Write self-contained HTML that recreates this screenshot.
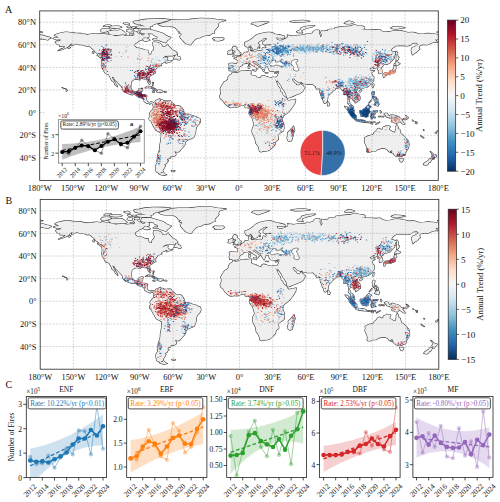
<!DOCTYPE html>
<html><head><meta charset="utf-8"><style>html,body{margin:0;padding:0;background:#fff;width:500px;height:502px;overflow:hidden}svg{display:block}</style></head>
<body><svg width="500" height="502" viewBox="0 0 500 502"><rect width="500" height="502" fill="#fff"/><clipPath id="clip1"><rect x="39.70" y="10.90" width="398.60" height="169.50"/></clipPath><g clip-path="url(#clip1)"><g transform="translate(39.700 10.900) scale(1.10722 1.13000)"><path d="M12.0 24.4L14.0 23.8L17.0 23.5L15.5 22.5L13.2 21.7L14.0 21.1L17.0 20.0L21.0 19.2L23.5 18.7L28.0 19.2L32.0 19.7L37.0 19.9L39.0 20.3L43.0 21.0L45.0 20.7L48.0 20.3L51.0 20.0L53.0 20.2L55.0 20.6L55.5 19.9L58.0 20.2L62.0 20.8L65.0 21.2L68.0 22.2L72.0 21.7L75.0 21.4L78.0 22.2L82.0 21.8L84.0 22.0L85.0 21.5L85.7 20.5L84.5 19.5L85.5 18.0L87.5 18.5L89.0 20.0L91.5 20.5L92.0 21.5L94.0 21.5L95.0 20.2L98.0 20.5L98.5 21.5L98.7 23.0L96.5 23.8L94.0 23.5L93.0 24.7L92.0 25.8L89.5 26.5L89.0 27.2L86.0 29.0L85.5 30.5L85.8 31.2L87.5 32.8L90.0 33.0L92.0 33.5L95.0 34.7L97.7 34.9L97.8 37.1L99.3 38.6L100.7 38.5L101.2 36.0L103.0 34.5L103.3 32.5L102.3 30.5L102.2 29.2L102.5 27.5L106.0 27.7L109.0 28.9L110.5 30.5L110.2 31.2L112.5 31.7L114.0 31.2L115.0 30.2L115.5 29.6L116.5 31.2L118.0 32.5L119.5 34.3L122.5 35.7L124.3 37.7L123.0 38.5L120.0 39.8L116.0 39.8L113.5 40.0L112.0 40.8L109.5 43.0L110.5 42.2L113.5 40.9L115.7 41.2L115.0 42.0L115.2 43.0L116.5 44.2L119.0 44.3L120.0 43.8L118.5 44.9L116.0 45.5L114.2 46.3L113.8 45.5L115.5 44.7L113.2 44.9L112.5 45.5L111.0 46.0L109.5 46.8L109.3 48.0L110.0 48.2L108.5 48.7L106.5 49.1L106.0 49.4L105.8 50.5L105.0 51.2L104.5 52.0L103.8 52.5L104.0 53.5L104.5 54.8L102.5 55.7L101.0 56.8L99.0 58.0L98.6 59.5L99.4 61.5L99.9 63.5L99.5 64.8L98.8 64.7L98.2 63.7L97.3 62.4L97.2 61.0L96.0 60.0L94.5 60.3L92.5 59.7L91.0 59.7L90.7 61.0L89.5 60.8L88.0 60.4L86.5 60.3L85.0 60.7L82.8 62.5L82.5 64.5L82.2 67.5L82.8 69.5L84.0 71.0L85.5 71.8L87.5 71.4L89.0 71.0L89.5 69.0L92.0 68.5L93.0 68.6L92.5 70.5L91.7 72.5L91.5 74.0L94.0 74.1L96.7 75.0L96.5 76.5L96.3 78.5L97.0 80.0L98.5 81.1L99.8 80.8L100.5 80.4L102.0 80.8L102.7 81.4L102.2 82.5L101.5 81.8L100.3 81.5L99.6 82.6L98.5 82.0L96.5 81.6L94.3 80.1L94.3 78.8L92.5 77.0L90.5 76.5L88.5 76.0L87.0 74.5L85.2 73.8L83.5 74.3L81.5 73.7L79.0 72.7L76.5 71.7L74.5 69.5L74.8 68.5L74.0 67.0L71.5 64.5L70.0 62.7L68.0 61.2L67.0 59.0L65.2 58.3L65.8 60.0L67.5 62.5L68.8 64.5L69.7 65.8L70.1 67.1L69.0 65.8L67.8 65.2L67.5 63.5L66.0 62.3L65.0 61.7L64.2 59.6L62.9 57.5L62.5 56.5L61.5 56.0L59.4 55.4L58.1 53.4L57.5 52.2L56.2 50.2L55.7 48.5L55.9 46.5L56.1 43.8L55.3 41.6L57.0 41.8L57.5 42.6L57.3 41.1L56.8 40.5L55.0 39.7L52.5 38.7L52.0 37.5L50.5 36.5L49.7 35.4L48.5 34.2L47.0 33.0L45.5 31.7L44.0 30.9L42.2 31.3L40.2 30.3L38.0 29.9L35.5 29.8L33.5 29.0L31.5 29.5L29.5 30.5L28.2 30.8L29.2 29.2L29.5 28.7L28.0 29.3L26.5 30.7L25.7 31.7L24.0 32.5L21.5 33.7L19.0 34.5L16.5 35.2L18.0 34.3L20.5 33.4L22.3 32.4L23.0 31.2L21.2 31.5L19.5 31.2L18.0 31.4L18.0 30.1L15.5 29.5L14.7 28.5L14.0 27.7L15.2 26.8L17.0 26.9L19.0 26.0L19.0 25.4L17.0 25.4L15.0 25.5L13.5 24.9L12.0 24.4ZM107.0 11.8L114.0 10.0L118.0 8.2L125.0 7.7L135.0 7.5L145.0 6.5L155.0 6.8L160.0 7.7L168.0 8.4L162.0 10.0L161.0 12.0L161.5 13.2L160.0 15.0L158.5 16.5L157.5 18.0L158.0 19.5L156.0 19.7L153.5 21.4L150.0 21.8L147.0 22.4L145.0 23.7L142.0 24.2L140.0 25.5L139.0 26.8L137.5 28.5L136.5 30.0L135.0 29.8L133.0 29.2L131.0 28.2L129.5 26.5L128.5 25.5L127.0 23.8L126.5 22.5L128.5 20.5L125.5 19.6L127.5 18.7L125.0 18.0L124.0 16.5L122.5 15.0L120.0 13.9L116.0 13.7L112.0 13.8L108.5 12.8L107.0 11.8ZM118.5 23.5L117.0 25.0L115.0 26.5L114.5 27.5L113.5 28.2L111.5 27.5L108.5 26.5L106.5 25.5L103.5 25.7L102.0 25.2L103.0 24.5L106.0 24.5L106.5 23.2L105.0 22.5L103.0 21.5L102.0 20.2L99.5 20.0L96.0 20.2L93.0 19.8L90.5 19.0L91.5 17.5L92.0 16.5L95.0 16.4L99.5 16.3L103.0 17.4L107.0 18.4L110.0 19.4L111.5 20.0L113.0 20.8L114.0 21.8L117.0 23.0L118.5 23.5ZM102.0 13.6L99.5 13.7L96.0 13.6L92.0 12.8L90.8 11.7L87.5 9.5L90.0 8.4L95.0 7.5L102.0 7.0L112.0 7.1L118.0 7.7L116.0 8.5L112.0 9.4L109.0 10.4L105.0 11.4L102.0 12.5L102.0 13.6ZM91.2 12.0L88.5 11.8L85.5 11.0L84.2 9.7L87.0 8.7L89.5 9.0L90.5 10.5L91.2 12.0ZM100.0 15.5L96.0 15.6L91.0 15.5L87.7 15.0L87.2 13.8L90.5 13.4L94.0 13.5L98.0 13.6L100.0 14.2L100.0 15.5ZM78.5 20.3L77.0 21.1L74.5 20.8L71.0 21.3L66.5 21.4L64.0 20.7L62.5 20.0L62.5 19.0L61.5 18.4L63.0 17.7L65.5 17.4L68.0 17.1L70.0 17.4L72.0 16.9L73.8 17.0L75.2 17.8L77.0 19.2L78.5 20.3ZM64.2 16.7L62.5 15.8L59.5 15.6L56.2 15.9L54.8 17.5L55.8 18.4L57.8 18.8L60.5 18.3L62.5 17.5L64.2 16.7ZM74.2 14.4L71.5 13.4L68.5 13.4L65.5 13.6L63.0 13.8L62.7 14.5L65.5 15.2L69.0 15.4L71.5 15.1L74.2 14.4ZM83.0 18.4L80.5 18.6L78.5 17.7L78.8 16.7L81.0 16.2L83.0 16.4L83.5 17.4L83.0 18.4ZM89.5 17.5L86.5 18.0L85.0 17.2L85.0 16.1L88.0 15.9L89.5 16.4L89.5 17.5ZM82.5 14.7L79.8 14.8L78.8 13.9L81.5 13.4L82.5 14.7ZM99.5 26.0L97.0 26.7L94.5 26.6L93.0 25.5L93.7 24.2L96.0 23.9L98.0 24.7L99.5 26.0ZM84.0 21.4L81.5 21.2L81.2 20.4L83.5 20.3L84.0 21.4ZM64.5 13.2L61.0 13.8L57.5 13.7L60.0 12.5L63.5 12.5L64.5 13.2ZM81.0 12.2L77.0 11.8L75.5 11.0L79.0 10.5L81.0 11.4L81.0 12.2ZM86.5 15.0L83.5 15.1L83.5 14.1L86.0 14.0L86.5 15.0ZM120.7 42.4L122.0 42.3L124.0 42.4L124.8 43.1L126.4 43.4L127.3 42.5L126.8 41.5L126.5 40.6L124.5 40.2L124.2 38.7L123.4 38.5L122.6 39.4L121.6 41.0L120.7 42.4ZM95.1 68.1L96.5 67.1L98.0 66.8L100.0 67.0L102.0 67.7L104.0 68.9L105.8 69.8L104.5 70.1L102.3 70.1L102.7 69.4L101.5 68.4L99.5 68.0L98.0 67.7L97.0 68.0L95.1 68.1ZM105.6 71.6L107.0 70.1L108.5 70.1L110.0 70.3L111.6 71.4L110.5 71.7L108.7 72.3L107.5 71.8L105.6 71.6ZM101.7 71.6L103.1 71.6L103.8 72.0L102.8 72.2L101.7 71.8L101.7 71.6ZM112.8 71.5L114.4 71.6L114.3 72.0L112.8 72.0L112.8 71.5ZM101.8 63.3L102.8 63.4L102.8 64.1L102.0 63.5L101.8 63.3ZM102.0 64.8L102.4 65.8L102.2 66.2L101.8 65.4L102.0 64.8ZM51.7 39.2L53.0 39.9L54.5 41.1L56.6 41.6L56.0 41.0L54.7 40.0L52.5 39.1L51.7 39.2ZM47.8 36.0L48.8 36.0L48.7 37.6L47.5 37.0L47.8 36.0ZM25.3 32.7L26.8 32.0L27.8 32.4L26.2 33.2L25.3 32.7ZM24.0 69.8L25.0 70.3L24.3 71.1L24.0 70.5L24.0 69.8ZM21.7 68.4L22.4 68.7L21.8 68.7L21.7 68.4ZM20.2 67.8L20.7 67.8L20.5 68.1L20.2 67.8ZM23.3 69.0L24.0 69.2L23.6 69.4L23.3 69.0ZM102.7 81.4L104.0 80.5L104.5 79.5L106.0 78.8L107.5 78.2L108.5 77.6L108.9 78.8L108.4 79.4L108.2 80.8L109.0 80.2L109.5 78.5L110.5 78.5L112.0 79.5L114.0 79.4L116.0 79.3L118.0 79.3L119.0 81.0L120.5 82.0L121.5 83.0L122.5 84.0L125.0 84.1L127.0 84.5L128.5 85.8L130.0 88.2L130.0 90.0L131.5 91.2L135.0 91.5L138.0 92.8L141.0 93.5L142.5 94.6L144.7 95.2L145.2 97.5L144.5 99.5L143.0 101.0L141.5 103.0L141.0 105.0L140.8 107.5L140.0 110.0L139.0 112.0L137.0 113.0L135.0 113.6L133.0 114.6L131.5 116.0L131.3 118.2L130.0 120.0L128.5 121.5L127.0 123.3L125.5 124.7L124.0 124.9L122.5 124.5L121.6 124.2L122.7 126.0L123.2 126.9L122.5 128.0L121.0 128.7L118.0 128.9L117.7 130.5L115.5 130.9L115.0 132.0L116.0 132.5L116.4 132.8L115.5 133.0L114.5 135.0L112.5 136.0L113.5 137.2L112.2 139.5L111.0 141.0L111.6 142.3L110.0 142.7L108.5 143.8L107.2 143.2L105.5 142.5L104.7 140.0L104.5 137.0L105.5 135.5L106.5 134.0L106.2 132.0L106.5 129.0L106.8 127.0L107.5 125.0L108.4 122.5L108.6 118.5L109.5 114.0L109.8 110.5L109.7 108.3L108.5 107.3L107.0 106.5L105.0 105.5L103.7 103.5L102.5 101.5L101.5 99.5L100.5 97.5L98.8 96.0L98.8 94.5L99.7 93.5L100.0 92.5L99.2 91.5L99.7 90.0L100.5 89.0L101.2 88.2L102.2 87.0L102.7 86.0L102.6 84.0L102.2 82.7L102.7 81.4ZM111.4 142.6L113.5 144.6L114.8 145.0L113.0 145.3L111.5 145.5L109.5 145.0L107.5 144.0L109.5 143.7L110.5 143.4L111.4 142.6ZM118.8 141.4L120.5 141.3L122.2 141.6L121.5 142.2L119.5 142.1L118.8 141.4ZM106.0 131.8L106.5 131.8L106.6 133.3L105.8 133.2L106.0 131.8ZM174.2 54.2L176.0 54.8L178.0 54.9L180.0 54.2L181.0 53.5L183.0 53.2L186.0 53.0L188.0 53.1L189.8 52.7L191.0 53.0L190.5 54.0L191.0 54.8L190.2 55.7L191.2 56.8L192.5 57.2L195.2 57.7L195.8 58.8L197.5 59.0L199.0 59.7L200.0 59.0L200.1 57.9L201.5 57.2L203.0 57.4L205.0 58.2L207.0 58.7L209.0 59.1L211.0 58.5L212.3 58.8L212.5 60.0L212.8 61.0L213.5 62.5L214.2 64.0L215.0 66.0L215.6 67.0L216.8 68.5L217.2 70.5L217.4 71.5L218.6 72.0L219.7 74.5L221.5 76.1L223.3 77.5L223.2 78.5L224.5 79.6L226.0 79.3L227.0 78.9L229.0 78.7L231.2 78.2L231.0 79.5L230.8 81.0L229.5 83.2L228.0 85.5L226.0 88.0L223.5 90.5L221.5 91.8L220.2 92.8L219.2 94.7L219.0 96.5L219.5 98.0L220.5 100.5L220.6 104.0L220.2 106.0L217.0 108.0L215.0 110.0L215.5 112.5L215.4 114.0L213.0 115.5L212.8 116.5L212.5 118.5L211.0 120.0L209.5 121.5L208.0 122.8L206.0 123.8L204.0 124.1L202.0 124.0L200.0 124.8L198.5 124.2L198.2 122.5L197.5 120.0L196.5 118.6L195.2 117.0L194.5 113.0L193.5 111.0L192.0 108.0L191.7 106.0L192.3 103.5L193.7 101.0L193.2 99.0L192.3 96.0L192.0 95.0L191.8 94.5L190.0 92.8L189.0 90.8L189.4 89.0L189.8 87.0L189.2 86.0L188.5 85.4L187.0 85.6L185.8 85.7L184.5 83.7L182.0 83.7L180.0 84.4L178.0 85.2L176.0 84.8L172.5 85.6L171.0 85.0L168.5 83.1L166.8 81.5L165.5 79.5L164.5 78.5L163.3 77.7L162.5 75.3L163.5 73.8L163.8 70.5L163.0 69.0L164.5 66.0L165.2 65.0L166.5 63.0L168.5 62.0L170.0 60.5L170.2 58.5L171.5 56.7L173.2 56.0L174.2 54.2ZM229.3 102.0L230.3 105.5L229.5 107.0L228.8 110.5L227.5 114.8L225.2 115.5L224.0 114.5L223.3 112.0L224.3 110.0L224.0 107.5L226.0 105.8L228.0 103.5L229.3 102.0ZM212.5 60.0L212.3 58.8L214.2 58.7L215.0 57.0L215.9 55.0L216.0 53.2L214.5 53.2L212.5 53.9L210.5 53.5L208.0 53.3L207.2 52.2L206.5 50.5L206.2 49.7L206.5 49.2L204.0 49.3L203.5 50.2L202.8 52.0L202.5 53.5L201.6 53.0L201.2 51.5L200.0 50.5L199.4 49.0L199.3 48.0L197.0 46.7L195.0 45.0L193.7 44.3L192.3 44.7L192.5 46.0L193.7 46.5L196.0 48.1L198.5 49.8L197.0 50.5L196.6 51.5L195.6 52.0L196.0 50.7L195.8 50.0L194.2 49.2L192.5 48.3L191.0 47.4L190.3 46.3L188.8 45.6L187.5 46.2L185.0 46.6L183.2 47.0L183.2 48.0L180.8 49.2L179.7 50.5L180.2 51.2L179.2 52.4L177.8 53.3L175.5 53.4L174.4 54.0L173.6 53.2L172.6 52.8L171.1 53.0L171.2 51.5L170.6 51.0L171.2 49.0L171.1 47.5L170.7 47.0L172.0 46.3L175.0 46.5L178.0 46.7L178.5 46.0L178.8 44.0L177.8 42.8L175.5 42.0L177.0 41.2L178.4 41.4L178.1 40.3L180.0 40.6L181.5 39.9L182.5 38.9L183.6 38.5L184.5 37.5L185.0 36.7L187.0 36.5L188.5 36.1L188.7 34.5L188.2 33.2L190.5 32.3L190.3 33.5L190.0 35.0L191.0 36.0L193.0 35.7L194.5 36.1L196.5 35.5L198.5 35.2L199.8 35.6L201.2 34.7L201.0 33.3L201.7 32.4L203.3 33.0L204.2 32.8L204.5 31.7L203.5 30.7L206.0 30.4L208.0 30.5L210.2 30.1L208.0 29.5L205.0 29.8L202.8 30.0L201.4 29.2L201.5 27.5L204.5 25.3L205.5 24.9L204.5 24.2L202.0 24.4L201.2 25.5L199.0 26.6L197.5 27.7L197.2 29.0L198.8 30.0L198.5 30.7L196.5 32.5L196.3 33.4L194.5 34.0L192.8 34.5L192.5 33.5L191.3 31.7L190.5 30.8L190.6 30.1L188.5 31.7L187.0 32.0L185.6 31.1L185.0 29.5L185.0 28.0L187.0 27.3L188.5 26.5L190.5 25.5L192.5 24.0L194.0 22.5L195.5 21.5L198.0 20.5L200.0 20.0L203.0 19.3L205.8 18.9L208.0 19.0L211.0 19.7L213.0 20.7L216.0 21.0L221.0 22.3L221.2 23.7L218.5 23.9L215.0 23.7L213.5 23.5L214.5 25.5L217.0 26.2L219.5 25.5L220.5 25.2L223.5 23.8L224.2 21.7L223.5 21.4L226.3 21.9L229.0 22.2L233.5 21.5L234.5 21.8L238.0 21.2L239.5 21.5L240.5 20.2L243.5 20.5L246.8 19.5L246.8 18.5L248.5 17.2L249.8 16.9L252.5 17.2L252.5 19.0L252.3 20.2L253.5 22.0L253.0 23.3L254.5 22.5L255.0 21.0L253.8 19.5L254.5 17.5L256.0 18.0L258.0 17.7L260.0 17.8L260.5 16.5L266.5 16.0L266.8 14.9L270.0 14.4L275.0 13.9L280.0 13.5L284.3 12.3L286.0 12.7L288.0 13.2L292.0 13.5L293.5 14.5L293.0 16.0L290.0 16.3L293.5 16.5L298.0 16.5L303.0 16.8L307.0 16.5L309.0 18.0L312.0 18.7L316.0 18.4L319.5 17.6L322.0 17.3L327.0 17.7L330.0 18.4L332.5 19.2L337.0 19.0L340.0 19.5L342.0 20.4L347.0 20.2L350.0 19.9L355.0 20.2L358.0 20.7L360.0 21.1L360.0 25.0L358.5 25.5L357.0 25.3L358.5 27.0L359.3 27.7L357.0 27.5L353.5 28.3L350.5 30.0L346.0 29.8L343.5 30.4L342.5 32.2L343.3 33.8L341.8 35.0L340.0 36.7L338.4 37.4L336.7 39.0L336.2 37.5L335.6 35.0L335.9 33.0L337.0 32.2L338.3 31.9L340.5 30.5L341.8 29.5L340.0 28.2L337.0 28.5L334.5 30.5L332.0 31.0L329.0 30.7L325.0 30.7L322.0 30.8L320.5 31.5L318.0 33.5L317.0 35.5L318.5 35.8L321.0 36.5L321.3 37.5L320.5 39.5L320.2 41.7L318.5 43.5L316.0 46.3L313.0 47.3L311.8 47.0L310.5 47.7L309.7 49.0L308.0 50.3L307.5 50.6L309.0 52.0L309.4 54.0L309.2 54.8L306.5 55.6L306.3 54.5L306.5 53.0L306.0 52.2L305.0 52.0L305.2 50.5L304.3 50.1L302.0 51.0L301.3 51.0L301.2 51.2L302.5 49.5L301.0 49.2L299.0 50.7L297.8 51.2L298.5 52.5L299.2 52.9L302.5 52.8L300.5 54.0L299.3 55.0L300.8 57.5L301.8 58.5L301.9 59.2L301.5 60.5L301.6 61.8L300.5 63.0L299.7 64.5L298.5 65.5L296.5 67.0L294.2 67.8L292.0 68.2L290.5 68.7L290.3 69.7L289.7 68.5L288.0 68.4L286.7 69.5L285.8 71.0L286.6 72.5L288.2 73.9L289.3 76.5L289.2 78.4L287.5 79.5L286.6 80.5L285.0 81.4L284.8 79.8L283.5 79.4L282.5 78.0L281.0 77.3L280.0 76.6L280.5 76.5L279.9 77.5L279.2 79.5L279.8 80.8L280.4 82.7L281.5 83.2L282.5 84.0L283.4 85.2L283.4 87.0L284.2 88.6L283.3 88.6L281.3 87.2L280.4 85.5L280.3 84.0L279.7 83.2L278.3 82.0L278.6 80.0L278.5 77.5L277.7 74.5L277.5 73.5L275.5 74.2L274.3 74.0L274.6 72.0L274.0 70.5L272.4 69.3L272.0 68.5L271.5 67.5L270.5 68.0L269.0 68.3L267.0 68.5L266.8 69.5L265.0 70.6L264.0 71.8L262.3 73.5L261.0 74.5L260.2 76.5L259.8 79.5L259.0 80.7L257.5 81.9L256.5 81.1L255.8 78.5L254.8 77.0L254.0 74.5L253.0 72.0L252.8 69.5L252.6 68.5L252.3 68.5L250.5 69.2L249.0 67.7L250.0 67.2L248.5 66.5L247.3 65.5L246.5 64.6L244.5 64.8L241.6 64.8L238.5 64.4L237.3 64.1L236.4 62.9L234.7 63.5L232.0 62.2L230.8 61.2L230.1 60.0L228.8 59.9L227.9 60.5L228.6 62.0L229.6 63.0L230.2 64.0L231.2 64.0L231.6 65.5L234.0 65.9L235.5 64.7L236.3 63.7L236.3 65.2L237.8 66.2L238.8 67.3L239.8 67.7L238.5 69.5L237.8 71.0L236.5 72.0L235.0 73.0L232.2 74.0L229.0 75.4L226.0 76.6L223.5 77.3L222.8 75.2L222.5 73.5L221.0 71.0L219.0 68.3L218.0 66.0L216.5 64.0L215.0 62.0L215.0 60.5L214.5 62.0L214.2 62.2L213.3 61.7L212.5 60.0ZM0.0 21.1L3.0 21.7L6.0 22.6L8.5 23.1L10.3 23.9L8.5 24.5L7.5 25.7L5.0 25.2L1.5 24.5L0.0 25.0ZM174.3 40.0L177.0 39.4L179.5 39.2L181.3 38.9L180.8 38.4L181.7 37.3L180.3 36.6L179.7 35.5L178.4 34.4L177.5 33.7L178.2 32.5L176.7 31.4L175.0 31.4L174.3 32.5L173.8 33.4L174.5 34.5L175.2 35.2L176.7 35.1L176.5 36.1L177.0 36.7L175.4 36.8L175.9 37.7L174.8 38.2L176.8 38.6L175.5 38.9L174.3 40.0ZM174.0 37.8L173.8 36.1L174.4 35.5L172.7 34.7L171.5 35.4L170.0 35.8L170.5 37.0L169.6 38.0L170.5 38.5L172.0 38.2L174.0 37.8ZM156.0 24.5L158.0 23.6L162.0 23.8L165.0 23.5L166.5 24.7L165.5 25.6L161.5 26.6L157.5 26.2L158.3 25.4L156.0 24.5ZM191.0 11.5L193.0 10.3L196.0 10.0L199.0 9.8L202.0 9.6L207.0 9.9L202.0 11.7L200.0 12.4L197.0 13.5L195.0 12.8L193.5 12.0L191.0 11.5ZM232.0 18.5L235.5 16.7L236.0 15.0L240.0 13.8L244.0 13.2L248.5 13.0L246.0 14.2L241.0 15.4L238.0 16.5L236.0 17.5L237.5 19.4L233.0 19.2L232.0 18.5ZM275.0 11.0L277.0 9.5L280.0 9.0L284.0 10.2L281.0 11.4L278.0 11.5L275.0 11.0ZM317.0 15.0L320.0 13.8L325.0 14.0L330.0 14.8L326.0 15.4L322.0 16.2L319.0 15.8L317.0 15.0ZM226.0 9.4L232.0 8.5L238.0 8.3L244.0 9.2L238.0 10.0L230.0 10.1L226.0 9.4ZM358.8 18.8L360.0 18.5L360.0 19.1L358.8 18.8ZM0.0 18.5L2.5 18.8L0.0 19.1ZM322.0 35.7L323.3 37.2L323.2 39.0L323.5 40.7L324.5 41.1L323.5 43.4L322.0 44.0L322.0 42.0L322.2 39.0L321.7 37.0L322.0 35.7ZM320.0 48.5L321.5 47.5L323.3 48.0L325.5 46.7L324.0 46.0L321.8 44.5L321.5 46.5L320.3 46.7L320.0 48.5ZM321.4 48.6L322.0 50.5L321.0 52.0L320.9 53.1L320.8 54.3L319.8 55.1L318.8 55.4L317.0 55.4L316.8 56.5L315.2 56.2L315.3 55.4L313.0 55.7L311.0 56.0L311.0 55.3L312.6 54.5L315.5 54.4L316.8 52.7L317.5 53.1L319.0 52.0L320.0 50.2L320.0 49.3L321.4 48.6ZM310.0 56.2L311.9 56.1L311.5 58.5L310.6 59.0L310.2 57.5L310.0 56.2ZM312.5 56.8L314.7 56.2L314.0 55.7L312.5 56.1L312.5 56.8ZM301.5 64.7L302.0 65.3L300.8 68.0L300.2 67.0L301.0 65.0L301.5 64.7ZM288.6 70.8L290.3 69.9L291.0 70.4L289.5 71.8L288.6 71.5L288.6 70.8ZM300.5 71.5L302.3 71.6L302.2 73.2L301.5 74.5L302.0 76.0L304.0 76.5L303.9 77.2L302.5 76.5L300.6 76.1L300.5 74.5L300.0 73.7L300.5 71.5ZM302.0 83.0L303.5 81.3L305.5 80.2L306.5 82.5L305.5 84.2L304.0 83.7L302.0 83.0ZM304.3 77.5L305.6 78.5L305.0 80.0L304.0 79.0L304.3 77.5ZM302.0 78.2L303.3 79.0L303.2 80.8L302.5 79.5L302.0 78.2ZM297.2 81.6L299.5 79.5L299.7 78.7L299.0 79.3L297.2 81.6ZM300.3 76.6L301.5 76.8L301.0 77.7L300.3 76.6ZM289.0 88.5L289.6 88.0L291.0 88.4L293.0 86.8L294.5 85.4L296.0 84.0L297.0 83.0L297.7 84.0L299.2 84.7L298.0 85.7L297.6 86.8L298.0 89.0L299.0 89.2L297.5 90.0L296.5 91.5L296.3 93.5L294.6 94.1L293.0 93.2L291.8 93.5L290.2 92.9L290.0 91.5L289.0 90.0L289.0 88.5ZM275.3 84.4L277.5 84.8L280.3 87.5L281.5 88.3L283.7 90.0L284.5 91.5L286.0 93.0L285.8 95.8L284.5 95.9L282.3 94.0L280.8 92.0L279.2 89.8L278.5 88.0L277.0 86.5L275.3 84.4ZM285.2 96.8L286.0 95.9L288.0 96.2L290.5 96.5L292.7 96.9L294.5 97.7L294.4 98.6L291.0 98.2L288.0 97.8L286.5 97.4L285.2 96.8ZM294.6 98.1L295.7 98.4L295.2 98.8L294.6 98.1ZM296.0 98.4L296.7 98.3L296.5 98.9L296.0 98.4ZM296.8 98.5L299.0 98.2L299.0 98.8L297.0 99.0L296.8 98.5ZM299.8 98.5L302.9 98.1L302.8 98.7L300.0 98.8L299.8 98.5ZM299.0 99.5L300.8 99.6L300.5 100.2L299.0 99.7L299.0 99.5ZM303.5 100.3L305.2 99.0L307.3 98.4L306.5 98.9L304.5 100.0L303.5 100.3ZM299.5 95.5L300.4 95.5L300.3 93.0L301.0 92.6L302.0 94.8L303.2 94.5L302.0 93.0L301.3 91.9L303.2 91.0L302.5 90.7L300.6 91.3L300.1 89.5L301.0 89.5L303.0 89.1L304.5 89.6L305.2 88.4L304.5 88.7L301.0 88.7L300.5 89.1L299.8 90.0L299.3 91.5L298.8 93.0L299.5 95.5ZM307.5 88.2L308.2 89.0L308.5 89.5L308.0 90.5L307.6 89.5L307.5 88.2ZM308.0 93.2L310.8 93.4L310.5 93.8L308.2 93.6L308.0 93.2ZM306.0 93.2L307.2 93.3L306.8 93.8L306.0 93.6L306.0 93.2ZM311.0 91.3L312.5 90.4L314.0 90.9L315.5 93.3L318.0 91.7L321.0 92.6L324.5 93.8L326.0 95.5L327.8 96.3L327.0 96.8L328.0 98.1L330.0 100.2L328.0 100.1L326.2 98.5L324.0 97.8L323.3 99.0L322.5 99.3L321.0 99.1L319.0 98.1L318.0 98.3L317.6 97.5L318.5 96.9L317.5 95.2L315.5 94.5L313.5 94.0L312.2 92.8L313.5 92.4L312.0 92.2L311.0 91.3ZM328.3 95.6L330.0 95.5L331.5 94.8L332.2 94.2L332.0 95.5L330.5 96.2L328.5 96.0L328.3 95.6ZM330.5 92.6L332.0 93.4L333.0 94.6L332.6 94.8L331.5 93.6L330.5 92.6ZM336.5 96.6L337.5 97.3L337.0 97.4L336.5 96.6ZM339.0 98.0L340.8 98.5L340.5 98.8L339.0 98.3L339.0 98.0ZM340.0 99.3L340.8 99.5L340.5 99.9L339.7 99.7L340.0 99.3ZM346.5 105.0L347.2 105.5L346.8 105.8L346.5 105.0ZM344.0 110.2L347.0 112.3L346.5 112.4L344.2 110.8L344.0 110.2ZM357.2 107.4L358.5 107.6L358.2 108.2L357.3 108.0L357.2 107.4ZM358.8 106.3L360.0 106.1L359.9 106.7L358.8 106.7L358.8 106.3ZM293.5 112.0L294.2 111.8L296.7 110.6L299.0 110.0L301.0 109.5L302.2 107.5L303.5 106.5L305.0 104.6L306.5 103.9L308.0 104.9L309.6 105.0L310.1 103.0L311.5 102.3L312.6 102.2L312.7 101.5L316.0 102.0L316.7 102.3L316.0 103.5L315.5 105.0L317.5 106.2L319.3 107.4L320.8 107.5L321.5 105.0L321.6 102.6L322.5 100.7L323.5 102.5L323.8 104.5L325.3 105.0L325.4 106.5L326.3 109.0L328.8 110.5L330.6 112.5L333.0 115.0L333.6 118.5L333.0 121.0L332.0 122.8L330.8 124.5L330.0 127.5L328.0 127.8L326.3 129.0L324.5 128.2L323.5 128.8L321.5 128.4L319.7 127.2L319.5 125.8L318.0 125.6L318.5 124.5L318.0 123.3L317.6 125.0L316.8 125.3L317.5 124.0L317.9 122.9L315.9 124.8L315.2 124.5L314.1 122.8L311.5 121.5L309.0 121.6L306.0 122.3L304.0 123.3L303.5 124.0L300.0 124.0L298.0 125.0L296.0 124.8L295.2 124.2L295.5 123.5L295.7 122.0L295.0 119.5L294.0 117.5L293.3 116.0L293.8 114.0L293.5 112.0ZM324.6 130.7L328.3 130.9L328.2 132.2L327.0 133.6L325.8 133.4L325.0 132.0L324.6 130.7ZM352.7 124.4L354.5 125.8L355.9 127.3L358.5 127.7L357.9 129.2L356.9 129.5L356.0 131.3L354.8 131.3L355.2 130.2L353.8 129.2L354.6 128.0L354.2 126.4L352.7 124.4ZM352.6 130.5L354.3 131.5L353.2 133.0L352.8 133.8L351.3 134.3L350.6 135.9L349.0 136.6L346.5 136.0L347.0 135.0L348.5 134.0L350.8 132.7L351.8 131.3L352.6 130.5ZM259.9 80.2L261.0 81.2L261.9 82.8L261.3 83.9L260.1 84.0L259.8 82.0L259.9 80.2ZM212.3 54.9L214.6 54.3L213.9 55.1L212.5 55.3L212.3 54.9ZM203.5 54.7L206.3 54.7L206.0 55.0L203.6 54.8L203.5 54.7ZM192.4 51.9L195.6 51.7L195.1 53.3L192.5 52.4L192.4 51.9ZM188.2 49.1L189.8 48.9L189.6 50.8L188.5 51.0L188.2 49.1ZM188.6 47.4L189.5 47.1L189.4 48.6L188.7 48.2L188.6 47.4ZM191.0 34.0L192.6 33.9L192.3 34.8L191.1 34.7L191.0 34.0ZM198.1 32.8L198.9 32.1L198.5 33.0L198.1 32.8Z" fill="#efefef" stroke="#383838" stroke-width="1.15" vector-effect="non-scaling-stroke" stroke-linejoin="round"/><path d="M12.0 24.4L14.0 23.8L17.0 23.5L15.5 22.5L13.2 21.7L14.0 21.1L17.0 20.0L21.0 19.2L23.5 18.7L28.0 19.2L32.0 19.7L37.0 19.9L39.0 20.3L43.0 21.0L45.0 20.7L48.0 20.3L51.0 20.0L53.0 20.2L55.0 20.6L55.5 19.9L58.0 20.2L62.0 20.8L65.0 21.2L68.0 22.2L72.0 21.7L75.0 21.4L78.0 22.2L82.0 21.8L84.0 22.0L85.0 21.5L85.7 20.5L84.5 19.5L85.5 18.0L87.5 18.5L89.0 20.0L91.5 20.5L92.0 21.5L94.0 21.5L95.0 20.2L98.0 20.5L98.5 21.5L98.7 23.0L96.5 23.8L94.0 23.5L93.0 24.7L92.0 25.8L89.5 26.5L89.0 27.2L86.0 29.0L85.5 30.5L85.8 31.2L87.5 32.8L90.0 33.0L92.0 33.5L95.0 34.7L97.7 34.9L97.8 37.1L99.3 38.6L100.7 38.5L101.2 36.0L103.0 34.5L103.3 32.5L102.3 30.5L102.2 29.2L102.5 27.5L106.0 27.7L109.0 28.9L110.5 30.5L110.2 31.2L112.5 31.7L114.0 31.2L115.0 30.2L115.5 29.6L116.5 31.2L118.0 32.5L119.5 34.3L122.5 35.7L124.3 37.7L123.0 38.5L120.0 39.8L116.0 39.8L113.5 40.0L112.0 40.8L109.5 43.0L110.5 42.2L113.5 40.9L115.7 41.2L115.0 42.0L115.2 43.0L116.5 44.2L119.0 44.3L120.0 43.8L118.5 44.9L116.0 45.5L114.2 46.3L113.8 45.5L115.5 44.7L113.2 44.9L112.5 45.5L111.0 46.0L109.5 46.8L109.3 48.0L110.0 48.2L108.5 48.7L106.5 49.1L106.0 49.4L105.8 50.5L105.0 51.2L104.5 52.0L103.8 52.5L104.0 53.5L104.5 54.8L102.5 55.7L101.0 56.8L99.0 58.0L98.6 59.5L99.4 61.5L99.9 63.5L99.5 64.8L98.8 64.7L98.2 63.7L97.3 62.4L97.2 61.0L96.0 60.0L94.5 60.3L92.5 59.7L91.0 59.7L90.7 61.0L89.5 60.8L88.0 60.4L86.5 60.3L85.0 60.7L82.8 62.5L82.5 64.5L82.2 67.5L82.8 69.5L84.0 71.0L85.5 71.8L87.5 71.4L89.0 71.0L89.5 69.0L92.0 68.5L93.0 68.6L92.5 70.5L91.7 72.5L91.5 74.0L94.0 74.1L96.7 75.0L96.5 76.5L96.3 78.5L97.0 80.0L98.5 81.1L99.8 80.8L100.5 80.4L102.0 80.8L102.7 81.4L102.2 82.5L101.5 81.8L100.3 81.5L99.6 82.6L98.5 82.0L96.5 81.6L94.3 80.1L94.3 78.8L92.5 77.0L90.5 76.5L88.5 76.0L87.0 74.5L85.2 73.8L83.5 74.3L81.5 73.7L79.0 72.7L76.5 71.7L74.5 69.5L74.8 68.5L74.0 67.0L71.5 64.5L70.0 62.7L68.0 61.2L67.0 59.0L65.2 58.3L65.8 60.0L67.5 62.5L68.8 64.5L69.7 65.8L70.1 67.1L69.0 65.8L67.8 65.2L67.5 63.5L66.0 62.3L65.0 61.7L64.2 59.6L62.9 57.5L62.5 56.5L61.5 56.0L59.4 55.4L58.1 53.4L57.5 52.2L56.2 50.2L55.7 48.5L55.9 46.5L56.1 43.8L55.3 41.6L57.0 41.8L57.5 42.6L57.3 41.1L56.8 40.5L55.0 39.7L52.5 38.7L52.0 37.5L50.5 36.5L49.7 35.4L48.5 34.2L47.0 33.0L45.5 31.7L44.0 30.9L42.2 31.3L40.2 30.3L38.0 29.9L35.5 29.8L33.5 29.0L31.5 29.5L29.5 30.5L28.2 30.8L29.2 29.2L29.5 28.7L28.0 29.3L26.5 30.7L25.7 31.7L24.0 32.5L21.5 33.7L19.0 34.5L16.5 35.2L18.0 34.3L20.5 33.4L22.3 32.4L23.0 31.2L21.2 31.5L19.5 31.2L18.0 31.4L18.0 30.1L15.5 29.5L14.7 28.5L14.0 27.7L15.2 26.8L17.0 26.9L19.0 26.0L19.0 25.4L17.0 25.4L15.0 25.5L13.5 24.9L12.0 24.4ZM107.0 11.8L114.0 10.0L118.0 8.2L125.0 7.7L135.0 7.5L145.0 6.5L155.0 6.8L160.0 7.7L168.0 8.4L162.0 10.0L161.0 12.0L161.5 13.2L160.0 15.0L158.5 16.5L157.5 18.0L158.0 19.5L156.0 19.7L153.5 21.4L150.0 21.8L147.0 22.4L145.0 23.7L142.0 24.2L140.0 25.5L139.0 26.8L137.5 28.5L136.5 30.0L135.0 29.8L133.0 29.2L131.0 28.2L129.5 26.5L128.5 25.5L127.0 23.8L126.5 22.5L128.5 20.5L125.5 19.6L127.5 18.7L125.0 18.0L124.0 16.5L122.5 15.0L120.0 13.9L116.0 13.7L112.0 13.8L108.5 12.8L107.0 11.8ZM118.5 23.5L117.0 25.0L115.0 26.5L114.5 27.5L113.5 28.2L111.5 27.5L108.5 26.5L106.5 25.5L103.5 25.7L102.0 25.2L103.0 24.5L106.0 24.5L106.5 23.2L105.0 22.5L103.0 21.5L102.0 20.2L99.5 20.0L96.0 20.2L93.0 19.8L90.5 19.0L91.5 17.5L92.0 16.5L95.0 16.4L99.5 16.3L103.0 17.4L107.0 18.4L110.0 19.4L111.5 20.0L113.0 20.8L114.0 21.8L117.0 23.0L118.5 23.5ZM102.0 13.6L99.5 13.7L96.0 13.6L92.0 12.8L90.8 11.7L87.5 9.5L90.0 8.4L95.0 7.5L102.0 7.0L112.0 7.1L118.0 7.7L116.0 8.5L112.0 9.4L109.0 10.4L105.0 11.4L102.0 12.5L102.0 13.6ZM91.2 12.0L88.5 11.8L85.5 11.0L84.2 9.7L87.0 8.7L89.5 9.0L90.5 10.5L91.2 12.0ZM100.0 15.5L96.0 15.6L91.0 15.5L87.7 15.0L87.2 13.8L90.5 13.4L94.0 13.5L98.0 13.6L100.0 14.2L100.0 15.5ZM78.5 20.3L77.0 21.1L74.5 20.8L71.0 21.3L66.5 21.4L64.0 20.7L62.5 20.0L62.5 19.0L61.5 18.4L63.0 17.7L65.5 17.4L68.0 17.1L70.0 17.4L72.0 16.9L73.8 17.0L75.2 17.8L77.0 19.2L78.5 20.3ZM64.2 16.7L62.5 15.8L59.5 15.6L56.2 15.9L54.8 17.5L55.8 18.4L57.8 18.8L60.5 18.3L62.5 17.5L64.2 16.7ZM74.2 14.4L71.5 13.4L68.5 13.4L65.5 13.6L63.0 13.8L62.7 14.5L65.5 15.2L69.0 15.4L71.5 15.1L74.2 14.4ZM83.0 18.4L80.5 18.6L78.5 17.7L78.8 16.7L81.0 16.2L83.0 16.4L83.5 17.4L83.0 18.4ZM89.5 17.5L86.5 18.0L85.0 17.2L85.0 16.1L88.0 15.9L89.5 16.4L89.5 17.5ZM82.5 14.7L79.8 14.8L78.8 13.9L81.5 13.4L82.5 14.7ZM99.5 26.0L97.0 26.7L94.5 26.6L93.0 25.5L93.7 24.2L96.0 23.9L98.0 24.7L99.5 26.0ZM84.0 21.4L81.5 21.2L81.2 20.4L83.5 20.3L84.0 21.4ZM64.5 13.2L61.0 13.8L57.5 13.7L60.0 12.5L63.5 12.5L64.5 13.2ZM81.0 12.2L77.0 11.8L75.5 11.0L79.0 10.5L81.0 11.4L81.0 12.2ZM86.5 15.0L83.5 15.1L83.5 14.1L86.0 14.0L86.5 15.0ZM120.7 42.4L122.0 42.3L124.0 42.4L124.8 43.1L126.4 43.4L127.3 42.5L126.8 41.5L126.5 40.6L124.5 40.2L124.2 38.7L123.4 38.5L122.6 39.4L121.6 41.0L120.7 42.4ZM95.1 68.1L96.5 67.1L98.0 66.8L100.0 67.0L102.0 67.7L104.0 68.9L105.8 69.8L104.5 70.1L102.3 70.1L102.7 69.4L101.5 68.4L99.5 68.0L98.0 67.7L97.0 68.0L95.1 68.1ZM105.6 71.6L107.0 70.1L108.5 70.1L110.0 70.3L111.6 71.4L110.5 71.7L108.7 72.3L107.5 71.8L105.6 71.6ZM101.7 71.6L103.1 71.6L103.8 72.0L102.8 72.2L101.7 71.8L101.7 71.6ZM112.8 71.5L114.4 71.6L114.3 72.0L112.8 72.0L112.8 71.5ZM101.8 63.3L102.8 63.4L102.8 64.1L102.0 63.5L101.8 63.3ZM102.0 64.8L102.4 65.8L102.2 66.2L101.8 65.4L102.0 64.8ZM51.7 39.2L53.0 39.9L54.5 41.1L56.6 41.6L56.0 41.0L54.7 40.0L52.5 39.1L51.7 39.2ZM47.8 36.0L48.8 36.0L48.7 37.6L47.5 37.0L47.8 36.0ZM25.3 32.7L26.8 32.0L27.8 32.4L26.2 33.2L25.3 32.7ZM24.0 69.8L25.0 70.3L24.3 71.1L24.0 70.5L24.0 69.8ZM21.7 68.4L22.4 68.7L21.8 68.7L21.7 68.4ZM20.2 67.8L20.7 67.8L20.5 68.1L20.2 67.8ZM23.3 69.0L24.0 69.2L23.6 69.4L23.3 69.0ZM102.7 81.4L104.0 80.5L104.5 79.5L106.0 78.8L107.5 78.2L108.5 77.6L108.9 78.8L108.4 79.4L108.2 80.8L109.0 80.2L109.5 78.5L110.5 78.5L112.0 79.5L114.0 79.4L116.0 79.3L118.0 79.3L119.0 81.0L120.5 82.0L121.5 83.0L122.5 84.0L125.0 84.1L127.0 84.5L128.5 85.8L130.0 88.2L130.0 90.0L131.5 91.2L135.0 91.5L138.0 92.8L141.0 93.5L142.5 94.6L144.7 95.2L145.2 97.5L144.5 99.5L143.0 101.0L141.5 103.0L141.0 105.0L140.8 107.5L140.0 110.0L139.0 112.0L137.0 113.0L135.0 113.6L133.0 114.6L131.5 116.0L131.3 118.2L130.0 120.0L128.5 121.5L127.0 123.3L125.5 124.7L124.0 124.9L122.5 124.5L121.6 124.2L122.7 126.0L123.2 126.9L122.5 128.0L121.0 128.7L118.0 128.9L117.7 130.5L115.5 130.9L115.0 132.0L116.0 132.5L116.4 132.8L115.5 133.0L114.5 135.0L112.5 136.0L113.5 137.2L112.2 139.5L111.0 141.0L111.6 142.3L110.0 142.7L108.5 143.8L107.2 143.2L105.5 142.5L104.7 140.0L104.5 137.0L105.5 135.5L106.5 134.0L106.2 132.0L106.5 129.0L106.8 127.0L107.5 125.0L108.4 122.5L108.6 118.5L109.5 114.0L109.8 110.5L109.7 108.3L108.5 107.3L107.0 106.5L105.0 105.5L103.7 103.5L102.5 101.5L101.5 99.5L100.5 97.5L98.8 96.0L98.8 94.5L99.7 93.5L100.0 92.5L99.2 91.5L99.7 90.0L100.5 89.0L101.2 88.2L102.2 87.0L102.7 86.0L102.6 84.0L102.2 82.7L102.7 81.4ZM111.4 142.6L113.5 144.6L114.8 145.0L113.0 145.3L111.5 145.5L109.5 145.0L107.5 144.0L109.5 143.7L110.5 143.4L111.4 142.6ZM118.8 141.4L120.5 141.3L122.2 141.6L121.5 142.2L119.5 142.1L118.8 141.4ZM106.0 131.8L106.5 131.8L106.6 133.3L105.8 133.2L106.0 131.8ZM174.2 54.2L176.0 54.8L178.0 54.9L180.0 54.2L181.0 53.5L183.0 53.2L186.0 53.0L188.0 53.1L189.8 52.7L191.0 53.0L190.5 54.0L191.0 54.8L190.2 55.7L191.2 56.8L192.5 57.2L195.2 57.7L195.8 58.8L197.5 59.0L199.0 59.7L200.0 59.0L200.1 57.9L201.5 57.2L203.0 57.4L205.0 58.2L207.0 58.7L209.0 59.1L211.0 58.5L212.3 58.8L212.5 60.0L212.8 61.0L213.5 62.5L214.2 64.0L215.0 66.0L215.6 67.0L216.8 68.5L217.2 70.5L217.4 71.5L218.6 72.0L219.7 74.5L221.5 76.1L223.3 77.5L223.2 78.5L224.5 79.6L226.0 79.3L227.0 78.9L229.0 78.7L231.2 78.2L231.0 79.5L230.8 81.0L229.5 83.2L228.0 85.5L226.0 88.0L223.5 90.5L221.5 91.8L220.2 92.8L219.2 94.7L219.0 96.5L219.5 98.0L220.5 100.5L220.6 104.0L220.2 106.0L217.0 108.0L215.0 110.0L215.5 112.5L215.4 114.0L213.0 115.5L212.8 116.5L212.5 118.5L211.0 120.0L209.5 121.5L208.0 122.8L206.0 123.8L204.0 124.1L202.0 124.0L200.0 124.8L198.5 124.2L198.2 122.5L197.5 120.0L196.5 118.6L195.2 117.0L194.5 113.0L193.5 111.0L192.0 108.0L191.7 106.0L192.3 103.5L193.7 101.0L193.2 99.0L192.3 96.0L192.0 95.0L191.8 94.5L190.0 92.8L189.0 90.8L189.4 89.0L189.8 87.0L189.2 86.0L188.5 85.4L187.0 85.6L185.8 85.7L184.5 83.7L182.0 83.7L180.0 84.4L178.0 85.2L176.0 84.8L172.5 85.6L171.0 85.0L168.5 83.1L166.8 81.5L165.5 79.5L164.5 78.5L163.3 77.7L162.5 75.3L163.5 73.8L163.8 70.5L163.0 69.0L164.5 66.0L165.2 65.0L166.5 63.0L168.5 62.0L170.0 60.5L170.2 58.5L171.5 56.7L173.2 56.0L174.2 54.2ZM229.3 102.0L230.3 105.5L229.5 107.0L228.8 110.5L227.5 114.8L225.2 115.5L224.0 114.5L223.3 112.0L224.3 110.0L224.0 107.5L226.0 105.8L228.0 103.5L229.3 102.0ZM212.5 60.0L212.3 58.8L214.2 58.7L215.0 57.0L215.9 55.0L216.0 53.2L214.5 53.2L212.5 53.9L210.5 53.5L208.0 53.3L207.2 52.2L206.5 50.5L206.2 49.7L206.5 49.2L204.0 49.3L203.5 50.2L202.8 52.0L202.5 53.5L201.6 53.0L201.2 51.5L200.0 50.5L199.4 49.0L199.3 48.0L197.0 46.7L195.0 45.0L193.7 44.3L192.3 44.7L192.5 46.0L193.7 46.5L196.0 48.1L198.5 49.8L197.0 50.5L196.6 51.5L195.6 52.0L196.0 50.7L195.8 50.0L194.2 49.2L192.5 48.3L191.0 47.4L190.3 46.3L188.8 45.6L187.5 46.2L185.0 46.6L183.2 47.0L183.2 48.0L180.8 49.2L179.7 50.5L180.2 51.2L179.2 52.4L177.8 53.3L175.5 53.4L174.4 54.0L173.6 53.2L172.6 52.8L171.1 53.0L171.2 51.5L170.6 51.0L171.2 49.0L171.1 47.5L170.7 47.0L172.0 46.3L175.0 46.5L178.0 46.7L178.5 46.0L178.8 44.0L177.8 42.8L175.5 42.0L177.0 41.2L178.4 41.4L178.1 40.3L180.0 40.6L181.5 39.9L182.5 38.9L183.6 38.5L184.5 37.5L185.0 36.7L187.0 36.5L188.5 36.1L188.7 34.5L188.2 33.2L190.5 32.3L190.3 33.5L190.0 35.0L191.0 36.0L193.0 35.7L194.5 36.1L196.5 35.5L198.5 35.2L199.8 35.6L201.2 34.7L201.0 33.3L201.7 32.4L203.3 33.0L204.2 32.8L204.5 31.7L203.5 30.7L206.0 30.4L208.0 30.5L210.2 30.1L208.0 29.5L205.0 29.8L202.8 30.0L201.4 29.2L201.5 27.5L204.5 25.3L205.5 24.9L204.5 24.2L202.0 24.4L201.2 25.5L199.0 26.6L197.5 27.7L197.2 29.0L198.8 30.0L198.5 30.7L196.5 32.5L196.3 33.4L194.5 34.0L192.8 34.5L192.5 33.5L191.3 31.7L190.5 30.8L190.6 30.1L188.5 31.7L187.0 32.0L185.6 31.1L185.0 29.5L185.0 28.0L187.0 27.3L188.5 26.5L190.5 25.5L192.5 24.0L194.0 22.5L195.5 21.5L198.0 20.5L200.0 20.0L203.0 19.3L205.8 18.9L208.0 19.0L211.0 19.7L213.0 20.7L216.0 21.0L221.0 22.3L221.2 23.7L218.5 23.9L215.0 23.7L213.5 23.5L214.5 25.5L217.0 26.2L219.5 25.5L220.5 25.2L223.5 23.8L224.2 21.7L223.5 21.4L226.3 21.9L229.0 22.2L233.5 21.5L234.5 21.8L238.0 21.2L239.5 21.5L240.5 20.2L243.5 20.5L246.8 19.5L246.8 18.5L248.5 17.2L249.8 16.9L252.5 17.2L252.5 19.0L252.3 20.2L253.5 22.0L253.0 23.3L254.5 22.5L255.0 21.0L253.8 19.5L254.5 17.5L256.0 18.0L258.0 17.7L260.0 17.8L260.5 16.5L266.5 16.0L266.8 14.9L270.0 14.4L275.0 13.9L280.0 13.5L284.3 12.3L286.0 12.7L288.0 13.2L292.0 13.5L293.5 14.5L293.0 16.0L290.0 16.3L293.5 16.5L298.0 16.5L303.0 16.8L307.0 16.5L309.0 18.0L312.0 18.7L316.0 18.4L319.5 17.6L322.0 17.3L327.0 17.7L330.0 18.4L332.5 19.2L337.0 19.0L340.0 19.5L342.0 20.4L347.0 20.2L350.0 19.9L355.0 20.2L358.0 20.7L360.0 21.1L360.0 25.0L358.5 25.5L357.0 25.3L358.5 27.0L359.3 27.7L357.0 27.5L353.5 28.3L350.5 30.0L346.0 29.8L343.5 30.4L342.5 32.2L343.3 33.8L341.8 35.0L340.0 36.7L338.4 37.4L336.7 39.0L336.2 37.5L335.6 35.0L335.9 33.0L337.0 32.2L338.3 31.9L340.5 30.5L341.8 29.5L340.0 28.2L337.0 28.5L334.5 30.5L332.0 31.0L329.0 30.7L325.0 30.7L322.0 30.8L320.5 31.5L318.0 33.5L317.0 35.5L318.5 35.8L321.0 36.5L321.3 37.5L320.5 39.5L320.2 41.7L318.5 43.5L316.0 46.3L313.0 47.3L311.8 47.0L310.5 47.7L309.7 49.0L308.0 50.3L307.5 50.6L309.0 52.0L309.4 54.0L309.2 54.8L306.5 55.6L306.3 54.5L306.5 53.0L306.0 52.2L305.0 52.0L305.2 50.5L304.3 50.1L302.0 51.0L301.3 51.0L301.2 51.2L302.5 49.5L301.0 49.2L299.0 50.7L297.8 51.2L298.5 52.5L299.2 52.9L302.5 52.8L300.5 54.0L299.3 55.0L300.8 57.5L301.8 58.5L301.9 59.2L301.5 60.5L301.6 61.8L300.5 63.0L299.7 64.5L298.5 65.5L296.5 67.0L294.2 67.8L292.0 68.2L290.5 68.7L290.3 69.7L289.7 68.5L288.0 68.4L286.7 69.5L285.8 71.0L286.6 72.5L288.2 73.9L289.3 76.5L289.2 78.4L287.5 79.5L286.6 80.5L285.0 81.4L284.8 79.8L283.5 79.4L282.5 78.0L281.0 77.3L280.0 76.6L280.5 76.5L279.9 77.5L279.2 79.5L279.8 80.8L280.4 82.7L281.5 83.2L282.5 84.0L283.4 85.2L283.4 87.0L284.2 88.6L283.3 88.6L281.3 87.2L280.4 85.5L280.3 84.0L279.7 83.2L278.3 82.0L278.6 80.0L278.5 77.5L277.7 74.5L277.5 73.5L275.5 74.2L274.3 74.0L274.6 72.0L274.0 70.5L272.4 69.3L272.0 68.5L271.5 67.5L270.5 68.0L269.0 68.3L267.0 68.5L266.8 69.5L265.0 70.6L264.0 71.8L262.3 73.5L261.0 74.5L260.2 76.5L259.8 79.5L259.0 80.7L257.5 81.9L256.5 81.1L255.8 78.5L254.8 77.0L254.0 74.5L253.0 72.0L252.8 69.5L252.6 68.5L252.3 68.5L250.5 69.2L249.0 67.7L250.0 67.2L248.5 66.5L247.3 65.5L246.5 64.6L244.5 64.8L241.6 64.8L238.5 64.4L237.3 64.1L236.4 62.9L234.7 63.5L232.0 62.2L230.8 61.2L230.1 60.0L228.8 59.9L227.9 60.5L228.6 62.0L229.6 63.0L230.2 64.0L231.2 64.0L231.6 65.5L234.0 65.9L235.5 64.7L236.3 63.7L236.3 65.2L237.8 66.2L238.8 67.3L239.8 67.7L238.5 69.5L237.8 71.0L236.5 72.0L235.0 73.0L232.2 74.0L229.0 75.4L226.0 76.6L223.5 77.3L222.8 75.2L222.5 73.5L221.0 71.0L219.0 68.3L218.0 66.0L216.5 64.0L215.0 62.0L215.0 60.5L214.5 62.0L214.2 62.2L213.3 61.7L212.5 60.0ZM0.0 21.1L3.0 21.7L6.0 22.6L8.5 23.1L10.3 23.9L8.5 24.5L7.5 25.7L5.0 25.2L1.5 24.5L0.0 25.0ZM174.3 40.0L177.0 39.4L179.5 39.2L181.3 38.9L180.8 38.4L181.7 37.3L180.3 36.6L179.7 35.5L178.4 34.4L177.5 33.7L178.2 32.5L176.7 31.4L175.0 31.4L174.3 32.5L173.8 33.4L174.5 34.5L175.2 35.2L176.7 35.1L176.5 36.1L177.0 36.7L175.4 36.8L175.9 37.7L174.8 38.2L176.8 38.6L175.5 38.9L174.3 40.0ZM174.0 37.8L173.8 36.1L174.4 35.5L172.7 34.7L171.5 35.4L170.0 35.8L170.5 37.0L169.6 38.0L170.5 38.5L172.0 38.2L174.0 37.8ZM156.0 24.5L158.0 23.6L162.0 23.8L165.0 23.5L166.5 24.7L165.5 25.6L161.5 26.6L157.5 26.2L158.3 25.4L156.0 24.5ZM191.0 11.5L193.0 10.3L196.0 10.0L199.0 9.8L202.0 9.6L207.0 9.9L202.0 11.7L200.0 12.4L197.0 13.5L195.0 12.8L193.5 12.0L191.0 11.5ZM232.0 18.5L235.5 16.7L236.0 15.0L240.0 13.8L244.0 13.2L248.5 13.0L246.0 14.2L241.0 15.4L238.0 16.5L236.0 17.5L237.5 19.4L233.0 19.2L232.0 18.5ZM275.0 11.0L277.0 9.5L280.0 9.0L284.0 10.2L281.0 11.4L278.0 11.5L275.0 11.0ZM317.0 15.0L320.0 13.8L325.0 14.0L330.0 14.8L326.0 15.4L322.0 16.2L319.0 15.8L317.0 15.0ZM226.0 9.4L232.0 8.5L238.0 8.3L244.0 9.2L238.0 10.0L230.0 10.1L226.0 9.4ZM358.8 18.8L360.0 18.5L360.0 19.1L358.8 18.8ZM0.0 18.5L2.5 18.8L0.0 19.1ZM322.0 35.7L323.3 37.2L323.2 39.0L323.5 40.7L324.5 41.1L323.5 43.4L322.0 44.0L322.0 42.0L322.2 39.0L321.7 37.0L322.0 35.7ZM320.0 48.5L321.5 47.5L323.3 48.0L325.5 46.7L324.0 46.0L321.8 44.5L321.5 46.5L320.3 46.7L320.0 48.5ZM321.4 48.6L322.0 50.5L321.0 52.0L320.9 53.1L320.8 54.3L319.8 55.1L318.8 55.4L317.0 55.4L316.8 56.5L315.2 56.2L315.3 55.4L313.0 55.7L311.0 56.0L311.0 55.3L312.6 54.5L315.5 54.4L316.8 52.7L317.5 53.1L319.0 52.0L320.0 50.2L320.0 49.3L321.4 48.6ZM310.0 56.2L311.9 56.1L311.5 58.5L310.6 59.0L310.2 57.5L310.0 56.2ZM312.5 56.8L314.7 56.2L314.0 55.7L312.5 56.1L312.5 56.8ZM301.5 64.7L302.0 65.3L300.8 68.0L300.2 67.0L301.0 65.0L301.5 64.7ZM288.6 70.8L290.3 69.9L291.0 70.4L289.5 71.8L288.6 71.5L288.6 70.8ZM300.5 71.5L302.3 71.6L302.2 73.2L301.5 74.5L302.0 76.0L304.0 76.5L303.9 77.2L302.5 76.5L300.6 76.1L300.5 74.5L300.0 73.7L300.5 71.5ZM302.0 83.0L303.5 81.3L305.5 80.2L306.5 82.5L305.5 84.2L304.0 83.7L302.0 83.0ZM304.3 77.5L305.6 78.5L305.0 80.0L304.0 79.0L304.3 77.5ZM302.0 78.2L303.3 79.0L303.2 80.8L302.5 79.5L302.0 78.2ZM297.2 81.6L299.5 79.5L299.7 78.7L299.0 79.3L297.2 81.6ZM300.3 76.6L301.5 76.8L301.0 77.7L300.3 76.6ZM289.0 88.5L289.6 88.0L291.0 88.4L293.0 86.8L294.5 85.4L296.0 84.0L297.0 83.0L297.7 84.0L299.2 84.7L298.0 85.7L297.6 86.8L298.0 89.0L299.0 89.2L297.5 90.0L296.5 91.5L296.3 93.5L294.6 94.1L293.0 93.2L291.8 93.5L290.2 92.9L290.0 91.5L289.0 90.0L289.0 88.5ZM275.3 84.4L277.5 84.8L280.3 87.5L281.5 88.3L283.7 90.0L284.5 91.5L286.0 93.0L285.8 95.8L284.5 95.9L282.3 94.0L280.8 92.0L279.2 89.8L278.5 88.0L277.0 86.5L275.3 84.4ZM285.2 96.8L286.0 95.9L288.0 96.2L290.5 96.5L292.7 96.9L294.5 97.7L294.4 98.6L291.0 98.2L288.0 97.8L286.5 97.4L285.2 96.8ZM294.6 98.1L295.7 98.4L295.2 98.8L294.6 98.1ZM296.0 98.4L296.7 98.3L296.5 98.9L296.0 98.4ZM296.8 98.5L299.0 98.2L299.0 98.8L297.0 99.0L296.8 98.5ZM299.8 98.5L302.9 98.1L302.8 98.7L300.0 98.8L299.8 98.5ZM299.0 99.5L300.8 99.6L300.5 100.2L299.0 99.7L299.0 99.5ZM303.5 100.3L305.2 99.0L307.3 98.4L306.5 98.9L304.5 100.0L303.5 100.3ZM299.5 95.5L300.4 95.5L300.3 93.0L301.0 92.6L302.0 94.8L303.2 94.5L302.0 93.0L301.3 91.9L303.2 91.0L302.5 90.7L300.6 91.3L300.1 89.5L301.0 89.5L303.0 89.1L304.5 89.6L305.2 88.4L304.5 88.7L301.0 88.7L300.5 89.1L299.8 90.0L299.3 91.5L298.8 93.0L299.5 95.5ZM307.5 88.2L308.2 89.0L308.5 89.5L308.0 90.5L307.6 89.5L307.5 88.2ZM308.0 93.2L310.8 93.4L310.5 93.8L308.2 93.6L308.0 93.2ZM306.0 93.2L307.2 93.3L306.8 93.8L306.0 93.6L306.0 93.2ZM311.0 91.3L312.5 90.4L314.0 90.9L315.5 93.3L318.0 91.7L321.0 92.6L324.5 93.8L326.0 95.5L327.8 96.3L327.0 96.8L328.0 98.1L330.0 100.2L328.0 100.1L326.2 98.5L324.0 97.8L323.3 99.0L322.5 99.3L321.0 99.1L319.0 98.1L318.0 98.3L317.6 97.5L318.5 96.9L317.5 95.2L315.5 94.5L313.5 94.0L312.2 92.8L313.5 92.4L312.0 92.2L311.0 91.3ZM328.3 95.6L330.0 95.5L331.5 94.8L332.2 94.2L332.0 95.5L330.5 96.2L328.5 96.0L328.3 95.6ZM330.5 92.6L332.0 93.4L333.0 94.6L332.6 94.8L331.5 93.6L330.5 92.6ZM336.5 96.6L337.5 97.3L337.0 97.4L336.5 96.6ZM339.0 98.0L340.8 98.5L340.5 98.8L339.0 98.3L339.0 98.0ZM340.0 99.3L340.8 99.5L340.5 99.9L339.7 99.7L340.0 99.3ZM346.5 105.0L347.2 105.5L346.8 105.8L346.5 105.0ZM344.0 110.2L347.0 112.3L346.5 112.4L344.2 110.8L344.0 110.2ZM357.2 107.4L358.5 107.6L358.2 108.2L357.3 108.0L357.2 107.4ZM358.8 106.3L360.0 106.1L359.9 106.7L358.8 106.7L358.8 106.3ZM293.5 112.0L294.2 111.8L296.7 110.6L299.0 110.0L301.0 109.5L302.2 107.5L303.5 106.5L305.0 104.6L306.5 103.9L308.0 104.9L309.6 105.0L310.1 103.0L311.5 102.3L312.6 102.2L312.7 101.5L316.0 102.0L316.7 102.3L316.0 103.5L315.5 105.0L317.5 106.2L319.3 107.4L320.8 107.5L321.5 105.0L321.6 102.6L322.5 100.7L323.5 102.5L323.8 104.5L325.3 105.0L325.4 106.5L326.3 109.0L328.8 110.5L330.6 112.5L333.0 115.0L333.6 118.5L333.0 121.0L332.0 122.8L330.8 124.5L330.0 127.5L328.0 127.8L326.3 129.0L324.5 128.2L323.5 128.8L321.5 128.4L319.7 127.2L319.5 125.8L318.0 125.6L318.5 124.5L318.0 123.3L317.6 125.0L316.8 125.3L317.5 124.0L317.9 122.9L315.9 124.8L315.2 124.5L314.1 122.8L311.5 121.5L309.0 121.6L306.0 122.3L304.0 123.3L303.5 124.0L300.0 124.0L298.0 125.0L296.0 124.8L295.2 124.2L295.5 123.5L295.7 122.0L295.0 119.5L294.0 117.5L293.3 116.0L293.8 114.0L293.5 112.0ZM324.6 130.7L328.3 130.9L328.2 132.2L327.0 133.6L325.8 133.4L325.0 132.0L324.6 130.7ZM352.7 124.4L354.5 125.8L355.9 127.3L358.5 127.7L357.9 129.2L356.9 129.5L356.0 131.3L354.8 131.3L355.2 130.2L353.8 129.2L354.6 128.0L354.2 126.4L352.7 124.4ZM352.6 130.5L354.3 131.5L353.2 133.0L352.8 133.8L351.3 134.3L350.6 135.9L349.0 136.6L346.5 136.0L347.0 135.0L348.5 134.0L350.8 132.7L351.8 131.3L352.6 130.5ZM259.9 80.2L261.0 81.2L261.9 82.8L261.3 83.9L260.1 84.0L259.8 82.0L259.9 80.2ZM212.3 54.9L214.6 54.3L213.9 55.1L212.5 55.3L212.3 54.9ZM203.5 54.7L206.3 54.7L206.0 55.0L203.6 54.8L203.5 54.7ZM192.4 51.9L195.6 51.7L195.1 53.3L192.5 52.4L192.4 51.9ZM188.2 49.1L189.8 48.9L189.6 50.8L188.5 51.0L188.2 49.1ZM188.6 47.4L189.5 47.1L189.4 48.6L188.7 48.2L188.6 47.4ZM191.0 34.0L192.6 33.9L192.3 34.8L191.1 34.7L191.0 34.0ZM198.1 32.8L198.9 32.1L198.5 33.0L198.1 32.8Z" fill="#efefef" stroke="none"/><path d="M207.5 47.5L208.0 46.5L208.6 45.7L209.7 44.8L210.7 43.5L211.7 43.4L213.5 44.0L212.5 44.7L213.5 45.5L215.0 45.2L216.5 44.7L218.0 42.9L219.2 42.8L218.0 44.0L217.5 45.3L219.0 46.0L221.6 48.0L220.0 49.0L217.0 48.9L215.0 48.0L213.0 48.1L211.0 48.8L209.0 48.8L208.0 48.3L207.5 47.5ZM227.0 46.5L227.5 44.5L229.2 43.5L231.0 43.0L233.0 43.2L233.1 44.5L231.3 45.6L232.5 48.0L233.0 49.5L234.0 51.0L233.9 52.7L232.0 53.4L230.5 52.9L229.1 52.2L229.5 49.8L228.5 48.4L227.5 47.2L227.0 46.5Z" fill="#ffffff" stroke="#383838" stroke-width="0.6" vector-effect="non-scaling-stroke"/></g><path d="M72.92 10.90V180.40M106.13 10.90V180.40M139.35 10.90V180.40M172.57 10.90V180.40M205.78 10.90V180.40M239.00 10.90V180.40M272.22 10.90V180.40M305.43 10.90V180.40M338.65 10.90V180.40M371.87 10.90V180.40M405.08 10.90V180.40M438.30 10.90V180.40M39.70 157.80H438.30M39.70 135.20H438.30M39.70 112.60H438.30M39.70 90.00H438.30M39.70 67.40H438.30M39.70 44.80H438.30M39.70 22.20H438.30" stroke="#b0b0b0" stroke-width="0.55" stroke-dasharray="1.9 1.3" fill="none"/><path d="M288.5 43.5h0m-12 1h0m29 .5h0m-8 .5h0m18 0h0m13 0h0m-7.5 .5h0m6.5 0h0m9 0h0m-43.5 .5h0m31.5 0h0m2 0h0m-32 .5h0m2.5 0h0m2 0h0m6 0h0m19 0h0m11 0h0m-39 .5h0m8.5 0h0m17 0h0m12.5 0h0m-33.5 .5h0m12.5 0h0m4.5 0h0m-34 .5h0m12 0h0m14 0h0m14 0h0m3.5 0h0m7.5 0h0m-21 .5h0m1.5 0h0m2 0h0m15.5 0h0m4 0h0m-35.5 .5h0m18.5 0h0m6.5 0h0m1.5 0h0m-9 .5h0m9.5 0h0m-43.5 .5h0m31 0h0m.5 0h0m-18.5 .5h0m11 0h0m3 0h0m1 .5h0m21.5 0h0m-15 .5h0m8 0h0m-26 1h0m7.5 1.5h0m78.5 19.5h0m-31 3h0m10 0h0m-9 1h0m14.5 0h0m-21.5 .5h0m1.5 0h0m-2.5 .5h0m5.5 0h0m6.5 .5h0m5.5 0h0m-14 .5h0m5.5 0h0m5 0h0m-5.5 .5h0m12 0h0m-42.5 .5h0m28 0h0m6.5 .5h0m7 0h0m-3 .5h0m.5 0h0m-10 .5h0m4.5 0h0m1.5 0h0m-5 .5h0m10 0h0m-21 .5h0m4.5 0h0m17 0h0m-46 .5h0m30.5 0h0m11 0h0m1 0h0m-5 1h0m3 0h0m-10.5 .5h0m13 .5h0m-16 .5h0m11.5 .5h0m-208 16h0m10.5 1h0m5.5 .5h0m-11.5 1.5h0m10 .5h0m-7.5 .5h0m-2.5 1.5h0m6.5 0h0m10 0h0m-1 3h0m81 0h0m5.5 .5h0m-90.5 1h0m99.5 0h0m-115.5 1h0m20 0h0m-17 1h0m-1.5 .5h0m108 .5h0m-1 .5h0m146.5 0h0m-152 .5h0m-99 1h0m1.5 .5h0m106.5 0h0m132 0h0m1 0h0m3 0h0m-233.5 1h0m-6.5 .5h0m116 2h0m-7.5 2.5h0m117.5 2.5h0m-121.5 2.5h0" stroke="#dae9f2" stroke-width="1.20" stroke-linecap="square" stroke-opacity="0.9"/><path d="M317 47h0m9 1h0m-32 .5h0m-3 .5h0m29.5 0h0m-195.5 1h0m128.5 7h0m0 3h0m-15.5 1.5h0m1.5 .5h0m4 0h0m-3 1h0m13.5 2h0m-24 2h0m5 1h0m159 2h0m.5 .5h0m-3.5 1h0m0 .5h0m1 0h0m-5.5 .5h0m4 0h0m.5 .5h0m.5 0h0m.5 0h0m-4 .5h0m1.5 .5h0m1 0h0m-6 1h0m-56.5 9.5h0m10.5 1.5h0m-16.5 3.5h0m6 7h0m-98 6h0m-2 1.5h0m7 0h0m5.5 0h0m-10.5 .5h0m-71 .5h0m103 0h0m-100.5 1.5h0m99 .5h0m1 1h0m1 0h0m3.5 0h0m1 0h0m-8 .5h0m-3 .5h0m3 0h0m10.5 0h0m-108.5 .5h0m96.5 .5h0m.5 0h0m2 0h0m.5 0h0m3.5 0h0m2 0h0m6 0h0m-116 .5h0m106 0h0m5 0h0m2 0h0m-3 .5h0m1.5 0h0m1.5 0h0m-9.5 .5h0m.5 0h0m5.5 0h0m2 0h0m2.5 0h0m-105 .5h0m101 0h0m5 0h0m5.5 0h0m-14 .5h0m2 0h0m-104 .5h0m99 0h0m12.5 0h0m-114.5 .5h0m107 0h0m3 0h0m4.5 0h0m-117 .5h0m3 0h0m2.5 0h0m98 0h0m1.5 0h0m5 0h0m-102 .5h0m97.5 0h0m2 0h0m.5 0h0m7 0h0m-113.5 .5h0m5 0h0m103.5 0h0m1 0h0m-107.5 .5h0m99 0h0m1 0h0m.5 0h0m3.5 0h0m3 0h0m9 0h0m-118 .5h0m99.5 0h0m4.5 0h0m1 0h0m-106.5 .5h0m100.5 0h0m1 0h0m1 0h0m1.5 0h0m2.5 0h0m3.5 0h0m1 0h0m122.5 0h0m-230 .5h0m107.5 0h0m129 0h0m.5 0h0m-242.5 .5h0m3.5 0h0m1.5 0h0m111.5 0h0m.5 0h0m125 0h0m-239.5 .5h0m103.5 0h0m1.5 0h0m6.5 0h0m3 0h0m2.5 0h0m-112 .5h0m5 0h0m96 0h0m-112 .5h0m10.5 0h0m232 0h0m-242.5 .5h0m13 0h0m1 0h0m-5 .5h0m7 0h0m98 0h0m-111 .5h0m2.5 0h0m106 0h0m4 0h0m-111 .5h0m100.5 0h0m7.5 0h0m134 0h0m-239.5 .5h0m.5 0h0m244 0h0m-243.5 .5h0m2.5 0h0m3 0h0m232.5 0h0m-131.5 .5h0m-103.5 2h0m-5.5 1h0m100 .5h0m14.5 .5h0m126.5 1.5h0m-133.5 1.5h0" stroke="#fce2d2" stroke-width="1.20" stroke-linecap="square" stroke-opacity="0.9"/><path d="M327.5 43.5h0m-16 .5h0m18.5 0h0m-23 1h0m-16.5 .5h0m15 0h0m6 0h0m-20 .5h0m37 0h0m3.5 0h0m-42 .5h0m5 0h0m12 0h0m15 0h0m3.5 0h0m1.5 0h0m-42 .5h0m9.5 0h0m7 0h0m4 0h0m15 0h0m3.5 0h0m.5 0h0m25 0h0m-49 .5h0m8 0h0m1.5 0h0m3.5 0h0m7 0h0m6 0h0m10 0h0m-41 .5h0m2.5 0h0m4 0h0m.5 0h0m2.5 0h0m2 0h0m1 0h0m4 0h0m1.5 0h0m1 0h0m5 0h0m1 0h0m4 0h0m-33 .5h0m15.5 0h0m3 0h0m18 0h0m1.5 0h0m-51 .5h0m21 0h0m3.5 0h0m.5 0h0m4 0h0m.5 0h0m6 0h0m2.5 0h0m7.5 0h0m6 0h0m17.5 0h0m-64 .5h0m.5 0h0m12 0h0m10 0h0m4 0h0m1 0h0m1 0h0m1.5 0h0m3 0h0m4.5 0h0m9.5 0h0m4.5 0h0m6 0h0m-51.5 .5h0m17 0h0m2.5 0h0m1.5 0h0m1 0h0m7 0h0m4 0h0m-37 .5h0m8.5 0h0m2 0h0m10 0h0m16 0h0m1.5 0h0m6 0h0m-49 .5h0m7 0h0m10 0h0m8 0h0m26 0h0m-37 .5h0m1.5 0h0m1 0h0m19 0h0m.5 0h0m18.5 0h0m11.5 0h0m-42 .5h0m3.5 0h0m4 0h0m-9.5 .5h0m30 0h0m-22.5 .5h0m15.5 0h0m-37 .5h0m-29.5 .5h0m-94.5 2h0m-8.5 1h0m1 1h0m93 0h0m-127.5 1h0m18.5 .5h0m13 0h0m6.5 1h0m83 0h0m-86 3.5h0m-3 .5h0m3.5 1h0m-4 .5h0m2 0h0m1 .5h0m140.5 5h0m92 .5h0m-1 1.5h0m-30.5 2.5h0m-67 .5h0m66.5 1h0m-6.5 .5h0m6 0h0m3 0h0m.5 0h0m-36 .5h0m33 0h0m-2 .5h0m5 0h0m-3.5 .5h0m2.5 0h0m2 0h0m-77 .5h0m75.5 0h0m2.5 0h0m2.5 0h0m-13 .5h0m4.5 0h0m2 0h0m12 0h0m-20 .5h0m8.5 0h0m3.5 0h0m.5 0h0m-4.5 .5h0m2 0h0m10 0h0m-14 .5h0m.5 0h0m3.5 0h0m5.5 0h0m5 0h0m-20.5 .5h0m8 0h0m2 0h0m-8 .5h0m1.5 0h0m3 0h0m2 0h0m2.5 0h0m3.5 0h0m3 0h0m-15 .5h0m7.5 0h0m-10 .5h0m6.5 0h0m4.5 0h0m.5 0h0m.5 .5h0m1 0h0m1 0h0m1.5 0h0m4.5 0h0m3 0h0m-29.5 .5h0m5.5 0h0m7 0h0m3.5 0h0m.5 0h0m5.5 0h0m2.5 0h0m1 0h0m-16.5 .5h0m6.5 0h0m1.5 0h0m.5 0h0m3 0h0m3 0h0m-12 .5h0m1.5 0h0m6.5 .5h0m-7 .5h0m1.5 0h0m-6.5 .5h0m5 0h0m6 0h0m-1.5 .5h0m-34.5 1.5h0m6 1h0m17 2h0m-24.5 1.5h0m0 2.5h0m-169 6.5h0m1 .5h0m105 .5h0m-97.5 .5h0m5.5 0h0m-15.5 .5h0m2 0h0m13.5 0h0m-6.5 .5h0m-6.5 1h0m5 0h0m-5 .5h0m17.5 1h0m-4 .5h0m1.5 2h0m88 .5h0m-3.5 .5h0m7.5 0h0m-93.5 .5h0m91 0h0m-100.5 .5h0m7 .5h0m-2 1h0m3.5 1.5h0m97.5 .5h0m-114.5 1h0m239.5 0h0m2 0h0m-128.5 .5h0m131.5 0h0m-1.5 .5h0m-124 1h0m130 1h0m-137.5 3h0m1.5 1h0m-109 .5h0m108.5 0h0m4.5 0h0m9.5 1h0m109 .5h0m-127.5 .5h0m.5 .5h0m13.5 1h0m-19.5 .5h0m2.5 0h0m.5 0h0m127 1h0m-122.5 1h0m-6.5 2h0m14 1.5h0" stroke="#c2ddec" stroke-width="1.20" stroke-linecap="square" stroke-opacity="0.9"/><path d="M299 47h0m11 .5h0m29.5 1h0m-47 .5h0m19 0h0m9.5 0h0m-71.5 .5h0m40 .5h0m20 .5h0m-15 1.5h0m-9 .5h0m53.5 0h0m-33 .5h0m-60.5 1h0m-107 2h0m115 .5h0m1 .5h0m13.5 0h0m-18 .5h0m-9 1h0m17.5 .5h0m-12 .5h0m10 1.5h0m-18.5 .5h0m-6 2h0m35 1.5h0m-4 2.5h0m-29 1h0m160.5 1h0m-13.5 .5h0m1 .5h0m-2 .5h0m11 0h0m.5 0h0m1.5 0h0m-3 .5h0m.5 0h0m1 0h0m1.5 0h0m-2 .5h0m-4.5 .5h0m2 0h0m-.5 .5h0m5 0h0m.5 0h0m-9 1h0m-.5 .5h0m-53 10.5h0m4 0h0m.5 1h0m-5 3h0m-3.5 1.5h0m-3 3h0m-82.5 8.5h0m-12.5 1h0m2.5 0h0m3.5 0h0m-8 .5h0m6.5 0h0m2 0h0m3 0h0m-8.5 1h0m3 0h0m7 0h0m16.5 0h0m-10 .5h0m-11 .5h0m1 0h0m.5 0h0m28.5 .5h0m-29.5 .5h0m-81.5 .5h0m1 0h0m105 0h0m8 .5h0m-112.5 .5h0m105 0h0m3.5 0h0m1 0h0m-9.5 .5h0m4 0h0m12.5 0h0m-9.5 .5h0m-9 .5h0m9 0h0m8 0h0m-117.5 .5h0m98 0h0m5 0h0m-101 .5h0m104.5 0h0m1 0h0m2 0h0m1.5 0h0m1.5 0h0m-110.5 .5h0m3.5 0h0m5.5 0h0m89.5 0h0m9.5 0h0m.5 0h0m.5 0h0m2.5 0h0m.5 0h0m-108 .5h0m4 0h0m90.5 0h0m1.5 0h0m1.5 0h0m6.5 0h0m4 0h0m.5 0h0m-106 .5h0m4 0h0m89 0h0m7 0h0m1.5 0h0m1 0h0m9 0h0m-122 .5h0m102.5 0h0m3.5 0h0m3 0h0m2.5 0h0m1 0h0m-109 .5h0m97.5 0h0m2.5 0h0m3 0h0m.5 0h0m.5 0h0m4.5 0h0m-104.5 .5h0m95 0h0m1 0h0m.5 0h0m.5 0h0m1 0h0m1.5 0h0m1.5 0h0m3 0h0m5 0h0m-116.5 .5h0m10 0h0m93 0h0m2 0h0m1.5 0h0m5.5 0h0m.5 0h0m1 0h0m1 0h0m9 0h0m-120 .5h0m3 0h0m1.5 0h0m93.5 0h0m1 0h0m4 0h0m5 0h0m2 0h0m2.5 0h0m1 0h0m1 0h0m2.5 0h0m2 0h0m4.5 0h0m-124.5 .5h0m.5 0h0m100.5 0h0m3.5 0h0m4 0h0m3.5 0h0m4 0h0m-116 .5h0m3 0h0m93 0h0m6.5 0h0m.5 0h0m.5 0h0m2.5 0h0m3 0h0m.5 0h0m5 0h0m119 0h0m-230 .5h0m.5 0h0m2 0h0m96 0h0m4.5 0h0m2 0h0m3 0h0m2.5 0h0m4 0h0m-18.5 .5h0m.5 0h0m1 0h0m7 0h0m-110 .5h0m7.5 0h0m2 0h0m95 0h0m4 0h0m3 0h0m.5 0h0m9.5 0h0m-120.5 .5h0m4.5 0h0m.5 0h0m3 0h0m2.5 0h0m95 0h0m3.5 0h0m.5 0h0m2.5 0h0m133 0h0m-235.5 .5h0m93.5 0h0m3.5 0h0m.5 0h0m1 0h0m4.5 0h0m2.5 0h0m122.5 0h0m8 0h0m-246 .5h0m8 0h0m2.5 0h0m92.5 0h0m1.5 0h0m1 0h0m4 0h0m132.5 0h0m1 0h0m-239 .5h0m1.5 0h0m.5 0h0m2.5 0h0m102 0h0m.5 0h0m137 0h0m-241 .5h0m101.5 0h0m136.5 0h0m.5 0h0m1.5 0h0m-246 .5h0m5 0h0m1 0h0m105 0h0m4 0h0m.5 0h0m128 0h0m-139.5 .5h0m-101 .5h0m4.5 0h0m-6.5 .5h0m6.5 0h0m2.5 0h0m105.5 0h0m3.5 0h0m128.5 0h0m-246 .5h0m6.5 0h0m232.5 0h0m-234.5 .5h0m.5 .5h0m0 .5h0m2.5 0h0m-7 .5h0m1 0h0m111.5 1h0m3 1h0m-7 .5h0m13 .5h0m-11.5 .5h0m-7.5 .5h0m15.5 1.5h0m-6 1h0m-1.5 2.5h0" stroke="#fbccb4" stroke-width="1.20" stroke-linecap="square" stroke-opacity="0.9"/><path d="M319.5 44h0m-8 .5h0m31 0h0m-54.5 .5h0m12.5 0h0m46 0h0m4 0h0m-71 .5h0m8.5 0h0m20 0h0m18.5 0h0m12.5 0h0m-64 .5h0m4.5 0h0m2 0h0m18 0h0m9 0h0m.5 0h0m7 0h0m4.5 0h0m21.5 0h0m-64 .5h0m25 0h0m1 0h0m28 0h0m9.5 0h0m-63.5 .5h0m2.5 0h0m2 0h0m13 0h0m4.5 0h0m6.5 0h0m7 0h0m4 0h0m1 0h0m24 0h0m4.5 0h0m6 0h0m-67.5 .5h0m5.5 0h0m21 0h0m2 0h0m2 0h0m.5 0h0m3.5 0h0m1.5 0h0m8 0h0m4 0h0m1 0h0m1 0h0m11.5 0h0m-72.5 .5h0m4.5 0h0m3.5 0h0m4.5 0h0m8 0h0m1.5 0h0m4 0h0m2 0h0m.5 0h0m11.5 0h0m.5 0h0m1.5 0h0m4.5 0h0m8.5 0h0m10.5 0h0m-61 .5h0m4 0h0m2 0h0m3 0h0m5 0h0m4.5 0h0m4 0h0m.5 0h0m8.5 0h0m7 0h0m1.5 0h0m3.5 0h0m.5 0h0m2.5 0h0m17.5 0h0m5 0h0m-66 .5h0m.5 0h0m.5 0h0m14.5 0h0m4.5 0h0m2.5 0h0m1 0h0m4 0h0m1 0h0m8 0h0m1.5 0h0m2 0h0m6.5 0h0m17 0h0m11.5 0h0m-80.5 .5h0m7 0h0m.5 0h0m.5 0h0m14.5 0h0m5 0h0m5 0h0m.5 0h0m9.5 0h0m12 0h0m6.5 0h0m10.5 0h0m4.5 0h0m5.5 0h0m7 0h0m-97.5 .5h0m2.5 0h0m8 0h0m3.5 0h0m6.5 0h0m10 0h0m5.5 0h0m.5 0h0m14.5 0h0m4.5 0h0m15 0h0m13 0h0m-88.5 .5h0m.5 0h0m14 0h0m1 0h0m9 0h0m15.5 0h0m3 0h0m.5 0h0m2.5 0h0m-38.5 .5h0m11.5 0h0m5.5 0h0m28 0h0m.5 0h0m12.5 0h0m12 0h0m3.5 0h0m-64 .5h0m5.5 0h0m3 0h0m23.5 0h0m2 0h0m20 0h0m1 0h0m23.5 0h0m-79.5 .5h0m1.5 0h0m1.5 0h0m4 0h0m12.5 0h0m15.5 0h0m21 0h0m50 0h0m-114.5 .5h0m3 0h0m10 0h0m1.5 0h0m1 0h0m71 0h0m2.5 0h0m25.5 0h0m-261.5 .5h0m162 0h0m1 0h0m1.5 0h0m15 0h0m41.5 0h0m-44.5 .5h0m32.5 0h0m6 0h0m-78.5 .5h0m12.5 0h0m.5 0h0m11.5 0h0m22.5 0h0m81 0h0m-53 .5h0m25 0h0m7.5 0h0m-84.5 .5h0m80 0h0m-79.5 .5h0m89 0h0m11.5 0h0m-103 .5h0m100 0h0m1.5 0h0m1.5 0h0m-267 .5h0m167.5 0h0m93 0h0m14.5 0h0m-130.5 1h0m9 0h0m112.5 0h0m-5 .5h0m7.5 0h0m-124.5 .5h0m-14 .5h0m16.5 0h0m-16 .5h0m11 0h0m128.5 0h0m3.5 0h0m-233 .5h0m110 0h0m3.5 0h0m12.5 .5h0m95.5 0h0m6.5 0h0m-123.5 .5h0m.5 0h0m4 0h0m-19.5 .5h0m2 0h0m37 0h0m1.5 0h0m95.5 0h0m1 0h0m4 0h0m-220.5 .5h0m115.5 0h0m102.5 0h0m1.5 0h0m-128.5 .5h0m4.5 0h0m2.5 0h0m110 0h0m3 0h0m-112 .5h0m19.5 0h0m100 0h0m-.5 1h0m-281 .5h0m53 0h0m-1.5 .5h0m133 .5h0m-185 .5h0m42 .5h0m86 0h0m-129 1.5h0m1 .5h0m48.5 0h0m-1 1h0m3 0h0m-15.5 .5h0m13.5 0h0m.5 1h0m-13.5 .5h0m-1.5 3h0m1 0h0m13.5 0h0m-7.5 .5h0m146 0h0m66 0h0m3.5 0h0m8.5 0h0m-228 1h0m2.5 0h0m218.5 0h0m-224.5 .5h0m226.5 0h0m-222.5 .5h0m214.5 0h0m-1.5 1h0m2 0h0m5.5 0h0m2.5 0h0m-13.5 .5h0m.5 0h0m18.5 0h0m2 0h0m-32.5 .5h0m14.5 0h0m9 0h0m7.5 0h0m-81 .5h0m51.5 0h0m15.5 0h0m5.5 0h0m1.5 0h0m7 0h0m-17.5 .5h0m4.5 0h0m3 0h0m8 0h0m1 0h0m1.5 0h0m-222 .5h0m200 0h0m1.5 .5h0m5.5 0h0m2 0h0m5.5 0h0m1 0h0m4.5 0h0m.5 0h0m-23.5 .5h0m5.5 0h0m9 0h0m9.5 0h0m-34 .5h0m12 0h0m5 0h0m1 0h0m4.5 0h0m-18 .5h0m20 0h0m3 0h0m.5 0h0m-23.5 .5h0m12 0h0m7 0h0m.5 0h0m4 0h0m-21.5 .5h0m10.5 0h0m8.5 0h0m.5 0h0m3.5 0h0m.5 0h0m2 0h0m1.5 0h0m-27.5 .5h0m7 0h0m3.5 0h0m.5 0h0m2.5 0h0m1.5 0h0m1.5 0h0m1 0h0m4 0h0m.5 0h0m4 0h0m-27.5 .5h0m18.5 0h0m1.5 0h0m4 0h0m-8.5 .5h0m4 0h0m1.5 0h0m6 0h0m-21.5 .5h0m8.5 0h0m-13.5 .5h0m14.5 0h0m8.5 0h0m-23 .5h0m15.5 0h0m1 0h0m8 0h0m-25.5 .5h0m18.5 0h0m4 0h0m-10.5 .5h0m1.5 0h0m5 0h0m1.5 0h0m5.5 0h0m.5 0h0m-42.5 1h0m34 0h0m-4 .5h0m-230.5 .5h0m227.5 0h0m2 .5h0m1 0h0m-30.5 .5h0m25.5 0h0m1.5 0h0m-223 .5h0m234 0h0m-38.5 .5h0m24.5 0h0m7 0h0m-227 .5h0m2 .5h0m193.5 0h0m1.5 0h0m21 0h0m3 0h0m1.5 0h0m2.5 0h0m-224 .5h0m201 0h0m18 0h0m-25 .5h0m23 0h0m1.5 0h0m27.5 0h0m-51 .5h0m22 0h0m-22 1.5h0m26 0h0m8.5 0h0m-8.5 .5h0m9 0h0m.5 0h0m-7.5 .5h0m23 0h0m-51.5 .5h0m.5 0h0m26.5 0h0m4 0h0m-5 .5h0m.5 0h0m27.5 0h0m-20 1h0m1 .5h0m18 2.5h0m-212 .5h0m-4.5 .5h0m-3.5 1h0m2 0h0m-1.5 .5h0m3 0h0m2.5 .5h0m-1 .5h0m1 0h0m5.5 0h0m2.5 0h0m68.5 0h0m-81 .5h0m1.5 0h0m1 0h0m11 0h0m1.5 0h0m-10 2h0m10 1h0m-11.5 .5h0m4.5 0h0m17 1h0m-9 .5h0m7.5 0h0m3 0h0m-3 .5h0m193 .5h0m-204.5 .5h0m93.5 0h0m106.5 0h0m-211.5 .5h0m16 0h0m95.5 0h0m-97 .5h0m11 0h0m77.5 0h0m-78.5 .5h0m83 0h0m107 0h0m3 0h0m-212 .5h0m17.5 0h0m193.5 0h0m-218 .5h0m1.5 0h0m27 0h0m-19.5 .5h0m5 0h0m15 0h0m1 0h0m188 0h0m19.5 0h0m-229 .5h0m2.5 0h0m16.5 0h0m1 0h0m186.5 0h0m-216 .5h0m26.5 0h0m4 0h0m188.5 0h0m18 0h0m-220.5 .5h0m15 0h0m185.5 0h0m-192.5 .5h0m6 0h0m80.5 0h0m128 0h0m4.5 0h0m-133.5 .5h0m-96.5 .5h0m229 0h0m-215.5 .5h0m215.5 0h0m-216 .5h0m3 0h0m71.5 0h0m136 0h0m3.5 0h0m-212.5 .5h0m73 0h0m-99 .5h0m102.5 0h0m-74.5 .5h0m177 0h0m-203 .5h0m18.5 0h0m181.5 0h0m4.5 0h0m37.5 .5h0m-215 .5h0m6.5 0h0m-8 .5h0m80 1h0m-7 1h0m3.5 0h0m-4.5 1h0m-96.5 1.5h0m103.5 0h0m-3.5 3.5h0m32.5 .5h0m88 1h0m-210 1h0m13.5 0h0m83 .5h0m-98 2h0m1 3.5h0m235 0h0m3.5 2h0m-143.5 .5h0m-96 .5h0m238 0h0m0 .5h0m0 3h0m.5 1.5h0m-2 1h0m3 0h0m-249 6h0m241 .5h0m33 2h0m-275 5.5h0m1 2.5h0" stroke="#a2cde3" stroke-width="1.20" stroke-linecap="square" stroke-opacity="0.9"/><path d="M287.5 46h0m-159.5 .5h0m167 0h0m-.5 .5h0m14.5 0h0m-183 .5h0m175 0h0m-5.5 1h0m14 0h0m-18 .5h0m-18 1h0m26.5 0h0m9 0h0m39.5 0h0m-222 1h0m159.5 0h0m-31 1h0m-15 1.5h0m36.5 0h0m6 .5h0m-144 1h0m117 0h0m127.5 0h0m6 0h0m-138 .5h0m12 .5h0m-18.5 .5h0m8 .5h0m-110.5 1h0m109.5 0h0m8.5 0h0m-12 .5h0m12.5 0h0m-109 .5h0m87.5 0h0m8 .5h0m135 0h0m.5 0h0m-121.5 1h0m-17 .5h0m.5 0h0m-140 .5h0m134 .5h0m7 0h0m1.5 0h0m-144 .5h0m149.5 0h0m8.5 .5h0m-108.5 1h0m-47 2h0m132 .5h0m-8 2h0m162.5 2h0m.5 .5h0m-10.5 .5h0m8.5 0h0m.5 0h0m-.5 .5h0m-2.5 .5h0m2 0h0m2.5 0h0m-3 .5h0m2.5 0h0m-103 1h0m101.5 0h0m-6 .5h0m2.5 0h0m-2 1.5h0m-94 1h0m9.5 0h0m-153 2.5h0m185.5 .5h0m29 1h0m-73 .5h0m47.5 0h0m-6.5 .5h0m1 0h0m18 0h0m19.5 0h0m-30.5 .5h0m18 0h0m-15 1h0m-15 .5h0m33 2h0m-211.5 .5h0m1.5 .5h0m188 1h0m19.5 0h0m2 0h0m-31 1.5h0m5.5 0h0m21.5 3h0m.5 0h0m18 0h0m-20.5 2h0m-24 .5h0m23 1h0m3 1.5h0m-31.5 .5h0m31 0h0m5 0h0m-8 .5h0m-71 2h0m-125 1h0m123 0h0m6 0h0m-128.5 .5h0m71 0h0m1.5 0h0m5.5 1h0m-73 .5h0m72.5 0h0m4 0h0m23.5 0h0m19.5 0h0m.5 0h0m-124 .5h0m1 0h0m14.5 0h0m65.5 0h0m1 0h0m15 0h0m4.5 0h0m28 0h0m-123 .5h0m1 0h0m2.5 0h0m64.5 0h0m15 0h0m.5 0h0m-90 .5h0m2 0h0m1 0h0m9.5 0h0m70.5 0h0m26 0h0m-107 .5h0m7.5 0h0m85 0h0m-81 .5h0m59.5 0h0m21 0h0m3 0h0m-96 .5h0m13.5 0h0m81.5 0h0m3 0h0m10 0h0m-97 .5h0m91 0h0m-104.5 .5h0m13.5 0h0m80.5 0h0m1.5 0h0m3 0h0m1 0h0m6.5 0h0m-92.5 .5h0m3 0h0m80 0h0m1 0h0m3 0h0m.5 0h0m.5 0h0m1 0h0m1 0h0m1.5 0h0m1 0h0m-103.5 .5h0m7.5 0h0m89 0h0m3 0h0m17 0h0m-94 .5h0m70 0h0m2 0h0m1.5 0h0m2.5 0h0m.5 0h0m.5 0h0m-103 .5h0m98 0h0m4 0h0m1 0h0m6 0h0m2.5 0h0m-110 .5h0m6 0h0m88 0h0m4.5 0h0m.5 0h0m5 0h0m.5 0h0m4.5 0h0m-12 .5h0m1 0h0m.5 0h0m3.5 0h0m1.5 0h0m2 0h0m.5 0h0m1.5 0h0m4 0h0m1 0h0m5 0h0m93 0h0m-207 .5h0m94.5 0h0m1 0h0m2.5 0h0m5.5 0h0m3.5 0h0m.5 0h0m3 0h0m3.5 0h0m-15.5 .5h0m2 0h0m.5 0h0m2 0h0m.5 0h0m1 0h0m3.5 0h0m96 0h0m-207 .5h0m2.5 0h0m96.5 0h0m2 0h0m.5 0h0m1.5 0h0m2.5 0h0m2 0h0m3 0h0m1.5 0h0m1 0h0m94.5 0h0m-109 .5h0m4 0h0m1 0h0m2 0h0m.5 0h0m1 0h0m1.5 0h0m1 0h0m98 0h0m-211 .5h0m2.5 0h0m11 0h0m86 0h0m4.5 0h0m2.5 0h0m4.5 0h0m2.5 0h0m3.5 0h0m1.5 0h0m-116.5 .5h0m27.5 0h0m74 0h0m2 0h0m6 0h0m.5 0h0m-82.5 .5h0m70 0h0m5 0h0m1 0h0m1.5 0h0m.5 0h0m1.5 0h0m.5 0h0m1.5 0h0m110.5 0h0m-220.5 .5h0m2.5 0h0m1 0h0m8.5 0h0m88 0h0m2 0h0m3.5 0h0m3 0h0m3.5 0h0m7 0h0m-119 .5h0m.5 0h0m3 0h0m6 0h0m98.5 0h0m2.5 0h0m1.5 0h0m.5 0h0m1.5 0h0m105 0h0m-221.5 .5h0m.5 0h0m2 0h0m2 0h0m1 0h0m5 0h0m93 0h0m1 0h0m.5 0h0m1 0h0m5.5 0h0m1.5 0h0m1 0h0m.5 0h0m15 0h0m113.5 0h0m-238 .5h0m1 0h0m.5 0h0m4.5 0h0m88.5 0h0m1.5 0h0m4.5 0h0m1 0h0m.5 0h0m3 0h0m1.5 0h0m3 0h0m.5 0h0m88 0h0m-202.5 .5h0m12 0h0m2 0h0m94 0h0m2 0h0m6 0h0m128 0h0m-241.5 .5h0m8.5 0h0m3 0h0m13.5 0h0m73 0h0m7.5 0h0m11.5 0h0m-116 .5h0m33 0h0m69 0h0m136.5 0h0m-239.5 .5h0m1 0h0m8 0h0m97.5 0h0m5.5 0h0m-113 .5h0m3.5 0h0m1.5 0h0m2.5 0h0m1 0h0m.5 0h0m102 0h0m14 0h0m114 0h0m-230 .5h0m96 0h0m-104 .5h0m.5 0h0m4 0h0m3 0h0m102 0h0m-112 .5h0m4.5 0h0m2 0h0m2.5 0h0m103.5 0h0m133 0h0m4.5 0h0m-247 .5h0m2.5 0h0m39.5 0h0m60 0h0m3.5 0h0m1 0h0m5 0h0m126.5 0h0m4.5 0h0m-239.5 .5h0m5 0h0m97 0h0m4.5 0h0m5.5 0h0m-113 .5h0m3.5 0h0m33.5 0h0m69.5 0h0m7.5 0h0m-114.5 .5h0m1 0h0m1.5 0h0m8.5 0h0m-11 .5h0m3 0h0m1 0h0m23.5 0h0m-27.5 .5h0m2.5 0h0m1.5 0h0m115.5 0h0m-112.5 .5h0m101.5 0h0m12 0h0m-117 .5h0m2.5 0h0m100 0h0m-104 1h0m106 0h0m-1.5 1h0m19 0h0m-6 .5h0m-7.5 .5h0m12.5 0h0m106.5 0h0m-229.5 .5h0m114 0h0m126 .5h0m-136.5 .5h0m18 1h0m-12 .5h0m1.5 1.5h0m24.5 .5h0m85.5 0h0m-112.5 .5h0m-9 .5h0m-72.5 1.5h0m-12.5 3h0m9.5 1.5h0m1 0h0m93.5 0h0m-92.5 2.5h0m225 3h0m-136 1h0m133.5 1.5h0m28.5 10h0m-.5 1h0m-274 1h0m270.5 .5h0m-272.5 1h0" stroke="#f6b394" stroke-width="1.20" stroke-linecap="square" stroke-opacity="0.9"/><path d="M301 45h0m8.5 0h0m14.5 0h0m5 0h0m-43.5 .5h0m14.5 0h0m17 0h0m6 0h0m13.5 0h0m13.5 0h0m-47 .5h0m12 0h0m8.5 0h0m3 0h0m33 0h0m-72 .5h0m5 0h0m15 0h0m23 0h0m27 0h0m-84 .5h0m7 0h0m2 0h0m3.5 0h0m14.5 0h0m4.5 0h0m4 0h0m1.5 0h0m1 0h0m2 0h0m7 0h0m1.5 0h0m.5 0h0m4.5 0h0m2.5 0h0m1 0h0m9.5 0h0m11 0h0m10 0h0m-83.5 .5h0m3 0h0m5 0h0m12.5 0h0m2 0h0m1.5 0h0m11 0h0m2.5 0h0m2 0h0m15 0h0m3 0h0m4.5 0h0m-61 .5h0m6.5 0h0m1 0h0m14.5 0h0m8 0h0m2.5 0h0m1.5 0h0m.5 0h0m10.5 0h0m3.5 0h0m3 0h0m8 0h0m-43.5 .5h0m5 0h0m6 0h0m2 0h0m2.5 0h0m3 0h0m11.5 0h0m2 0h0m-44.5 .5h0m5.5 0h0m10 0h0m5 0h0m1 0h0m1.5 0h0m1.5 0h0m4 0h0m15.5 0h0m3 0h0m8.5 0h0m7 0h0m7 0h0m5.5 0h0m.5 0h0m-82.5 .5h0m3.5 0h0m7.5 0h0m5.5 0h0m2.5 0h0m6.5 0h0m10 0h0m8 0h0m1 0h0m2 0h0m20 0h0m-52 .5h0m8 0h0m4 0h0m1.5 0h0m7 0h0m6.5 0h0m1 0h0m2.5 0h0m2.5 0h0m9 0h0m11.5 0h0m1.5 0h0m2 0h0m2.5 0h0m12 0h0m15 0h0m-249.5 .5h0m144 0h0m6.5 0h0m6.5 0h0m1 0h0m6 0h0m3.5 0h0m2 0h0m4.5 0h0m.5 0h0m8 0h0m12 0h0m7.5 0h0m1 0h0m5.5 0h0m.5 0h0m1 0h0m17 0h0m7.5 0h0m-89 .5h0m.5 0h0m7 0h0m2 0h0m2 0h0m8 0h0m5.5 0h0m6.5 0h0m1 0h0m11.5 0h0m4.5 0h0m27 0h0m41.5 0h0m-102.5 .5h0m13.5 0h0m22 0h0m38.5 0h0m18 0h0m-253 .5h0m155 0h0m1 0h0m6.5 0h0m35 0h0m17 0h0m22 0h0m-100.5 .5h0m22.5 0h0m21 0h0m12 0h0m6 0h0m5 0h0m31 0h0m-81 .5h0m.5 0h0m73.5 0h0m-80 .5h0m3 0h0m-22.5 .5h0m133.5 0h0m-112 .5h0m4 0h0m6 0h0m-135 .5h0m128.5 0h0m68 0h0m-80 .5h0m115 0h0m-277 .5h0m277.5 0h0m.5 0h0m6 0h0m2.5 0h0m-35 .5h0m28.5 0h0m-115 .5h0m4 0h0m118.5 0h0m-140.5 .5h0m18 0h0m-6.5 .5h0m122.5 0h0m-7 .5h0m-225 .5h0m205 0h0m27.5 0h0m-220 .5h0m103.5 0h0m113 0h0m10.5 0h0m-10 .5h0m-217 .5h0m210.5 0h0m-115 .5h0m7.5 0h0m19 0h0m-47 .5h0m27 0h0m119 .5h0m-279.5 .5h0m44.5 0h0m136 0h0m-132.5 .5h0m104.5 0h0m-29 .5h0m32 0h0m21.5 0h0m1 0h0m1 0h0m0 .5h0m3 0h0m91.5 0h0m-276 .5h0m49 0h0m132 0h0m3.5 1h0m-53.5 .5h0m44.5 0h0m1.5 .5h0m-19.5 .5h0m-31 1.5h0m-80 .5h0m.5 0h0m1 .5h0m78 0h0m-76.5 1h0m-49.5 .5h0m37 1.5h0m9.5 0h0m.5 0h0m152.5 .5h0m-161 1h0m4 .5h0m1 0h0m-9 1h0m9.5 0h0m-5 .5h0m2 0h0m210.5 .5h0m14.5 0h0m-230 .5h0m226 0h0m-228.5 .5h0m218.5 0h0m5.5 0h0m-221.5 1h0m7 0h0m203.5 0h0m13.5 0h0m5 0h0m-8 .5h0m-10 .5h0m5.5 0h0m5.5 0h0m1.5 0h0m.5 0h0m-216 .5h0m.5 0h0m189 0h0m17 0h0m9 0h0m-216 .5h0m1.5 0h0m180.5 0h0m13 0h0m18 0h0m.5 0h0m8.5 0h0m3 0h0m-21.5 .5h0m2 0h0m.5 0h0m2.5 0h0m2.5 0h0m2 0h0m5 0h0m-217 .5h0m191 0h0m2.5 0h0m15 0h0m8.5 0h0m-7.5 .5h0m7 0h0m5.5 0h0m-220.5 .5h0m190 0h0m4 0h0m10 0h0m.5 0h0m1 0h0m5 0h0m1 0h0m-7.5 .5h0m1.5 0h0m1 0h0m1 0h0m1 0h0m2 0h0m.5 0h0m2.5 0h0m4.5 0h0m.5 0h0m1 0h0m-17 .5h0m4.5 0h0m3 0h0m1.5 0h0m5 0h0m.5 0h0m-9.5 .5h0m1.5 0h0m-4.5 .5h0m5 0h0m1.5 0h0m1.5 0h0m2.5 0h0m1 0h0m.5 0h0m-20 .5h0m10 0h0m2 0h0m1.5 0h0m.5 0h0m4.5 0h0m1 0h0m-29 .5h0m3 0h0m.5 0h0m.5 0h0m24.5 0h0m1.5 0h0m-19 .5h0m6 0h0m9 0h0m3 0h0m-27.5 .5h0m1 0h0m2 0h0m10 0h0m5.5 0h0m5.5 0h0m-24 .5h0m3 0h0m22.5 0h0m3 0h0m-15 .5h0m5.5 0h0m1.5 0h0m-11.5 .5h0m2.5 0h0m4.5 0h0m3.5 0h0m-205 .5h0m-27 .5h0m27 0h0m203.5 0h0m-32.5 1h0m-197.5 1h0m2 0h0m32 0h0m188.5 0h0m5.5 0h0m-32.5 .5h0m24 .5h0m-216.5 .5h0m-1.5 .5h0m194.5 0h0m22.5 0h0m12 .5h0m-36 1h0m2 0h0m49.5 0h0m-22 1h0m5.5 0h0m-6.5 .5h0m5 0h0m3.5 0h0m15.5 0h0m-50.5 .5h0m26.5 0h0m3.5 0h0m3.5 0h0m16.5 0h0m-51.5 1h0m53.5 0h0m-19.5 .5h0m17.5 0h0m-18.5 .5h0m1 1h0m19 .5h0m.5 0h0m-3.5 .5h0m4 0h0m-142.5 .5h0m-74 .5h0m3 1.5h0m215 0h0m-141.5 .5h0m143 0h0m-223 1h0m12.5 0h0m-12.5 .5h0m6 .5h0m1.5 0h0m1 0h0m5.5 1.5h0m-4.5 .5h0m3.5 0h0m-12.5 2h0m23.5 1h0m-19 .5h0m106 .5h0m-8.5 .5h0m-93 .5h0m95.5 0h0m111.5 0h0m-218.5 .5h0m15.5 0h0m202.5 .5h0m-220 .5h0m112 0h0m-108 .5h0m9 0h0m6 0h0m89 0h0m2.5 0h0m-81 .5h0m3.5 0h0m.5 0h0m82 0h0m124.5 0h0m-223.5 .5h0m10 0h0m89 0h0m-105 .5h0m19 0h0m1 0h0m1 0h0m75.5 0h0m113.5 0h0m-197.5 .5h0m7.5 0h0m1.5 0h0m9.5 0h0m178.5 0h0m25 0h0m-212.5 .5h0m208.5 0h0m-238 .5h0m2 0h0m3 0h0m28 0h0m81 0h0m-83 .5h0m86.5 0h0m119 0h0m2.5 0h0m-233.5 .5h0m102.5 0h0m-101.5 .5h0m21 .5h0m3 .5h0m4.5 0h0m75 0h0m92.5 0h0m2.5 .5h0m-204.5 .5h0m3.5 0h0m26.5 0h0m8.5 0h0m170 0h0m-206.5 .5h0m31 0h0m172.5 0h0m1 0h0m-192.5 .5h0m102.5 1h0m-12.5 .5h0m11.5 0h0m-75 .5h0m78 0h0m.5 .5h0m-82.5 1.5h0m80.5 .5h0m-7 .5h0m-80 1.5h0m82 2h0m0 .5h0m109 .5h0m-114.5 .5h0m6.5 1h0m-81.5 2h0m106.5 0h0m-115 1h0m91.5 6.5h0m2 1h0m-87.5 1.5h0m85 0h0m138 2h0m-40 3.5h0m34 3h0m2 0h0m-4.5 1.5h0m-2 .5h0m1.5 0h0m35.5 2h0m-273.5 .5h0m.5 1.5h0" stroke="#7eb8d7" stroke-width="1.20" stroke-linecap="square" stroke-opacity="0.9"/><path d="M291 46.5h0m-10.5 .5h0m33 1.5h0m-43.5 .5h0m42.5 1h0m4.5 2h0m-68 2.5h0m35 0h0m-178.5 .5h0m285.5 0h0m-139.5 .5h0m124 0h0m-130 .5h0m134 0h0m-124.5 .5h0m6 0h0m128 .5h0m-138 .5h0m-3 .5h0m2 2.5h0m9.5 0h0m123.5 0h0m-5.5 .5h0m-120.5 .5h0m29 0h0m-1.5 2h0m-183 1.5h0m57 0h0m-3 .5h0m76 0h0m-1.5 2h0m-.5 .5h0m62 2h0m102.5 .5h0m-3 .5h0m3 0h0m-4 .5h0m3.5 0h0m-4 .5h0m1 0h0m-4 .5h0m6.5 0h0m1.5 0h0m-7 .5h0m5 0h0m-4.5 .5h0m3 0h0m-95.5 1h0m94.5 0h0m-26.5 3.5h0m-6.5 1h0m8 0h0m1 1.5h0m-30 1h0m-6.5 .5h0m2.5 .5h0m34.5 .5h0m.5 0h0m-11 .5h0m5 .5h0m10 0h0m-28.5 1h0m16 0h0m-1 .5h0m-205 2h0m199 .5h0m6 1h0m-203.5 .5h0m202.5 4h0m-28 1.5h0m20 0h0m-25.5 .5h0m50 0h0m-50.5 .5h0m31.5 2h0m1.5 0h0m1.5 0h0m-197 1.5h0m108.5 1h0m12.5 .5h0m-115.5 .5h0m-5 .5h0m3.5 0h0m60.5 .5h0m9.5 0h0m-82.5 .5h0m128.5 0h0m-46 .5h0m2.5 0h0m4 0h0m-82 .5h0m2 0h0m72 0h0m30 .5h0m-99.5 .5h0m5 0h0m4 0h0m75.5 0h0m7 0h0m-91 .5h0m2 0h0m2 0h0m3 0h0m67 0h0m-80.5 .5h0m5 0h0m6 0h0m.5 0h0m2 0h0m63 0h0m21 0h0m5.5 0h0m-102 .5h0m2 0h0m1.5 0h0m1 0h0m103.5 0h0m2.5 0h0m-114 .5h0m4 0h0m6.5 0h0m.5 0h0m70 0h0m12.5 0h0m4.5 0h0m3.5 0h0m5.5 0h0m7.5 0h0m-5.5 .5h0m-108 .5h0m4.5 0h0m20.5 0h0m71.5 0h0m.5 0h0m-75.5 .5h0m73 0h0m2 0h0m.5 0h0m2.5 0h0m.5 0h0m1 0h0m6 0h0m-104.5 .5h0m5 0h0m5 0h0m85 0h0m4 0h0m3.5 0h0m.5 0h0m.5 0h0m1.5 0h0m1 0h0m3 0h0m-109 .5h0m96 0h0m2.5 0h0m3.5 0h0m3 0h0m1 0h0m1 0h0m-12.5 .5h0m.5 0h0m3 0h0m1 0h0m3 0h0m2 0h0m3 0h0m6.5 0h0m-118 .5h0m5.5 0h0m94 0h0m.5 0h0m2 0h0m.5 0h0m.5 0h0m.5 0h0m.5 0h0m.5 0h0m4 0h0m.5 0h0m1.5 0h0m.5 0h0m1.5 0h0m3 0h0m1.5 0h0m2.5 0h0m-119.5 .5h0m14 0h0m85.5 0h0m3 0h0m2.5 0h0m6 0h0m4 0h0m-114 .5h0m2.5 0h0m103.5 0h0m1 0h0m3 0h0m.5 0h0m2.5 0h0m8 0h0m74 0h0m-192.5 .5h0m3.5 0h0m92 0h0m1 0h0m1.5 0h0m8 0h0m2 0h0m4 0h0m-110 .5h0m91.5 0h0m.5 0h0m7 0h0m.5 0h0m3.5 0h0m98 0h0m-106 .5h0m.5 0h0m1.5 0h0m1 0h0m2 0h0m1 0h0m1.5 0h0m1 0h0m5.5 0h0m16.5 0h0m-132 .5h0m1.5 0h0m98.5 0h0m4.5 0h0m1 0h0m1 0h0m1.5 0h0m.5 0h0m1 0h0m.5 0h0m.5 0h0m.5 0h0m-108.5 .5h0m3.5 0h0m5 0h0m18.5 0h0m74 0h0m3 0h0m7.5 0h0m99.5 0h0m8 0h0m-218 .5h0m1.5 0h0m1 0h0m1 0h0m1.5 0h0m.5 0h0m2.5 0h0m86.5 0h0m6.5 0h0m1 0h0m1 0h0m.5 0h0m.5 0h0m2 0h0m1.5 0h0m1 0h0m-112 .5h0m5 0h0m1 0h0m96.5 0h0m4 0h0m4 0h0m.5 0h0m2.5 0h0m-106 .5h0m97.5 0h0m1 0h0m3 0h0m2.5 0h0m1 0h0m2 0h0m4.5 0h0m96 0h0m-216 .5h0m30 0h0m69.5 0h0m6.5 0h0m4.5 0h0m1.5 0h0m.5 0h0m7 0h0m-110.5 .5h0m19.5 0h0m13.5 0h0m67 0h0m.5 0h0m.5 0h0m1 0h0m1.5 0h0m-106 .5h0m.5 0h0m5 0h0m89.5 0h0m4.5 0h0m1.5 0h0m2 0h0m1.5 0h0m3.5 0h0m.5 0h0m-.5 .5h0m15 0h0m115 0h0m1.5 0h0m-240 .5h0m101 0h0m1 0h0m7 0h0m140.5 0h0m-252 .5h0m4 0h0m.5 0h0m101 0h0m4 0h0m126.5 0h0m4.5 0h0m1 0h0m-242.5 .5h0m2.5 0h0m106 0h0m.5 0h0m18 0h0m-123.5 .5h0m5 0h0m107.5 0h0m125.5 0h0m1.5 0h0m4.5 0h0m-248.5 .5h0m.5 0h0m4 0h0m.5 0h0m2.5 0h0m35 0h0m65.5 0h0m7.5 0h0m13.5 0h0m-124.5 .5h0m1.5 0h0m4.5 0h0m34 0h0m69 0h0m6.5 0h0m7.5 0h0m-124 .5h0m5 0h0m237.5 0h0m-242.5 .5h0m1.5 0h0m25 0h0m212.5 0h0m-236 .5h0m2.5 0h0m97.5 0h0m-106 .5h0m5.5 0h0m105.5 0h0m-109.5 .5h0m2 0h0m120 0h0m-118.5 .5h0m-4 .5h0m3.5 0h0m103.5 0h0m-103.5 .5h0m116.5 0h0m-14 .5h0m-100 1h0m106 .5h0m1 0h0m-111.5 .5h0m3 .5h0m105.5 0h0m-109.5 .5h0m106 .5h0m31.5 0h0m0 1h0m-.5 .5h0m-11.5 1h0m10.5 0h0m2 0h0m0 1h0m-1.5 .5h0m2 .5h0m-110 6.5h0m89 .5h0m132.5 .5h0m2 .5h0m-.5 1h0m-132 2.5h0m-92 1h0m-23.5 6.5h0m274.5 3.5h0m-274.5 3.5h0m.5 4.5h0" stroke="#ec9374" stroke-width="1.20" stroke-linecap="square" stroke-opacity="0.9"/><path d="M282 41h0m-4.5 2.5h0m65.5 0h0m-69 .5h0m44 0h0m-25 .5h0m-17.5 .5h0m28.5 0h0m35 0h0m-233 .5h0m201.5 0h0m14.5 0h0m-39.5 .5h0m6.5 0h0m20.5 0h0m8 0h0m4 0h0m17.5 0h0m-63 .5h0m1.5 0h0m6 0h0m13.5 0h0m26.5 0h0m14 0h0m6.5 0h0m1.5 0h0m1.5 0h0m-72.5 .5h0m3.5 0h0m9.5 0h0m13.5 0h0m2 0h0m3 0h0m1.5 0h0m3 0h0m8 0h0m19 0h0m9.5 0h0m-71.5 .5h0m.5 0h0m8.5 0h0m11.5 0h0m1.5 0h0m9.5 0h0m3.5 0h0m2 0h0m2.5 0h0m2.5 0h0m4.5 0h0m1 0h0m3 0h0m7 0h0m3 0h0m1.5 0h0m5.5 0h0m1 0h0m-240 .5h0m172 0h0m1 0h0m6 0h0m10.5 0h0m8 0h0m1 0h0m.5 0h0m3 0h0m3 0h0m10.5 0h0m1 0h0m31.5 0h0m.5 0h0m-80.5 .5h0m3.5 0h0m9 0h0m2.5 0h0m11.5 0h0m1 0h0m10.5 0h0m2.5 0h0m3 0h0m3.5 0h0m2.5 0h0m2 0h0m12.5 0h0m17.5 0h0m-79 .5h0m1 0h0m2.5 0h0m1 0h0m2.5 0h0m4.5 0h0m6.5 0h0m2.5 0h0m6 0h0m1.5 0h0m1 0h0m12 0h0m3 0h0m18.5 0h0m.5 0h0m.5 0h0m-232 .5h0m183.5 0h0m4 0h0m.5 0h0m1 0h0m1.5 0h0m4.5 0h0m7.5 0h0m2.5 0h0m2.5 0h0m1 0h0m.5 0h0m1.5 0h0m7 0h0m6.5 0h0m5.5 0h0m19.5 0h0m11.5 0h0m-96.5 .5h0m1.5 0h0m5.5 0h0m3.5 0h0m2.5 0h0m7 0h0m4 0h0m1.5 0h0m3.5 0h0m4 0h0m2.5 0h0m5 0h0m2.5 0h0m4.5 0h0m.5 0h0m3.5 0h0m1.5 0h0m35 0h0m3.5 0h0m-254.5 .5h0m173 0h0m.5 0h0m1 0h0m4.5 0h0m15.5 0h0m3 0h0m3.5 0h0m5 0h0m13.5 0h0m10.5 0h0m8 0h0m-63.5 .5h0m32 0h0m3.5 0h0m67.5 0h0m-108.5 .5h0m1 0h0m1 0h0m4.5 0h0m5 0h0m17.5 0h0m12 0h0m5.5 0h0m35 0h0m-89.5 .5h0m38 0h0m3.5 0h0m6 0h0m32 0h0m5 0h0m3.5 0h0m1 0h0m2.5 0h0m16.5 0h0m1.5 0h0m-275 .5h0m17 0h0m159.5 0h0m3 0h0m5 0h0m3.5 0h0m40.5 0h0m47.5 0h0m-104.5 .5h0m.5 0h0m2.5 0h0m5.5 0h0m3 0h0m1 0h0m49.5 0h0m15 0h0m3.5 0h0m38 0h0m-287.5 .5h0m174.5 0h0m61.5 0h0m21.5 0h0m19.5 0h0m3 0h0m-106 .5h0m54.5 0h0m6.5 0h0m19.5 0h0m20.5 0h0m-110.5 .5h0m7.5 0h0m11 0h0m102 0h0m-282.5 .5h0m153 0h0m.5 0h0m4.5 0h0m6.5 .5h0m78 0h0m37 0h0m-125 .5h0m13 0h0m105 0h0m5.5 0h0m-264 .5h0m144.5 0h0m119 0h0m3.5 0h0m-125 .5h0m109 0h0m6.5 0h0m3.5 0h0m-275.5 .5h0m58.5 0h0m91.5 0h0m119.5 0h0m2.5 0h0m3 0h0m-120.5 1h0m127 0h0m-250.5 .5h0m252 0h0m-143 .5h0m132 0h0m7.5 0h0m2.5 0h0m-16.5 .5h0m13.5 0h0m-226.5 .5h0m7.5 0h0m.5 0h0m96.5 0h0m115.5 0h0m-228 .5h0m118 .5h0m113.5 0h0m-134 .5h0m35 0h0m-41.5 .5h0m22 0h0m22.5 0h0m-19.5 1.5h0m22.5 0h0m-186 .5h0m56 1h0m70 0h0m35 0h0m19.5 0h0m-129 .5h0m-53 .5h0m53.5 0h0m77.5 0h0m-78.5 .5h0m131 0h0m-137 .5h0m81.5 .5h0m-76 1.5h0m-1 .5h0m-1.5 1h0m239 0h0m2 0h0m-250 1h0m-5 1h0m.5 0h0m1 1h0m5 0h0m2 2h0m-1 .5h0m149.5 0h0m-158 1h0m2.5 0h0m226 0h0m-221.5 1h0m223 0h0m-227 .5h0m149 0h0m60 0h0m1 0h0m20 0h0m-222.5 .5h0m191.5 0h0m12.5 0h0m4 0h0m7.5 0h0m5.5 0h0m2.5 0h0m.5 0h0m-16 .5h0m1.5 0h0m4 0h0m8.5 0h0m-82 .5h0m63 0h0m3 0h0m10.5 0h0m3 0h0m3.5 0h0m-20.5 .5h0m5.5 0h0m8.5 0h0m7.5 0h0m-36.5 .5h0m17 0h0m3 0h0m.5 0h0m1.5 0h0m2 0h0m.5 0h0m1.5 0h0m1 0h0m3 0h0m1 0h0m-217.5 .5h0m199.5 0h0m15 0h0m3 0h0m-31.5 .5h0m8.5 0h0m10.5 0h0m.5 0h0m.5 0h0m2.5 0h0m3 0h0m.5 0h0m6 0h0m.5 0h0m1 0h0m-18.5 .5h0m4 0h0m3 0h0m3.5 0h0m4.5 0h0m-23 .5h0m12 0h0m4 0h0m5.5 0h0m2.5 0h0m.5 0h0m4.5 0h0m-30 .5h0m9.5 0h0m3.5 0h0m1 0h0m4 0h0m.5 0h0m3.5 0h0m4.5 0h0m3.5 0h0m-27.5 .5h0m15.5 0h0m.5 0h0m.5 0h0m5 0h0m-26 .5h0m18 0h0m.5 0h0m3.5 0h0m1.5 0h0m4.5 0h0m-27 .5h0m11 0h0m1.5 0h0m2.5 0h0m2 0h0m1.5 0h0m-15.5 .5h0m6.5 0h0m9 0h0m-20 .5h0m4.5 0h0m12 0h0m13 0h0m-29.5 .5h0m1 0h0m7.5 0h0m13 0h0m1 0h0m-27 .5h0m5.5 0h0m18 0h0m1 0h0m-11 .5h0m8 0h0m5 0h0m-31 .5h0m-202 .5h0m26 0h0m.5 0h0m190.5 0h0m2.5 0h0m3 .5h0m-222 .5h0m217.5 0h0m10.5 0h0m-229 .5h0m202 0h0m20 0h0m4 0h0m-7.5 .5h0m3 0h0m6 0h0m-32.5 .5h0m1 0h0m.5 0h0m25 .5h0m1.5 0h0m1.5 0h0m4.5 0h0m.5 0h0m-10 .5h0m2.5 0h0m7.5 0h0m17 0h0m-236 .5h0m211 0h0m4 0h0m4.5 0h0m16 0h0m-23.5 .5h0m1.5 0h0m2 0h0m-212 .5h0m188 0h0m16 0h0m2.5 0h0m6 0h0m4 0h0m-35.5 .5h0m27 0h0m9 0h0m-216 .5h0m181.5 0h0m5.5 0h0m20.5 0h0m3 0h0m-214 .5h0m3.5 0h0m2.5 0h0m179.5 0h0m33 0h0m-217.5 .5h0m2 0h0m4 0h0m176.5 0h0m-182.5 .5h0m2 0h0m231.5 0h0m1.5 .5h0m-51.5 .5h0m26 0h0m-25.5 .5h0m34 .5h0m-1.5 .5h0m.5 0h0m-2.5 1h0m23.5 0h0m-2.5 .5h0m-210 1.5h0m112.5 .5h0m3 .5h0m.5 0h0m-130.5 .5h0m129 0h0m4 0h0m1.5 .5h0m91 0h0m-217.5 .5h0m120.5 0h0m97 0h0m2.5 0h0m-223.5 .5h0m121.5 .5h0m-110.5 .5h0m92.5 0h0m-101 .5h0m.5 0h0m97.5 0h0m6 0h0m-11 .5h0m.5 0h0m101 0h0m.5 0h0m-184.5 .5h0m83 0h0m7.5 0h0m108 0h0m-199.5 .5h0m5.5 0h0m179 0h0m15.5 0h0m-184.5 .5h0m170.5 0h0m-190.5 .5h0m92 0h0m94 0h0m1 0h0m3.5 0h0m14 0h0m1 0h0m-116 .5h0m1.5 0h0m30 0h0m70 0h0m12 0h0m2 0h0m-108.5 .5h0m94 0h0m1 0h0m10.5 0h0m1 0h0m2 0h0m-186 .5h0m169.5 0h0m9.5 0h0m2 0h0m2.5 0h0m.5 0h0m.5 0h0m2.5 0h0m-211 .5h0m15.5 0h0m80 0h0m3 0h0m1.5 0h0m.5 0h0m91 0h0m1 0h0m12.5 0h0m3.5 0h0m-15.5 .5h0m1 0h0m1 0h0m9.5 0h0m1 0h0m1 0h0m.5 0h0m1 0h0m.5 0h0m.5 0h0m.5 0h0m1 0h0m1 0h0m5.5 0h0m-206 .5h0m14 0h0m67.5 0h0m1.5 0h0m.5 0h0m9 0h0m89.5 0h0m2.5 0h0m8.5 0h0m2 0h0m2 0h0m1 0h0m2.5 0h0m-116 .5h0m97 0h0m3 0h0m8 0h0m1.5 0h0m1 0h0m1.5 0h0m1.5 0h0m1.5 0h0m-202.5 .5h0m5.5 0h0m5 0h0m8 0h0m66 0h0m111.5 0h0m1.5 0h0m1 0h0m2 0h0m.5 0h0m.5 0h0m-202.5 .5h0m18.5 0h0m2 0h0m81 0h0m85 0h0m1 0h0m1 0h0m1 0h0m.5 0h0m7 0h0m.5 0h0m2.5 0h0m1 0h0m.5 0h0m.5 0h0m1.5 0h0m-117 .5h0m100.5 0h0m.5 0h0m1 0h0m.5 0h0m8 0h0m1 0h0m4 0h0m1.5 0h0m6.5 0h0m-217.5 .5h0m25 0h0m6 0h0m68 0h0m96 0h0m2 0h0m11 0h0m2 0h0m1 0h0m6 0h0m-22 .5h0m1 0h0m.5 0h0m9 0h0m1.5 0h0m2 0h0m-183.5 .5h0m170.5 0h0m8.5 0h0m10 0h0m-18.5 .5h0m1.5 0h0m1 0h0m8 0h0m-190 .5h0m9 0h0m7.5 0h0m85.5 0h0m.5 0h0m2.5 0h0m74.5 0h0m1 0h0m1.5 0h0m9.5 0h0m2 0h0m7.5 0h0m-115.5 .5h0m95 0h0m1.5 0h0m.5 0h0m39.5 0h0m.5 0h0m-222.5 .5h0m14.5 0h0m.5 0h0m9 0h0m79 0h0m77 0h0m.5 0h0m1.5 0h0m.5 0h0m16.5 0h0m17.5 0h0m-230 .5h0m12 0h0m182 0h0m-183 .5h0m84.5 0h0m8 0h0m93 0h0m-182.5 .5h0m13.5 0h0m91 0h0m115.5 0h0m1 0h0m4.5 0h0m-204 .5h0m62 0h0m25 0h0m-110.5 .5h0m11 0h0m1 0h0m0 .5h0m94 0h0m118.5 0h0m-226.5 .5h0m5 0h0m104.5 0h0m78 0h0m34.5 0h0m-232.5 .5h0m11.5 0h0m3 0h0m.5 0h0m103.5 0h0m1 0h0m86.5 0h0m-208 .5h0m12.5 0h0m109 0h0m-108 .5h0m3.5 0h0m7 0h0m-10 .5h0m.5 0h0m3 0h0m4.5 0h0m1.5 0h0m96.5 0h0m-106.5 .5h0m3 0h0m.5 0h0m.5 0h0m12.5 0h0m95 0h0m-110 .5h0m3.5 0h0m87.5 0h0m-93 .5h0m4 0h0m1 0h0m-13 .5h0m2.5 0h0m4.5 0h0m3.5 0h0m1 0h0m105.5 0h0m2 0h0m-25.5 .5h0m1 0h0m8.5 0h0m5 0h0m4 0h0m1.5 0h0m1 0h0m3 0h0m.5 0h0m-109.5 .5h0m.5 0h0m1.5 0h0m85.5 0h0m-91 .5h0m3.5 0h0m1 0h0m3 0h0m1.5 0h0m.5 0h0m16.5 0h0m86 0h0m-108 .5h0m2 .5h0m1.5 0h0m94.5 0h0m-103 .5h0m3 0h0m1 0h0m2.5 0h0m1.5 0h0m95 0h0m8.5 0h0m-107 .5h0m6 0h0m-13 .5h0m7 0h0m2.5 0h0m-3 .5h0m103 0h0m6.5 0h0m-112 .5h0m5 0h0m213.5 0h0m-114.5 .5h0m-92 4.5h0m112 1h0m115.5 3.5h0m-229 1h0m4.5 1h0m225.5 1h0m-2 3h0m.5 .5h0m-133.5 .5h0m133.5 0h0m-.5 1.5h0m-246.5 2.5h0m241 2h0m5 .5h0m-4.5 1.5h0m3.5 0h0m-7 .5h0m35.5 0h0m-272.5 .5h0m-1.5 1h0m273 0h0m2.5 0h0m-275.5 2.5h0m1 1h0m-1 1.5h0" stroke="#569fc9" stroke-width="1.20" stroke-linecap="square" stroke-opacity="0.9"/><path d="M327 45h0m7 1.5h0m-51.5 .5h0m30.5 0h0m35 0h0m3.5 0h0m6.5 .5h0m-15 .5h0m-237.5 .5h0m236.5 0h0m3 0h0m4 0h0m-7.5 .5h0m14 0h0m-20.5 .5h0m11.5 0h0m-241 .5h0m172.5 0h0m16 0h0m7.5 0h0m54 0h0m-247.5 .5h0m172.5 0h0m54.5 0h0m12.5 0h0m-246 .5h0m7.5 0h0m225.5 0h0m.5 0h0m1 0h0m-89 1.5h0m90 0h0m-232 .5h0m144.5 0h0m-149.5 .5h0m7 .5h0m275 0h0m-280.5 .5h0m2.5 0h0m145.5 0h0m11.5 0h0m4.5 0h0m-161 .5h0m137.5 0h0m29 0h0m82.5 0h0m8 0h0m-111.5 .5h0m126.5 0h0m-272 .5h0m142 0h0m-5.5 .5h0m-113 .5h0m124 0h0m-103.5 1h0m92.5 0h0m135 0h0m-271 .5h0m32.5 0h0m110 0h0m-143.5 .5h0m279.5 0h0m-278.5 .5h0m35 0h0m8 1h0m232.5 0h0m-1.5 .5h0m11.5 0h0m-282 .5h0m270 0h0m-132 .5h0m3.5 0h0m2.5 0h0m124 0h0m1 0h0m2 1.5h0m-220.5 .5h0m217 .5h0m-219 .5h0m97.5 0h0m-151.5 .5h0m52 .5h0m2 0h0m-3.5 .5h0m-50 1h0m2 .5h0m-1.5 1h0m44 0h0m5 0h0m-47 1h0m39.5 0h0m5 .5h0m243.5 0h0m-3.5 .5h0m2.5 0h0m-242.5 .5h0m239.5 0h0m3 0h0m1 0h0m-4 .5h0m3 0h0m-254 .5h0m1 0h0m3 0h0m246.5 0h0m.5 0h0m.5 0h0m.5 0h0m-246.5 .5h0m3 0h0m237.5 0h0m1.5 0h0m1.5 0h0m1 0h0m1 0h0m1 0h0m-251 .5h0m247.5 0h0m2 0h0m-252 .5h0m6.5 0h0m7 0h0m238.5 0h0m-252 .5h0m248 0h0m1.5 0h0m2 0h0m-247 .5h0m-1.5 .5h0m2 0h0m1.5 0h0m-4 .5h0m9 0h0m-4 .5h0m-7.5 .5h0m8 0h0m180.5 .5h0m32.5 0h0m-214 .5h0m225 0h0m-1.5 .5h0m-228 .5h0m214.5 0h0m-206 1h0m.5 1h0m211.5 0h0m-28 .5h0m1 0h0m0 .5h0m3.5 0h0m25 2h0m8.5 .5h0m-30 .5h0m23.5 .5h0m-26.5 .5h0m-.5 .5h0m-212.5 .5h0m203.5 0h0m15.5 0h0m-192 .5h0m201 0h0m5 0h0m-231.5 .5h0m231.5 0h0m-230.5 .5h0m226 0h0m-224 .5h0m24.5 0h0m193 0h0m-220.5 .5h0m203.5 0h0m-204.5 .5h0m2.5 0h0m11.5 0h0m-9.5 .5h0m197.5 0h0m-202 .5h0m1 0h0m3 0h0m-1.5 .5h0m-3 .5h0m1.5 0h0m5.5 0h0m9.5 .5h0m206.5 0h0m3.5 0h0m22.5 0h0m-240 .5h0m1.5 0h0m.5 0h0m2 0h0m2.5 0h0m-6 .5h0m3 0h0m183.5 0h0m3 0h0m27 0h0m1 0h0m-222.5 .5h0m11.5 0h0m208.5 0h0m.5 0h0m-213.5 .5h0m3.5 0h0m.5 0h0m216 0h0m-216.5 .5h0m2 0h0m-5 .5h0m222 0h0m-218 .5h0m218.5 0h0m-219.5 .5h0m216.5 0h0m-216 .5h0m5 0h0m177.5 0h0m-182 .5h0m211.5 .5h0m7 0h0m-.5 1h0m-1.5 2h0m-191.5 .5h0m2 0h0m58 0h0m130 0h0m-189 .5h0m59.5 0h0m10.5 1h0m.5 0h0m9 0h0m-89.5 .5h0m3 0h0m79 0h0m-77.5 .5h0m9.5 0h0m68.5 0h0m-79 .5h0m69.5 0h0m1 0h0m1 0h0m3 0h0m1 0h0m1.5 0h0m3 0h0m12.5 0h0m5.5 0h0m-102.5 .5h0m6.5 0h0m2 0h0m65 0h0m1 0h0m29 0h0m-98 .5h0m3.5 0h0m2 0h0m1 0h0m61.5 0h0m6 0h0m5 0h0m11.5 0h0m7 0h0m-100 .5h0m1 0h0m1.5 0h0m78.5 0h0m14.5 0h0m-85 .5h0m-8.5 .5h0m4.5 0h0m.5 0h0m7 0h0m76 0h0m6 0h0m1 0h0m.5 0h0m-99.5 .5h0m5.5 0h0m90.5 0h0m3.5 0h0m2.5 0h0m-93 .5h0m84.5 0h0m1.5 0h0m1 0h0m.5 0h0m2.5 0h0m1.5 0h0m-96.5 .5h0m2.5 0h0m8.5 0h0m81 0h0m.5 0h0m9.5 0h0m2.5 0h0m-102.5 .5h0m6.5 0h0m3 0h0m1 0h0m78 0h0m2.5 0h0m2.5 0h0m2 0h0m1.5 0h0m-104.5 .5h0m98 0h0m1.5 0h0m.5 0h0m3.5 0h0m9.5 0h0m-114 .5h0m3 0h0m94 0h0m4.5 0h0m1 0h0m.5 0h0m6.5 0h0m-100.5 .5h0m7.5 0h0m80.5 0h0m1 0h0m6.5 0h0m3 0h0m.5 0h0m3 0h0m-14 .5h0m.5 0h0m4 0h0m2 0h0m8 0h0m97 0h0m-208 .5h0m4 0h0m3.5 0h0m7 0h0m5.5 0h0m79 0h0m7 0h0m.5 0h0m.5 0h0m4.5 0h0m6.5 0h0m103 0h0m-209 .5h0m1.5 0h0m4.5 0h0m79 0h0m1.5 0h0m4 0h0m1 0h0m2.5 0h0m3.5 0h0m3.5 0h0m11.5 0h0m-126 .5h0m4.5 0h0m6 0h0m5.5 0h0m.5 0h0m2.5 0h0m79 0h0m1.5 0h0m9.5 0h0m.5 0h0m5 0h0m94.5 0h0m3 0h0m-199.5 .5h0m1.5 0h0m5.5 0h0m82 0h0m3 0h0m2 0h0m1 0h0m9 0h0m-113 .5h0m13 0h0m13.5 0h0m73 0h0m1 0h0m1 0h0m.5 0h0m3 0h0m5.5 0h0m1 0h0m3 0h0m-117 .5h0m4 0h0m3.5 0h0m2 0h0m2.5 0h0m1.5 0h0m2.5 0h0m5.5 0h0m3.5 0h0m4.5 0h0m1.5 0h0m72 0h0m1.5 0h0m3 0h0m1 0h0m2.5 0h0m-111 .5h0m1.5 0h0m4.5 0h0m12 0h0m4.5 0h0m78.5 0h0m1.5 0h0m.5 0h0m7.5 0h0m2.5 0h0m5.5 0h0m-117.5 .5h0m8 0h0m90 0h0m4 0h0m5.5 0h0m4 0h0m5.5 0h0m-118.5 .5h0m2 0h0m7.5 0h0m4.5 0h0m2.5 0h0m83.5 0h0m.5 0h0m11.5 0h0m1.5 0h0m8 0h0m-116 .5h0m18.5 0h0m3 0h0m1.5 0h0m.5 0h0m2 0h0m70 0h0m1 0h0m2.5 0h0m2 0h0m4.5 0h0m1 0h0m1.5 0h0m.5 0h0m7 0h0m-118 .5h0m3.5 0h0m.5 0h0m7 0h0m84.5 0h0m3.5 0h0m3.5 0h0m4.5 0h0m101.5 0h0m26.5 0h0m6 0h0m-246 .5h0m4.5 0h0m3.5 0h0m2 0h0m1 0h0m8 0h0m12 0h0m74 0h0m4.5 0h0m2.5 0h0m1.5 0h0m13.5 0h0m95.5 0h0m-217.5 .5h0m.5 0h0m3 0h0m.5 0h0m4.5 0h0m1 0h0m89.5 0h0m3 0h0m4 0h0m1 0h0m.5 0h0m127.5 0h0m3.5 0h0m1.5 0h0m-242.5 .5h0m1 0h0m1.5 0h0m5.5 0h0m5.5 0h0m20 0h0m66 0h0m4 0h0m9.5 0h0m3.5 0h0m4.5 0h0m121 0h0m-237.5 .5h0m22 0h0m210.5 0h0m1 0h0m5.5 0h0m-243.5 .5h0m1.5 0h0m7 0h0m96 0h0m5.5 0h0m-108 .5h0m.5 0h0m2 0h0m2 0h0m97.5 0h0m9.5 0h0m4.5 0h0m-112.5 .5h0m2.5 0h0m6.5 0h0m2 0h0m86.5 0h0m7 0h0m130 0h0m5.5 0h0m-235 .5h0m.5 0h0m4.5 0h0m4 0h0m11 0h0m178.5 0h0m31.5 0h0m-241.5 .5h0m1 0h0m3 0h0m3.5 0h0m3.5 0h0m3.5 0h0m17.5 0h0m9 0h0m171 0h0m30.5 0h0m-241.5 .5h0m2.5 0h0m3.5 0h0m10 0h0m3 0h0m89 0h0m6 0h0m12 0h0m112 0h0m-236 .5h0m1 0h0m1 0h0m.5 0h0m1 0h0m1 0h0m1 0h0m1 0h0m2 0h0m3 0h0m1 0h0m2 0h0m4 0h0m2 0h0m9.5 0h0m82.5 0h0m11 0h0m116.5 0h0m-242 .5h0m1 0h0m3.5 0h0m2 0h0m1 0h0m6.5 0h0m1.5 0h0m1 0h0m2.5 0h0m87 0h0m6.5 0h0m-106 .5h0m1.5 0h0m2.5 0h0m6 0h0m3 0h0m1 0h0m.5 0h0m1 0h0m-11.5 .5h0m9 0h0m85.5 0h0m-101.5 .5h0m3.5 0h0m1 0h0m2.5 0h0m.5 0h0m3.5 0h0m4.5 0h0m.5 0h0m.5 0h0m3.5 0h0m-19.5 .5h0m.5 0h0m4.5 0h0m3 0h0m.5 0h0m2.5 0h0m1.5 0h0m1 0h0m2.5 0h0m1 0h0m.5 0h0m2 0h0m2.5 0h0m95.5 0h0m-116 .5h0m4 0h0m3 0h0m1 0h0m.5 0h0m2 0h0m1 0h0m1 0h0m.5 0h0m1 0h0m-10.5 .5h0m1.5 0h0m.5 0h0m2 0h0m1.5 0h0m1 0h0m2 0h0m.5 0h0m4.5 0h0m8 0h0m91 0h0m3 0h0m-117 .5h0m1.5 0h0m2.5 0h0m2.5 0h0m3.5 0h0m2 0h0m4 0h0m93.5 0h0m-112.5 .5h0m1.5 0h0m2 0h0m3.5 0h0m.5 0h0m.5 0h0m.5 0h0m.5 0h0m1.5 0h0m1 0h0m2 0h0m1.5 0h0m.5 0h0m3 0h0m-20 .5h0m5 0h0m1 0h0m1.5 0h0m.5 0h0m2 0h0m.5 0h0m2 0h0m1.5 0h0m3.5 0h0m1.5 0h0m1 0h0m-11.5 .5h0m2.5 0h0m1 0h0m4 0h0m6.5 0h0m89 0h0m10.5 0h0m-112.5 .5h0m5.5 0h0m94 0h0m2 0h0m-101.5 .5h0m1 0h0m-8 .5h0m4 0h0m2.5 0h0m6.5 0h0m2 0h0m4 0h0m-18 .5h0m2 0h0m3 0h0m1 0h0m.5 0h0m.5 0h0m.5 0h0m1.5 0h0m1 0h0m.5 0h0m1.5 0h0m3.5 0h0m83.5 0h0m4.5 0h0m-107.5 .5h0m6.5 0h0m6.5 0h0m4 0h0m2.5 0h0m91.5 0h0m-106.5 .5h0m3 0h0m4.5 0h0m5.5 0h0m4.5 0h0m4 0h0m-10.5 1h0m1.5 0h0m-3.5 .5h0m123.5 0h0m-117 .5h0m.5 0h0m-15 .5h0m130 1.5h0m-125.5 .5h0m15 .5h0m-6.5 .5h0m-9 .5h0m5 0h0m104 .5h0m-105 .5h0m10 2h0m5 0h0m-3 .5h0m86 1.5h0m-1 1h0m2.5 .5h0m98 7h0m.5 0h0m1.5 0h0" stroke="#dd7059" stroke-width="1.20" stroke-linecap="square" stroke-opacity="0.9"/><path d="M332 42.5h0m10 1.5h0m-66.5 1h0m8 0h0m72.5 0h0m1.5 0h0m-76.5 .5h0m7.5 0h0m49 0h0m-61.5 .5h0m6 0h0m6.5 0h0m48 0h0m2.5 0h0m-65 .5h0m12 0h0m2.5 0h0m-10.5 .5h0m1 0h0m10 0h0m70 0h0m-93 .5h0m9.5 0h0m2 0h0m80.5 0h0m-80 .5h0m6 0h0m1 0h0m65 0h0m6 0h0m-78.5 .5h0m2 0h0m3.5 0h0m1 0h0m60 0h0m13.5 0h0m-249.5 .5h0m1.5 0h0m169 0h0m1.5 0h0m.5 0h0m2 0h0m9.5 0h0m40.5 0h0m-65.5 .5h0m6 0h0m4 0h0m6 0h0m53.5 0h0m7 0h0m.5 0h0m1 0h0m-242.5 .5h0m167.5 0h0m8.5 0h0m8.5 0h0m48.5 0h0m8 0h0m8.5 0h0m4 0h0m29.5 0h0m-117 .5h0m5.5 0h0m5.5 0h0m1 0h0m3 0h0m4.5 0h0m69 0h0m-84.5 .5h0m1 0h0m4 0h0m5.5 0h0m2 0h0m6 0h0m60 0h0m-245.5 .5h0m168 0h0m1 0h0m3.5 0h0m2.5 0h0m4.5 0h0m72 0h0m-250 .5h0m163 0h0m89 0h0m4 0h0m-96.5 .5h0m10 0h0m4 0h0m.5 0h0m7 0h0m41.5 0h0m15 0h0m8.5 0h0m-244 .5h0m167.5 0h0m12 0h0m78 0h0m10 0h0m-117.5 .5h0m20.5 0h0m80 0h0m1 0h0m20.5 0h0m-87.5 .5h0m80.5 0h0m10 0h0m-101 .5h0m77.5 0h0m16.5 0h0m-119.5 .5h0m24 0h0m1.5 0h0m79.5 0h0m18 0h0m-100.5 .5h0m100 0h0m-121 .5h0m127 0h0m-123 .5h0m113 0h0m5.5 0h0m-108.5 .5h0m-4.5 .5h0m107.5 0h0m5.5 0h0m.5 0h0m8 0h0m-287.5 .5h0m3 0h0m281.5 0h0m-123 .5h0m117 0h0m-113 .5h0m105 0h0m14.5 0h0m4 0h0m-289.5 .5h0m278 .5h0m-110.5 1h0m106.5 0h0m10.5 0h0m-101 1h0m91.5 0h0m1 0h0m7 0h0m.5 0h0m-117 1h0m16 0h0m2 0h0m-26 .5h0m22.5 0h0m1 0h0m99.5 0h0m-99 .5h0m.5 0h0m2 0h0m-20.5 .5h0m112 .5h0m1 .5h0m-273.5 .5h0m127 0h0m52.5 0h0m4 0h0m-141 1.5h0m3.5 0h0m.5 0h0m1 0h0m76 0h0m33 0h0m19.5 0h0m-133.5 1h0m85 .5h0m-87 .5h0m117 0h0m-133 1h0m21 0h0m1.5 0h0m-12 1h0m8 1h0m-2 .5h0m-11 .5h0m2 .5h0m-.5 1h0m5.5 0h0m7.5 0h0m-13 .5h0m.5 .5h0m-3 .5h0m6.5 1.5h0m198 3h0m2.5 1.5h0m1 0h0m.5 .5h0m-2.5 1.5h0m-215 .5h0m213 0h0m.5 0h0m1 0h0m-.5 .5h0m.5 0h0m-210 .5h0m209.5 0h0m3 0h0m-6 1h0m-210 .5h0m3 1.5h0m25 0h0m200.5 0h0m-2 1h0m-6 .5h0m2 0h0m6.5 0h0m-7 .5h0m-1 .5h0m-214 .5h0m213.5 0h0m-207.5 .5h0m205 0h0m-214 .5h0m7.5 0h0m235.5 0h0m-236 .5h0m209 0h0m1 0h0m9 0h0m-34.5 .5h0m-186 .5h0m1.5 0h0m4.5 0h0m181 0h0m22 0h0m2 0h0m3 0h0m5 0h0m-33.5 .5h0m25.5 0h0m-209 .5h0m.5 0h0m3 0h0m180.5 0h0m30 0h0m5.5 0h0m-218.5 .5h0m1 0h0m.5 0h0m232 0h0m.5 0h0m-230.5 .5h0m214 0h0m16.5 .5h0m-231.5 .5h0m215 0h0m19 0h0m-53.5 .5h0m36.5 2h0m-79.5 .5h0m-3 3h0m72.5 0h0m28 0h0m-147 1h0m145 0h0m-6 1h0m-90 .5h0m-50.5 .5h0m141.5 0h0m-118 1h0m4 0h0m2 0h0m94.5 0h0m-91 .5h0m-10.5 .5h0m4.5 0h0m112.5 0h0m1 0h0m-17 .5h0m-2.5 .5h0m3 0h0m14 0h0m1.5 0h0m-19.5 .5h0m4 0h0m10.5 0h0m3 0h0m1 0h0m.5 0h0m1 0h0m.5 0h0m-118.5 .5h0m1.5 0h0m101.5 0h0m9 0h0m.5 0h0m1.5 0h0m1 0h0m.5 0h0m.5 0h0m1 0h0m-184.5 .5h0m66.5 0h0m115 0h0m1 0h0m2.5 0h0m8.5 0h0m-126.5 .5h0m.5 0h0m98.5 0h0m2 0h0m.5 0h0m.5 0h0m12 0h0m1 0h0m1.5 0h0m1 0h0m6 0h0m-190 .5h0m166 0h0m2 0h0m.5 0h0m.5 0h0m9.5 0h0m1 0h0m-14 .5h0m.5 0h0m2.5 0h0m10 0h0m.5 0h0m.5 0h0m1 0h0m2 0h0m.5 0h0m1.5 0h0m.5 0h0m-116.5 .5h0m99.5 0h0m1.5 0h0m9 0h0m1.5 0h0m1 0h0m1 0h0m6.5 0h0m-88 .5h0m68 0h0m11 0h0m4 0h0m-186.5 .5h0m5 0h0m166 0h0m.5 0h0m1 0h0m8.5 0h0m.5 0h0m.5 0h0m1.5 0h0m1.5 0h0m.5 0h0m1 0h0m-16.5 .5h0m1 0h0m.5 0h0m.5 0h0m-165.5 .5h0m164 0h0m14 0h0m1 0h0m-114 .5h0m99 0h0m.5 0h0m2 0h0m.5 0h0m11.5 0h0m.5 0h0m1 0h0m-178.5 .5h0m164 0h0m2.5 0h0m.5 0h0m.5 0h0m10.5 0h0m-185 .5h0m171 0h0m1.5 0h0m13 0h0m-185 .5h0m99 0h0m73 0h0m1.5 0h0m-174.5 .5h0m4.5 0h0m2.5 0h0m167 0h0m1 0h0m-2.5 .5h0m2 0h0m-183 .5h0m182.5 0h0m-182 .5h0m7.5 0h0m1 0h0m-13.5 1h0m4.5 0h0m10 0h0m175.5 0h0m2.5 0h0m.5 0h0m-188 .5h0m105 0h0m-106.5 .5h0m2.5 0h0m187 0h0m1 0h0m1.5 0h0m-190.5 .5h0m.5 0h0m3 0h0m185.5 0h0m2 0h0m-197.5 .5h0m2 0h0m17 0h0m.5 0h0m7 0h0m.5 0h0m-24.5 .5h0m2.5 0h0m3 0h0m-5.5 .5h0m2 0h0m1 .5h0m104 0h0m7 0h0m-107.5 .5h0m3 0h0m-18.5 .5h0m10 0h0m113 0h0m-112 .5h0m1 0h0m108.5 0h0m-108.5 .5h0m5.5 0h0m102.5 0h0m-113 .5h0m5 0h0m5.5 0h0m16.5 0h0m87.5 0h0m-111 .5h0m-2.5 .5h0m1.5 0h0m2 0h0m5.5 0h0m-15 .5h0m7.5 0h0m106.5 0h0m3.5 0h0m-117 .5h0m12.5 0h0m5 0h0m-12 1h0m1.5 0h0m123 1h0m1.5 1.5h0m-1 2h0m-.5 2.5h0m112 3h0m-217.5 .5h0m-17 .5h0m237 0h0m.5 2h0m-.5 .5h0m-247.5 9h0m240 4h0m33 0h0m-272 1.5h0m-2.5 1h0m1 .5h0m.5 .5h0m-.5 5h0" stroke="#3a87bd" stroke-width="1.20" stroke-linecap="square" stroke-opacity="0.9"/><path d="M323 44.5h0m17 0h0m14 .5h0m-17.5 2h0m-4 .5h0m21 1.5h0m-250.5 .5h0m2 0h0m173.5 0h0m64 0h0m-239 1h0m2.5 0h0m236 0h0m15.5 0h0m-247 .5h0m167 0h0m60 0h0m16.5 0h0m6.5 .5h0m-259 1h0m-1.5 1h0m4.5 .5h0m1 0h0m6 0h0m-.5 .5h0m-8.5 .5h0m.5 0h0m6 0h0m249.5 1h0m-256.5 .5h0m5 0h0m0 .5h0m275 .5h0m0 .5h0m-6.5 .5h0m-272.5 1h0m275.5 .5h0m1 .5h0m-3.5 .5h0m-2 .5h0m5.5 0h0m-3 .5h0m0 .5h0m4 0h0m-2.5 .5h0m-275.5 1h0m54 0h0m218 .5h0m-272 1h0m56.5 0h0m218.5 0h0m-231 .5h0m2.5 1h0m229 .5h0m-227 1h0m.5 1h0m3 0h0m-14 1.5h0m9.5 0h0m-6 .5h0m8.5 0h0m-8.5 .5h0m4.5 0h0m6.5 0h0m-12.5 .5h0m2 .5h0m3 0h0m-1.5 1.5h0m4.5 0h0m-9 .5h0m9.5 .5h0m-10 2h0m5 0h0m1.5 0h0m-7.5 1h0m233 1.5h0m-37 1h0m-186.5 1h0m177 0h0m32.5 0h0m9.5 0h0m-31 .5h0m1 0h0m-6 .5h0m22.5 1h0m1.5 0h0m6.5 0h0m3 0h0m-8 .5h0m-21.5 .5h0m6 .5h0m21 0h0m-5.5 2h0m-206.5 .5h0m2.5 .5h0m201 0h0m-7.5 .5h0m-225 .5h0m3.5 .5h0m-.5 .5h0m3.5 0h0m10 0h0m216 0h0m-230.5 .5h0m1.5 .5h0m218.5 0h0m-206.5 .5h0m1 0h0m207.5 0h0m1.5 0h0m-210.5 .5h0m2.5 0h0m206 0h0m5.5 0h0m3.5 0h0m-221.5 .5h0m187 0h0m27 0h0m-215 .5h0m214 0h0m-211.5 .5h0m3.5 0h0m2 0h0m214.5 0h0m-217 .5h0m3 0h0m203.5 0h0m4.5 0h0m-210.5 .5h0m2 0h0m1 0h0m2.5 0h0m177.5 0h0m-180 1h0m.5 0h0m4.5 0h0m212.5 0h0m-219.5 .5h0m4.5 0h0m206 0h0m6.5 0h0m-217 .5h0m209 0h0m4 0h0m5.5 0h0m-6 1.5h0m5.5 0h0m-.5 1h0m-193.5 2.5h0m-8 .5h0m8 0h0m-8 .5h0m125 0h0m-125 .5h0m7 0h0m90.5 0h0m6 0h0m-102.5 1h0m.5 0h0m7.5 0h0m9 0h0m109 0h0m-122.5 .5h0m1 0h0m2.5 0h0m89 0h0m8 0h0m-93 .5h0m80.5 0h0m4.5 0h0m10.5 0h0m-96.5 .5h0m4 0h0m-13.5 .5h0m3.5 0h0m3 0h0m1.5 0h0m85 0h0m6 0h0m-102.5 .5h0m1.5 0h0m2 0h0m17 0h0m77 0h0m3 0h0m3.5 0h0m4.5 0h0m-96.5 1h0m90.5 0h0m-97 .5h0m91 0h0m4.5 0h0m5 0h0m.5 0h0m-80 .5h0m2.5 0h0m69.5 0h0m2.5 0h0m1.5 0h0m1.5 0h0m1 0h0m3 0h0m-94 .5h0m84 0h0m3 0h0m2.5 0h0m.5 0h0m1 0h0m-7.5 .5h0m1 0h0m4 0h0m3.5 0h0m93.5 0h0m-102.5 .5h0m1.5 0h0m2.5 0h0m4 0h0m.5 0h0m92 0h0m-184 .5h0m87 0h0m2 0h0m113.5 0h0m-199.5 .5h0m6 0h0m3.5 0h0m70 0h0m3 0h0m112.5 0h0m2 0h0m-202 .5h0m1.5 0h0m184.5 0h0m12 0h0m4.5 0h0m-191 .5h0m.5 0h0m73.5 0h0m116.5 0h0m1 0h0m-201 .5h0m2.5 0h0m84.5 0h0m3 0h0m.5 0h0m96 0h0m-190 .5h0m1 .5h0m1 0h0m2.5 0h0m2.5 0h0m197 0h0m6 0h0m-216.5 .5h0m14 0h0m14 0h0m3 0h0m69 0h0m105.5 0h0m10.5 0h0m-215.5 .5h0m124 0h0m2 1h0m-122 1.5h0m10.5 0h0m13 0h0m3 .5h0m-24 .5h0m2.5 0h0m1.5 0h0m1.5 0h0m6 .5h0m15 0h0m86 0h0m-116 .5h0m.5 0h0m9 0h0m3.5 0h0m107 0h0m-123.5 .5h0m13.5 0h0m2.5 0h0m5.5 0h0m10.5 0h0m169.5 0h0m-184 .5h0m-12 .5h0m2.5 .5h0m3.5 0h0m3.5 0h0m.5 0h0m-10.5 .5h0m4 0h0m4.5 0h0m-2.5 .5h0m.5 0h0m2.5 0h0m1 0h0m1 0h0m.5 0h0m9.5 0h0m-23.5 .5h0m7 0h0m1 0h0m1.5 0h0m1 0h0m4.5 0h0m.5 0h0m.5 0h0m-15.5 .5h0m1.5 0h0m6.5 0h0m.5 0h0m1.5 0h0m.5 0h0m.5 0h0m.5 0h0m.5 0h0m109.5 0h0m-121 .5h0m3 0h0m3 0h0m1.5 0h0m2 0h0m3.5 0h0m.5 0h0m-12.5 .5h0m4 0h0m2.5 0h0m.5 0h0m2.5 0h0m1.5 0h0m1.5 0h0m.5 0h0m2.5 0h0m-19.5 .5h0m1.5 0h0m3 0h0m6.5 0h0m7 0h0m-19 .5h0m1.5 0h0m6 0h0m4.5 0h0m.5 0h0m2.5 0h0m3.5 0h0m17 0h0m-33 .5h0m5 0h0m1 0h0m1.5 0h0m.5 0h0m1.5 0h0m.5 0h0m3.5 0h0m.5 0h0m4 0h0m-14.5 .5h0m3 0h0m.5 0h0m.5 0h0m1.5 0h0m1.5 0h0m.5 0h0m1 0h0m1 0h0m2.5 0h0m-11.5 .5h0m3 0h0m3 0h0m3 0h0m.5 0h0m1.5 0h0m.5 0h0m-13 .5h0m1 0h0m1 0h0m1.5 0h0m1 0h0m4.5 0h0m.5 0h0m.5 0h0m3.5 0h0m-15.5 .5h0m.5 0h0m1.5 0h0m4.5 0h0m.5 0h0m5.5 0h0m.5 0h0m8 0h0m112.5 0h0m-127 .5h0m1.5 0h0m2 0h0m3.5 0h0m.5 0h0m1.5 0h0m-8 .5h0m.5 0h0m1.5 0h0m1.5 0h0m2 0h0m1 0h0m1 0h0m9 0h0m-14.5 .5h0m5.5 0h0m-6.5 1h0m5.5 0h0m3 0h0m116 0h0m-130 .5h0m5.5 0h0m7 0h0m-9.5 .5h0m2.5 0h0m6 0h0m-8.5 .5h0m3 0h0m1 0h0m2.5 0h0m120 0h0m-112.5 .5h0m114 0h0m-125 .5h0m4 .5h0m5 0h0m6 1.5h0m-19 3h0m109 1.5h0m131.5 3h0m1 1h0m-132.5 .5h0m134 2h0m-137 2h0m97 3h0m0 .5h0m31 3.5h0m3.5 0h0m30.5 0h0m.5 1h0m.5 0h0m-274.5 1.5h0m274 0h0m1 .5h0m-274.5 .5h0" stroke="#cc4c44" stroke-width="1.20" stroke-linecap="square" stroke-opacity="0.9"/><path d="M278 43h0m64 .5h0m-7 1h0m-228.5 .5h0m239.5 0h0m2 0h0m17 0h0m-83 1h0m-180 .5h0m172.5 0h0m8.5 0h0m-7 .5h0m9.5 0h0m46.5 0h0m15 0h0m-13.5 .5h0m15 0h0m1.5 0h0m-73.5 .5h0m3.5 0h0m55.5 0h0m-57 .5h0m7.5 0h0m50.5 0h0m.5 0h0m7 0h0m-75 .5h0m4.5 0h0m1 0h0m3 0h0m7 0h0m52.5 0h0m15 0h0m2 0h0m-246 .5h0m158.5 0h0m9.5 0h0m.5 0h0m4 0h0m69.5 0h0m32.5 0h0m-114 .5h0m9.5 0h0m4.5 0h0m1.5 0h0m52.5 0h0m-65 .5h0m.5 0h0m8 0h0m10.5 0h0m61 0h0m1 0h0m3.5 0h0m.5 0h0m-87 .5h0m3.5 0h0m3.5 0h0m3 0h0m6.5 0h0m63 0h0m-242.5 .5h0m172 0h0m.5 0h0m60.5 0h0m-235 .5h0m165 0h0m7.5 0h0m4.5 0h0m49 0h0m-223 .5h0m2.5 0h0m154 0h0m10.5 0h0m.5 0h0m1.5 0h0m4 0h0m66.5 0h0m9.5 0h0m-251.5 .5h0m2.5 0h0m160 0h0m.5 0h0m8.5 0h0m6 0h0m54.5 0h0m19.5 0h0m-258 .5h0m7 0h0m2 0h0m231 0h0m-61.5 .5h0m1.5 0h0m79 0h0m-256.5 .5h0m2 0h0m3.5 0h0m1.5 0h0m182 0h0m95.5 0h0m-98 .5h0m56 0h0m14.5 0h0m19.5 0h0m4.5 0h0m5.5 .5h0m-124.5 .5h0m30.5 0h0m-185 .5h0m172.5 0h0m98 0h0m4 0h0m2 0h0m-126 .5h0m5.5 0h0m1.5 0h0m114.5 0h0m13 0h0m-291.5 .5h0m5 0h0m2 0h0m-3.5 .5h0m158.5 0h0m1 0h0m-1.5 .5h0m116.5 0h0m-276 .5h0m161 0h0m-2 .5h0m119.5 0h0m-276 .5h0m154.5 0h0m-156.5 .5h0m6.5 0h0m153 0h0m3.5 0h0m119 0h0m-4.5 .5h0m-101 .5h0m103 0h0m-101.5 1h0m98 0h0m-116.5 .5h0m21 0h0m-181.5 .5h0m162 0h0m19 0h0m2 0h0m.5 0h0m94 0h0m-96.5 .5h0m4.5 0h0m-185 1h0m182 0h0m-54 .5h0m-127 .5h0m166 0h0m10.5 .5h0m-49 .5h0m-.5 .5h0m-2.5 1h0m5.5 1.5h0m-102.5 .5h0m4.5 .5h0m15 0h0m-5 .5h0m6.5 1h0m-8.5 1h0m0 .5h0m.5 .5h0m-.5 .5h0m-10.5 .5h0m7.5 .5h0m-4 1h0m8 .5h0m-6.5 1.5h0m196 1.5h0m3 1.5h0m3.5 0h0m-1.5 1h0m1.5 0h0m-3 .5h0m17 0h0m-20 1h0m.5 .5h0m4 .5h0m1 0h0m15.5 0h0m-16 .5h0m-3 .5h0m-213 1.5h0m16.5 1h0m13 0h0m189 .5h0m11 0h0m2.5 0h0m-10.5 .5h0m8.5 0h0m-32.5 1h0m-193.5 .5h0m12.5 0h0m207.5 0h0m-220 .5h0m7.5 0h0m185.5 0h0m22.5 0h0m2.5 0h0m-221 .5h0m219 0h0m2.5 0h0m5 0h0m21.5 0h0m-28 .5h0m-211 .5h0m3 .5h0m212 0h0m5 0h0m18.5 0h0m-236.5 .5h0m1 0h0m1 0h0m209.5 0h0m24.5 0h0m-236.5 .5h0m221 0h0m.5 0h0m-217.5 .5h0m182.5 0h0m28.5 0h0m-209 .5h0m3.5 0h0m177.5 0h0m-180.5 .5h0m206.5 0h0m23.5 0h0m-230 .5h0m-2 .5h0m183 0h0m25.5 0h0m5.5 0h0m1.5 0h0m16 0h0m-49.5 .5h0m.5 0h0m34 0h0m-35 .5h0m32 0h0m.5 1.5h0m-31 1h0m-46 .5h0m4 .5h0m95 .5h0m-100.5 .5h0m102 1h0m-95 1h0m-53.5 .5h0m6 0h0m13.5 0h0m119 0h0m-1.5 .5h0m3 .5h0m-87 .5h0m68.5 0h0m-95 .5h0m96 0h0m-97.5 1h0m110 0h0m1.5 0h0m-116.5 .5h0m6 0h0m4 0h0m104 0h0m-112 .5h0m3 0h0m.5 0h0m96.5 0h0m13 0h0m-13 .5h0m1 0h0m.5 0h0m10 0h0m2.5 0h0m2 0h0m-187 .5h0m168 0h0m14.5 0h0m1.5 0h0m2 0h0m.5 0h0m-116.5 .5h0m99 0h0m13 0h0m.5 0h0m1.5 0h0m1 0h0m.5 0h0m2 0h0m5.5 0h0m-120.5 .5h0m96 0h0m1.5 0h0m1 0h0m9.5 0h0m1 0h0m.5 0h0m1.5 0h0m1 0h0m2 0h0m7.5 0h0m-26.5 .5h0m.5 0h0m.5 0h0m2 0h0m1 0h0m8.5 0h0m3 0h0m1.5 0h0m1 0h0m.5 0h0m1.5 0h0m-187.5 .5h0m68.5 0h0m101.5 0h0m1 0h0m.5 0h0m.5 0h0m8 0h0m2.5 0h0m.5 0h0m1 0h0m1 0h0m-15 .5h0m10 0h0m1 0h0m1.5 0h0m.5 0h0m.5 0h0m.5 0h0m1.5 0h0m1.5 0h0m-17.5 .5h0m.5 0h0m1.5 0h0m.5 0h0m11.5 0h0m.5 0h0m.5 0h0m.5 0h0m.5 0h0m.5 0h0m.5 0h0m4 0h0m-189 .5h0m102 0h0m68.5 0h0m.5 0h0m.5 0h0m10 0h0m2 0h0m-15 .5h0m.5 0h0m.5 0h0m1.5 0h0m1 0h0m9 0h0m2 0h0m1.5 0h0m6 0h0m-191.5 .5h0m169.5 0h0m.5 0h0m.5 0h0m.5 0h0m.5 0h0m1 0h0m1 0h0m9.5 0h0m1.5 0h0m1.5 0h0m-16.5 .5h0m.5 0h0m.5 0h0m1.5 0h0m.5 0h0m.5 0h0m.5 0h0m7.5 0h0m.5 0h0m-180.5 .5h0m10.5 0h0m160.5 0h0m1 0h0m6.5 0h0m3 0h0m-180.5 .5h0m8 0h0m89 0h0m1 0h0m70.5 0h0m.5 0h0m3 0h0m11 0h0m-181.5 .5h0m167.5 0h0m18.5 0h0m-179 .5h0m90.5 0h0m89 0h0m2.5 0h0m-191 .5h0m1.5 0h0m.5 0h0m3 0h0m165.5 0h0m.5 0h0m-184 .5h0m11 0h0m191 0h0m-185 .5h0m-2.5 .5h0m-16 .5h0m4.5 0h0m18 0h0m84 0h0m5 0h0m78 0h0m-176 .5h0m179.5 0h0m2.5 0h0m-191 .5h0m3 0h0m183.5 0h0m1.5 0h0m-187 .5h0m104 0h0m2 0h0m-116 .5h0m4 0h0m1.5 0h0m5.5 0h0m-2.5 .5h0m.5 0h0m1 0h0m.5 0h0m8 0h0m2 0h0m3 0h0m7.5 0h0m-24.5 .5h0m4 0h0m1 0h0m-10 .5h0m4 0h0m3.5 0h0m1 0h0m12 0h0m96 0h0m-111 .5h0m2 0h0m1.5 0h0m6.5 0h0m14.5 0h0m-26 .5h0m4.5 0h0m1 0h0m6.5 0h0m4.5 0h0m97.5 0h0m-109 .5h0m104.5 0h0m2.5 0h0m1 0h0m-109 .5h0m7 0h0m-6.5 1h0m103 0h0m-106.5 .5h0m1 0h0m3.5 0h0m1 0h0m105.5 0h0m-107.5 1h0m104 0h0m-108 1h0m-9 1.5h0m9.5 0h0m-6.5 .5h0m117 0h0m10 0h0m1.5 0h0m-103.5 1h0m102.5 0h0m1.5 0h0m-126 .5h0m5 .5h0m120 .5h0m-122 2h0m123 0h0m-122 .5h0m18 .5h0m-18.5 1h0m9 2.5h0m4 1h0m224 0h0m0 .5h0m-229 .5h0m-10 1.5h0m14 0h0m83 0h0m6.5 0h0m-105 .5h0m241 0h0m-3 2h0m1 1.5h0m2.5 .5h0m-7.5 3h0m-2.5 1h0m-1 2h0m38 1h0m-2.5 2.5h0m-274.5 1h0m-1 1.5h0m2.5 1.5h0m-1 2h0" stroke="#2a71b2" stroke-width="1.20" stroke-linecap="square" stroke-opacity="0.9"/><path d="M106 49h0m239 1h0m31.5 .5h0m-39.5 1h0m13.5 0h0m-6.5 .5h0m-3 .5h0m12.5 0h0m5.5 0h0m-254.5 .5h0m241 0h0m-243 .5h0m2.5 0h0m242 0h0m-242 .5h0m3 0h0m230 0h0m41 0h0m-39 .5h0m14.5 0h0m2.5 0h0m31 0h0m-285 .5h0m8 0h0m275.5 0h0m-284.5 .5h0m5 0h0m.5 0h0m-1.5 .5h0m251 0h0m-250.5 .5h0m257 0h0m21 .5h0m-281.5 1.5h0m2 0h0m2.5 0h0m2.5 0h0m-7 .5h0m0 1h0m274.5 1.5h0m-88.5 .5h0m89 0h0m-2 .5h0m-270.5 .5h0m271.5 2h0m-224 .5h0m3.5 .5h0m-7 .5h0m7 0h0m-52.5 .5h0m1.5 0h0m44 1h0m0 .5h0m.5 0h0m1 0h0m-9 2h0m9.5 .5h0m-.5 .5h0m3.5 0h0m-13.5 .5h0m9 0h0m-7 .5h0m4.5 0h0m2.5 0h0m1 0h0m-3.5 .5h0m-7 .5h0m1 0h0m4.5 0h0m-2.5 .5h0m2 0h0m-3 .5h0m8 0h0m-7 .5h0m-1 .5h0m1 0h0m3.5 0h0m.5 0h0m-1 .5h0m-6.5 1h0m8 0h0m0 1h0m218.5 0h0m-227 .5h0m222.5 1h0m-27 1.5h0m.5 0h0m-186 .5h0m186.5 0h0m23.5 0h0m1 0h0m-26 .5h0m30.5 0h0m.5 .5h0m-12 1h0m1.5 0h0m7 0h0m4 0h0m-9.5 2h0m5 0h0m-21.5 .5h0m-2 1h0m6.5 1.5h0m-219 .5h0m29.5 0h0m194 0h0m-5 1h0m-215.5 .5h0m2.5 0h0m-7 .5h0m223.5 0h0m3 0h0m-225 .5h0m7.5 0h0m213.5 0h0m3.5 0h0m-219.5 .5h0m6 0h0m210.5 0h0m2 0h0m6 0h0m-8 .5h0m-220 .5h0m12 0h0m209 0h0m-209.5 .5h0m2.5 0h0m207 0h0m5 0h0m-212 1h0m-4.5 .5h0m1 0h0m.5 0h0m1.5 0h0m1.5 0h0m.5 0h0m210 0h0m-210.5 .5h0m210.5 0h0m3 0h0m3 0h0m-218.5 .5h0m217 0h0m-210.5 .5h0m212 1h0m18.5 .5h0m-27.5 1h0m9.5 .5h0m-4 1h0m-185 1.5h0m-6.5 .5h0m3 0h0m-7 .5h0m-2.5 .5h0m7 0h0m-6.5 1h0m4 0h0m11.5 0h0m73 0h0m-87 .5h0m3.5 .5h0m2 0h0m.5 0h0m2.5 0h0m1 0h0m6 0h0m79.5 0h0m.5 0h0m6.5 0h0m-85.5 .5h0m84.5 0h0m-98.5 .5h0m.5 0h0m7 0h0m1.5 0h0m80.5 0h0m3 0h0m.5 0h0m7.5 0h0m-99 .5h0m8.5 0h0m1 0h0m79.5 0h0m7 0h0m1.5 0h0m1 0h0m-95 .5h0m5 0h0m2 0h0m78.5 0h0m1 0h0m3 0h0m2 0h0m-92.5 .5h0m2.5 0h0m1.5 0h0m82 0h0m5 0h0m4 0h0m1 0h0m-92 .5h0m2.5 0h0m82 0h0m2.5 0h0m.5 0h0m.5 0h0m2.5 0h0m2 0h0m.5 0h0m.5 0h0m-100 .5h0m5 0h0m5 0h0m.5 0h0m80 0h0m2.5 0h0m-88.5 .5h0m84 0h0m4.5 0h0m-3 .5h0m2.5 0h0m1.5 0h0m2 0h0m-85 .5h0m77 0h0m2.5 0h0m-82 .5h0m6 0h0m2.5 0h0m73.5 0h0m-84.5 .5h0m.5 0h0m5 0h0m2 0h0m80 0h0m.5 0h0m-5.5 .5h0m5 0h0m2 0h0m25 0h0m82.5 0h0m-114 .5h0m1.5 0h0m.5 0h0m4 0h0m-90.5 .5h0m1.5 0h0m5 0h0m2.5 0h0m80.5 0h0m97 0h0m-186.5 .5h0m2 0h0m7.5 0h0m8.5 0h0m68.5 0h0m-89.5 .5h0m4.5 0h0m205.5 0h0m-212.5 .5h0m10 0h0m2 0h0m-5 .5h0m7 0h0m-13.5 .5h0m191 0h0m-188.5 .5h0m6 0h0m-5.5 1h0m8 .5h0m7.5 0h0m101.5 .5h0m-115.5 .5h0m5 0h0m-7.5 .5h0m8.5 .5h0m.5 0h0m-6 .5h0m5.5 0h0m-2 .5h0m1.5 0h0m.5 0h0m186.5 0h0m3.5 0h0m-204 .5h0m1 0h0m2 0h0m5.5 0h0m8 0h0m103 0h0m-112.5 .5h0m117 0h0m-118.5 .5h0m1 0h0m6 0h0m2.5 0h0m26.5 0h0m-34.5 .5h0m1 0h0m.5 0h0m5.5 0h0m2.5 0h0m10 0h0m-26 .5h0m1.5 0h0m3 0h0m3.5 0h0m2.5 0h0m2.5 0h0m2.5 0h0m-16 .5h0m6.5 0h0m2.5 0h0m2 0h0m1.5 0h0m4.5 0h0m3.5 0h0m7 0h0m-26 .5h0m8 0h0m2 0h0m.5 0h0m1.5 0h0m112 0h0m-117 .5h0m2 0h0m1 0h0m1 0h0m.5 0h0m1 0h0m4 0h0m2.5 0h0m-19 .5h0m4.5 0h0m4 0h0m.5 0h0m.5 0h0m1 0h0m.5 0h0m.5 0h0m2.5 0h0m3 0h0m106 0h0m-118.5 .5h0m2.5 0h0m.5 0h0m1.5 0h0m1.5 0h0m1 0h0m2.5 0h0m3 0h0m99 0h0m-107.5 .5h0m2 0h0m1 0h0m2 0h0m.5 0h0m1.5 0h0m-12 .5h0m2 0h0m7 0h0m-6.5 .5h0m.5 0h0m1.5 0h0m.5 0h0m.5 0h0m2 0h0m4 0h0m.5 0h0m-9.5 .5h0m1 0h0m4 0h0m3 0h0m1.5 0h0m1 0h0m.5 0h0m-14 .5h0m2.5 0h0m5 0h0m4 0h0m-10 .5h0m1.5 0h0m1.5 0h0m3.5 0h0m2 0h0m.5 0h0m2 0h0m-8.5 .5h0m4.5 0h0m2.5 0h0m1.5 0h0m-12.5 .5h0m5.5 0h0m1 0h0m1 0h0m1.5 0h0m3.5 0h0m1.5 0h0m-14.5 .5h0m1.5 0h0m6 0h0m7 0h0m116.5 0h0m-128.5 .5h0m127.5 0h0m-123 .5h0m4 0h0m-13 .5h0m3.5 0h0m9.5 0h0m1 .5h0m118.5 0h0m-126 1h0m2.5 0h0m2.5 0h0m-2 .5h0m3.5 0h0m4 0h0m7.5 .5h0m-18.5 .5h0m126.5 .5h0m-113 1.5h0m.5 7h0m188 5.5h0m0 2h0m.5 .5h0m30.5 1.5h0m.5 1.5h0m-241 1h0m243.5 .5h0m-.5 .5h0m32.5 1.5h0m-.5 .5h0" stroke="#ba2832" stroke-width="1.20" stroke-linecap="square" stroke-opacity="0.9"/><path d="M280 45.5h0m1 1h0m8 0h0m-17 .5h0m.5 0h0m16 0h0m-5.5 .5h0m14.5 0h0m45.5 0h0m5.5 0h0m12 0h0m4 0h0m-79 .5h0m-9.5 .5h0m86 0h0m-94.5 1h0m5 0h0m-165.5 .5h0m240.5 0h0m3 0h0m-246.5 .5h0m176.5 0h0m10.5 0h0m-14.5 .5h0m78.5 0h0m-22 .5h0m6.5 0h0m9 0h0m7.5 0h0m-79.5 .5h0m2 0h0m9.5 0h0m45.5 0h0m19 0h0m28 0h0m-102 .5h0m-.5 .5h0m101.5 0h0m-278 .5h0m164 0h0m10.5 0h0m1.5 0h0m74.5 0h0m12 .5h0m-255 .5h0m173 0h0m68.5 0h0m41 0h0m-284.5 .5h0m158 .5h0m94 .5h0m23 .5h0m.5 0h0m.5 0h0m1 0h0m-280 .5h0m165.5 0h0m-167.5 .5h0m161 0h0m123 0h0m-277.5 1h0m157.5 0h0m7 0h0m-7.5 .5h0m114 .5h0m5 0h0m-282 .5h0m169.5 0h0m103.5 0h0m10 0h0m-283 .5h0m156 0h0m5.5 0h0m8.5 0h0m-165 .5h0m276 0h0m-97.5 .5h0m91.5 1.5h0m-88.5 .5h0m89 0h0m-227.5 1.5h0m141 0h0m86.5 1.5h0m-145 3.5h0m-80.5 1h0m-45 .5h0m33.5 0h0m-1.5 2.5h0m1 0h0m3 .5h0m5 0h0m-2 4h0m2.5 .5h0m191.5 4h0m-1.5 .5h0m-.5 .5h0m3 1.5h0m4 .5h0m9.5 .5h0m-4 1h0m4.5 0h0m-227.5 .5h0m24 0h0m1 0h0m167.5 2h0m23 .5h0m-218.5 .5h0m3 0h0m222.5 0h0m-209.5 .5h0m205 0h0m-207.5 .5h0m212 0h0m-209.5 .5h0m207.5 0h0m1 0h0m22.5 .5h0m-236 .5h0m3.5 0h0m1 0h0m182 0h0m-183.5 .5h0m207.5 0h0m-206 .5h0m.5 0h0m180 0h0m-182.5 .5h0m.5 0h0m2.5 0h0m2 0h0m177.5 0h0m-180.5 1.5h0m208 0h0m24 0h0m-22.5 1h0m-28 .5h0m-39.5 .5h0m94.5 .5h0m-233 .5h0m131.5 2.5h0m101.5 .5h0m-93.5 1h0m92 .5h0m-141 .5h0m14 0h0m30 0h0m96.5 0h0m-146.5 .5h0m16.5 0h0m13 0h0m93 .5h0m18 .5h0m-18.5 1h0m19 0h0m-3 .5h0m-117 .5h0m.5 0h0m118 0h0m-109 .5h0m93 0h0m14 0h0m2 0h0m.5 0h0m-117.5 1h0m97.5 0h0m3 0h0m12.5 0h0m2 0h0m-115 .5h0m1 0h0m7 0h0m105 0h0m4 0h0m1 0h0m-118 .5h0m6.5 0h0m20 0h0m72 0h0m1 0h0m3 0h0m9.5 0h0m4 0h0m-15.5 .5h0m14.5 0h0m1 0h0m2 0h0m-118.5 .5h0m.5 0h0m97.5 0h0m14.5 0h0m1.5 0h0m2.5 0h0m-116 .5h0m98 0h0m3.5 0h0m9.5 0h0m1.5 0h0m.5 0h0m.5 0h0m2 0h0m.5 0h0m1.5 0h0m.5 0h0m.5 0h0m-190 .5h0m170 0h0m1.5 0h0m.5 0h0m.5 0h0m1.5 0h0m9 0h0m2 0h0m.5 0h0m.5 0h0m.5 0h0m1 0h0m1.5 0h0m1 0h0m-189 .5h0m169.5 0h0m2.5 0h0m11.5 0h0m2 0h0m2 0h0m-188 .5h0m170.5 0h0m1 0h0m1.5 0h0m1 0h0m7.5 0h0m3 0h0m1 0h0m.5 0h0m2 0h0m.5 0h0m-16.5 .5h0m9 0h0m4 0h0m1 0h0m1 0h0m5 0h0m1 0h0m-97 .5h0m76 0h0m1 0h0m.5 0h0m9.5 0h0m-11.5 .5h0m.5 0h0m.5 0h0m1 0h0m.5 0h0m12.5 0h0m-200 .5h0m15.5 0h0m171 0h0m2.5 0h0m8 0h0m2.5 0h0m1 0h0m.5 0h0m-92 .5h0m77 0h0m.5 0h0m.5 0h0m9 0h0m3 0h0m8 0h0m-193.5 .5h0m174 0h0m-77.5 .5h0m78.5 0h0m-1 .5h0m1.5 0h0m16.5 0h0m-190.5 .5h0m173 .5h0m-189.5 1h0m4.5 0h0m5 0h0m7 0h0m.5 0h0m2.5 0h0m-14 .5h0m3 0h0m106.5 0h0m82 .5h0m-82.5 .5h0m79.5 0h0m5 0h0m-193 .5h0m3.5 0h0m2.5 0h0m100.5 0h0m1 0h0m.5 0h0m-111.5 .5h0m3 0h0m1.5 0h0m3 0h0m105.5 0h0m-110.5 .5h0m3 0h0m1.5 .5h0m1 0h0m1.5 0h0m100 0h0m2 0h0m3 0h0m-112.5 .5h0m3 0h0m0 .5h0m1.5 0h0m-6 .5h0m110.5 0h0m-110.5 .5h0m1.5 0h0m15 0h0m96 0h0m-106 .5h0m2 0h0m100.5 0h0m-108.5 .5h0m-.5 .5h0m1 0h0m1.5 0h0m1.5 0h0m110 0h0m-110.5 .5h0m2 0h0m.5 0h0m106.5 0h0m-107.5 .5h0m104 .5h0m4 .5h0m-113 .5h0m4.5 0h0m4.5 0h0m-8 1h0m-5 .5h0m21 .5h0m-17 1.5h0m13.5 3.5h0m1 .5h0m-10.5 2h0m1 .5h0m13 .5h0m-2 1.5h0m-13.5 2h0m235.5 2h0m-136.5 .5h0m132.5 9.5h0m32.5 2.5h0" stroke="#1a5899" stroke-width="1.20" stroke-linecap="square" stroke-opacity="0.9"/><path d="M367.5 41.5h0m-30.5 3h0m-14 2h0m21.5 .5h0m-6.5 1.5h0m3.5 0h0m-238 1h0m1 0h0m1 0h0m243 0h0m-249 .5h0m254 0h0m-4 .5h0m-76.5 .5h0m72 0h0m-242.5 .5h0m.5 0h0m4 .5h0m244 0h0m-244.5 .5h0m239 0h0m-242.5 .5h0m1 .5h0m-4.5 .5h0m5.5 0h0m.5 0h0m1 0h0m244.5 0h0m12 0h0m-259 .5h0m257.5 1h0m27.5 0h0m-286 .5h0m2 .5h0m4.5 .5h0m269.5 0h0m-29 .5h0m-239 .5h0m268 0h0m6.5 0h0m-278 .5h0m273.5 0h0m-4 .5h0m-274.5 1h0m1 0h0m272.5 0h0m4 0h0m-5 1h0m3 0h0m9 0h0m-9 1h0m3.5 0h0m-95 .5h0m90 0h0m2.5 1.5h0m3.5 0h0m-7 .5h0m-219.5 .5h0m220 .5h0m-225.5 .5h0m-3 .5h0m230.5 0h0m-275.5 2h0m51.5 .5h0m-15.5 1.5h0m12.5 0h0m2.5 0h0m-12 .5h0m8 0h0m1 0h0m-15 .5h0m2 0h0m14.5 0h0m-17.5 1h0m15 0h0m2.5 0h0m-12 .5h0m3.5 0h0m-4.5 .5h0m9.5 0h0m-8 .5h0m5 .5h0m-7.5 .5h0m4.5 .5h0m-1.5 .5h0m-1.5 .5h0m2.5 1.5h0m6 1.5h0m.5 1h0m212 1.5h0m-24 3.5h0m-210 1h0m-4.5 .5h0m8 0h0m-4 2h0m2.5 .5h0m-1 .5h0m218.5 .5h0m-221.5 .5h0m3 0h0m5 0h0m8.5 0h0m205 0h0m-221 .5h0m3.5 0h0m1.5 0h0m2 .5h0m214.5 0h0m1.5 0h0m7 0h0m-229 .5h0m10.5 0h0m219 0h0m.5 0h0m-34.5 .5h0m-184.5 1h0m3.5 0h0m-3 .5h0m210 0h0m1.5 0h0m-211 .5h0m3 0h0m0 .5h0m.5 0h0m1 0h0m-3.5 .5h0m5 0h0m1 .5h0m204 .5h0m25 0h0m-89 3h0m-123 3.5h0m3.5 0h0m2.5 0h0m3.5 .5h0m-8 1.5h0m94 0h0m-82.5 .5h0m74.5 0h0m-83.5 .5h0m89.5 0h0m-92 .5h0m2.5 0h0m4 0h0m4 .5h0m1 .5h0m78.5 0h0m1 0h0m1 0h0m6 0h0m104.5 0h0m-198.5 .5h0m1.5 0h0m2.5 0h0m87.5 0h0m-98.5 .5h0m99.5 0h0m-95.5 .5h0m2.5 0h0m85 0h0m2.5 0h0m1.5 0h0m-93 .5h0m88.5 0h0m2 0h0m-83 .5h0m80 0h0m-88 .5h0m5.5 0h0m7.5 0h0m76 0h0m-90.5 .5h0m9 0h0m13 0h0m72 0h0m2 0h0m-94 .5h0m5 0h0m.5 0h0m6 0h0m83 0h0m-95.5 .5h0m1.5 0h0m95 0h0m-92.5 1h0m6.5 0h0m191 0h0m-198.5 .5h0m3.5 0h0m3 .5h0m12 0h0m-13 .5h0m1 0h0m192 0h0m8 0h0m-204 .5h0m9.5 0h0m177.5 0h0m-185 1h0m17.5 1h0m-19.5 .5h0m16.5 0h0m-23.5 .5h0m21.5 0h0m-19 .5h0m6 .5h0m1.5 0h0m12 0h0m-20.5 .5h0m1.5 0h0m1.5 0h0m5.5 0h0m-5 .5h0m112 0h0m-110.5 .5h0m3.5 0h0m.5 0h0m2 0h0m109 0h0m-117 .5h0m-2.5 .5h0m9 0h0m2.5 0h0m100.5 0h0m-111.5 .5h0m.5 0h0m2.5 0h0m4 0h0m2.5 0h0m.5 0h0m-11 .5h0m2.5 0h0m1 0h0m2 0h0m.5 0h0m1 0h0m3.5 0h0m1 0h0m5 0h0m-16 .5h0m6 0h0m1 0h0m.5 0h0m1 0h0m4.5 0h0m.5 0h0m3 0h0m-19 .5h0m3.5 0h0m2 0h0m.5 0h0m3 0h0m1 0h0m.5 0h0m1 0h0m1 0h0m2.5 0h0m-6 .5h0m1 0h0m2 0h0m1 0h0m3 0h0m-17 .5h0m2 0h0m.5 0h0m5 0h0m.5 0h0m3 0h0m1 0h0m1.5 0h0m.5 0h0m2 0h0m3 0h0m18 0h0m-35 .5h0m1.5 0h0m1 0h0m.5 0h0m3 0h0m1.5 0h0m.5 0h0m2.5 0h0m2 0h0m1 0h0m-14.5 .5h0m2.5 0h0m4 0h0m1 0h0m.5 0h0m4.5 0h0m1 0h0m1 0h0m102.5 0h0m-115 .5h0m2 0h0m2.5 0h0m1 0h0m2.5 0h0m.5 0h0m1 0h0m-10 .5h0m4 0h0m3 0h0m2.5 0h0m1 0h0m.5 0h0m.5 0h0m1.5 0h0m3.5 0h0m-18.5 .5h0m6.5 0h0m1.5 0h0m4.5 0h0m5.5 0h0m2.5 0h0m-20.5 .5h0m.5 0h0m1 0h0m5 0h0m.5 0h0m.5 0h0m.5 0h0m1 0h0m3.5 0h0m3 0h0m-11 .5h0m3.5 0h0m.5 0h0m.5 0h0m1 0h0m2.5 0h0m2.5 0h0m-12 .5h0m2.5 0h0m1 0h0m2 0h0m.5 0h0m2 0h0m.5 0h0m.5 0h0m2 0h0m-11 .5h0m2 0h0m1.5 0h0m2 0h0m124 0h0m-125 .5h0m5.5 0h0m-9.5 .5h0m3.5 0h0m.5 0h0m.5 0h0m125.5 0h0m-127.5 .5h0m4 0h0m123 0h0m-129.5 .5h0m-1.5 .5h0m8 0h0m1 .5h0m2 0h0m12.5 3.5h0m-6 3.5h0m95 3h0m132.5 7h0m-39 .5h0m.5 2h0m36 2.5h0m-6.5 .5h0m2.5 1h0m-241.5 1.5h0" stroke="#9f1228" stroke-width="1.20" stroke-linecap="square" stroke-opacity="0.9"/><path d="M111 51h0m-7.5 .5h0m1 1h0m-1.5 1.5h0m2.5 0h0m1.5 .5h0m0 2.5h0m1 .5h0m-3.5 1h0m33 33h0m-3 1h0m5 0h0m-3.5 .5h0m1.5 0h0m1.5 1.5h0m.5 .5h0m1.5 0h0m4 0h0m-4 .5h0m-2.5 .5h0m.5 .5h0m3 .5h0m140.5 3h0m-7.5 1h0m6 1h0m-2 1h0m.5 0h0m1.5 0h0m-5.5 1.5h0m6.5 .5h0m-33.5 1h0m13 0h0m22 0h0m67.5 0h0m-90.5 1h0m109.5 0h0m-110.5 1h0m88.5 0h0m3.5 0h0m1.5 0h0m-5 1h0m3 0h0m1.5 0h0m-100.5 .5h0m100.5 0h0m13 0h0m1.5 0h0m1 0h0m-108.5 .5h0m88.5 0h0m2 0h0m14 0h0m.5 0h0m-1 .5h0m2 0h0m1 0h0m.5 0h0m1.5 0h0m-117.5 .5h0m2.5 0h0m2 0h0m2 0h0m93.5 0h0m9.5 0h0m4.5 0h0m-114 .5h0m6.5 0h0m92.5 0h0m2.5 0h0m9 0h0m4.5 0h0m.5 0h0m.5 0h0m.5 0h0m.5 0h0m1 0h0m-118 .5h0m100.5 0h0m.5 0h0m8.5 0h0m2.5 0h0m1.5 0h0m.5 0h0m.5 0h0m2 0h0m1.5 0h0m-119 .5h0m1.5 0h0m97.5 0h0m1 0h0m2.5 0h0m1 0h0m7.5 0h0m2.5 0h0m3 0h0m.5 0h0m-16.5 .5h0m.5 0h0m.5 0h0m1 0h0m.5 0h0m8 0h0m1 0h0m4 0h0m1 0h0m1 0h0m-117 .5h0m99.5 0h0m.5 0h0m1 0h0m1 0h0m.5 0h0m9.5 0h0m.5 0h0m.5 0h0m3.5 0h0m.5 0h0m.5 0h0m-117.5 .5h0m1 0h0m100 0h0m.5 0h0m1 0h0m11.5 0h0m1 0h0m.5 0h0m-116 .5h0m100 0h0m1 0h0m.5 0h0m.5 0h0m1.5 0h0m9 0h0m1 0h0m1 0h0m2.5 0h0m-15 .5h0m1.5 0h0m.5 0h0m9 0h0m2 0h0m1.5 0h0m.5 0h0m4 0h0m-20 .5h0m1 0h0m1 0h0m11 0h0m3 0h0m-15 .5h0m2 0h0m.5 0h0m7.5 0h0m1 0h0m1 0h0m.5 0h0m2 0h0m1 0h0m3.5 0h0m-198 .5h0m107.5 0h0m71 0h0m.5 0h0m13.5 0h0m1 0h0m-14.5 .5h0m-73.5 1h0m-109.5 1h0m6 0h0m102 0h0m78.5 0h0m1 1h0m-185.5 .5h0m1 0h0m-2.5 .5h0m4 0h0m107 0h0m-107 .5h0m-3 .5h0m1 0h0m1 0h0m6 0h0m98 0h0m-108 .5h0m2 0h0m1.5 0h0m1.5 0h0m1 0h0m-3.5 .5h0m106.5 0h0m1.5 0h0m-117 .5h0m6.5 0h0m4.5 0h0m2 0h0m1.5 0h0m-5.5 .5h0m107 0h0m-107 .5h0m5.5 0h0m104 0h0m-113.5 .5h0m7.5 0h0m.5 .5h0m102 0h0m-111.5 .5h0m5 0h0m1.5 0h0m1.5 0h0m-3 .5h0m1 0h0m110.5 0h0m-116.5 .5h0m3 0h0m1 0h0m3 0h0m4 0h0m99 0h0m4 0h0m1.5 0h0m-114 .5h0m2.5 0h0m3 0h0m0 .5h0m-7 1h0m14 0h0m-3.5 .5h0m2 0h0m-4 1.5h0m101.5 0h0m-106.5 .5h0m2 0h0" stroke="#0c3d73" stroke-width="1.20" stroke-linecap="square" stroke-opacity="0.9"/><path d="M349 46.5h0m-16 .5h0m22.5 0h0m-12.5 .5h0m6.5 0h0m-246 .5h0m252 0h0m-247.5 1h0m3 .5h0m216.5 0h0m22 0h0m-245.5 .5h0m5 0h0m252.5 0h0m-257.5 1h0m244.5 0h0m-242 .5h0m219.5 0h0m-223 .5h0m252 0h0m4.5 0h0m-256 .5h0m246.5 0h0m15.5 0h0m-262.5 .5h0m252 0h0m-249 .5h0m247 0h0m-245.5 .5h0m246 0h0m-248 .5h0m-3.5 .5h0m2.5 0h0m7 0h0m246 0h0m-250.5 1h0m2 1.5h0m252.5 .5h0m-259 .5h0m4 0h0m-3 1.5h0m3.5 0h0m271 1h0m-2.5 .5h0m2.5 3h0m0 .5h0m-227.5 3.5h0m1 0h0m-6 .5h0m3 .5h0m4.5 0h0m-4 .5h0m-11 .5h0m5 0h0m6 0h0m-10 2h0m3.5 0h0m8.5 0h0m-6 .5h0m3.5 0h0m1.5 0h0m-11 .5h0m4 0h0m5 0h0m-7.5 .5h0m3 0h0m5.5 0h0m4.5 0h0m-14.5 .5h0m10 0h0m-5.5 .5h0m4 0h0m-9.5 .5h0m1.5 0h0m4.5 0h0m2.5 1h0m-4 1h0m1.5 0h0m-8.5 .5h0m4 0h0m-2.5 1h0m-11.5 4h0m3 2h0m-1 1h0m-1.5 2h0m1.5 0h0m14 .5h0m204.5 0h0m-220.5 1.5h0m.5 0h0m217 .5h0m-211 1.5h0m6 .5h0m-7 .5h0m8 0h0m-3.5 .5h0m4 .5h0m1 0h0m.5 0h0m203.5 0h0m4 0h0m-211 .5h0m2.5 0h0m2 0h0m203 0h0m-202.5 .5h0m-4 .5h0m3 0h0m2.5 0h0m.5 0h0m203 0h0m-207 .5h0m1.5 0h0m-2.5 1h0m2 0h0m1 0h0m0 1h0m1 .5h0m107.5 5.5h0m-89 2h0m5 .5h0m2 .5h0m-6.5 .5h0m88.5 1h0m-87.5 1.5h0m7.5 0h0m1.5 .5h0m-5 .5h0m4.5 0h0m5.5 0h0m-16.5 .5h0m4.5 0h0m4 .5h0m-2.5 .5h0m3 0h0m.5 0h0m-7.5 .5h0m5.5 0h0m.5 0h0m1.5 0h0m2.5 0h0m77 0h0m-83 .5h0m.5 0h0m1 .5h0m1 .5h0m-6.5 .5h0m3.5 0h0m10.5 0h0m-13 .5h0m-2 .5h0m7 .5h0m5.5 0h0m3 0h0m-6 .5h0m-8.5 .5h0m3 0h0m4 0h0m5.5 1.5h0m-15.5 .5h0m14 0h0m-10 .5h0m5.5 0h0m2.5 0h0m.5 0h0m4.5 0h0m-2 .5h0m-6.5 .5h0m10 0h0m-16.5 .5h0m2.5 0h0m2 0h0m1.5 0h0m2.5 0h0m-6.5 .5h0m2 0h0m2.5 0h0m3.5 0h0m2 0h0m-13 .5h0m.5 0h0m2 0h0m5 0h0m2.5 0h0m4.5 0h0m-18.5 .5h0m8 0h0m2.5 0h0m4.5 0h0m1.5 0h0m2.5 0h0m-11 .5h0m2 0h0m8.5 0h0m1.5 0h0m-17 .5h0m1 0h0m6 0h0m.5 0h0m.5 0h0m.5 0h0m.5 0h0m1 0h0m.5 0h0m3 0h0m1 0h0m-14.5 .5h0m8.5 0h0m.5 0h0m.5 0h0m.5 0h0m1 0h0m.5 0h0m2 0h0m1 0h0m-17.5 .5h0m2.5 0h0m4.5 0h0m5 0h0m2 0h0m4 0h0m-19 .5h0m5 0h0m2 0h0m4.5 0h0m1.5 0h0m1.5 0h0m1 0h0m-4.5 .5h0m1 0h0m2 0h0m1 0h0m1.5 0h0m.5 0h0m-8.5 .5h0m3 0h0m.5 0h0m.5 0h0m1 0h0m1 0h0m.5 0h0m1 0h0m1 0h0m2 0h0m3.5 0h0m.5 0h0m-14 .5h0m1 0h0m.5 0h0m2 0h0m.5 0h0m2 0h0m.5 0h0m1 0h0m2.5 0h0m.5 0h0m-12 .5h0m4 0h0m2.5 0h0m.5 0h0m1.5 0h0m1 0h0m2.5 0h0m-13 .5h0m1.5 0h0m3.5 0h0m.5 0h0m1 0h0m3.5 0h0m.5 0h0m-12 .5h0m7 0h0m.5 0h0m1 0h0m1 0h0m.5 0h0m-10 .5h0m1.5 0h0m3.5 0h0m3.5 0h0m3 0h0m-10 .5h0m7.5 0h0m1.5 0h0m1.5 0h0m-2.5 .5h0m10.5 0h0m-15.5 1h0m-2.5 1h0m5 0h0m6.5 .5h0m-11 1h0m9.5 1.5h0m5.5 .5h0m-10 .5h0m199 13h0m32 5h0m-2 1h0m1.5 0h0m4.5 0h0m1 0h0" stroke="#790622" stroke-width="1.20" stroke-linecap="square" stroke-opacity="0.9"/><g font-family='"Liberation Serif", serif'><rect x="44.8" y="111.0" width="101.8" height="70" fill="#fff"/><clipPath id="ccin"><rect x="58.40" y="119.60" width="85.90" height="43.50"/></clipPath><rect x="58.40" y="119.60" width="85.90" height="43.50" fill="#fff"/><g clip-path="url(#ccin)"><path d="M62.20 143.95L64.81 143.90L67.42 143.81L70.03 143.69L72.64 143.53L75.25 143.33L77.86 143.10L80.47 142.83L83.08 142.52L85.69 142.17L88.30 141.79L90.91 141.37L93.52 140.92L96.13 140.42L98.74 139.89L101.35 139.32L103.96 138.72L106.57 138.08L109.18 137.40L111.79 136.69L114.40 135.93L117.01 135.14L119.62 134.32L122.23 133.45L124.84 132.55L127.45 131.62L130.06 130.64L132.67 129.63L135.28 128.58L137.89 127.50L140.50 126.37L140.50 142.10L137.89 142.27L135.28 142.47L132.67 142.69L130.06 142.95L127.45 143.23L124.84 143.54L122.23 143.88L119.62 144.25L117.01 144.65L114.40 145.08L111.79 145.54L109.18 146.02L106.57 146.54L103.96 147.08L101.35 147.65L98.74 148.25L96.13 148.88L93.52 149.54L90.91 150.22L88.30 150.94L85.69 151.68L83.08 152.46L80.47 153.26L77.86 154.09L75.25 154.95L72.64 155.84L70.03 156.75L67.42 157.70L64.81 158.67L62.20 159.67Z" fill="#000000" fill-opacity="0.25"/><path d="M62.20 152.28L68.73 153.57L75.25 148.02L81.78 140.25L88.30 145.80L94.83 150.42L101.35 153.20L107.88 133.77L114.40 138.77L120.92 144.88L127.45 147.65L133.97 136.92L140.50 126.37" fill="none" stroke="#000000" stroke-opacity="0.45" stroke-width="0.80"/><circle cx="62.20" cy="152.28" r="1.80" fill="#000000" fill-opacity="0.38"/><circle cx="68.73" cy="153.57" r="1.80" fill="#000000" fill-opacity="0.38"/><circle cx="75.25" cy="148.02" r="1.80" fill="#000000" fill-opacity="0.38"/><circle cx="81.78" cy="140.25" r="1.80" fill="#000000" fill-opacity="0.38"/><circle cx="88.30" cy="145.80" r="1.80" fill="#000000" fill-opacity="0.38"/><circle cx="94.83" cy="150.42" r="1.80" fill="#000000" fill-opacity="0.38"/><circle cx="101.35" cy="153.20" r="1.80" fill="#000000" fill-opacity="0.38"/><circle cx="107.88" cy="133.77" r="1.80" fill="#000000" fill-opacity="0.38"/><circle cx="114.40" cy="138.77" r="1.80" fill="#000000" fill-opacity="0.38"/><circle cx="120.92" cy="144.88" r="1.80" fill="#000000" fill-opacity="0.38"/><circle cx="127.45" cy="147.65" r="1.80" fill="#000000" fill-opacity="0.38"/><circle cx="133.97" cy="136.92" r="1.80" fill="#000000" fill-opacity="0.38"/><circle cx="140.50" cy="126.37" r="1.80" fill="#000000" fill-opacity="0.38"/><line x1="62.20" y1="150.42" x2="140.50" y2="134.70" stroke="#000" stroke-width="1.00" stroke-dasharray="3.6 2.2"/><path d="M62.20 151.91L68.73 151.35L75.25 147.65L81.78 145.43L88.30 146.17L94.83 150.24L101.35 145.98L107.88 141.73L114.40 139.32L120.92 143.95L127.45 142.84L133.97 136.55L140.50 131.37" fill="none" stroke="#000000" stroke-width="1.20"/><circle cx="62.20" cy="151.91" r="2.00" fill="#000000"/><circle cx="68.73" cy="151.35" r="2.00" fill="#000000"/><circle cx="75.25" cy="147.65" r="2.00" fill="#000000"/><circle cx="81.78" cy="145.43" r="2.00" fill="#000000"/><circle cx="88.30" cy="146.17" r="2.00" fill="#000000"/><circle cx="94.83" cy="150.24" r="2.00" fill="#000000"/><circle cx="101.35" cy="145.98" r="2.00" fill="#000000"/><circle cx="107.88" cy="141.73" r="2.00" fill="#000000"/><circle cx="114.40" cy="139.32" r="2.00" fill="#000000"/><circle cx="120.92" cy="143.95" r="2.00" fill="#000000"/><circle cx="127.45" cy="142.84" r="2.00" fill="#000000"/><circle cx="133.97" cy="136.55" r="2.00" fill="#000000"/><circle cx="140.50" cy="131.37" r="2.00" fill="#000000"/></g><rect x="60.80" y="120.90" width="57.60" height="8.20" rx="1.6" fill="#fff" stroke="#222" stroke-width="0.8"/><text x="89.60" y="125.90" font-size="5.60" fill="#111" text-anchor="middle" textLength="54.00" lengthAdjust="spacingAndGlyphs">Rate: 2.89%/yr (p&lt;0.05)</text><text x="129.80" y="126.10" font-size="7" font-weight="bold" fill="#222">a</text><rect x="58.40" y="119.60" width="85.90" height="43.50" fill="none" stroke="#8c8c8c" stroke-width="0.90"/><g fill="#111"><line x1="55.40" y1="153.20" x2="58.40" y2="153.20" stroke="#222" stroke-width="0.8"/><text x="54.20" y="156.10" text-anchor="end" font-size="6.00">2</text><line x1="55.40" y1="134.70" x2="58.40" y2="134.70" stroke="#222" stroke-width="0.8"/><text x="54.20" y="137.60" text-anchor="end" font-size="6.00">3</text><line x1="62.20" y1="163.10" x2="62.20" y2="166.10" stroke="#222" stroke-width="0.8"/><text transform="translate(61.90 172.60) rotate(-45)" text-anchor="middle" dy="0.34em" font-size="6.00">2012</text><line x1="75.25" y1="163.10" x2="75.25" y2="166.10" stroke="#222" stroke-width="0.8"/><text transform="translate(74.95 172.60) rotate(-45)" text-anchor="middle" dy="0.34em" font-size="6.00">2014</text><line x1="88.30" y1="163.10" x2="88.30" y2="166.10" stroke="#222" stroke-width="0.8"/><text transform="translate(88.00 172.60) rotate(-45)" text-anchor="middle" dy="0.34em" font-size="6.00">2016</text><line x1="101.35" y1="163.10" x2="101.35" y2="166.10" stroke="#222" stroke-width="0.8"/><text transform="translate(101.05 172.60) rotate(-45)" text-anchor="middle" dy="0.34em" font-size="6.00">2018</text><line x1="114.40" y1="163.10" x2="114.40" y2="166.10" stroke="#222" stroke-width="0.8"/><text transform="translate(114.10 172.60) rotate(-45)" text-anchor="middle" dy="0.34em" font-size="6.00">2020</text><line x1="127.45" y1="163.10" x2="127.45" y2="166.10" stroke="#222" stroke-width="0.8"/><text transform="translate(127.15 172.60) rotate(-45)" text-anchor="middle" dy="0.34em" font-size="6.00">2022</text><line x1="140.50" y1="163.10" x2="140.50" y2="166.10" stroke="#222" stroke-width="0.8"/><text transform="translate(140.20 172.60) rotate(-45)" text-anchor="middle" dy="0.34em" font-size="6.00">2024</text></g><text x="58.10" y="117.80" font-size="5.75" fill="#1a1a1a">×10<tspan dy="-2.59" font-size="4.02">6</tspan></text><text transform="translate(48.2 141.1) rotate(-90)" text-anchor="middle" font-size="5.6" fill="#111">Number of Fires</text></g><path d="M322.70 152.90L322.70 130.30A22.60 22.60 0 0 0 321.14 175.45Z" fill="#ea4242" stroke="#fff" stroke-width="0.6"/><path d="M322.70 152.90L321.14 175.45A22.60 22.60 0 1 0 322.70 130.30Z" fill="#3571a8" stroke="#fff" stroke-width="0.6"/><g font-family='"Liberation Serif", serif' font-size="6.0" fill="#1a1a1a" text-anchor="middle"><text x="311.90" y="155.10">51.1%</text><text x="334.10" y="155.10">48.9%</text></g></g><rect x="39.70" y="10.90" width="398.60" height="169.50" fill="none" stroke="#333" stroke-width="0.85"/><g font-family='"Liberation Serif", serif' font-size="8.45" fill="#111"><text x="36.00" y="25.40" text-anchor="end">80°N</text><text x="36.00" y="48.00" text-anchor="end">60°N</text><text x="36.00" y="70.60" text-anchor="end">40°N</text><text x="36.00" y="93.20" text-anchor="end">20°N</text><text x="36.00" y="115.80" text-anchor="end">0°</text><text x="36.00" y="138.40" text-anchor="end">20°S</text><text x="36.00" y="161.00" text-anchor="end">40°S</text><text x="39.70" y="190.90" text-anchor="middle">180°W</text><text x="72.92" y="190.90" text-anchor="middle">150°W</text><text x="106.13" y="190.90" text-anchor="middle">120°W</text><text x="139.35" y="190.90" text-anchor="middle">90°W</text><text x="172.57" y="190.90" text-anchor="middle">60°W</text><text x="205.78" y="190.90" text-anchor="middle">30°W</text><text x="239.00" y="190.90" text-anchor="middle">0°</text><text x="272.22" y="190.90" text-anchor="middle">30°E</text><text x="305.43" y="190.90" text-anchor="middle">60°E</text><text x="338.65" y="190.90" text-anchor="middle">90°E</text><text x="371.87" y="190.90" text-anchor="middle">120°E</text><text x="405.08" y="190.90" text-anchor="middle">150°E</text><text x="438.30" y="190.90" text-anchor="middle">180°E</text></g><clipPath id="clip2"><rect x="40.20" y="199.40" width="398.60" height="169.80"/></clipPath><g clip-path="url(#clip2)"><g transform="translate(40.200 199.400) scale(1.10722 1.13200)"><path d="M12.0 24.4L14.0 23.8L17.0 23.5L15.5 22.5L13.2 21.7L14.0 21.1L17.0 20.0L21.0 19.2L23.5 18.7L28.0 19.2L32.0 19.7L37.0 19.9L39.0 20.3L43.0 21.0L45.0 20.7L48.0 20.3L51.0 20.0L53.0 20.2L55.0 20.6L55.5 19.9L58.0 20.2L62.0 20.8L65.0 21.2L68.0 22.2L72.0 21.7L75.0 21.4L78.0 22.2L82.0 21.8L84.0 22.0L85.0 21.5L85.7 20.5L84.5 19.5L85.5 18.0L87.5 18.5L89.0 20.0L91.5 20.5L92.0 21.5L94.0 21.5L95.0 20.2L98.0 20.5L98.5 21.5L98.7 23.0L96.5 23.8L94.0 23.5L93.0 24.7L92.0 25.8L89.5 26.5L89.0 27.2L86.0 29.0L85.5 30.5L85.8 31.2L87.5 32.8L90.0 33.0L92.0 33.5L95.0 34.7L97.7 34.9L97.8 37.1L99.3 38.6L100.7 38.5L101.2 36.0L103.0 34.5L103.3 32.5L102.3 30.5L102.2 29.2L102.5 27.5L106.0 27.7L109.0 28.9L110.5 30.5L110.2 31.2L112.5 31.7L114.0 31.2L115.0 30.2L115.5 29.6L116.5 31.2L118.0 32.5L119.5 34.3L122.5 35.7L124.3 37.7L123.0 38.5L120.0 39.8L116.0 39.8L113.5 40.0L112.0 40.8L109.5 43.0L110.5 42.2L113.5 40.9L115.7 41.2L115.0 42.0L115.2 43.0L116.5 44.2L119.0 44.3L120.0 43.8L118.5 44.9L116.0 45.5L114.2 46.3L113.8 45.5L115.5 44.7L113.2 44.9L112.5 45.5L111.0 46.0L109.5 46.8L109.3 48.0L110.0 48.2L108.5 48.7L106.5 49.1L106.0 49.4L105.8 50.5L105.0 51.2L104.5 52.0L103.8 52.5L104.0 53.5L104.5 54.8L102.5 55.7L101.0 56.8L99.0 58.0L98.6 59.5L99.4 61.5L99.9 63.5L99.5 64.8L98.8 64.7L98.2 63.7L97.3 62.4L97.2 61.0L96.0 60.0L94.5 60.3L92.5 59.7L91.0 59.7L90.7 61.0L89.5 60.8L88.0 60.4L86.5 60.3L85.0 60.7L82.8 62.5L82.5 64.5L82.2 67.5L82.8 69.5L84.0 71.0L85.5 71.8L87.5 71.4L89.0 71.0L89.5 69.0L92.0 68.5L93.0 68.6L92.5 70.5L91.7 72.5L91.5 74.0L94.0 74.1L96.7 75.0L96.5 76.5L96.3 78.5L97.0 80.0L98.5 81.1L99.8 80.8L100.5 80.4L102.0 80.8L102.7 81.4L102.2 82.5L101.5 81.8L100.3 81.5L99.6 82.6L98.5 82.0L96.5 81.6L94.3 80.1L94.3 78.8L92.5 77.0L90.5 76.5L88.5 76.0L87.0 74.5L85.2 73.8L83.5 74.3L81.5 73.7L79.0 72.7L76.5 71.7L74.5 69.5L74.8 68.5L74.0 67.0L71.5 64.5L70.0 62.7L68.0 61.2L67.0 59.0L65.2 58.3L65.8 60.0L67.5 62.5L68.8 64.5L69.7 65.8L70.1 67.1L69.0 65.8L67.8 65.2L67.5 63.5L66.0 62.3L65.0 61.7L64.2 59.6L62.9 57.5L62.5 56.5L61.5 56.0L59.4 55.4L58.1 53.4L57.5 52.2L56.2 50.2L55.7 48.5L55.9 46.5L56.1 43.8L55.3 41.6L57.0 41.8L57.5 42.6L57.3 41.1L56.8 40.5L55.0 39.7L52.5 38.7L52.0 37.5L50.5 36.5L49.7 35.4L48.5 34.2L47.0 33.0L45.5 31.7L44.0 30.9L42.2 31.3L40.2 30.3L38.0 29.9L35.5 29.8L33.5 29.0L31.5 29.5L29.5 30.5L28.2 30.8L29.2 29.2L29.5 28.7L28.0 29.3L26.5 30.7L25.7 31.7L24.0 32.5L21.5 33.7L19.0 34.5L16.5 35.2L18.0 34.3L20.5 33.4L22.3 32.4L23.0 31.2L21.2 31.5L19.5 31.2L18.0 31.4L18.0 30.1L15.5 29.5L14.7 28.5L14.0 27.7L15.2 26.8L17.0 26.9L19.0 26.0L19.0 25.4L17.0 25.4L15.0 25.5L13.5 24.9L12.0 24.4ZM107.0 11.8L114.0 10.0L118.0 8.2L125.0 7.7L135.0 7.5L145.0 6.5L155.0 6.8L160.0 7.7L168.0 8.4L162.0 10.0L161.0 12.0L161.5 13.2L160.0 15.0L158.5 16.5L157.5 18.0L158.0 19.5L156.0 19.7L153.5 21.4L150.0 21.8L147.0 22.4L145.0 23.7L142.0 24.2L140.0 25.5L139.0 26.8L137.5 28.5L136.5 30.0L135.0 29.8L133.0 29.2L131.0 28.2L129.5 26.5L128.5 25.5L127.0 23.8L126.5 22.5L128.5 20.5L125.5 19.6L127.5 18.7L125.0 18.0L124.0 16.5L122.5 15.0L120.0 13.9L116.0 13.7L112.0 13.8L108.5 12.8L107.0 11.8ZM118.5 23.5L117.0 25.0L115.0 26.5L114.5 27.5L113.5 28.2L111.5 27.5L108.5 26.5L106.5 25.5L103.5 25.7L102.0 25.2L103.0 24.5L106.0 24.5L106.5 23.2L105.0 22.5L103.0 21.5L102.0 20.2L99.5 20.0L96.0 20.2L93.0 19.8L90.5 19.0L91.5 17.5L92.0 16.5L95.0 16.4L99.5 16.3L103.0 17.4L107.0 18.4L110.0 19.4L111.5 20.0L113.0 20.8L114.0 21.8L117.0 23.0L118.5 23.5ZM102.0 13.6L99.5 13.7L96.0 13.6L92.0 12.8L90.8 11.7L87.5 9.5L90.0 8.4L95.0 7.5L102.0 7.0L112.0 7.1L118.0 7.7L116.0 8.5L112.0 9.4L109.0 10.4L105.0 11.4L102.0 12.5L102.0 13.6ZM91.2 12.0L88.5 11.8L85.5 11.0L84.2 9.7L87.0 8.7L89.5 9.0L90.5 10.5L91.2 12.0ZM100.0 15.5L96.0 15.6L91.0 15.5L87.7 15.0L87.2 13.8L90.5 13.4L94.0 13.5L98.0 13.6L100.0 14.2L100.0 15.5ZM78.5 20.3L77.0 21.1L74.5 20.8L71.0 21.3L66.5 21.4L64.0 20.7L62.5 20.0L62.5 19.0L61.5 18.4L63.0 17.7L65.5 17.4L68.0 17.1L70.0 17.4L72.0 16.9L73.8 17.0L75.2 17.8L77.0 19.2L78.5 20.3ZM64.2 16.7L62.5 15.8L59.5 15.6L56.2 15.9L54.8 17.5L55.8 18.4L57.8 18.8L60.5 18.3L62.5 17.5L64.2 16.7ZM74.2 14.4L71.5 13.4L68.5 13.4L65.5 13.6L63.0 13.8L62.7 14.5L65.5 15.2L69.0 15.4L71.5 15.1L74.2 14.4ZM83.0 18.4L80.5 18.6L78.5 17.7L78.8 16.7L81.0 16.2L83.0 16.4L83.5 17.4L83.0 18.4ZM89.5 17.5L86.5 18.0L85.0 17.2L85.0 16.1L88.0 15.9L89.5 16.4L89.5 17.5ZM82.5 14.7L79.8 14.8L78.8 13.9L81.5 13.4L82.5 14.7ZM99.5 26.0L97.0 26.7L94.5 26.6L93.0 25.5L93.7 24.2L96.0 23.9L98.0 24.7L99.5 26.0ZM84.0 21.4L81.5 21.2L81.2 20.4L83.5 20.3L84.0 21.4ZM64.5 13.2L61.0 13.8L57.5 13.7L60.0 12.5L63.5 12.5L64.5 13.2ZM81.0 12.2L77.0 11.8L75.5 11.0L79.0 10.5L81.0 11.4L81.0 12.2ZM86.5 15.0L83.5 15.1L83.5 14.1L86.0 14.0L86.5 15.0ZM120.7 42.4L122.0 42.3L124.0 42.4L124.8 43.1L126.4 43.4L127.3 42.5L126.8 41.5L126.5 40.6L124.5 40.2L124.2 38.7L123.4 38.5L122.6 39.4L121.6 41.0L120.7 42.4ZM95.1 68.1L96.5 67.1L98.0 66.8L100.0 67.0L102.0 67.7L104.0 68.9L105.8 69.8L104.5 70.1L102.3 70.1L102.7 69.4L101.5 68.4L99.5 68.0L98.0 67.7L97.0 68.0L95.1 68.1ZM105.6 71.6L107.0 70.1L108.5 70.1L110.0 70.3L111.6 71.4L110.5 71.7L108.7 72.3L107.5 71.8L105.6 71.6ZM101.7 71.6L103.1 71.6L103.8 72.0L102.8 72.2L101.7 71.8L101.7 71.6ZM112.8 71.5L114.4 71.6L114.3 72.0L112.8 72.0L112.8 71.5ZM101.8 63.3L102.8 63.4L102.8 64.1L102.0 63.5L101.8 63.3ZM102.0 64.8L102.4 65.8L102.2 66.2L101.8 65.4L102.0 64.8ZM51.7 39.2L53.0 39.9L54.5 41.1L56.6 41.6L56.0 41.0L54.7 40.0L52.5 39.1L51.7 39.2ZM47.8 36.0L48.8 36.0L48.7 37.6L47.5 37.0L47.8 36.0ZM25.3 32.7L26.8 32.0L27.8 32.4L26.2 33.2L25.3 32.7ZM24.0 69.8L25.0 70.3L24.3 71.1L24.0 70.5L24.0 69.8ZM21.7 68.4L22.4 68.7L21.8 68.7L21.7 68.4ZM20.2 67.8L20.7 67.8L20.5 68.1L20.2 67.8ZM23.3 69.0L24.0 69.2L23.6 69.4L23.3 69.0ZM102.7 81.4L104.0 80.5L104.5 79.5L106.0 78.8L107.5 78.2L108.5 77.6L108.9 78.8L108.4 79.4L108.2 80.8L109.0 80.2L109.5 78.5L110.5 78.5L112.0 79.5L114.0 79.4L116.0 79.3L118.0 79.3L119.0 81.0L120.5 82.0L121.5 83.0L122.5 84.0L125.0 84.1L127.0 84.5L128.5 85.8L130.0 88.2L130.0 90.0L131.5 91.2L135.0 91.5L138.0 92.8L141.0 93.5L142.5 94.6L144.7 95.2L145.2 97.5L144.5 99.5L143.0 101.0L141.5 103.0L141.0 105.0L140.8 107.5L140.0 110.0L139.0 112.0L137.0 113.0L135.0 113.6L133.0 114.6L131.5 116.0L131.3 118.2L130.0 120.0L128.5 121.5L127.0 123.3L125.5 124.7L124.0 124.9L122.5 124.5L121.6 124.2L122.7 126.0L123.2 126.9L122.5 128.0L121.0 128.7L118.0 128.9L117.7 130.5L115.5 130.9L115.0 132.0L116.0 132.5L116.4 132.8L115.5 133.0L114.5 135.0L112.5 136.0L113.5 137.2L112.2 139.5L111.0 141.0L111.6 142.3L110.0 142.7L108.5 143.8L107.2 143.2L105.5 142.5L104.7 140.0L104.5 137.0L105.5 135.5L106.5 134.0L106.2 132.0L106.5 129.0L106.8 127.0L107.5 125.0L108.4 122.5L108.6 118.5L109.5 114.0L109.8 110.5L109.7 108.3L108.5 107.3L107.0 106.5L105.0 105.5L103.7 103.5L102.5 101.5L101.5 99.5L100.5 97.5L98.8 96.0L98.8 94.5L99.7 93.5L100.0 92.5L99.2 91.5L99.7 90.0L100.5 89.0L101.2 88.2L102.2 87.0L102.7 86.0L102.6 84.0L102.2 82.7L102.7 81.4ZM111.4 142.6L113.5 144.6L114.8 145.0L113.0 145.3L111.5 145.5L109.5 145.0L107.5 144.0L109.5 143.7L110.5 143.4L111.4 142.6ZM118.8 141.4L120.5 141.3L122.2 141.6L121.5 142.2L119.5 142.1L118.8 141.4ZM106.0 131.8L106.5 131.8L106.6 133.3L105.8 133.2L106.0 131.8ZM174.2 54.2L176.0 54.8L178.0 54.9L180.0 54.2L181.0 53.5L183.0 53.2L186.0 53.0L188.0 53.1L189.8 52.7L191.0 53.0L190.5 54.0L191.0 54.8L190.2 55.7L191.2 56.8L192.5 57.2L195.2 57.7L195.8 58.8L197.5 59.0L199.0 59.7L200.0 59.0L200.1 57.9L201.5 57.2L203.0 57.4L205.0 58.2L207.0 58.7L209.0 59.1L211.0 58.5L212.3 58.8L212.5 60.0L212.8 61.0L213.5 62.5L214.2 64.0L215.0 66.0L215.6 67.0L216.8 68.5L217.2 70.5L217.4 71.5L218.6 72.0L219.7 74.5L221.5 76.1L223.3 77.5L223.2 78.5L224.5 79.6L226.0 79.3L227.0 78.9L229.0 78.7L231.2 78.2L231.0 79.5L230.8 81.0L229.5 83.2L228.0 85.5L226.0 88.0L223.5 90.5L221.5 91.8L220.2 92.8L219.2 94.7L219.0 96.5L219.5 98.0L220.5 100.5L220.6 104.0L220.2 106.0L217.0 108.0L215.0 110.0L215.5 112.5L215.4 114.0L213.0 115.5L212.8 116.5L212.5 118.5L211.0 120.0L209.5 121.5L208.0 122.8L206.0 123.8L204.0 124.1L202.0 124.0L200.0 124.8L198.5 124.2L198.2 122.5L197.5 120.0L196.5 118.6L195.2 117.0L194.5 113.0L193.5 111.0L192.0 108.0L191.7 106.0L192.3 103.5L193.7 101.0L193.2 99.0L192.3 96.0L192.0 95.0L191.8 94.5L190.0 92.8L189.0 90.8L189.4 89.0L189.8 87.0L189.2 86.0L188.5 85.4L187.0 85.6L185.8 85.7L184.5 83.7L182.0 83.7L180.0 84.4L178.0 85.2L176.0 84.8L172.5 85.6L171.0 85.0L168.5 83.1L166.8 81.5L165.5 79.5L164.5 78.5L163.3 77.7L162.5 75.3L163.5 73.8L163.8 70.5L163.0 69.0L164.5 66.0L165.2 65.0L166.5 63.0L168.5 62.0L170.0 60.5L170.2 58.5L171.5 56.7L173.2 56.0L174.2 54.2ZM229.3 102.0L230.3 105.5L229.5 107.0L228.8 110.5L227.5 114.8L225.2 115.5L224.0 114.5L223.3 112.0L224.3 110.0L224.0 107.5L226.0 105.8L228.0 103.5L229.3 102.0ZM212.5 60.0L212.3 58.8L214.2 58.7L215.0 57.0L215.9 55.0L216.0 53.2L214.5 53.2L212.5 53.9L210.5 53.5L208.0 53.3L207.2 52.2L206.5 50.5L206.2 49.7L206.5 49.2L204.0 49.3L203.5 50.2L202.8 52.0L202.5 53.5L201.6 53.0L201.2 51.5L200.0 50.5L199.4 49.0L199.3 48.0L197.0 46.7L195.0 45.0L193.7 44.3L192.3 44.7L192.5 46.0L193.7 46.5L196.0 48.1L198.5 49.8L197.0 50.5L196.6 51.5L195.6 52.0L196.0 50.7L195.8 50.0L194.2 49.2L192.5 48.3L191.0 47.4L190.3 46.3L188.8 45.6L187.5 46.2L185.0 46.6L183.2 47.0L183.2 48.0L180.8 49.2L179.7 50.5L180.2 51.2L179.2 52.4L177.8 53.3L175.5 53.4L174.4 54.0L173.6 53.2L172.6 52.8L171.1 53.0L171.2 51.5L170.6 51.0L171.2 49.0L171.1 47.5L170.7 47.0L172.0 46.3L175.0 46.5L178.0 46.7L178.5 46.0L178.8 44.0L177.8 42.8L175.5 42.0L177.0 41.2L178.4 41.4L178.1 40.3L180.0 40.6L181.5 39.9L182.5 38.9L183.6 38.5L184.5 37.5L185.0 36.7L187.0 36.5L188.5 36.1L188.7 34.5L188.2 33.2L190.5 32.3L190.3 33.5L190.0 35.0L191.0 36.0L193.0 35.7L194.5 36.1L196.5 35.5L198.5 35.2L199.8 35.6L201.2 34.7L201.0 33.3L201.7 32.4L203.3 33.0L204.2 32.8L204.5 31.7L203.5 30.7L206.0 30.4L208.0 30.5L210.2 30.1L208.0 29.5L205.0 29.8L202.8 30.0L201.4 29.2L201.5 27.5L204.5 25.3L205.5 24.9L204.5 24.2L202.0 24.4L201.2 25.5L199.0 26.6L197.5 27.7L197.2 29.0L198.8 30.0L198.5 30.7L196.5 32.5L196.3 33.4L194.5 34.0L192.8 34.5L192.5 33.5L191.3 31.7L190.5 30.8L190.6 30.1L188.5 31.7L187.0 32.0L185.6 31.1L185.0 29.5L185.0 28.0L187.0 27.3L188.5 26.5L190.5 25.5L192.5 24.0L194.0 22.5L195.5 21.5L198.0 20.5L200.0 20.0L203.0 19.3L205.8 18.9L208.0 19.0L211.0 19.7L213.0 20.7L216.0 21.0L221.0 22.3L221.2 23.7L218.5 23.9L215.0 23.7L213.5 23.5L214.5 25.5L217.0 26.2L219.5 25.5L220.5 25.2L223.5 23.8L224.2 21.7L223.5 21.4L226.3 21.9L229.0 22.2L233.5 21.5L234.5 21.8L238.0 21.2L239.5 21.5L240.5 20.2L243.5 20.5L246.8 19.5L246.8 18.5L248.5 17.2L249.8 16.9L252.5 17.2L252.5 19.0L252.3 20.2L253.5 22.0L253.0 23.3L254.5 22.5L255.0 21.0L253.8 19.5L254.5 17.5L256.0 18.0L258.0 17.7L260.0 17.8L260.5 16.5L266.5 16.0L266.8 14.9L270.0 14.4L275.0 13.9L280.0 13.5L284.3 12.3L286.0 12.7L288.0 13.2L292.0 13.5L293.5 14.5L293.0 16.0L290.0 16.3L293.5 16.5L298.0 16.5L303.0 16.8L307.0 16.5L309.0 18.0L312.0 18.7L316.0 18.4L319.5 17.6L322.0 17.3L327.0 17.7L330.0 18.4L332.5 19.2L337.0 19.0L340.0 19.5L342.0 20.4L347.0 20.2L350.0 19.9L355.0 20.2L358.0 20.7L360.0 21.1L360.0 25.0L358.5 25.5L357.0 25.3L358.5 27.0L359.3 27.7L357.0 27.5L353.5 28.3L350.5 30.0L346.0 29.8L343.5 30.4L342.5 32.2L343.3 33.8L341.8 35.0L340.0 36.7L338.4 37.4L336.7 39.0L336.2 37.5L335.6 35.0L335.9 33.0L337.0 32.2L338.3 31.9L340.5 30.5L341.8 29.5L340.0 28.2L337.0 28.5L334.5 30.5L332.0 31.0L329.0 30.7L325.0 30.7L322.0 30.8L320.5 31.5L318.0 33.5L317.0 35.5L318.5 35.8L321.0 36.5L321.3 37.5L320.5 39.5L320.2 41.7L318.5 43.5L316.0 46.3L313.0 47.3L311.8 47.0L310.5 47.7L309.7 49.0L308.0 50.3L307.5 50.6L309.0 52.0L309.4 54.0L309.2 54.8L306.5 55.6L306.3 54.5L306.5 53.0L306.0 52.2L305.0 52.0L305.2 50.5L304.3 50.1L302.0 51.0L301.3 51.0L301.2 51.2L302.5 49.5L301.0 49.2L299.0 50.7L297.8 51.2L298.5 52.5L299.2 52.9L302.5 52.8L300.5 54.0L299.3 55.0L300.8 57.5L301.8 58.5L301.9 59.2L301.5 60.5L301.6 61.8L300.5 63.0L299.7 64.5L298.5 65.5L296.5 67.0L294.2 67.8L292.0 68.2L290.5 68.7L290.3 69.7L289.7 68.5L288.0 68.4L286.7 69.5L285.8 71.0L286.6 72.5L288.2 73.9L289.3 76.5L289.2 78.4L287.5 79.5L286.6 80.5L285.0 81.4L284.8 79.8L283.5 79.4L282.5 78.0L281.0 77.3L280.0 76.6L280.5 76.5L279.9 77.5L279.2 79.5L279.8 80.8L280.4 82.7L281.5 83.2L282.5 84.0L283.4 85.2L283.4 87.0L284.2 88.6L283.3 88.6L281.3 87.2L280.4 85.5L280.3 84.0L279.7 83.2L278.3 82.0L278.6 80.0L278.5 77.5L277.7 74.5L277.5 73.5L275.5 74.2L274.3 74.0L274.6 72.0L274.0 70.5L272.4 69.3L272.0 68.5L271.5 67.5L270.5 68.0L269.0 68.3L267.0 68.5L266.8 69.5L265.0 70.6L264.0 71.8L262.3 73.5L261.0 74.5L260.2 76.5L259.8 79.5L259.0 80.7L257.5 81.9L256.5 81.1L255.8 78.5L254.8 77.0L254.0 74.5L253.0 72.0L252.8 69.5L252.6 68.5L252.3 68.5L250.5 69.2L249.0 67.7L250.0 67.2L248.5 66.5L247.3 65.5L246.5 64.6L244.5 64.8L241.6 64.8L238.5 64.4L237.3 64.1L236.4 62.9L234.7 63.5L232.0 62.2L230.8 61.2L230.1 60.0L228.8 59.9L227.9 60.5L228.6 62.0L229.6 63.0L230.2 64.0L231.2 64.0L231.6 65.5L234.0 65.9L235.5 64.7L236.3 63.7L236.3 65.2L237.8 66.2L238.8 67.3L239.8 67.7L238.5 69.5L237.8 71.0L236.5 72.0L235.0 73.0L232.2 74.0L229.0 75.4L226.0 76.6L223.5 77.3L222.8 75.2L222.5 73.5L221.0 71.0L219.0 68.3L218.0 66.0L216.5 64.0L215.0 62.0L215.0 60.5L214.5 62.0L214.2 62.2L213.3 61.7L212.5 60.0ZM0.0 21.1L3.0 21.7L6.0 22.6L8.5 23.1L10.3 23.9L8.5 24.5L7.5 25.7L5.0 25.2L1.5 24.5L0.0 25.0ZM174.3 40.0L177.0 39.4L179.5 39.2L181.3 38.9L180.8 38.4L181.7 37.3L180.3 36.6L179.7 35.5L178.4 34.4L177.5 33.7L178.2 32.5L176.7 31.4L175.0 31.4L174.3 32.5L173.8 33.4L174.5 34.5L175.2 35.2L176.7 35.1L176.5 36.1L177.0 36.7L175.4 36.8L175.9 37.7L174.8 38.2L176.8 38.6L175.5 38.9L174.3 40.0ZM174.0 37.8L173.8 36.1L174.4 35.5L172.7 34.7L171.5 35.4L170.0 35.8L170.5 37.0L169.6 38.0L170.5 38.5L172.0 38.2L174.0 37.8ZM156.0 24.5L158.0 23.6L162.0 23.8L165.0 23.5L166.5 24.7L165.5 25.6L161.5 26.6L157.5 26.2L158.3 25.4L156.0 24.5ZM191.0 11.5L193.0 10.3L196.0 10.0L199.0 9.8L202.0 9.6L207.0 9.9L202.0 11.7L200.0 12.4L197.0 13.5L195.0 12.8L193.5 12.0L191.0 11.5ZM232.0 18.5L235.5 16.7L236.0 15.0L240.0 13.8L244.0 13.2L248.5 13.0L246.0 14.2L241.0 15.4L238.0 16.5L236.0 17.5L237.5 19.4L233.0 19.2L232.0 18.5ZM275.0 11.0L277.0 9.5L280.0 9.0L284.0 10.2L281.0 11.4L278.0 11.5L275.0 11.0ZM317.0 15.0L320.0 13.8L325.0 14.0L330.0 14.8L326.0 15.4L322.0 16.2L319.0 15.8L317.0 15.0ZM226.0 9.4L232.0 8.5L238.0 8.3L244.0 9.2L238.0 10.0L230.0 10.1L226.0 9.4ZM358.8 18.8L360.0 18.5L360.0 19.1L358.8 18.8ZM0.0 18.5L2.5 18.8L0.0 19.1ZM322.0 35.7L323.3 37.2L323.2 39.0L323.5 40.7L324.5 41.1L323.5 43.4L322.0 44.0L322.0 42.0L322.2 39.0L321.7 37.0L322.0 35.7ZM320.0 48.5L321.5 47.5L323.3 48.0L325.5 46.7L324.0 46.0L321.8 44.5L321.5 46.5L320.3 46.7L320.0 48.5ZM321.4 48.6L322.0 50.5L321.0 52.0L320.9 53.1L320.8 54.3L319.8 55.1L318.8 55.4L317.0 55.4L316.8 56.5L315.2 56.2L315.3 55.4L313.0 55.7L311.0 56.0L311.0 55.3L312.6 54.5L315.5 54.4L316.8 52.7L317.5 53.1L319.0 52.0L320.0 50.2L320.0 49.3L321.4 48.6ZM310.0 56.2L311.9 56.1L311.5 58.5L310.6 59.0L310.2 57.5L310.0 56.2ZM312.5 56.8L314.7 56.2L314.0 55.7L312.5 56.1L312.5 56.8ZM301.5 64.7L302.0 65.3L300.8 68.0L300.2 67.0L301.0 65.0L301.5 64.7ZM288.6 70.8L290.3 69.9L291.0 70.4L289.5 71.8L288.6 71.5L288.6 70.8ZM300.5 71.5L302.3 71.6L302.2 73.2L301.5 74.5L302.0 76.0L304.0 76.5L303.9 77.2L302.5 76.5L300.6 76.1L300.5 74.5L300.0 73.7L300.5 71.5ZM302.0 83.0L303.5 81.3L305.5 80.2L306.5 82.5L305.5 84.2L304.0 83.7L302.0 83.0ZM304.3 77.5L305.6 78.5L305.0 80.0L304.0 79.0L304.3 77.5ZM302.0 78.2L303.3 79.0L303.2 80.8L302.5 79.5L302.0 78.2ZM297.2 81.6L299.5 79.5L299.7 78.7L299.0 79.3L297.2 81.6ZM300.3 76.6L301.5 76.8L301.0 77.7L300.3 76.6ZM289.0 88.5L289.6 88.0L291.0 88.4L293.0 86.8L294.5 85.4L296.0 84.0L297.0 83.0L297.7 84.0L299.2 84.7L298.0 85.7L297.6 86.8L298.0 89.0L299.0 89.2L297.5 90.0L296.5 91.5L296.3 93.5L294.6 94.1L293.0 93.2L291.8 93.5L290.2 92.9L290.0 91.5L289.0 90.0L289.0 88.5ZM275.3 84.4L277.5 84.8L280.3 87.5L281.5 88.3L283.7 90.0L284.5 91.5L286.0 93.0L285.8 95.8L284.5 95.9L282.3 94.0L280.8 92.0L279.2 89.8L278.5 88.0L277.0 86.5L275.3 84.4ZM285.2 96.8L286.0 95.9L288.0 96.2L290.5 96.5L292.7 96.9L294.5 97.7L294.4 98.6L291.0 98.2L288.0 97.8L286.5 97.4L285.2 96.8ZM294.6 98.1L295.7 98.4L295.2 98.8L294.6 98.1ZM296.0 98.4L296.7 98.3L296.5 98.9L296.0 98.4ZM296.8 98.5L299.0 98.2L299.0 98.8L297.0 99.0L296.8 98.5ZM299.8 98.5L302.9 98.1L302.8 98.7L300.0 98.8L299.8 98.5ZM299.0 99.5L300.8 99.6L300.5 100.2L299.0 99.7L299.0 99.5ZM303.5 100.3L305.2 99.0L307.3 98.4L306.5 98.9L304.5 100.0L303.5 100.3ZM299.5 95.5L300.4 95.5L300.3 93.0L301.0 92.6L302.0 94.8L303.2 94.5L302.0 93.0L301.3 91.9L303.2 91.0L302.5 90.7L300.6 91.3L300.1 89.5L301.0 89.5L303.0 89.1L304.5 89.6L305.2 88.4L304.5 88.7L301.0 88.7L300.5 89.1L299.8 90.0L299.3 91.5L298.8 93.0L299.5 95.5ZM307.5 88.2L308.2 89.0L308.5 89.5L308.0 90.5L307.6 89.5L307.5 88.2ZM308.0 93.2L310.8 93.4L310.5 93.8L308.2 93.6L308.0 93.2ZM306.0 93.2L307.2 93.3L306.8 93.8L306.0 93.6L306.0 93.2ZM311.0 91.3L312.5 90.4L314.0 90.9L315.5 93.3L318.0 91.7L321.0 92.6L324.5 93.8L326.0 95.5L327.8 96.3L327.0 96.8L328.0 98.1L330.0 100.2L328.0 100.1L326.2 98.5L324.0 97.8L323.3 99.0L322.5 99.3L321.0 99.1L319.0 98.1L318.0 98.3L317.6 97.5L318.5 96.9L317.5 95.2L315.5 94.5L313.5 94.0L312.2 92.8L313.5 92.4L312.0 92.2L311.0 91.3ZM328.3 95.6L330.0 95.5L331.5 94.8L332.2 94.2L332.0 95.5L330.5 96.2L328.5 96.0L328.3 95.6ZM330.5 92.6L332.0 93.4L333.0 94.6L332.6 94.8L331.5 93.6L330.5 92.6ZM336.5 96.6L337.5 97.3L337.0 97.4L336.5 96.6ZM339.0 98.0L340.8 98.5L340.5 98.8L339.0 98.3L339.0 98.0ZM340.0 99.3L340.8 99.5L340.5 99.9L339.7 99.7L340.0 99.3ZM346.5 105.0L347.2 105.5L346.8 105.8L346.5 105.0ZM344.0 110.2L347.0 112.3L346.5 112.4L344.2 110.8L344.0 110.2ZM357.2 107.4L358.5 107.6L358.2 108.2L357.3 108.0L357.2 107.4ZM358.8 106.3L360.0 106.1L359.9 106.7L358.8 106.7L358.8 106.3ZM293.5 112.0L294.2 111.8L296.7 110.6L299.0 110.0L301.0 109.5L302.2 107.5L303.5 106.5L305.0 104.6L306.5 103.9L308.0 104.9L309.6 105.0L310.1 103.0L311.5 102.3L312.6 102.2L312.7 101.5L316.0 102.0L316.7 102.3L316.0 103.5L315.5 105.0L317.5 106.2L319.3 107.4L320.8 107.5L321.5 105.0L321.6 102.6L322.5 100.7L323.5 102.5L323.8 104.5L325.3 105.0L325.4 106.5L326.3 109.0L328.8 110.5L330.6 112.5L333.0 115.0L333.6 118.5L333.0 121.0L332.0 122.8L330.8 124.5L330.0 127.5L328.0 127.8L326.3 129.0L324.5 128.2L323.5 128.8L321.5 128.4L319.7 127.2L319.5 125.8L318.0 125.6L318.5 124.5L318.0 123.3L317.6 125.0L316.8 125.3L317.5 124.0L317.9 122.9L315.9 124.8L315.2 124.5L314.1 122.8L311.5 121.5L309.0 121.6L306.0 122.3L304.0 123.3L303.5 124.0L300.0 124.0L298.0 125.0L296.0 124.8L295.2 124.2L295.5 123.5L295.7 122.0L295.0 119.5L294.0 117.5L293.3 116.0L293.8 114.0L293.5 112.0ZM324.6 130.7L328.3 130.9L328.2 132.2L327.0 133.6L325.8 133.4L325.0 132.0L324.6 130.7ZM352.7 124.4L354.5 125.8L355.9 127.3L358.5 127.7L357.9 129.2L356.9 129.5L356.0 131.3L354.8 131.3L355.2 130.2L353.8 129.2L354.6 128.0L354.2 126.4L352.7 124.4ZM352.6 130.5L354.3 131.5L353.2 133.0L352.8 133.8L351.3 134.3L350.6 135.9L349.0 136.6L346.5 136.0L347.0 135.0L348.5 134.0L350.8 132.7L351.8 131.3L352.6 130.5ZM259.9 80.2L261.0 81.2L261.9 82.8L261.3 83.9L260.1 84.0L259.8 82.0L259.9 80.2ZM212.3 54.9L214.6 54.3L213.9 55.1L212.5 55.3L212.3 54.9ZM203.5 54.7L206.3 54.7L206.0 55.0L203.6 54.8L203.5 54.7ZM192.4 51.9L195.6 51.7L195.1 53.3L192.5 52.4L192.4 51.9ZM188.2 49.1L189.8 48.9L189.6 50.8L188.5 51.0L188.2 49.1ZM188.6 47.4L189.5 47.1L189.4 48.6L188.7 48.2L188.6 47.4ZM191.0 34.0L192.6 33.9L192.3 34.8L191.1 34.7L191.0 34.0ZM198.1 32.8L198.9 32.1L198.5 33.0L198.1 32.8Z" fill="#efefef" stroke="#383838" stroke-width="1.15" vector-effect="non-scaling-stroke" stroke-linejoin="round"/><path d="M12.0 24.4L14.0 23.8L17.0 23.5L15.5 22.5L13.2 21.7L14.0 21.1L17.0 20.0L21.0 19.2L23.5 18.7L28.0 19.2L32.0 19.7L37.0 19.9L39.0 20.3L43.0 21.0L45.0 20.7L48.0 20.3L51.0 20.0L53.0 20.2L55.0 20.6L55.5 19.9L58.0 20.2L62.0 20.8L65.0 21.2L68.0 22.2L72.0 21.7L75.0 21.4L78.0 22.2L82.0 21.8L84.0 22.0L85.0 21.5L85.7 20.5L84.5 19.5L85.5 18.0L87.5 18.5L89.0 20.0L91.5 20.5L92.0 21.5L94.0 21.5L95.0 20.2L98.0 20.5L98.5 21.5L98.7 23.0L96.5 23.8L94.0 23.5L93.0 24.7L92.0 25.8L89.5 26.5L89.0 27.2L86.0 29.0L85.5 30.5L85.8 31.2L87.5 32.8L90.0 33.0L92.0 33.5L95.0 34.7L97.7 34.9L97.8 37.1L99.3 38.6L100.7 38.5L101.2 36.0L103.0 34.5L103.3 32.5L102.3 30.5L102.2 29.2L102.5 27.5L106.0 27.7L109.0 28.9L110.5 30.5L110.2 31.2L112.5 31.7L114.0 31.2L115.0 30.2L115.5 29.6L116.5 31.2L118.0 32.5L119.5 34.3L122.5 35.7L124.3 37.7L123.0 38.5L120.0 39.8L116.0 39.8L113.5 40.0L112.0 40.8L109.5 43.0L110.5 42.2L113.5 40.9L115.7 41.2L115.0 42.0L115.2 43.0L116.5 44.2L119.0 44.3L120.0 43.8L118.5 44.9L116.0 45.5L114.2 46.3L113.8 45.5L115.5 44.7L113.2 44.9L112.5 45.5L111.0 46.0L109.5 46.8L109.3 48.0L110.0 48.2L108.5 48.7L106.5 49.1L106.0 49.4L105.8 50.5L105.0 51.2L104.5 52.0L103.8 52.5L104.0 53.5L104.5 54.8L102.5 55.7L101.0 56.8L99.0 58.0L98.6 59.5L99.4 61.5L99.9 63.5L99.5 64.8L98.8 64.7L98.2 63.7L97.3 62.4L97.2 61.0L96.0 60.0L94.5 60.3L92.5 59.7L91.0 59.7L90.7 61.0L89.5 60.8L88.0 60.4L86.5 60.3L85.0 60.7L82.8 62.5L82.5 64.5L82.2 67.5L82.8 69.5L84.0 71.0L85.5 71.8L87.5 71.4L89.0 71.0L89.5 69.0L92.0 68.5L93.0 68.6L92.5 70.5L91.7 72.5L91.5 74.0L94.0 74.1L96.7 75.0L96.5 76.5L96.3 78.5L97.0 80.0L98.5 81.1L99.8 80.8L100.5 80.4L102.0 80.8L102.7 81.4L102.2 82.5L101.5 81.8L100.3 81.5L99.6 82.6L98.5 82.0L96.5 81.6L94.3 80.1L94.3 78.8L92.5 77.0L90.5 76.5L88.5 76.0L87.0 74.5L85.2 73.8L83.5 74.3L81.5 73.7L79.0 72.7L76.5 71.7L74.5 69.5L74.8 68.5L74.0 67.0L71.5 64.5L70.0 62.7L68.0 61.2L67.0 59.0L65.2 58.3L65.8 60.0L67.5 62.5L68.8 64.5L69.7 65.8L70.1 67.1L69.0 65.8L67.8 65.2L67.5 63.5L66.0 62.3L65.0 61.7L64.2 59.6L62.9 57.5L62.5 56.5L61.5 56.0L59.4 55.4L58.1 53.4L57.5 52.2L56.2 50.2L55.7 48.5L55.9 46.5L56.1 43.8L55.3 41.6L57.0 41.8L57.5 42.6L57.3 41.1L56.8 40.5L55.0 39.7L52.5 38.7L52.0 37.5L50.5 36.5L49.7 35.4L48.5 34.2L47.0 33.0L45.5 31.7L44.0 30.9L42.2 31.3L40.2 30.3L38.0 29.9L35.5 29.8L33.5 29.0L31.5 29.5L29.5 30.5L28.2 30.8L29.2 29.2L29.5 28.7L28.0 29.3L26.5 30.7L25.7 31.7L24.0 32.5L21.5 33.7L19.0 34.5L16.5 35.2L18.0 34.3L20.5 33.4L22.3 32.4L23.0 31.2L21.2 31.5L19.5 31.2L18.0 31.4L18.0 30.1L15.5 29.5L14.7 28.5L14.0 27.7L15.2 26.8L17.0 26.9L19.0 26.0L19.0 25.4L17.0 25.4L15.0 25.5L13.5 24.9L12.0 24.4ZM107.0 11.8L114.0 10.0L118.0 8.2L125.0 7.7L135.0 7.5L145.0 6.5L155.0 6.8L160.0 7.7L168.0 8.4L162.0 10.0L161.0 12.0L161.5 13.2L160.0 15.0L158.5 16.5L157.5 18.0L158.0 19.5L156.0 19.7L153.5 21.4L150.0 21.8L147.0 22.4L145.0 23.7L142.0 24.2L140.0 25.5L139.0 26.8L137.5 28.5L136.5 30.0L135.0 29.8L133.0 29.2L131.0 28.2L129.5 26.5L128.5 25.5L127.0 23.8L126.5 22.5L128.5 20.5L125.5 19.6L127.5 18.7L125.0 18.0L124.0 16.5L122.5 15.0L120.0 13.9L116.0 13.7L112.0 13.8L108.5 12.8L107.0 11.8ZM118.5 23.5L117.0 25.0L115.0 26.5L114.5 27.5L113.5 28.2L111.5 27.5L108.5 26.5L106.5 25.5L103.5 25.7L102.0 25.2L103.0 24.5L106.0 24.5L106.5 23.2L105.0 22.5L103.0 21.5L102.0 20.2L99.5 20.0L96.0 20.2L93.0 19.8L90.5 19.0L91.5 17.5L92.0 16.5L95.0 16.4L99.5 16.3L103.0 17.4L107.0 18.4L110.0 19.4L111.5 20.0L113.0 20.8L114.0 21.8L117.0 23.0L118.5 23.5ZM102.0 13.6L99.5 13.7L96.0 13.6L92.0 12.8L90.8 11.7L87.5 9.5L90.0 8.4L95.0 7.5L102.0 7.0L112.0 7.1L118.0 7.7L116.0 8.5L112.0 9.4L109.0 10.4L105.0 11.4L102.0 12.5L102.0 13.6ZM91.2 12.0L88.5 11.8L85.5 11.0L84.2 9.7L87.0 8.7L89.5 9.0L90.5 10.5L91.2 12.0ZM100.0 15.5L96.0 15.6L91.0 15.5L87.7 15.0L87.2 13.8L90.5 13.4L94.0 13.5L98.0 13.6L100.0 14.2L100.0 15.5ZM78.5 20.3L77.0 21.1L74.5 20.8L71.0 21.3L66.5 21.4L64.0 20.7L62.5 20.0L62.5 19.0L61.5 18.4L63.0 17.7L65.5 17.4L68.0 17.1L70.0 17.4L72.0 16.9L73.8 17.0L75.2 17.8L77.0 19.2L78.5 20.3ZM64.2 16.7L62.5 15.8L59.5 15.6L56.2 15.9L54.8 17.5L55.8 18.4L57.8 18.8L60.5 18.3L62.5 17.5L64.2 16.7ZM74.2 14.4L71.5 13.4L68.5 13.4L65.5 13.6L63.0 13.8L62.7 14.5L65.5 15.2L69.0 15.4L71.5 15.1L74.2 14.4ZM83.0 18.4L80.5 18.6L78.5 17.7L78.8 16.7L81.0 16.2L83.0 16.4L83.5 17.4L83.0 18.4ZM89.5 17.5L86.5 18.0L85.0 17.2L85.0 16.1L88.0 15.9L89.5 16.4L89.5 17.5ZM82.5 14.7L79.8 14.8L78.8 13.9L81.5 13.4L82.5 14.7ZM99.5 26.0L97.0 26.7L94.5 26.6L93.0 25.5L93.7 24.2L96.0 23.9L98.0 24.7L99.5 26.0ZM84.0 21.4L81.5 21.2L81.2 20.4L83.5 20.3L84.0 21.4ZM64.5 13.2L61.0 13.8L57.5 13.7L60.0 12.5L63.5 12.5L64.5 13.2ZM81.0 12.2L77.0 11.8L75.5 11.0L79.0 10.5L81.0 11.4L81.0 12.2ZM86.5 15.0L83.5 15.1L83.5 14.1L86.0 14.0L86.5 15.0ZM120.7 42.4L122.0 42.3L124.0 42.4L124.8 43.1L126.4 43.4L127.3 42.5L126.8 41.5L126.5 40.6L124.5 40.2L124.2 38.7L123.4 38.5L122.6 39.4L121.6 41.0L120.7 42.4ZM95.1 68.1L96.5 67.1L98.0 66.8L100.0 67.0L102.0 67.7L104.0 68.9L105.8 69.8L104.5 70.1L102.3 70.1L102.7 69.4L101.5 68.4L99.5 68.0L98.0 67.7L97.0 68.0L95.1 68.1ZM105.6 71.6L107.0 70.1L108.5 70.1L110.0 70.3L111.6 71.4L110.5 71.7L108.7 72.3L107.5 71.8L105.6 71.6ZM101.7 71.6L103.1 71.6L103.8 72.0L102.8 72.2L101.7 71.8L101.7 71.6ZM112.8 71.5L114.4 71.6L114.3 72.0L112.8 72.0L112.8 71.5ZM101.8 63.3L102.8 63.4L102.8 64.1L102.0 63.5L101.8 63.3ZM102.0 64.8L102.4 65.8L102.2 66.2L101.8 65.4L102.0 64.8ZM51.7 39.2L53.0 39.9L54.5 41.1L56.6 41.6L56.0 41.0L54.7 40.0L52.5 39.1L51.7 39.2ZM47.8 36.0L48.8 36.0L48.7 37.6L47.5 37.0L47.8 36.0ZM25.3 32.7L26.8 32.0L27.8 32.4L26.2 33.2L25.3 32.7ZM24.0 69.8L25.0 70.3L24.3 71.1L24.0 70.5L24.0 69.8ZM21.7 68.4L22.4 68.7L21.8 68.7L21.7 68.4ZM20.2 67.8L20.7 67.8L20.5 68.1L20.2 67.8ZM23.3 69.0L24.0 69.2L23.6 69.4L23.3 69.0ZM102.7 81.4L104.0 80.5L104.5 79.5L106.0 78.8L107.5 78.2L108.5 77.6L108.9 78.8L108.4 79.4L108.2 80.8L109.0 80.2L109.5 78.5L110.5 78.5L112.0 79.5L114.0 79.4L116.0 79.3L118.0 79.3L119.0 81.0L120.5 82.0L121.5 83.0L122.5 84.0L125.0 84.1L127.0 84.5L128.5 85.8L130.0 88.2L130.0 90.0L131.5 91.2L135.0 91.5L138.0 92.8L141.0 93.5L142.5 94.6L144.7 95.2L145.2 97.5L144.5 99.5L143.0 101.0L141.5 103.0L141.0 105.0L140.8 107.5L140.0 110.0L139.0 112.0L137.0 113.0L135.0 113.6L133.0 114.6L131.5 116.0L131.3 118.2L130.0 120.0L128.5 121.5L127.0 123.3L125.5 124.7L124.0 124.9L122.5 124.5L121.6 124.2L122.7 126.0L123.2 126.9L122.5 128.0L121.0 128.7L118.0 128.9L117.7 130.5L115.5 130.9L115.0 132.0L116.0 132.5L116.4 132.8L115.5 133.0L114.5 135.0L112.5 136.0L113.5 137.2L112.2 139.5L111.0 141.0L111.6 142.3L110.0 142.7L108.5 143.8L107.2 143.2L105.5 142.5L104.7 140.0L104.5 137.0L105.5 135.5L106.5 134.0L106.2 132.0L106.5 129.0L106.8 127.0L107.5 125.0L108.4 122.5L108.6 118.5L109.5 114.0L109.8 110.5L109.7 108.3L108.5 107.3L107.0 106.5L105.0 105.5L103.7 103.5L102.5 101.5L101.5 99.5L100.5 97.5L98.8 96.0L98.8 94.5L99.7 93.5L100.0 92.5L99.2 91.5L99.7 90.0L100.5 89.0L101.2 88.2L102.2 87.0L102.7 86.0L102.6 84.0L102.2 82.7L102.7 81.4ZM111.4 142.6L113.5 144.6L114.8 145.0L113.0 145.3L111.5 145.5L109.5 145.0L107.5 144.0L109.5 143.7L110.5 143.4L111.4 142.6ZM118.8 141.4L120.5 141.3L122.2 141.6L121.5 142.2L119.5 142.1L118.8 141.4ZM106.0 131.8L106.5 131.8L106.6 133.3L105.8 133.2L106.0 131.8ZM174.2 54.2L176.0 54.8L178.0 54.9L180.0 54.2L181.0 53.5L183.0 53.2L186.0 53.0L188.0 53.1L189.8 52.7L191.0 53.0L190.5 54.0L191.0 54.8L190.2 55.7L191.2 56.8L192.5 57.2L195.2 57.7L195.8 58.8L197.5 59.0L199.0 59.7L200.0 59.0L200.1 57.9L201.5 57.2L203.0 57.4L205.0 58.2L207.0 58.7L209.0 59.1L211.0 58.5L212.3 58.8L212.5 60.0L212.8 61.0L213.5 62.5L214.2 64.0L215.0 66.0L215.6 67.0L216.8 68.5L217.2 70.5L217.4 71.5L218.6 72.0L219.7 74.5L221.5 76.1L223.3 77.5L223.2 78.5L224.5 79.6L226.0 79.3L227.0 78.9L229.0 78.7L231.2 78.2L231.0 79.5L230.8 81.0L229.5 83.2L228.0 85.5L226.0 88.0L223.5 90.5L221.5 91.8L220.2 92.8L219.2 94.7L219.0 96.5L219.5 98.0L220.5 100.5L220.6 104.0L220.2 106.0L217.0 108.0L215.0 110.0L215.5 112.5L215.4 114.0L213.0 115.5L212.8 116.5L212.5 118.5L211.0 120.0L209.5 121.5L208.0 122.8L206.0 123.8L204.0 124.1L202.0 124.0L200.0 124.8L198.5 124.2L198.2 122.5L197.5 120.0L196.5 118.6L195.2 117.0L194.5 113.0L193.5 111.0L192.0 108.0L191.7 106.0L192.3 103.5L193.7 101.0L193.2 99.0L192.3 96.0L192.0 95.0L191.8 94.5L190.0 92.8L189.0 90.8L189.4 89.0L189.8 87.0L189.2 86.0L188.5 85.4L187.0 85.6L185.8 85.7L184.5 83.7L182.0 83.7L180.0 84.4L178.0 85.2L176.0 84.8L172.5 85.6L171.0 85.0L168.5 83.1L166.8 81.5L165.5 79.5L164.5 78.5L163.3 77.7L162.5 75.3L163.5 73.8L163.8 70.5L163.0 69.0L164.5 66.0L165.2 65.0L166.5 63.0L168.5 62.0L170.0 60.5L170.2 58.5L171.5 56.7L173.2 56.0L174.2 54.2ZM229.3 102.0L230.3 105.5L229.5 107.0L228.8 110.5L227.5 114.8L225.2 115.5L224.0 114.5L223.3 112.0L224.3 110.0L224.0 107.5L226.0 105.8L228.0 103.5L229.3 102.0ZM212.5 60.0L212.3 58.8L214.2 58.7L215.0 57.0L215.9 55.0L216.0 53.2L214.5 53.2L212.5 53.9L210.5 53.5L208.0 53.3L207.2 52.2L206.5 50.5L206.2 49.7L206.5 49.2L204.0 49.3L203.5 50.2L202.8 52.0L202.5 53.5L201.6 53.0L201.2 51.5L200.0 50.5L199.4 49.0L199.3 48.0L197.0 46.7L195.0 45.0L193.7 44.3L192.3 44.7L192.5 46.0L193.7 46.5L196.0 48.1L198.5 49.8L197.0 50.5L196.6 51.5L195.6 52.0L196.0 50.7L195.8 50.0L194.2 49.2L192.5 48.3L191.0 47.4L190.3 46.3L188.8 45.6L187.5 46.2L185.0 46.6L183.2 47.0L183.2 48.0L180.8 49.2L179.7 50.5L180.2 51.2L179.2 52.4L177.8 53.3L175.5 53.4L174.4 54.0L173.6 53.2L172.6 52.8L171.1 53.0L171.2 51.5L170.6 51.0L171.2 49.0L171.1 47.5L170.7 47.0L172.0 46.3L175.0 46.5L178.0 46.7L178.5 46.0L178.8 44.0L177.8 42.8L175.5 42.0L177.0 41.2L178.4 41.4L178.1 40.3L180.0 40.6L181.5 39.9L182.5 38.9L183.6 38.5L184.5 37.5L185.0 36.7L187.0 36.5L188.5 36.1L188.7 34.5L188.2 33.2L190.5 32.3L190.3 33.5L190.0 35.0L191.0 36.0L193.0 35.7L194.5 36.1L196.5 35.5L198.5 35.2L199.8 35.6L201.2 34.7L201.0 33.3L201.7 32.4L203.3 33.0L204.2 32.8L204.5 31.7L203.5 30.7L206.0 30.4L208.0 30.5L210.2 30.1L208.0 29.5L205.0 29.8L202.8 30.0L201.4 29.2L201.5 27.5L204.5 25.3L205.5 24.9L204.5 24.2L202.0 24.4L201.2 25.5L199.0 26.6L197.5 27.7L197.2 29.0L198.8 30.0L198.5 30.7L196.5 32.5L196.3 33.4L194.5 34.0L192.8 34.5L192.5 33.5L191.3 31.7L190.5 30.8L190.6 30.1L188.5 31.7L187.0 32.0L185.6 31.1L185.0 29.5L185.0 28.0L187.0 27.3L188.5 26.5L190.5 25.5L192.5 24.0L194.0 22.5L195.5 21.5L198.0 20.5L200.0 20.0L203.0 19.3L205.8 18.9L208.0 19.0L211.0 19.7L213.0 20.7L216.0 21.0L221.0 22.3L221.2 23.7L218.5 23.9L215.0 23.7L213.5 23.5L214.5 25.5L217.0 26.2L219.5 25.5L220.5 25.2L223.5 23.8L224.2 21.7L223.5 21.4L226.3 21.9L229.0 22.2L233.5 21.5L234.5 21.8L238.0 21.2L239.5 21.5L240.5 20.2L243.5 20.5L246.8 19.5L246.8 18.5L248.5 17.2L249.8 16.9L252.5 17.2L252.5 19.0L252.3 20.2L253.5 22.0L253.0 23.3L254.5 22.5L255.0 21.0L253.8 19.5L254.5 17.5L256.0 18.0L258.0 17.7L260.0 17.8L260.5 16.5L266.5 16.0L266.8 14.9L270.0 14.4L275.0 13.9L280.0 13.5L284.3 12.3L286.0 12.7L288.0 13.2L292.0 13.5L293.5 14.5L293.0 16.0L290.0 16.3L293.5 16.5L298.0 16.5L303.0 16.8L307.0 16.5L309.0 18.0L312.0 18.7L316.0 18.4L319.5 17.6L322.0 17.3L327.0 17.7L330.0 18.4L332.5 19.2L337.0 19.0L340.0 19.5L342.0 20.4L347.0 20.2L350.0 19.9L355.0 20.2L358.0 20.7L360.0 21.1L360.0 25.0L358.5 25.5L357.0 25.3L358.5 27.0L359.3 27.7L357.0 27.5L353.5 28.3L350.5 30.0L346.0 29.8L343.5 30.4L342.5 32.2L343.3 33.8L341.8 35.0L340.0 36.7L338.4 37.4L336.7 39.0L336.2 37.5L335.6 35.0L335.9 33.0L337.0 32.2L338.3 31.9L340.5 30.5L341.8 29.5L340.0 28.2L337.0 28.5L334.5 30.5L332.0 31.0L329.0 30.7L325.0 30.7L322.0 30.8L320.5 31.5L318.0 33.5L317.0 35.5L318.5 35.8L321.0 36.5L321.3 37.5L320.5 39.5L320.2 41.7L318.5 43.5L316.0 46.3L313.0 47.3L311.8 47.0L310.5 47.7L309.7 49.0L308.0 50.3L307.5 50.6L309.0 52.0L309.4 54.0L309.2 54.8L306.5 55.6L306.3 54.5L306.5 53.0L306.0 52.2L305.0 52.0L305.2 50.5L304.3 50.1L302.0 51.0L301.3 51.0L301.2 51.2L302.5 49.5L301.0 49.2L299.0 50.7L297.8 51.2L298.5 52.5L299.2 52.9L302.5 52.8L300.5 54.0L299.3 55.0L300.8 57.5L301.8 58.5L301.9 59.2L301.5 60.5L301.6 61.8L300.5 63.0L299.7 64.5L298.5 65.5L296.5 67.0L294.2 67.8L292.0 68.2L290.5 68.7L290.3 69.7L289.7 68.5L288.0 68.4L286.7 69.5L285.8 71.0L286.6 72.5L288.2 73.9L289.3 76.5L289.2 78.4L287.5 79.5L286.6 80.5L285.0 81.4L284.8 79.8L283.5 79.4L282.5 78.0L281.0 77.3L280.0 76.6L280.5 76.5L279.9 77.5L279.2 79.5L279.8 80.8L280.4 82.7L281.5 83.2L282.5 84.0L283.4 85.2L283.4 87.0L284.2 88.6L283.3 88.6L281.3 87.2L280.4 85.5L280.3 84.0L279.7 83.2L278.3 82.0L278.6 80.0L278.5 77.5L277.7 74.5L277.5 73.5L275.5 74.2L274.3 74.0L274.6 72.0L274.0 70.5L272.4 69.3L272.0 68.5L271.5 67.5L270.5 68.0L269.0 68.3L267.0 68.5L266.8 69.5L265.0 70.6L264.0 71.8L262.3 73.5L261.0 74.5L260.2 76.5L259.8 79.5L259.0 80.7L257.5 81.9L256.5 81.1L255.8 78.5L254.8 77.0L254.0 74.5L253.0 72.0L252.8 69.5L252.6 68.5L252.3 68.5L250.5 69.2L249.0 67.7L250.0 67.2L248.5 66.5L247.3 65.5L246.5 64.6L244.5 64.8L241.6 64.8L238.5 64.4L237.3 64.1L236.4 62.9L234.7 63.5L232.0 62.2L230.8 61.2L230.1 60.0L228.8 59.9L227.9 60.5L228.6 62.0L229.6 63.0L230.2 64.0L231.2 64.0L231.6 65.5L234.0 65.9L235.5 64.7L236.3 63.7L236.3 65.2L237.8 66.2L238.8 67.3L239.8 67.7L238.5 69.5L237.8 71.0L236.5 72.0L235.0 73.0L232.2 74.0L229.0 75.4L226.0 76.6L223.5 77.3L222.8 75.2L222.5 73.5L221.0 71.0L219.0 68.3L218.0 66.0L216.5 64.0L215.0 62.0L215.0 60.5L214.5 62.0L214.2 62.2L213.3 61.7L212.5 60.0ZM0.0 21.1L3.0 21.7L6.0 22.6L8.5 23.1L10.3 23.9L8.5 24.5L7.5 25.7L5.0 25.2L1.5 24.5L0.0 25.0ZM174.3 40.0L177.0 39.4L179.5 39.2L181.3 38.9L180.8 38.4L181.7 37.3L180.3 36.6L179.7 35.5L178.4 34.4L177.5 33.7L178.2 32.5L176.7 31.4L175.0 31.4L174.3 32.5L173.8 33.4L174.5 34.5L175.2 35.2L176.7 35.1L176.5 36.1L177.0 36.7L175.4 36.8L175.9 37.7L174.8 38.2L176.8 38.6L175.5 38.9L174.3 40.0ZM174.0 37.8L173.8 36.1L174.4 35.5L172.7 34.7L171.5 35.4L170.0 35.8L170.5 37.0L169.6 38.0L170.5 38.5L172.0 38.2L174.0 37.8ZM156.0 24.5L158.0 23.6L162.0 23.8L165.0 23.5L166.5 24.7L165.5 25.6L161.5 26.6L157.5 26.2L158.3 25.4L156.0 24.5ZM191.0 11.5L193.0 10.3L196.0 10.0L199.0 9.8L202.0 9.6L207.0 9.9L202.0 11.7L200.0 12.4L197.0 13.5L195.0 12.8L193.5 12.0L191.0 11.5ZM232.0 18.5L235.5 16.7L236.0 15.0L240.0 13.8L244.0 13.2L248.5 13.0L246.0 14.2L241.0 15.4L238.0 16.5L236.0 17.5L237.5 19.4L233.0 19.2L232.0 18.5ZM275.0 11.0L277.0 9.5L280.0 9.0L284.0 10.2L281.0 11.4L278.0 11.5L275.0 11.0ZM317.0 15.0L320.0 13.8L325.0 14.0L330.0 14.8L326.0 15.4L322.0 16.2L319.0 15.8L317.0 15.0ZM226.0 9.4L232.0 8.5L238.0 8.3L244.0 9.2L238.0 10.0L230.0 10.1L226.0 9.4ZM358.8 18.8L360.0 18.5L360.0 19.1L358.8 18.8ZM0.0 18.5L2.5 18.8L0.0 19.1ZM322.0 35.7L323.3 37.2L323.2 39.0L323.5 40.7L324.5 41.1L323.5 43.4L322.0 44.0L322.0 42.0L322.2 39.0L321.7 37.0L322.0 35.7ZM320.0 48.5L321.5 47.5L323.3 48.0L325.5 46.7L324.0 46.0L321.8 44.5L321.5 46.5L320.3 46.7L320.0 48.5ZM321.4 48.6L322.0 50.5L321.0 52.0L320.9 53.1L320.8 54.3L319.8 55.1L318.8 55.4L317.0 55.4L316.8 56.5L315.2 56.2L315.3 55.4L313.0 55.7L311.0 56.0L311.0 55.3L312.6 54.5L315.5 54.4L316.8 52.7L317.5 53.1L319.0 52.0L320.0 50.2L320.0 49.3L321.4 48.6ZM310.0 56.2L311.9 56.1L311.5 58.5L310.6 59.0L310.2 57.5L310.0 56.2ZM312.5 56.8L314.7 56.2L314.0 55.7L312.5 56.1L312.5 56.8ZM301.5 64.7L302.0 65.3L300.8 68.0L300.2 67.0L301.0 65.0L301.5 64.7ZM288.6 70.8L290.3 69.9L291.0 70.4L289.5 71.8L288.6 71.5L288.6 70.8ZM300.5 71.5L302.3 71.6L302.2 73.2L301.5 74.5L302.0 76.0L304.0 76.5L303.9 77.2L302.5 76.5L300.6 76.1L300.5 74.5L300.0 73.7L300.5 71.5ZM302.0 83.0L303.5 81.3L305.5 80.2L306.5 82.5L305.5 84.2L304.0 83.7L302.0 83.0ZM304.3 77.5L305.6 78.5L305.0 80.0L304.0 79.0L304.3 77.5ZM302.0 78.2L303.3 79.0L303.2 80.8L302.5 79.5L302.0 78.2ZM297.2 81.6L299.5 79.5L299.7 78.7L299.0 79.3L297.2 81.6ZM300.3 76.6L301.5 76.8L301.0 77.7L300.3 76.6ZM289.0 88.5L289.6 88.0L291.0 88.4L293.0 86.8L294.5 85.4L296.0 84.0L297.0 83.0L297.7 84.0L299.2 84.7L298.0 85.7L297.6 86.8L298.0 89.0L299.0 89.2L297.5 90.0L296.5 91.5L296.3 93.5L294.6 94.1L293.0 93.2L291.8 93.5L290.2 92.9L290.0 91.5L289.0 90.0L289.0 88.5ZM275.3 84.4L277.5 84.8L280.3 87.5L281.5 88.3L283.7 90.0L284.5 91.5L286.0 93.0L285.8 95.8L284.5 95.9L282.3 94.0L280.8 92.0L279.2 89.8L278.5 88.0L277.0 86.5L275.3 84.4ZM285.2 96.8L286.0 95.9L288.0 96.2L290.5 96.5L292.7 96.9L294.5 97.7L294.4 98.6L291.0 98.2L288.0 97.8L286.5 97.4L285.2 96.8ZM294.6 98.1L295.7 98.4L295.2 98.8L294.6 98.1ZM296.0 98.4L296.7 98.3L296.5 98.9L296.0 98.4ZM296.8 98.5L299.0 98.2L299.0 98.8L297.0 99.0L296.8 98.5ZM299.8 98.5L302.9 98.1L302.8 98.7L300.0 98.8L299.8 98.5ZM299.0 99.5L300.8 99.6L300.5 100.2L299.0 99.7L299.0 99.5ZM303.5 100.3L305.2 99.0L307.3 98.4L306.5 98.9L304.5 100.0L303.5 100.3ZM299.5 95.5L300.4 95.5L300.3 93.0L301.0 92.6L302.0 94.8L303.2 94.5L302.0 93.0L301.3 91.9L303.2 91.0L302.5 90.7L300.6 91.3L300.1 89.5L301.0 89.5L303.0 89.1L304.5 89.6L305.2 88.4L304.5 88.7L301.0 88.7L300.5 89.1L299.8 90.0L299.3 91.5L298.8 93.0L299.5 95.5ZM307.5 88.2L308.2 89.0L308.5 89.5L308.0 90.5L307.6 89.5L307.5 88.2ZM308.0 93.2L310.8 93.4L310.5 93.8L308.2 93.6L308.0 93.2ZM306.0 93.2L307.2 93.3L306.8 93.8L306.0 93.6L306.0 93.2ZM311.0 91.3L312.5 90.4L314.0 90.9L315.5 93.3L318.0 91.7L321.0 92.6L324.5 93.8L326.0 95.5L327.8 96.3L327.0 96.8L328.0 98.1L330.0 100.2L328.0 100.1L326.2 98.5L324.0 97.8L323.3 99.0L322.5 99.3L321.0 99.1L319.0 98.1L318.0 98.3L317.6 97.5L318.5 96.9L317.5 95.2L315.5 94.5L313.5 94.0L312.2 92.8L313.5 92.4L312.0 92.2L311.0 91.3ZM328.3 95.6L330.0 95.5L331.5 94.8L332.2 94.2L332.0 95.5L330.5 96.2L328.5 96.0L328.3 95.6ZM330.5 92.6L332.0 93.4L333.0 94.6L332.6 94.8L331.5 93.6L330.5 92.6ZM336.5 96.6L337.5 97.3L337.0 97.4L336.5 96.6ZM339.0 98.0L340.8 98.5L340.5 98.8L339.0 98.3L339.0 98.0ZM340.0 99.3L340.8 99.5L340.5 99.9L339.7 99.7L340.0 99.3ZM346.5 105.0L347.2 105.5L346.8 105.8L346.5 105.0ZM344.0 110.2L347.0 112.3L346.5 112.4L344.2 110.8L344.0 110.2ZM357.2 107.4L358.5 107.6L358.2 108.2L357.3 108.0L357.2 107.4ZM358.8 106.3L360.0 106.1L359.9 106.7L358.8 106.7L358.8 106.3ZM293.5 112.0L294.2 111.8L296.7 110.6L299.0 110.0L301.0 109.5L302.2 107.5L303.5 106.5L305.0 104.6L306.5 103.9L308.0 104.9L309.6 105.0L310.1 103.0L311.5 102.3L312.6 102.2L312.7 101.5L316.0 102.0L316.7 102.3L316.0 103.5L315.5 105.0L317.5 106.2L319.3 107.4L320.8 107.5L321.5 105.0L321.6 102.6L322.5 100.7L323.5 102.5L323.8 104.5L325.3 105.0L325.4 106.5L326.3 109.0L328.8 110.5L330.6 112.5L333.0 115.0L333.6 118.5L333.0 121.0L332.0 122.8L330.8 124.5L330.0 127.5L328.0 127.8L326.3 129.0L324.5 128.2L323.5 128.8L321.5 128.4L319.7 127.2L319.5 125.8L318.0 125.6L318.5 124.5L318.0 123.3L317.6 125.0L316.8 125.3L317.5 124.0L317.9 122.9L315.9 124.8L315.2 124.5L314.1 122.8L311.5 121.5L309.0 121.6L306.0 122.3L304.0 123.3L303.5 124.0L300.0 124.0L298.0 125.0L296.0 124.8L295.2 124.2L295.5 123.5L295.7 122.0L295.0 119.5L294.0 117.5L293.3 116.0L293.8 114.0L293.5 112.0ZM324.6 130.7L328.3 130.9L328.2 132.2L327.0 133.6L325.8 133.4L325.0 132.0L324.6 130.7ZM352.7 124.4L354.5 125.8L355.9 127.3L358.5 127.7L357.9 129.2L356.9 129.5L356.0 131.3L354.8 131.3L355.2 130.2L353.8 129.2L354.6 128.0L354.2 126.4L352.7 124.4ZM352.6 130.5L354.3 131.5L353.2 133.0L352.8 133.8L351.3 134.3L350.6 135.9L349.0 136.6L346.5 136.0L347.0 135.0L348.5 134.0L350.8 132.7L351.8 131.3L352.6 130.5ZM259.9 80.2L261.0 81.2L261.9 82.8L261.3 83.9L260.1 84.0L259.8 82.0L259.9 80.2ZM212.3 54.9L214.6 54.3L213.9 55.1L212.5 55.3L212.3 54.9ZM203.5 54.7L206.3 54.7L206.0 55.0L203.6 54.8L203.5 54.7ZM192.4 51.9L195.6 51.7L195.1 53.3L192.5 52.4L192.4 51.9ZM188.2 49.1L189.8 48.9L189.6 50.8L188.5 51.0L188.2 49.1ZM188.6 47.4L189.5 47.1L189.4 48.6L188.7 48.2L188.6 47.4ZM191.0 34.0L192.6 33.9L192.3 34.8L191.1 34.7L191.0 34.0ZM198.1 32.8L198.9 32.1L198.5 33.0L198.1 32.8Z" fill="#efefef" stroke="none"/><path d="M207.5 47.5L208.0 46.5L208.6 45.7L209.7 44.8L210.7 43.5L211.7 43.4L213.5 44.0L212.5 44.7L213.5 45.5L215.0 45.2L216.5 44.7L218.0 42.9L219.2 42.8L218.0 44.0L217.5 45.3L219.0 46.0L221.6 48.0L220.0 49.0L217.0 48.9L215.0 48.0L213.0 48.1L211.0 48.8L209.0 48.8L208.0 48.3L207.5 47.5ZM227.0 46.5L227.5 44.5L229.2 43.5L231.0 43.0L233.0 43.2L233.1 44.5L231.3 45.6L232.5 48.0L233.0 49.5L234.0 51.0L233.9 52.7L232.0 53.4L230.5 52.9L229.1 52.2L229.5 49.8L228.5 48.4L227.5 47.2L227.0 46.5Z" fill="#ffffff" stroke="#383838" stroke-width="0.6" vector-effect="non-scaling-stroke"/></g><path d="M73.42 199.40V369.20M106.63 199.40V369.20M139.85 199.40V369.20M173.07 199.40V369.20M206.28 199.40V369.20M239.50 199.40V369.20M272.72 199.40V369.20M305.93 199.40V369.20M339.15 199.40V369.20M372.37 199.40V369.20M405.58 199.40V369.20M438.80 199.40V369.20M40.20 346.56H438.80M40.20 323.92H438.80M40.20 301.28H438.80M40.20 278.64H438.80M40.20 256.00H438.80M40.20 233.36H438.80M40.20 210.72H438.80" stroke="#b0b0b0" stroke-width="0.55" stroke-dasharray="1.9 1.3" fill="none"/><path d="M281.5 235h0m-1 .5h0m4.5 0h0m23 .5h0m-11.5 .5h0m2 0h0m3.5 0h0m-26.5 .5h0m9 0h0m5 0h0m36.5 0h0m-46 .5h0m3.5 0h0m44 0h0m-53 .5h0m4.5 0h0m1 0h0m17.5 0h0m20 0h0m-40.5 .5h0m-2.5 .5h0m-6.5 .5h0m13 0h0m1.5 0h0m43.5 0h0m-10.5 .5h0m9 0h0m16 .5h0m-73 .5h0m-2 2h0m-156.5 1h0m171 0h0m69.5 23.5h0m7 .5h0m2 0h0m3 0h0m5 0h0m-2 1.5h0m-4.5 .5h0m7 0h0m-6 .5h0m3.5 .5h0m0 .5h0m-11 .5h0m10 0h0m-2 .5h0m-1.5 .5h0m-3 .5h0m6.5 .5h0m10.5 0h0m-17.5 .5h0m1 0h0m2 0h0m1.5 0h0m1.5 0h0m-19.5 .5h0m11.5 0h0m10 0h0m-8.5 .5h0m-1.5 .5h0m3 1h0m3 3h0m-206.5 13h0m5 .5h0m11.5 0h0m87.5 6h0m-87 .5h0m3 0h0m-12.5 .5h0m1 .5h0m9 .5h0m88.5 .5h0m-89 .5h0m88.5 0h0m4 0h0m-98 2h0m3.5 0h0m93.5 0h0m6.5 0h0m-92 3.5h0m-18 1h0m96 2h0m19 3.5h0" stroke="#dae9f2" stroke-width="1.20" stroke-linecap="square" stroke-opacity="0.9"/><path d="M317 235h0m-207.5 2h0m222 1h0m-73 5h0m-2 1.5h0m-139.5 .5h0m146 3.5h0m66 18.5h0m4.5 6h0m-6.5 8h0m67.5 25h0m-126.5 5.5h0m-2 1.5h0m8 3h0" stroke="#fce2d2" stroke-width="1.20" stroke-linecap="square" stroke-opacity="0.9"/><path d="M293 232h0m7 1h0m-201 .5h0m173 0h0m14 0h0m9.5 .5h0m8 0h0m15.5 0h0m-33 .5h0m21.5 0h0m27.5 0h0m-54 .5h0m13 0h0m9.5 0h0m8.5 0h0m16 0h0m-48.5 .5h0m4.5 0h0m8.5 0h0m13.5 0h0m1 0h0m6.5 0h0m8 0h0m5 0h0m5.5 0h0m-41.5 .5h0m29.5 0h0m4.5 0h0m-46 .5h0m3 0h0m1 0h0m17.5 0h0m17.5 0h0m6.5 0h0m4.5 0h0m-45 .5h0m8 0h0m25.5 0h0m-41 .5h0m5 0h0m.5 0h0m2.5 0h0m2 0h0m9.5 0h0m6 0h0m13.5 0h0m21 0h0m-59 .5h0m.5 0h0m9 0h0m12.5 0h0m4.5 0h0m3 0h0m1.5 0h0m4 0h0m3.5 0h0m2.5 0h0m14.5 0h0m-49 .5h0m15 0h0m3.5 0h0m12.5 0h0m14 0h0m-37.5 .5h0m2 0h0m15.5 0h0m12 0h0m17.5 0h0m12 0h0m-239 .5h0m175 0h0m.5 0h0m12.5 0h0m3.5 0h0m-25 .5h0m5.5 0h0m2.5 0h0m45 0h0m3 0h0m-71.5 .5h0m15.5 0h0m6 0h0m27.5 0h0m3.5 0h0m-37 .5h0m1 0h0m-168.5 1h0m171 0h0m2 0h0m4 0h0m-183 .5h0m173.5 0h0m49.5 0h0m-46 1h0m8.5 0h0m-14 .5h0m1 0h0m-170.5 .5h0m171 .5h0m.5 0h0m-175.5 1h0m146.5 0h0m2 .5h0m-140 1.5h0m244 17h0m3.5 .5h0m-3.5 1h0m5.5 .5h0m-1 .5h0m7.5 0h0m1 0h0m-18 .5h0m7 0h0m3 0h0m4.5 0h0m5.5 0h0m-10.5 .5h0m-9 .5h0m6 0h0m2.5 0h0m-.5 .5h0m8 0h0m1.5 0h0m-16 .5h0m4.5 0h0m3 0h0m4 0h0m1.5 0h0m3 0h0m-10 .5h0m2.5 0h0m.5 0h0m2.5 0h0m-1.5 .5h0m.5 0h0m.5 0h0m2 0h0m2.5 0h0m-10.5 .5h0m3 0h0m6.5 0h0m-13 1h0m3.5 0h0m2 0h0m1.5 0h0m7.5 0h0m3 0h0m1 0h0m-18.5 .5h0m5.5 0h0m1 0h0m1.5 0h0m.5 0h0m1.5 0h0m.5 0h0m6 0h0m-13.5 .5h0m1.5 0h0m3 0h0m2 0h0m1 0h0m1 0h0m4 0h0m-22 .5h0m14.5 0h0m3 0h0m2.5 0h0m-9 .5h0m7 0h0m2 0h0m-9.5 .5h0m1 0h0m5.5 0h0m-2 .5h0m2 0h0m-10 .5h0m9.5 0h0m-3.5 .5h0m-7.5 .5h0m3 8h0m-188.5 5h0m-7 1.5h0m3.5 0h0m-3 .5h0m0 .5h0m1 1.5h0m4.5 0h0m1.5 0h0m6.5 0h0m-19 .5h0m9 0h0m-7.5 .5h0m12.5 3h0m-1.5 1h0m1 0h0m-3.5 .5h0m99 0h0m-6 1h0m4 0h0m-101 2h0m1 0h0m5.5 0h0m-.5 1.5h0m1 0h0m.5 0h0m-11.5 1h0m17.5 0h0m3.5 0h0m217.5 0h0m1.5 0h0m-223 .5h0m217.5 0h0m-128 1.5h0m7.5 0h0m125 .5h0m2.5 0h0m-140.5 1h0m142 0h0m-235 1.5h0m.5 0h0m233 1h0m-135.5 7.5h0m2 1.5h0m-7 1h0" stroke="#c2ddec" stroke-width="1.20" stroke-linecap="square" stroke-opacity="0.9"/><path d="M317.5 235h0m-.5 1.5h0m14.5 0h0m-225 5h0m1 0h0m148.5 0h0m-148.5 .5h0m.5 .5h0m152.5 1h0m-148.5 .5h0m145.5 .5h0m-151.5 1h0m149 .5h0m13 0h0m-23.5 .5h0m-138.5 .5h0m5 0h0m130.5 0h0m7.5 .5h0m8 .5h0m1 1h0m-6 1h0m-15 3h0m91 21h0m-2.5 1h0m1 3h0m5 3h0m-5.5 4.5h0m66 21h0m2 .5h0m6 .5h0m-3 1h0m-2 .5h0m-137 1h0m7.5 3h0m-4.5 1h0m10.5 0h0m-16.5 2h0m2 3.5h0" stroke="#fbccb4" stroke-width="1.20" stroke-linecap="square" stroke-opacity="0.9"/><path d="M319 233h0m29.5 0h0m6 .5h0m-64 .5h0m-6.5 1h0m3.5 0h0m12 0h0m-22.5 .5h0m2.5 0h0m4.5 0h0m1 0h0m26.5 0h0m.5 0h0m1 0h0m1.5 0h0m-29 .5h0m18.5 0h0m17 0h0m10.5 0h0m17 0h0m6 0h0m-70 .5h0m.5 0h0m9.5 0h0m7 0h0m10 0h0m8.5 0h0m-24 .5h0m.5 0h0m5 0h0m2 0h0m1 0h0m7 0h0m1.5 0h0m6 0h0m-52.5 .5h0m5.5 0h0m6 0h0m5.5 0h0m2 0h0m8 0h0m5 0h0m7 0h0m8 0h0m4.5 0h0m10 0h0m1 0h0m16.5 0h0m-64 .5h0m1.5 0h0m3 0h0m1.5 0h0m.5 0h0m23 0h0m8.5 0h0m3 0h0m10 0h0m7.5 0h0m15 0h0m-68.5 .5h0m31.5 0h0m7.5 0h0m5.5 0h0m1.5 0h0m-59.5 .5h0m4.5 0h0m8 0h0m1.5 0h0m20 0h0m7.5 0h0m2.5 0h0m5.5 0h0m-215.5 .5h0m169.5 0h0m4.5 0h0m4 0h0m21.5 0h0m10 0h0m13 0h0m-64.5 .5h0m118.5 0h0m-116 .5h0m10.5 0h0m2.5 0h0m2 0h0m13 0h0m26.5 0h0m6.5 0h0m60 0h0m-109.5 1h0m70 0h0m37 0h0m-112 .5h0m-3.5 .5h0m17.5 0h0m3 0h0m-5.5 .5h0m-3.5 .5h0m-173.5 .5h0m279.5 0h0m-113 .5h0m6.5 0h0m105 0h0m-2.5 .5h0m3 0h0m-104 .5h0m96 0h0m9 0h0m.5 0h0m-115.5 1h0m118 0h0m-134 .5h0m-1 .5h0m129.5 0h0m3.5 0h0m-6 .5h0m-3 .5h0m3.5 0h0m4.5 0h0m-138 .5h0m12.5 .5h0m120.5 0h0m-113 1h0m112.5 0h0m4.5 0h0m-102.5 .5h0m98.5 0h0m5.5 0h0m-129.5 1h0m2 0h0m1.5 0h0m3 0h0m19.5 0h0m5 0h0m87 0h0m-90 .5h0m3.5 0h0m93 0h0m-97.5 .5h0m-136 1h0m137 1h0m-181 .5h0m176.5 0h0m98 .5h0m-.5 2.5h0m13 .5h0m-240 1h0m239.5 0h0m-10 1h0m10 0h0m-2 .5h0m-253 1.5h0m6 0h0m-7 .5h0m10 .5h0m238.5 .5h0m-241 1h0m211 0h0m-216 .5h0m5.5 0h0m-1.5 .5h0m204.5 0h0m-207.5 .5h0m221 0h0m-213 .5h0m217 0h0m-.5 .5h0m2.5 0h0m2 .5h0m-44 .5h0m34 1h0m9.5 0h0m-14.5 .5h0m4 0h0m8 0h0m-18 .5h0m6.5 0h0m1.5 0h0m1 0h0m3 0h0m1.5 0h0m9 0h0m-32.5 .5h0m27.5 0h0m-4 .5h0m.5 0h0m.5 0h0m1 0h0m3 0h0m1.5 0h0m-27 .5h0m1.5 0h0m11.5 0h0m1.5 0h0m.5 0h0m1 0h0m10 0h0m-29 .5h0m3.5 0h0m13 0h0m7 0h0m5 0h0m1 0h0m1.5 0h0m-31 .5h0m20 0h0m1 0h0m2 0h0m1.5 0h0m1 0h0m2.5 0h0m3 0h0m-27.5 .5h0m2.5 0h0m8.5 0h0m8 0h0m9 0h0m-31 .5h0m19 0h0m1.5 0h0m1 0h0m3 0h0m-23 .5h0m25.5 0h0m-37 .5h0m21.5 0h0m14.5 0h0m9 0h0m-244.5 .5h0m20 0h0m199.5 0h0m10.5 0h0m3 0h0m-209 .5h0m192.5 0h0m3.5 .5h0m-4 1h0m-191 .5h0m196.5 0h0m-3.5 .5h0m-214.5 .5h0m213 0h0m8 .5h0m-227 .5h0m9.5 0h0m-8 .5h0m13.5 .5h0m205 0h0m-1.5 .5h0m-213 .5h0m197.5 0h0m-193.5 .5h0m219.5 0h0m-214.5 .5h0m2 .5h0m210.5 0h0m2.5 0h0m-216.5 .5h0m217.5 0h0m-4.5 2h0m2.5 0h0m-6.5 .5h0m7.5 0h0m-1 .5h0m1.5 0h0m1.5 0h0m.5 .5h0m-2.5 2h0m-196.5 .5h0m119.5 .5h0m0 .5h0m-48.5 .5h0m51 0h0m.5 0h0m-4.5 1h0m-106.5 .5h0m205.5 0h0m-216.5 .5h0m3.5 .5h0m190 1.5h0m-182.5 .5h0m181 0h0m-190.5 .5h0m204.5 0h0m-195 .5h0m88.5 .5h0m90 0h0m17 0h0m.5 0h0m2.5 0h0m-4 .5h0m.5 0h0m-13 .5h0m10.5 0h0m1.5 0h0m-14 .5h0m2.5 0h0m7 0h0m1 0h0m.5 0h0m8 0h0m-189.5 .5h0m169 0h0m13 0h0m.5 0h0m3 0h0m2 0h0m-17.5 .5h0m1 0h0m10.5 0h0m2 0h0m1 0h0m3 0h0m5 0h0m-189.5 .5h0m166.5 0h0m1 0h0m2.5 0h0m7 0h0m.5 0h0m1.5 0h0m1.5 0h0m2 0h0m.5 0h0m-183.5 .5h0m167.5 0h0m2 0h0m8.5 0h0m.5 0h0m5.5 0h0m-107.5 .5h0m3.5 0h0m90.5 0h0m1 0h0m7.5 0h0m4.5 0h0m1 0h0m-190 .5h0m85 0h0m91.5 0h0m11.5 0h0m1 0h0m7 0h0m1.5 0h0m-195 .5h0m7 0h0m70.5 0h0m94 0h0m1 0h0m2.5 0h0m10.5 0h0m.5 0h0m.5 0h0m-189 .5h0m2.5 0h0m173.5 0h0m1.5 0h0m12 0h0m7 0h0m-22 .5h0m2.5 0h0m.5 0h0m6.5 0h0m10 0h0m-183.5 .5h0m165.5 0h0m.5 0h0m.5 0h0m2 0h0m5 0h0m-7.5 .5h0m12.5 0h0m.5 0h0m5 0h0m23.5 0h0m-233.5 .5h0m191 0h0m2 0h0m11.5 0h0m8 0h0m-196.5 .5h0m3 0h0m174.5 0h0m39 0h0m-208.5 .5h0m1.5 0h0m-21.5 .5h0m190.5 0h0m-177 1h0m6.5 0h0m-15.5 .5h0m14.5 0h0m172.5 0h0m-197 1h0m3 0h0m.5 0h0m3 0h0m7 0h0m7 0h0m181.5 0h0m-181.5 .5h0m8.5 0h0m-17.5 .5h0m11.5 0h0m77 0h0m-89 .5h0m3 .5h0m2.5 0h0m91.5 0h0m-90 .5h0m-15 .5h0m3 0h0m5 0h0m.5 0h0m1 0h0m.5 .5h0m.5 0h0m-6 .5h0m10 1.5h0m88 0h0m-96 1h0m-4 .5h0m99.5 1h0m-95 3h0m122 .5h0m-15 1h0m-15 1h0m-77.5 .5h0m3.5 1h0m.5 .5h0m2 1h0m-21.5 4h0m16 0h0m-19.5 1h0m240.5 3.5h0m-3.5 8.5h0m-242.5 3h0m1 0h0m-1.5 6.5h0" stroke="#a2cde3" stroke-width="1.20" stroke-linecap="square" stroke-opacity="0.9"/><path d="M313.5 233.5h0m2.5 3h0m-6.5 .5h0m-4.5 .5h0m-21 1h0m-174.5 1.5h0m236 0h0m-236.5 2.5h0m135.5 0h0m8 0h0m-.5 1h0m-.5 1h0m1 .5h0m-148 .5h0m1.5 0h0m139 0h0m137.5 1h0m-263 1h0m129 0h0m-141.5 1h0m131.5 0h0m28.5 0h0m124 .5h0m-144 1h0m6 .5h0m-146 2.5h0m273 .5h0m-276 3.5h0m290.5 .5h0m-1 1.5h0m-2 .5h0m-1.5 .5h0m1 .5h0m2 0h0m-5.5 1.5h0m2.5 1h0m-27.5 3h0m-214.5 .5h0m0 1.5h0m1.5 0h0m213.5 0h0m-14.5 1h0m-199.5 1.5h0m190.5 .5h0m22 .5h0m-5 1h0m-30.5 .5h0m33.5 0h0m5.5 .5h0m-42.5 2h0m27.5 0h0m5.5 1h0m-13.5 .5h0m-214.5 .5h0m197.5 0h0m-185 1h0m182.5 0h0m-193.5 .5h0m227.5 0h0m-229.5 .5h0m15 .5h0m180 0h0m2 .5h0m31.5 0h0m-214.5 .5h0m215 0h0m-223 1.5h0m1.5 0h0m3 0h0m216.5 0h0m.5 .5h0m-212.5 1h0m4 .5h0m208.5 0h0m1 0h0m-3.5 .5h0m4.5 0h0m-.5 .5h0m0 .5h0m-4 .5h0m.5 0h0m.5 0h0m-29.5 .5h0m29 0h0m.5 0h0m3 0h0m-2.5 .5h0m-27.5 .5h0m-46 1.5h0m-44.5 .5h0m121.5 0h0m-198.5 1.5h0m83 0h0m-13 .5h0m-71 .5h0m73 0h0m3 0h0m47 0h0m-119.5 .5h0m-1 .5h0m4 0h0m4 0h0m63 0h0m-66.5 .5h0m3 0h0m69 0h0m-64.5 .5h0m.5 0h0m1 0h0m77.5 0h0m-88.5 .5h0m74 0h0m25 .5h0m-102 .5h0m95 0h0m3.5 0h0m.5 0h0m1.5 0h0m-97.5 .5h0m5 0h0m86 0h0m11.5 0h0m-96.5 .5h0m89 0h0m2.5 0h0m-9 .5h0m.5 0h0m20 0h0m-103.5 .5h0m1.5 0h0m87.5 0h0m1.5 0h0m.5 0h0m2.5 0h0m9.5 0h0m-18.5 .5h0m2 0h0m1.5 0h0m.5 0h0m1.5 0h0m1 0h0m-88 .5h0m1 0h0m82 0h0m1 0h0m3 0h0m1 0h0m1.5 0h0m2.5 0h0m1.5 0h0m-91.5 .5h0m81.5 0h0m1 0h0m1 0h0m1.5 0h0m.5 0h0m1.5 0h0m3.5 0h0m-93.5 .5h0m6.5 0h0m75 0h0m2.5 0h0m3.5 0h0m2 0h0m3.5 0h0m107 0h0m-203.5 .5h0m1.5 0h0m84 0h0m4 0h0m1 0h0m2.5 0h0m3 0h0m2.5 0h0m1 0h0m1 0h0m100 0h0m-113.5 .5h0m14 0h0m6.5 0h0m-107.5 .5h0m.5 0h0m4.5 0h0m91 0h0m107 0h0m-204 .5h0m88 0h0m2.5 0h0m2 0h0m6.5 0h0m.5 0h0m1.5 0h0m86 0h0m-185 .5h0m1 0h0m4.5 0h0m8 0h0m76.5 0h0m.5 0h0m.5 0h0m1.5 0h0m5.5 0h0m1.5 0h0m-98.5 .5h0m3.5 0h0m83.5 0h0m1 0h0m1 0h0m4 0h0m1.5 0h0m1 0h0m1.5 0h0m-103 .5h0m5 0h0m7.5 0h0m84 0h0m1 0h0m1 0h0m-97 .5h0m4.5 0h0m3.5 0h0m3 0h0m5.5 0h0m77 0h0m4.5 0h0m-100.5 .5h0m21.5 0h0m2.5 0h0m91.5 0h0m-117 .5h0m12.5 0h0m1 0h0m79.5 0h0m-91.5 .5h0m.5 0h0m17 0h0m90.5 0h0m124.5 0h0m-221 .5h0m4.5 0h0m81.5 0h0m5.5 0h0m1 0h0m-100 .5h0m.5 0h0m7 0h0m5.5 0h0m79.5 0h0m5 0h0m-103 .5h0m12 0h0m.5 0h0m85 0h0m.5 0h0m-96.5 .5h0m.5 0h0m.5 0h0m1 0h0m4.5 0h0m1.5 0h0m4 0h0m11.5 0h0m77.5 0h0m133.5 0h0m-240 .5h0m14.5 0h0m4 0h0m1 0h0m1 0h0m.5 0h0m12 0h0m215.5 0h0m-245 .5h0m7 0h0m7 0h0m1 0h0m-18 .5h0m4 0h0m1.5 0h0m1.5 0h0m1 0h0m9 0h0m13.5 0h0m75.5 0h0m135.5 0h0m-231 .5h0m7 0h0m2 0h0m5 0h0m2 0h0m75.5 0h0m22.5 0h0m118.5 0h0m-239.5 .5h0m4.5 0h0m8 0h0m.5 0h0m3.5 0h0m1.5 0h0m3 0h0m-21.5 .5h0m.5 0h0m1 0h0m4 0h0m8.5 0h0m2.5 0h0m9 0h0m93 0h0m117 0h0m-238 .5h0m5 0h0m.5 0h0m4 0h0m4 0h0m8 0h0m96.5 0h0m-114.5 .5h0m2 0h0m7 0h0m3 0h0m2.5 0h0m2 0h0m1 0h0m217.5 0h0m-236.5 .5h0m6 0h0m-6 .5h0m1 0h0m1 0h0m5.5 0h0m4 0h0m1 0h0m1.5 0h0m1 0h0m.5 0h0m-5.5 .5h0m3.5 0h0m2 0h0m1.5 0h0m2 0h0m8 0h0m90 0h0m6 0h0m-124 .5h0m2 0h0m7 0h0m2 0h0m1.5 0h0m1 0h0m4 0h0m2 0h0m6 0h0m.5 0h0m72 0h0m-80 .5h0m-13.5 .5h0m6.5 0h0m1 0h0m1 0h0m1.5 0h0m12.5 0h0m-20 1h0m1.5 0h0m-4.5 .5h0m3.5 0h0m12 .5h0m-17 .5h0m9.5 0h0m90.5 0h0m-92.5 .5h0m97 0h0m-95 .5h0m3.5 0h0m4.5 0h0m4.5 1h0m86.5 0h0m24 1h0m-128 .5h0m98 1h0m31 0h0m-15.5 .5h0m-4 1h0m-14.5 2.5h0m-77 .5h0m2 1h0m.5 1h0" stroke="#f6b394" stroke-width="1.20" stroke-linecap="square" stroke-opacity="0.9"/><path d="M290 233h0m6 0h0m27.5 .5h0m38 0h0m-41 .5h0m1.5 0h0m-29 .5h0m5 0h0m11.5 0h0m13 0h0m-14 .5h0m21 0h0m-22.5 .5h0m16.5 0h0m19 0h0m-63 .5h0m2 0h0m4 0h0m1 0h0m-186.5 .5h0m174 0h0m10.5 0h0m2 0h0m4 0h0m19 0h0m3 0h0m2 0h0m2 0h0m4 0h0m12.5 0h0m18.5 0h0m-55 .5h0m6.5 0h0m1.5 0h0m3 0h0m4 0h0m7.5 0h0m.5 0h0m9.5 0h0m4 0h0m13.5 0h0m-74.5 .5h0m3 0h0m9 0h0m18.5 0h0m7.5 0h0m17.5 0h0m.5 0h0m-54 .5h0m.5 0h0m2 0h0m1.5 0h0m2.5 0h0m12.5 0h0m9 0h0m13 0h0m-31 .5h0m49 0h0m2.5 0h0m7.5 0h0m-69.5 .5h0m4 0h0m6 0h0m3.5 0h0m23 0h0m5.5 0h0m6 0h0m.5 0h0m13.5 0h0m-62.5 .5h0m1.5 0h0m11.5 0h0m6.5 0h0m15.5 0h0m6.5 0h0m10 0h0m-49 .5h0m2.5 0h0m6.5 0h0m13.5 0h0m.5 0h0m17.5 0h0m14 0h0m-52 .5h0m3 0h0m2 0h0m9 0h0m25.5 0h0m28.5 0h0m-60 .5h0m35.5 0h0m11.5 .5h0m3.5 0h0m-45 .5h0m-190 .5h0m137 0h0m39.5 0h0m1.5 0h0m9.5 0h0m-16.5 .5h0m-167 .5h0m179 0h0m103 0h0m4 0h0m-281.5 .5h0m138 0h0m135.5 0h0m-119.5 .5h0m.5 .5h0m-.5 .5h0m4.5 0h0m1 0h0m117 0h0m-117 .5h0m-10 1h0m119.5 0h0m4 0h0m1.5 0h0m-9 .5h0m1.5 0h0m8 .5h0m1.5 0h0m5 .5h0m-284 .5h0m160 0h0m120.5 0h0m-146.5 .5h0m140.5 0h0m-104 .5h0m107.5 0h0m-143.5 .5h0m24 0h0m15.5 0h0m95.5 0h0m-111.5 .5h0m1.5 0h0m114.5 0h0m-96.5 1.5h0m4.5 0h0m90.5 0h0m-111.5 .5h0m17 0h0m-135.5 1.5h0m230.5 0h0m-2.5 1.5h0m-231.5 2h0m-4 1h0m251.5 0h0m-245.5 1h0m-5 .5h0m8 0h0m241 0h0m-2.5 .5h0m3.5 .5h0m-253.5 .5h0m250 0h0m-237 .5h0m-14 .5h0m190 .5h0m-182.5 1h0m-6.5 1.5h0m0 1h0m225 0h0m3 0h0m-33 .5h0m22 0h0m-207 1h0m207.5 0h0m.5 0h0m3.5 0h0m2.5 .5h0m-15.5 .5h0m15 0h0m2 0h0m-5.5 .5h0m4.5 0h0m-13 .5h0m3 0h0m2 0h0m1 0h0m11 0h0m-24 .5h0m18 0h0m5 0h0m-27 .5h0m19 0h0m1.5 .5h0m-7.5 .5h0m1 0h0m6 0h0m4.5 0h0m-7.5 .5h0m2 0h0m2.5 0h0m7.5 0h0m1 0h0m-30 .5h0m18 0h0m6.5 0h0m2 0h0m3 0h0m4 0h0m-16.5 .5h0m2 0h0m1.5 0h0m3 0h0m2.5 0h0m6.5 0h0m-36 .5h0m1.5 0h0m.5 0h0m1 0h0m28.5 0h0m-29.5 .5h0m15.5 0h0m1.5 0h0m.5 0h0m.5 0h0m3 0h0m1 0h0m3.5 0h0m-213.5 .5h0m186 0h0m3 0h0m7 0h0m3 0h0m1.5 0h0m9 0h0m.5 0h0m-25.5 .5h0m3.5 0h0m3.5 0h0m19.5 0h0m3 0h0m-27 .5h0m5.5 0h0m2.5 0h0m13.5 0h0m-14 .5h0m3.5 0h0m-7 .5h0m4.5 0h0m-218 .5h0m217 0h0m1 0h0m7 0h0m-226.5 .5h0m28.5 0h0m-26.5 1h0m10.5 0h0m205 0h0m1 0h0m2 0h0m1.5 0h0m1.5 1h0m-25.5 .5h0m24 0h0m-208 .5h0m0 .5h0m217 0h0m-7.5 .5h0m-215 .5h0m3.5 .5h0m5 1h0m211.5 1h0m1 0h0m-.5 1h0m1.5 0h0m0 1.5h0m-195.5 1.5h0m116.5 .5h0m-123 1h0m126 0h0m-119.5 .5h0m0 1.5h0m1.5 .5h0m68.5 0h0m-73.5 .5h0m192 0h0m-176.5 1h0m.5 1h0m193.5 .5h0m-88.5 .5h0m89.5 0h0m-200.5 .5h0m115 0h0m66 .5h0m18.5 0h0m.5 0h0m-16 .5h0m.5 0h0m14 0h0m-16 .5h0m14 0h0m1.5 0h0m1.5 0h0m.5 0h0m1 0h0m-16 .5h0m9 0h0m2.5 0h0m-12 .5h0m8.5 0h0m.5 0h0m-187.5 .5h0m176.5 0h0m1.5 0h0m.5 0h0m10 0h0m.5 0h0m1 0h0m1 0h0m1.5 0h0m2.5 0h0m-199.5 .5h0m7.5 0h0m87.5 0h0m87 0h0m17.5 0h0m-200 .5h0m180.5 0h0m2.5 0h0m15 0h0m5 0h0m-203 .5h0m91.5 0h0m11 0h0m79 0h0m12.5 0h0m4.5 0h0m-202.5 .5h0m6 0h0m13 0h0m75 0h0m91 0h0m1.5 0h0m2.5 0h0m.5 0h0m8.5 0h0m.5 0h0m2 0h0m.5 0h0m1 0h0m.5 0h0m6 0h0m-20 .5h0m10.5 0h0m.5 0h0m.5 0h0m1 0h0m1.5 0h0m6 0h0m-217.5 .5h0m1 0h0m196.5 0h0m.5 0h0m12 0h0m6 0h0m-188.5 .5h0m3.5 0h0m74 0h0m2.5 0h0m88 0h0m2 0h0m1 0h0m10.5 0h0m.5 0h0m1.5 0h0m4.5 0h0m-98 .5h0m78.5 0h0m2 0h0m1 0h0m9 0h0m-182 .5h0m95.5 0h0m75.5 0h0m1 0h0m1.5 0h0m12.5 0h0m3 0h0m3.5 0h0m-203 .5h0m99 0h0m11.5 0h0m71 0h0m2.5 0h0m-92 .5h0m90 0h0m20.5 0h0m18.5 0h0m-218.5 1h0m108.5 0h0m71 0h0m2.5 0h0m-180 .5h0m11.5 0h0m-26 .5h0m13.5 0h0m11.5 0h0m-21 .5h0m13 0h0m3 0h0m4 0h0m208 0h0m-215.5 .5h0m12 .5h0m204.5 0h0m-118.5 .5h0m6 0h0m-106 .5h0m9.5 0h0m-11 1h0m3.5 0h0m3 0h0m95.5 0h0m-103.5 .5h0m10.5 0h0m-1 .5h0m-5.5 .5h0m4.5 0h0m2 0h0m-15.5 .5h0m96.5 0h0m13.5 0h0m1 0h0m-110 .5h0m94.5 0h0m17 0h0m-117.5 .5h0m114 1h0m16.5 0h0m-28.5 .5h0m-89 .5h0m90.5 0h0m14 0h0m-14 .5h0m-10.5 .5h0m8 0h0m-8.5 1.5h0m23 0h0m-96 2.5h0m87 0h0m3.5 .5h0m-105.5 1h0m125 0h0m-110.5 2h0m-13 .5h0m16 0h0m2 1h0m-20 .5h0m16 .5h0m-6.5 3h0m5 1.5h0m1.5 1h0m223 2.5h0m1.5 2h0m-1.5 .5h0m-246.5 6.5h0m238 .5h0m-238.5 6.5h0" stroke="#7eb8d7" stroke-width="1.20" stroke-linecap="square" stroke-opacity="0.9"/><path d="M109 234.5h0m192 0h0m30.5 2h0m-16.5 .5h0m-199 .5h0m170.5 0h0m-8 .5h0m23.5 .5h0m81 0h0m-66.5 1h0m-40 1h0m30 .5h0m-195.5 .5h0m143 0h0m30.5 0h0m14 0h0m-51 2h0m-144.5 1.5h0m142.5 0h0m10 0h0m-17 .5h0m28 1h0m-162 .5h0m145.5 0h0m0 1h0m128 1h0m-274.5 .5h0m2 0h0m162 0h0m123 .5h0m-148 1h0m-136 1h0m133 1h0m-136 1.5h0m289.5 4.5h0m-6.5 2h0m6 .5h0m-6.5 .5h0m1.5 0h0m3 0h0m.5 1h0m-22.5 6h0m-11 2h0m-30 1.5h0m24 0h0m19.5 0h0m-10.5 .5h0m6.5 0h0m-46 1.5h0m35.5 0h0m-17.5 .5h0m10 .5h0m-200 .5h0m2.5 0h0m196.5 0h0m11 0h0m-206.5 .5h0m-21 .5h0m215.5 0h0m-215.5 .5h0m-6.5 1h0m6.5 0h0m222.5 0h0m-223 .5h0m224.5 0h0m-29.5 1.5h0m27.5 0h0m1 0h0m.5 0h0m.5 0h0m.5 .5h0m-215.5 .5h0m216 0h0m-216 .5h0m215.5 0h0m-5 1h0m4 0h0m-218 .5h0m1 0h0m216 0h0m1.5 0h0m-215 .5h0m186 0h0m29.5 0h0m-214 1h0m213.5 0h0m3 0h0m-3.5 .5h0m1 0h0m.5 1h0m2 0h0m-5.5 1h0m4.5 0h0m-33.5 1h0m-155.5 1h0m186 0h0m-199.5 2h0m1.5 0h0m88.5 0h0m-86 .5h0m7 0h0m69.5 0h0m-74 .5h0m1.5 0h0m3.5 0h0m-12 .5h0m78 0h0m9.5 0h0m-85.5 .5h0m9 0h0m-7 .5h0m1 0h0m5 0h0m-9.5 .5h0m8.5 0h0m87.5 0h0m3.5 0h0m2.5 0h0m-93 .5h0m.5 0h0m10 0h0m-2 .5h0m2 0h0m72.5 0h0m2 0h0m4 0h0m6 0h0m-100.5 .5h0m8 0h0m85.5 0h0m2 0h0m.5 0h0m1.5 0h0m3.5 0h0m2 0h0m-105 .5h0m94 0h0m7 0h0m7 0h0m-12 .5h0m1 0h0m3.5 0h0m6 0h0m-85.5 .5h0m73 0h0m.5 0h0m3.5 0h0m6 0h0m2 0h0m1 0h0m-106 .5h0m13.5 0h0m1.5 0h0m9 0h0m71 0h0m1 0h0m5 0h0m1.5 0h0m.5 0h0m1 0h0m.5 0h0m2 0h0m-6.5 .5h0m.5 0h0m1.5 0h0m1 0h0m.5 0h0m-94.5 .5h0m9 0h0m77 0h0m1.5 0h0m1 0h0m1 0h0m.5 0h0m2.5 0h0m2 0h0m1 0h0m-11.5 .5h0m3.5 0h0m.5 0h0m3 0h0m1.5 0h0m1.5 0h0m2.5 0h0m5 0h0m.5 0h0m-17.5 .5h0m1.5 0h0m6 0h0m2.5 0h0m-91.5 .5h0m10 0h0m72 0h0m2.5 0h0m1.5 0h0m-89.5 .5h0m4.5 0h0m4 0h0m77.5 0h0m3 0h0m4 0h0m7.5 0h0m-107.5 .5h0m3.5 0h0m4 0h0m87 0h0m6 0h0m.5 0h0m2.5 0h0m3.5 0h0m-13.5 .5h0m1.5 0h0m.5 0h0m2 0h0m2 0h0m2.5 0h0m4 0h0m1.5 0h0m5 0h0m-117 .5h0m19.5 0h0m80.5 0h0m1 0h0m1.5 0h0m1 0h0m1 0h0m2.5 0h0m3 0h0m-102 .5h0m4 0h0m3 0h0m7.5 0h0m78 0h0m6.5 0h0m.5 0h0m.5 0h0m91 0h0m-170.5 .5h0m74.5 0h0m2.5 0h0m102 0h0m-202 .5h0m8.5 0h0m4.5 0h0m4 0h0m6 0h0m72 0h0m7 0h0m1 0h0m1.5 0h0m2 0h0m1 0h0m105 0h0m-206.5 .5h0m2 0h0m3.5 0h0m94 0h0m100 0h0m-207 .5h0m4 0h0m1.5 0h0m8 0h0m-12 .5h0m5 0h0m11 0h0m.5 0h0m.5 0h0m75 0h0m9.5 0h0m3.5 0h0m4 0h0m-112 .5h0m104.5 0h0m3.5 0h0m127 0h0m7 0h0m-239.5 .5h0m3.5 0h0m1 0h0m5 0h0m9.5 0h0m90 0h0m-111 .5h0m2 0h0m1 0h0m2.5 0h0m8 0h0m4 0h0m1 0h0m95 0h0m125.5 0h0m-240 .5h0m11.5 0h0m4 0h0m3 0h0m3 0h0m9 0h0m81 0h0m-102 .5h0m2 0h0m11.5 0h0m78.5 0h0m8 0h0m.5 0h0m13.5 0h0m-119 .5h0m4 0h0m6 0h0m10 0h0m-11 .5h0m3 0h0m225.5 0h0m-236 .5h0m3 0h0m.5 0h0m1 0h0m4.5 0h0m5.5 0h0m-3.5 .5h0m106.5 0h0m-118.5 .5h0m5.5 0h0m1.5 0h0m2 0h0m7 0h0m2 0h0m-17 .5h0m3.5 0h0m15.5 0h0m2.5 0h0m92.5 0h0m-119 .5h0m1.5 0h0m1.5 0h0m3 0h0m3 0h0m1.5 0h0m3.5 0h0m.5 0h0m.5 0h0m3 0h0m106 0h0m-113 .5h0m.5 0h0m2 0h0m2 0h0m.5 0h0m2 0h0m2 0h0m9 0h0m4 0h0m-34.5 .5h0m10 0h0m4 0h0m8.5 0h0m-6.5 .5h0m1.5 0h0m3 0h0m11.5 0h0m-22 .5h0m6 0h0m1 0h0m2.5 0h0m1.5 0h0m91.5 0h0m-98 .5h0m3.5 0h0m3 0h0m1 0h0m-14 .5h0m1 0h0m4 0h0m98 0h0m-87 .5h0m-13 .5h0m4.5 0h0m2 0h0m89 0h0m6.5 0h0m4 0h0m-101.5 .5h0m-9 .5h0m8 .5h0m14.5 0h0m-23 .5h0m23.5 0h0m-12 1.5h0m119 1h0m-31.5 .5h0m6 0h0m27 0h0m-1 .5h0m-30.5 .5h0m9.5 0h0m-103 3h0m123.5 2h0m0 .5h0m117 7h0m-251 11h0m1.5 1.5h0" stroke="#ec9374" stroke-width="1.20" stroke-linecap="square" stroke-opacity="0.9"/><path d="M280.5 232h0m28 1h0m4 0h0m-31 .5h0m-3 .5h0m13 .5h0m12 .5h0m21.5 0h0m15.5 0h0m-68.5 .5h0m30.5 0h0m2 0h0m30.5 0h0m5 0h0m6.5 0h0m-37 .5h0m9.5 0h0m15 0h0m-57.5 .5h0m9 0h0m-179 .5h0m171.5 0h0m.5 0h0m1.5 0h0m5 0h0m30.5 0h0m17 0h0m1.5 0h0m-60.5 .5h0m5 0h0m1 0h0m.5 0h0m2.5 0h0m4.5 0h0m2.5 0h0m3 0h0m25.5 0h0m22.5 0h0m17.5 0h0m-79.5 .5h0m34.5 0h0m3.5 0h0m10.5 0h0m3.5 0h0m1 0h0m4 0h0m-59 .5h0m8 0h0m24.5 0h0m1.5 0h0m6 0h0m6.5 0h0m15 0h0m-226 .5h0m164.5 0h0m22 0h0m6 0h0m12.5 0h0m15 0h0m12.5 0h0m8.5 0h0m-65.5 .5h0m1 0h0m21 0h0m11 0h0m11 0h0m25.5 0h0m-251.5 .5h0m176 0h0m4 0h0m27 0h0m24.5 0h0m-234.5 .5h0m169 0h0m11.5 0h0m5 0h0m40.5 0h0m-51 .5h0m4.5 0h0m30 0h0m-35 .5h0m6 0h0m9 0h0m-11.5 .5h0m34 0h0m67 0h0m0 .5h0m-107 .5h0m116 0h0m-121 .5h0m5 0h0m-169 1h0m178 0h0m97 0h0m-270 .5h0m277.5 0h0m-8 1h0m11.5 .5h0m-11.5 1h0m-120.5 .5h0m11.5 .5h0m112 0h0m-113 .5h0m-7 .5h0m122.5 0h0m-99.5 .5h0m105.5 0h0m-130.5 .5h0m-157 .5h0m1.5 0h0m180.5 0h0m99.5 0h0m2 .5h0m-101.5 .5h0m-17.5 .5h0m20.5 0h0m94.5 0h0m-280.5 2.5h0m291 2h0m-251 1h0m.5 0h0m-.5 .5h0m.5 1h0m5 .5h0m243.5 0h0m2 0h0m-245.5 .5h0m239.5 1h0m6 0h0m-256 .5h0m.5 2.5h0m2 .5h0m-2.5 .5h0m223 1h0m-213.5 .5h0m213 .5h0m-1 .5h0m-1.5 .5h0m2.5 0h0m6.5 0h0m2 0h0m-221 .5h0m1.5 0h0m207.5 0h0m2 0h0m1.5 0h0m8 0h0m-219 .5h0m197.5 .5h0m6.5 0h0m4.5 0h0m3.5 0h0m2 0h0m7 0h0m-20.5 .5h0m10 0h0m.5 0h0m3 0h0m.5 0h0m1 0h0m.5 0h0m-11 .5h0m6 0h0m3.5 0h0m3.5 0h0m-8.5 .5h0m.5 0h0m6 0h0m3 0h0m-13 .5h0m4 0h0m11.5 0h0m-17.5 .5h0m8 0h0m-23.5 .5h0m5 0h0m5 0h0m12 0h0m2 0h0m2 0h0m1.5 0h0m-46 .5h0m22.5 0h0m11 0h0m1.5 0h0m4.5 0h0m4.5 0h0m.5 0h0m5.5 0h0m-30 .5h0m.5 0h0m.5 0h0m15.5 0h0m1 0h0m1.5 0h0m2.5 0h0m2.5 0h0m2 0h0m-27.5 .5h0m15.5 0h0m3.5 0h0m.5 0h0m11 0h0m-2 .5h0m-10.5 .5h0m2 0h0m2.5 0h0m6.5 0h0m-27.5 .5h0m5.5 0h0m11.5 0h0m.5 0h0m-205 .5h0m1 0h0m180 0h0m13.5 0h0m-193.5 .5h0m199.5 0h0m-32 .5h0m26 .5h0m5 0h0m-30.5 1.5h0m29 0h0m2.5 0h0m-224 .5h0m11.5 0h0m19 0h0m195 0h0m-221 .5h0m196 0h0m25 1h0m-25.5 .5h0m20.5 0h0m3.5 0h0m-24.5 .5h0m19 0h0m1.5 0h0m4.5 .5h0m-26.5 .5h0m31 0h0m-219 .5h0m212 .5h0m-209 .5h0m207 0h0m-208.5 .5h0m208.5 1.5h0m-197.5 4.5h0m19 1h0m-12.5 .5h0m123.5 0h0m-25 1h0m24 0h0m-122.5 .5h0m3 0h0m0 .5h0m192 0h0m-198 .5h0m15.5 .5h0m4.5 0h0m-13 .5h0m9.5 0h0m.5 0h0m195.5 0h0m.5 0h0m1 0h0m-117.5 .5h0m16 0h0m85 0h0m-180.5 .5h0m181 0h0m-173 .5h0m186 0h0m1 0h0m1 0h0m-110.5 .5h0m110 0h0m.5 0h0m-18.5 .5h0m2 0h0m2.5 0h0m12 0h0m-101.5 .5h0m101.5 0h0m2.5 0h0m.5 0h0m-197.5 .5h0m179 0h0m1 0h0m.5 0h0m.5 0h0m16 0h0m7 0h0m-110.5 .5h0m89 0h0m7 0h0m2.5 0h0m2 0h0m1.5 0h0m2.5 0h0m5 0h0m-200.5 .5h0m177 0h0m.5 0h0m1.5 0h0m11.5 0h0m1 0h0m1 0h0m4 0h0m-19 .5h0m2 0h0m.5 0h0m10.5 0h0m1.5 0h0m1 0h0m.5 0h0m1 0h0m-199.5 .5h0m81 0h0m14.5 0h0m86 0h0m.5 0h0m11 0h0m1 0h0m2.5 0h0m1 0h0m2 0h0m-193 .5h0m8.5 0h0m178 0h0m2 0h0m.5 0h0m3 0h0m1.5 0h0m6.5 0h0m-209.5 .5h0m186 0h0m3 0h0m7.5 0h0m1.5 0h0m3.5 0h0m.5 0h0m4.5 0h0m-203 .5h0m15.5 0h0m66.5 0h0m19.5 0h0m82.5 0h0m.5 0h0m.5 0h0m13.5 0h0m.5 0h0m-98.5 .5h0m3 0h0m79.5 0h0m1 0h0m13.5 0h0m6.5 0h0m.5 0h0m-185 .5h0m163.5 0h0m10.5 0h0m5 0h0m24 0h0m-207 .5h0m2 0h0m1 0h0m166.5 0h0m-169 .5h0m1 0h0m166.5 0h0m.5 0h0m.5 0h0m13.5 0h0m-190 .5h0m2 0h0m-2 .5h0m2.5 0h0m101.5 0h0m-102 .5h0m175.5 0h0m43.5 0h0m-43.5 .5h0m39.5 0h0m-216.5 .5h0m-3.5 1h0m6 0h0m176 0h0m-177.5 .5h0m-13 .5h0m14.5 .5h0m-12.5 .5h0m14 .5h0m-9.5 .5h0m4 .5h0m9.5 0h0m5 0h0m74.5 2h0m17.5 0h0m-117.5 1h0m9 0h0m82 .5h0m-90 1.5h0m127 0h0m-122.5 1h0m122 0h0m-24.5 .5h0m5 1.5h0m-111.5 1h0m7 1h0m-1 2h0m0 1.5h0m1.5 .5h0m124 0h0m-109.5 1h0m-1.5 1.5h0m-13.5 1h0m17 2.5h0m223.5 3h0m-1 .5h0m-.5 1h0m-247.5 6.5h0m-1 .5h0m-.5 1.5h0m3 .5h0m-.5 10h0" stroke="#569fc9" stroke-width="1.20" stroke-linecap="square" stroke-opacity="0.9"/><path d="M313.5 235.5h0m0 .5h0m38 .5h0m-247 .5h0m203.5 0h0m39 0h0m-18 .5h0m14 0h0m-70.5 1.5h0m6.5 0h0m23 0h0m38.5 0h0m8 0h0m-43 .5h0m41 0h0m-246 .5h0m195.5 0h0m17 0h0m16 1h0m-230.5 1.5h0m162.5 0h0m-10 .5h0m-2 1.5h0m-144.5 .5h0m140.5 0h0m4 0h0m-8.5 .5h0m136 .5h0m-272 1h0m155.5 0h0m-9 .5h0m125 .5h0m1.5 2h0m-118 .5h0m118.5 0h0m-1.5 1h0m1 0h0m-125.5 1h0m128 0h0m-276.5 1h0m158.5 0h0m115.5 0h0m2.5 0h0m2.5 0h0m-229 .5h0m134.5 0h0m87.5 0h0m-269 .5h0m271 0h0m-111.5 .5h0m-160.5 .5h0m-1 .5h0m44 .5h0m2.5 0h0m227.5 0h0m-235 .5h0m-40 1h0m39.5 0h0m237.5 0h0m14 0h0m-289.5 .5h0m290 0h0m-1 1h0m-.5 .5h0m-257 .5h0m253.5 0h0m2.5 0h0m-248.5 .5h0m-.5 .5h0m4.5 0h0m244.5 0h0m-254 .5h0m246.5 0h0m-241.5 .5h0m9 0h0m-7 .5h0m-4.5 .5h0m3.5 0h0m-5.5 1h0m1 0h0m8 .5h0m-8 2h0m213 .5h0m-22 4.5h0m10.5 0h0m15 .5h0m-27 1.5h0m21.5 .5h0m-25 .5h0m20 .5h0m-217.5 .5h0m213 .5h0m3.5 0h0m-191.5 1h0m1 0h0m0 1h0m191.5 0h0m7 0h0m-228 .5h0m228.5 .5h0m-5.5 .5h0m6.5 0h0m-30 .5h0m35.5 0h0m-6 1h0m2.5 0h0m-219 .5h0m3.5 .5h0m214 0h0m2 0h0m-3 .5h0m1 0h0m-215 .5h0m.5 0h0m182 0h0m32.5 0h0m1.5 0h0m-216 .5h0m4.5 0h0m181 0h0m28.5 0h0m.5 0h0m-217.5 .5h0m5 0h0m209.5 0h0m.5 0h0m.5 0h0m4 0h0m.5 .5h0m-3.5 .5h0m2 0h0m-1.5 .5h0m-1.5 .5h0m1 0h0m-.5 .5h0m3.5 0h0m-1 .5h0m.5 0h0m-211.5 .5h0m210.5 .5h0m-202.5 3h0m2.5 .5h0m12 .5h0m2.5 0h0m67.5 0h0m-83.5 .5h0m11 0h0m70 0h0m-62.5 1h0m-17 .5h0m3.5 0h0m4 0h0m6.5 0h0m3.5 0h0m109.5 0h0m-120 .5h0m4.5 0h0m93.5 0h0m-98 .5h0m71.5 0h0m18.5 0h0m1.5 0h0m2 0h0m8 0h0m-99.5 .5h0m86 0h0m4.5 0h0m4.5 0h0m1 0h0m92 0h0m-185.5 .5h0m3 0h0m80.5 0h0m-89 .5h0m95.5 0h0m.5 0h0m5 0h0m104 0h0m-111 .5h0m1.5 0h0m1.5 0h0m4.5 0h0m2.5 0h0m-10 .5h0m-1 .5h0m2 0h0m1 0h0m.5 0h0m-6.5 .5h0m1 0h0m6.5 0h0m.5 0h0m-89.5 .5h0m2 0h0m82.5 0h0m1.5 0h0m1 0h0m1.5 0h0m5.5 0h0m.5 0h0m-105.5 .5h0m92.5 0h0m.5 0h0m3.5 0h0m.5 0h0m1.5 0h0m3 0h0m1 0h0m11 0h0m77.5 0h0m1.5 0h0m-179 .5h0m2 0h0m77.5 0h0m4 0h0m1 0h0m1 0h0m.5 0h0m.5 0h0m1.5 0h0m1.5 0h0m-99 .5h0m17 0h0m74 0h0m1 0h0m.5 0h0m3.5 0h0m5 0h0m4 0h0m2.5 0h0m94.5 0h0m-108 .5h0m8 0h0m1.5 0h0m8.5 0h0m-107.5 .5h0m89 0h0m3.5 0h0m.5 0h0m4.5 0h0m1.5 0h0m3.5 0h0m-110 .5h0m3.5 0h0m1 0h0m90.5 0h0m5 0h0m1.5 0h0m110.5 0h0m-211 .5h0m9 0h0m88.5 0h0m3.5 0h0m20 0h0m72 0h0m12.5 0h0m-202 .5h0m6 0h0m84.5 0h0m3.5 0h0m8 0h0m-106.5 .5h0m.5 0h0m7 0h0m92.5 0h0m.5 0h0m.5 0h0m2.5 0h0m2.5 0h0m3 0h0m85 0h0m-183.5 .5h0m99.5 0h0m-110 .5h0m19 0h0m82 0h0m-100.5 .5h0m3 0h0m4.5 0h0m1.5 0h0m3.5 0h0m.5 0h0m.5 0h0m1 0h0m1.5 0h0m4 0h0m1.5 0h0m8 0h0m70 0h0m.5 0h0m5 0h0m1 0h0m-106.5 .5h0m4 0h0m2.5 0h0m4 0h0m2.5 0h0m5.5 0h0m2.5 0h0m3.5 0h0m71 0h0m-92 .5h0m4 0h0m4.5 0h0m8 0h0m215 0h0m-237 .5h0m3 0h0m5 0h0m6.5 0h0m14 0h0m209 0h0m-231.5 .5h0m1 0h0m16 0h0m81.5 0h0m130 0h0m4.5 0h0m-233.5 .5h0m10 0h0m2 0h0m-24.5 .5h0m14 0h0m2.5 0h0m1 0h0m1 0h0m5 0h0m8 0h0m7 0h0m-28.5 .5h0m15 0h0m5 0h0m11 0h0m-31 .5h0m10 0h0m2.5 0h0m1 0h0m219.5 0h0m1 0h0m-227.5 .5h0m-8 .5h0m7.5 0h0m10.5 0h0m8 0h0m-25.5 .5h0m1.5 0h0m2 0h0m2 0h0m5 0h0m2.5 0h0m3 0h0m2 0h0m2.5 0h0m1 0h0m-23 .5h0m1.5 0h0m1 0h0m5 0h0m13 0h0m8 .5h0m88 0h0m-114 .5h0m2 0h0m1 0h0m2 0h0m9.5 0h0m1 0h0m81.5 0h0m12 0h0m-110 .5h0m.5 0h0m1 0h0m2.5 0h0m9.5 0h0m2 0h0m1 0h0m7 0h0m-17.5 .5h0m4 0h0m.5 .5h0m1 0h0m.5 0h0m3 0h0m2.5 0h0m3 0h0m2.5 0h0m-19 .5h0m3 0h0m2.5 0h0m8.5 0h0m6.5 0h0m.5 0h0m81.5 0h0m-96.5 .5h0m1 0h0m9 0h0m-3.5 .5h0m-16 .5h0m2 0h0m3 0h0m13 0h0m5.5 .5h0m-17 .5h0m7 0h0m2.5 0h0m1.5 0h0m116.5 0h0m-120.5 1h0m118.5 0h0m-8.5 1h0m-123 .5h0m14 0h0m90 0h0m3.5 .5h0m-101 .5h0m124.5 1h0m-22.5 1h0m22.5 1h0m.5 .5h0m-124.5 .5h0m13.5 2h0m4 4h0m223 3h0m-3.5 8h0m-3 .5h0m-3.5 1.5h0m-2.5 .5h0m4.5 0h0m-241 2h0m2 1.5h0m-2.5 1.5h0m1 7.5h0" stroke="#dd7059" stroke-width="1.20" stroke-linecap="square" stroke-opacity="0.9"/><path d="M347 233.5h0m8.5 3.5h0m-7.5 .5h0m13 .5h0m-35.5 .5h0m4.5 0h0m27.5 1h0m-14 1.5h0m46.5 1h0m2 0h0m-125.5 1h0m.5 .5h0m-1.5 .5h0m3 1h0m-3 1h0m115 0h0m.5 0h0m2 .5h0m1 0h0m2 0h0m1.5 0h0m-127 1h0m9 .5h0m111.5 0h0m6.5 0h0m-126.5 .5h0m123.5 .5h0m-118 1h0m119 0h0m4 0h0m-.5 1h0m-8.5 .5h0m-97 .5h0m6 0h0m-21 1h0m18.5 .5h0m93.5 .5h0m2.5 .5h0m0 .5h0m-230 1.5h0m226 1h0m-230 1h0m246 .5h0m-252.5 .5h0m11.5 .5h0m237 .5h0m1 0h0m2 0h0m-258 .5h0m8 0h0m243 0h0m-236 .5h0m-3 .5h0m-10.5 1h0m12 0h0m1.5 1h0m-11 1h0m3 0h0m-2 1h0m.5 0h0m-4.5 .5h0m184 3h0m21.5 1h0m-3 2h0m2.5 0h0m-2.5 1.5h0m3.5 0h0m-5.5 .5h0m2.5 1h0m-7 .5h0m-14 .5h0m23.5 0h0m-189 .5h0m191.5 0h0m3 0h0m-222 .5h0m1.5 1h0m27 0h0m2 0h0m176.5 0h0m11.5 0h0m7 0h0m-223.5 .5h0m4 0h0m213.5 .5h0m4 .5h0m-211 .5h0m207.5 0h0m3 0h0m-20.5 .5h0m21.5 0h0m-212 .5h0m208 0h0m.5 0h0m4.5 0h0m-6 .5h0m2.5 0h0m8 0h0m-220.5 .5h0m2 0h0m190 0h0m18.5 0h0m-207 1h0m2 0h0m216 .5h0m-8.5 .5h0m-209.5 .5h0m216.5 0h0m-213.5 1h0m215.5 0h0m-1.5 1h0m1.5 .5h0m-31.5 1h0m-42 1.5h0m67 4.5h0m20.5 .5h0m-92.5 1h0m74 0h0m.5 0h0m-96.5 .5h0m-1.5 .5h0m96.5 0h0m2 0h0m12.5 .5h0m-12.5 .5h0m12.5 0h0m-182.5 .5h0m180.5 0h0m2.5 0h0m-15.5 .5h0m15 0h0m2 0h0m.5 0h0m-19.5 .5h0m1.5 0h0m1 0h0m.5 0h0m2.5 0h0m13 0h0m-114 .5h0m96.5 0h0m2.5 0h0m8.5 0h0m1.5 0h0m2 0h0m2.5 0h0m-183.5 .5h0m71.5 0h0m95 0h0m2.5 0h0m.5 0h0m11.5 0h0m1 0h0m1.5 0h0m-16.5 .5h0m1 0h0m.5 0h0m13.5 0h0m.5 0h0m1 0h0m1 0h0m-17.5 .5h0m1.5 0h0m1 0h0m1 0h0m7 0h0m1.5 0h0m1 0h0m1.5 0h0m-13 .5h0m2.5 0h0m10.5 0h0m1 0h0m.5 0h0m2 0h0m.5 0h0m-115.5 .5h0m98 0h0m2.5 0h0m7 0h0m2 0h0m.5 0h0m3.5 0h0m.5 0h0m-16.5 .5h0m2.5 0h0m.5 0h0m.5 0h0m.5 0h0m6.5 0h0m1 0h0m1.5 0h0m-178.5 .5h0m165.5 0h0m1 0h0m2 0h0m.5 0h0m.5 0h0m6.5 0h0m2.5 0h0m.5 0h0m7.5 0h0m-190.5 .5h0m6.5 0h0m164 0h0m2 0h0m-171 .5h0m172.5 0h0m10.5 0h0m.5 0h0m.5 0h0m-183.5 .5h0m3.5 0h0m166.5 0h0m18 0h0m1 0h0m-185 .5h0m166 0h0m-167.5 .5h0m-4 .5h0m.5 0h0m-20.5 .5h0m21 0h0m173.5 0h0m-178.5 1h0m9.5 0h0m-11 1.5h0m-6 .5h0m9 0h0m6 0h0m3.5 0h0m-12.5 .5h0m3 0h0m2 0h0m4 0h0m0 .5h0m94 0h0m-103.5 .5h0m.5 0h0m-10.5 .5h0m.5 0h0m111.5 0h0m-109 1h0m109 0h0m-103.5 .5h0m5 4h0m1.5 .5h0m113 .5h0m-1.5 2.5h0m.5 0h0m0 .5h0m-125.5 .5h0m125.5 0h0m-108 1h0m-15 1.5h0m16 1h0m-16.5 2h0m16.5 0h0m1.5 0h0m-2.5 .5h0m-20.5 .5h0m5 .5h0m16 0h0m1.5 0h0m-18 1.5h0m239.5 0h0m-3 2h0m1.5 5h0m-.5 1.5h0m-4.5 5h0m-243.5 3h0m2.5 1.5h0" stroke="#3a87bd" stroke-width="1.20" stroke-linecap="square" stroke-opacity="0.9"/><path d="M345.5 232h0m-64 4h0m61.5 0h0m5 1.5h0m-14 1h0m13.5 1.5h0m38.5 0h0m-48 1h0m19.5 1h0m24 0h0m1.5 0h0m-35.5 .5h0m42 3.5h0m-13.5 3h0m1.5 0h0m0 1.5h0m-2.5 3h0m-228.5 2h0m234.5 0h0m-231.5 .5h0m2.5 .5h0m227 1h0m-231 1h0m246.5 0h0m-244 .5h0m-4.5 .5h0m1 0h0m-7.5 .5h0m.5 0h0m3 0h0m5 0h0m-2 .5h0m244.5 0h0m-249.5 .5h0m1.5 0h0m5 0h0m246 0h0m.5 0h0m.5 .5h0m-254.5 .5h0m1 0h0m246 0h0m-244 .5h0m4 0h0m244 0h0m-258.5 .5h0m254 0h0m-251 .5h0m2 0h0m1.5 0h0m2.5 0h0m6.5 0h0m236 0h0m-239.5 .5h0m-2 .5h0m2 0h0m1.5 0h0m.5 0h0m-4.5 .5h0m2 0h0m3.5 0h0m1 0h0m.5 1.5h0m-9.5 .5h0m2.5 0h0m214.5 1.5h0m-207.5 2.5h0m.5 .5h0m193 2h0m3 .5h0m16 1h0m-212 1h0m187 0h0m25 0h0m-207.5 .5h0m-1 .5h0m1 0h0m-24.5 1h0m12.5 .5h0m-14 .5h0m2 0h0m1 0h0m218.5 .5h0m-212.5 1h0m2 0h0m23 0h0m192 0h0m1.5 0h0m-8.5 .5h0m-211 .5h0m219.5 0h0m-2.5 .5h0m.5 0h0m-213.5 .5h0m213.5 0h0m-212.5 .5h0m212 0h0m2 0h0m.5 0h0m1 0h0m2 0h0m-7 .5h0m2 0h0m1.5 0h0m-217.5 .5h0m2.5 0h0m215 0h0m.5 0h0m-216.5 .5h0m3 0h0m.5 0h0m213.5 0h0m-2.5 .5h0m-212 .5h0m212.5 0h0m3 0h0m-211.5 .5h0m.5 0h0m204 .5h0m5 0h0m4 0h0m-4 1h0m3.5 0h0m0 .5h0m1 .5h0m-201 .5h0m2.5 2h0m5.5 0h0m0 .5h0m4 .5h0m71.5 0h0m-81 1h0m70 0h0m-68 .5h0m73.5 0h0m19 0h0m-89.5 .5h0m79.5 0h0m-88.5 .5h0m1.5 0h0m5 0h0m1.5 0h0m.5 0h0m85 0h0m6 0h0m-25.5 .5h0m-68.5 .5h0m2 0h0m6 0h0m-9 .5h0m89.5 0h0m1.5 0h0m1.5 0h0m.5 0h0m.5 0h0m8 0h0m106 0h0m-117.5 .5h0m4.5 0h0m1 0h0m5.5 0h0m-98.5 .5h0m91 0h0m-4.5 .5h0m2 0h0m.5 0h0m-94 .5h0m95 0h0m1 0h0m1.5 0h0m2.5 0h0m-89 .5h0m6.5 0h0m75 0h0m113 0h0m4.5 0h0m-115.5 .5h0m7.5 0h0m4 0h0m-14.5 .5h0m4 0h0m2.5 0h0m.5 0h0m1 0h0m2 0h0m.5 0h0m5 0h0m-90.5 .5h0m75 0h0m2.5 0h0m2 0h0m4 0h0m2 0h0m1 0h0m5 0h0m1 0h0m98.5 0h0m-111 .5h0m.5 0h0m7 0h0m1 0h0m4.5 0h0m105 0h0m-213.5 .5h0m12 0h0m8.5 0h0m72.5 0h0m4 0h0m2.5 0h0m2 0h0m-91.5 .5h0m7.5 0h0m75 0h0m3 0h0m8 0h0m3.5 0h0m-106.5 .5h0m.5 0h0m94 0h0m1 0h0m3 0h0m3.5 0h0m6.5 0h0m-15.5 .5h0m3.5 0h0m3 0h0m4 0h0m108.5 0h0m-204.5 .5h0m2 0h0m.5 0h0m89.5 0h0m2 0h0m2.5 0h0m1.5 0h0m5 0h0m-113 .5h0m8 0h0m1 0h0m90 0h0m6.5 0h0m101.5 0h0m8.5 0h0m-217 .5h0m12.5 0h0m2 0h0m9.5 0h0m72 0h0m8 0h0m2 0h0m1 0h0m-103.5 .5h0m95.5 0h0m4.5 0h0m3 0h0m4 0h0m104.5 0h0m-208 .5h0m4 0h0m1 0h0m86.5 0h0m8.5 0h0m1 0h0m-102 .5h0m1 0h0m1 0h0m4 0h0m1.5 0h0m1 0h0m2.5 0h0m.5 0h0m89.5 0h0m1.5 0h0m.5 0h0m1 0h0m-87.5 .5h0m3.5 0h0m1.5 0h0m2 0h0m67.5 0h0m7 0h0m5.5 0h0m10.5 0h0m-116 .5h0m109 0h0m-119.5 .5h0m4.5 0h0m6 0h0m4.5 0h0m5 0h0m186.5 0h0m-199.5 .5h0m4 0h0m101.5 0h0m9 0h0m84 0h0m-201.5 .5h0m2 0h0m2.5 0h0m8.5 0h0m8.5 0h0m3.5 0h0m86.5 0h0m-101.5 .5h0m13 0h0m1 0h0m101 0h0m-99.5 .5h0m12 0h0m-36 .5h0m.5 0h0m6 0h0m1.5 0h0m.5 0h0m1 0h0m1.5 0h0m2.5 0h0m9 0h0m5.5 0h0m93.5 0h0m-111 .5h0m9.5 0h0m4 0h0m3.5 0h0m94.5 0h0m-117 .5h0m8 0h0m2 0h0m5.5 0h0m1.5 0h0m2.5 0h0m3 0h0m-24.5 .5h0m5.5 0h0m7.5 0h0m3.5 0h0m.5 0h0m2 0h0m.5 0h0m-5 .5h0m88.5 0h0m-97 .5h0m.5 0h0m5.5 0h0m1.5 0h0m3.5 0h0m.5 0h0m.5 0h0m4.5 0h0m-21 .5h0m2.5 0h0m.5 0h0m5.5 0h0m4.5 0h0m3 0h0m3 0h0m-22 .5h0m13 0h0m7 0h0m2 0h0m-17 .5h0m2.5 0h0m4.5 0h0m7.5 0h0m-18 .5h0m6 0h0m2.5 0h0m9 0h0m5 0h0m5 0h0m-28.5 .5h0m21 0h0m2 0h0m-13 .5h0m6 0h0m2 0h0m-6.5 .5h0m.5 0h0m6.5 0h0m-9 .5h0m2.5 0h0m5 0h0m-4 .5h0m.5 0h0m122 .5h0m-124.5 .5h0m13.5 .5h0m-14.5 1h0m8.5 .5h0m118 1h0m-126 6h0m17.5 4.5h0m-15.5 .5h0m-10.5 12h0m242.5 0h0m-1.5 1h0" stroke="#cc4c44" stroke-width="1.20" stroke-linecap="square" stroke-opacity="0.9"/><path d="M350 232.5h0m-9 2h0m18.5 0h0m-15 2.5h0m-11.5 .5h0m21.5 0h0m31.5 0h0m-47.5 .5h0m1.5 0h0m5 0h0m2.5 0h0m6 .5h0m-6 1.5h0m1 0h0m18 0h0m-20.5 .5h0m42.5 1h0m-124.5 2h0m118 2h0m-110.5 .5h0m115.5 0h0m-4 .5h0m5 0h0m-125.5 .5h0m1 0h0m5 .5h0m121.5 0h0m-133.5 .5h0m120.5 0h0m8.5 .5h0m-280 .5h0m167 0h0m112.5 0h0m-7 .5h0m4.5 .5h0m4.5 0h0m-100.5 .5h0m91.5 0h0m10 0h0m-99.5 .5h0m.5 0h0m-26.5 .5h0m21 0h0m3.5 0h0m-3 .5h0m-15 .5h0m17 .5h0m91.5 0h0m-110 .5h0m21.5 0h0m-134.5 .5h0m131 0h0m1.5 .5h0m-180.5 .5h0m40 3h0m246.5 .5h0m-.5 .5h0m-242.5 1.5h0m244 0h0m-256.5 .5h0m13.5 0h0m.5 0h0m1 0h0m237.5 0h0m.5 1h0m-242.5 .5h0m-1 2h0m2.5 2.5h0m-1 1.5h0m181.5 2h0m-180.5 .5h0m199 1.5h0m2 0h0m-8.5 .5h0m-7.5 .5h0m3.5 0h0m3.5 1.5h0m5.5 0h0m-7.5 1h0m-2 .5h0m4.5 0h0m3.5 0h0m2.5 1h0m-193.5 .5h0m191 0h0m1 0h0m-221.5 .5h0m219.5 0h0m4 .5h0m-224 .5h0m8 0h0m217 .5h0m7 0h0m-231 .5h0m3 0h0m197 0h0m2 0h0m17.5 0h0m2 0h0m1 0h0m4.5 0h0m-7.5 .5h0m12 0h0m-219 .5h0m210.5 0h0m-220.5 .5h0m9.5 0h0m183.5 0h0m33 0h0m2 0h0m-218 1h0m206 0h0m4 1h0m-205.5 .5h0m181 0h0m34.5 0h0m-6 .5h0m-209.5 .5h0m214 0h0m2 1h0m-5 .5h0m1 1h0m2.5 0h0m-76 .5h0m74.5 2h0m-77 .5h0m2 0h0m-3 1h0m-38.5 .5h0m129 3h0m-117.5 1.5h0m3 0h0m100 0h0m-4.5 .5h0m19.5 0h0m-111.5 .5h0m1.5 0h0m91.5 0h0m17.5 0h0m-18.5 .5h0m15.5 0h0m.5 0h0m3.5 0h0m-3 .5h0m-101.5 .5h0m88 0h0m11 0h0m1 0h0m1 0h0m.5 0h0m.5 0h0m2.5 0h0m.5 0h0m-111 .5h0m3 0h0m101.5 0h0m2.5 0h0m11 0h0m-13 .5h0m1 0h0m1.5 0h0m8.5 0h0m2.5 0h0m-26.5 .5h0m1.5 0h0m1.5 0h0m12.5 0h0m.5 0h0m.5 0h0m1 0h0m5 0h0m-22.5 .5h0m.5 0h0m1.5 0h0m2.5 0h0m-3.5 .5h0m1 0h0m1.5 0h0m10 0h0m.5 0h0m2.5 0h0m.5 0h0m-190.5 .5h0m8 0h0m1 0h0m165.5 0h0m2 0h0m.5 0h0m11.5 0h0m2 0h0m.5 0h0m-182.5 .5h0m181 0h0m.5 0h0m1.5 0h0m-179 .5h0m162.5 0h0m.5 0h0m.5 0h0m.5 0h0m1 0h0m1 0h0m.5 0h0m8 0h0m3 0h0m.5 0h0m-112 .5h0m98 0h0m1 0h0m9 0h0m-182.5 .5h0m2.5 0h0m5 0h0m166 0h0m9 0h0m3 0h0m-186.5 .5h0m3.5 0h0m2 0h0m1.5 0h0m179.5 0h0m.5 0h0m-184 .5h0m183.5 0h0m-192 .5h0m12.5 0h0m168 0h0m-169 .5h0m-8.5 .5h0m7 .5h0m188 0h0m-194.5 .5h0m100 .5h0m-105.5 .5h0m5 0h0m9 0h0m172.5 0h0m-182 .5h0m2 0h0m.5 0h0m7 0h0m.5 1h0m-15 .5h0m1 0h0m3 .5h0m11 0h0m-14 .5h0m4.5 0h0m2 .5h0m0 1h0m-7.5 .5h0m108.5 0h0m1 0h0m2 .5h0m-111.5 2h0m122.5 2.5h0m-110 2.5h0m-15.5 2.5h0m1 1h0m19 0h0m-19 .5h0m-4.5 .5h0m127 1h0m-124.5 4h0m238 2.5h0m1.5 3h0m-247.5 5.5h0m241.5 0h0m-242.5 2h0m2.5 1h0m-1 8.5h0m-2 4h0" stroke="#2a71b2" stroke-width="1.20" stroke-linecap="square" stroke-opacity="0.9"/><path d="M328.5 236h0m12 1.5h0m-1.5 .5h0m12 0h0m-76.5 1h0m6 0h0m70.5 0h0m-250 6h0m293.5 .5h0m-16.5 3h0m-.5 .5h0m1 0h0m1.5 2h0m-1.5 .5h0m2.5 0h0m-277.5 .5h0m277 1h0m-277 .5h0m274 0h0m-91.5 2h0m-135.5 1.5h0m-1 1h0m4.5 1h0m-8 .5h0m3 0h0m.5 0h0m242 0h0m-244 .5h0m244 0h0m1 0h0m2 0h0m-260 .5h0m13.5 0h0m242 0h0m2.5 0h0m-253.5 .5h0m3.5 0h0m248 0h0m3.5 0h0m-246 .5h0m240 0h0m4.5 0h0m-244.5 .5h0m237.5 0h0m-246.5 .5h0m251 0h0m-251.5 .5h0m11.5 0h0m.5 0h0m240.5 0h0m-253 .5h0m.5 0h0m1 .5h0m1 .5h0m5.5 0h0m1.5 0h0m-11 .5h0m5 .5h0m3 .5h0m5 3h0m1 1h0m196 0h0m-4.5 1h0m26.5 .5h0m-30 .5h0m9.5 2.5h0m-222 1.5h0m26 .5h0m203 0h0m6.5 0h0m-8.5 1.5h0m-4 .5h0m-219 .5h0m4.5 1.5h0m219 .5h0m2 0h0m1.5 0h0m-218 .5h0m213.5 1h0m1 0h0m2.5 0h0m2 0h0m-222.5 .5h0m.5 0h0m1.5 .5h0m1.5 0h0m216.5 0h0m-208.5 .5h0m-9.5 .5h0m4.5 0h0m.5 0h0m2 0h0m208 .5h0m2 0h0m1.5 0h0m3 1h0m1.5 1h0m-215.5 .5h0m210 .5h0m-191.5 1h0m-6 1h0m3 1.5h0m6.5 0h0m61.5 0h0m15.5 0h0m1.5 0h0m-84.5 .5h0m3 0h0m-2.5 .5h0m9 .5h0m65.5 0h0m-78 .5h0m94.5 .5h0m10 0h0m-101.5 .5h0m7.5 0h0m68.5 0h0m-73.5 .5h0m93.5 0h0m2.5 0h0m8.5 0h0m-7.5 .5h0m-104 .5h0m92 0h0m7.5 0h0m2.5 0h0m-97.5 .5h0m10 0h0m2.5 0h0m80.5 0h0m3.5 0h0m-101.5 .5h0m100.5 0h0m1 0h0m1.5 0h0m5.5 0h0m-103.5 .5h0m92.5 0h0m1 0h0m4 0h0m-96 .5h0m92.5 0h0m.5 0h0m.5 0h0m1 0h0m-1 .5h0m.5 0h0m.5 0h0m1.5 0h0m-85.5 .5h0m78.5 0h0m2.5 0h0m1.5 0h0m6.5 0h0m88.5 0h0m15.5 0h0m-191.5 .5h0m78 0h0m.5 0h0m.5 0h0m.5 0h0m3 0h0m6 0h0m104.5 0h0m-197 .5h0m81.5 0h0m1 0h0m2.5 0h0m1 0h0m.5 0h0m3 0h0m3.5 0h0m.5 0h0m.5 0h0m2.5 0h0m6 0h0m79.5 0h0m21 0h0m.5 0h0m2 0h0m-210.5 .5h0m8.5 0h0m76 0h0m5 0h0m2 0h0m2.5 0h0m1 0h0m3.5 0h0m109.5 0h0m-122 .5h0m2 0h0m2 0h0m4.5 0h0m3 0h0m.5 0h0m88 0h0m-195.5 .5h0m17.5 0h0m78 0h0m2 0h0m1.5 0h0m1 0h0m3 0h0m1.5 0h0m1 0h0m1.5 0h0m1 0h0m1 0h0m2.5 0h0m-100 .5h0m3.5 0h0m83.5 0h0m2 0h0m1.5 0h0m5.5 0h0m6.5 0h0m1 0h0m1 0h0m-110 .5h0m7.5 0h0m15.5 0h0m68.5 0h0m2.5 0h0m1.5 0h0m3 0h0m-94 .5h0m11.5 0h0m76.5 0h0m1 0h0m5.5 0h0m3.5 0h0m4 0h0m1.5 0h0m84 0h0m18 0h0m-213.5 .5h0m6.5 0h0m1.5 0h0m97.5 0h0m1.5 0h0m-95 .5h0m11 0h0m76.5 0h0m.5 0h0m1 0h0m5.5 0h0m2.5 0h0m1.5 0h0m3 0h0m-119.5 .5h0m13.5 0h0m9 0h0m82.5 0h0m5 0h0m.5 0h0m.5 0h0m.5 0h0m-106 .5h0m13.5 0h0m3.5 0h0m8.5 0h0m73 0h0m7.5 0h0m.5 0h0m5.5 0h0m101 0h0m-212.5 .5h0m8 0h0m12 0h0m3.5 0h0m1.5 0h0m74.5 0h0m7.5 0h0m-109 .5h0m4 0h0m2 0h0m3.5 0h0m4 0h0m1 0h0m1 0h0m8.5 0h0m76 0h0m-96.5 .5h0m1 0h0m.5 0h0m.5 0h0m7.5 0h0m7.5 0h0m3 0h0m86.5 0h0m1.5 0h0m-93 .5h0m10.5 0h0m-20.5 .5h0m2 0h0m6.5 0h0m1 0h0m100 0h0m-116.5 .5h0m5 0h0m95.5 0h0m-99.5 .5h0m1 0h0m.5 0h0m4 0h0m1 0h0m1 0h0m1 0h0m1 0h0m6.5 0h0m2 0h0m85.5 0h0m-90 .5h0m3.5 0h0m1 0h0m-14 .5h0m1 0h0m1.5 0h0m7.5 0h0m3.5 0h0m-7 .5h0m2 0h0m5 0h0m1.5 0h0m1.5 0h0m1.5 0h0m-9 .5h0m.5 0h0m-11.5 .5h0m4.5 0h0m6 0h0m5 0h0m3.5 0h0m6 0h0m-30.5 .5h0m10.5 0h0m.5 0h0m6 0h0m1.5 0h0m1.5 0h0m-13 .5h0m3 0h0m.5 0h0m10 0h0m.5 0h0m1 0h0m-19.5 .5h0m5 0h0m1 0h0m9 0h0m4.5 0h0m4 0h0m-18.5 .5h0m9 0h0m5 0h0m.5 0h0m2 0h0m1 0h0m94.5 0h0m-98 .5h0m1 0h0m6 0h0m-22.5 .5h0m3.5 0h0m5 0h0m4 0h0m1 0h0m4 0h0m-8.5 .5h0m1.5 0h0m2 0h0m-15.5 1h0m17 0h0m-9 .5h0m4 0h0m1.5 0h0m122.5 0h0m-128 1h0m9 0h0m103.5 0h0m-107.5 2h0m13 0h0m-.5 7h0m1 .5h0m.5 0h0m6.5 0h0m-23.5 .5h0m238.5 5.5h0m.5 2.5h0m-.5 2.5h0m-3 4.5h0m-2 1h0m-243 2h0" stroke="#ba2832" stroke-width="1.20" stroke-linecap="square" stroke-opacity="0.9"/><path d="M346.5 234.5h0m-5 .5h0m2 1h0m11.5 1h0m-9 1h0m6 0h0m-2 1h0m37 3h0m-43.5 1h0m1 0h0m36.5 1h0m-113 2.5h0m121.5 .5h0m-126 1h0m120 0h0m2 .5h0m-8 .5h0m12.5 0h0m-124 1.5h0m1.5 0h0m15 0h0m8.5 0h0m-186.5 1.5h0m181.5 1h0m-5 2h0m9 0h0m90 0h0m-100 .5h0m-131.5 1.5h0m-6 5h0m247 .5h0m-251.5 1h0m.5 3h0m11 3.5h0m189 1.5h0m1.5 0h0m.5 1h0m-.5 .5h0m7.5 .5h0m-14.5 1h0m7.5 0h0m-193 1h0m193 .5h0m-187.5 .5h0m202.5 0h0m-201.5 .5h0m176 0h0m-4 .5h0m19 0h0m-190.5 1h0m190.5 0h0m-19 1h0m30.5 0h0m.5 0h0m-11 .5h0m-218.5 .5h0m220 0h0m8.5 0h0m-230.5 .5h0m9 0h0m2 2.5h0m214 1.5h0m-206 1h0m133 5.5h0m-38 .5h0m13 4.5h0m5.5 .5h0m109.5 .5h0m-108.5 1h0m106 .5h0m1 0h0m4 0h0m-19.5 .5h0m14.5 .5h0m2.5 0h0m.5 0h0m.5 0h0m8 0h0m-24 .5h0m11.5 0h0m9.5 0h0m-7 .5h0m-5 .5h0m-11.5 .5h0m.5 0h0m11.5 0h0m3 0h0m1 0h0m1 0h0m1 0h0m-15.5 .5h0m2 0h0m13.5 0h0m-14 .5h0m0 .5h0m8 0h0m1.5 0h0m9 0h0m-20 .5h0m12.5 0h0m-1.5 1h0m-9.5 .5h0m.5 .5h0m17 .5h0m4 0h0m-20 .5h0m-180.5 .5h0m9.5 0h0m98 0h0m-97.5 2h0m-3 .5h0m4 0h0m-10 1h0m1 1.5h0m-1 .5h0m9 0h0m-11 1.5h0m107.5 0h0m-107 2h0m-6 3.5h0m5 1.5h0m119 3h0m-104.5 .5h0m-5 1h0m5 0h0m-2 1h0m1.5 1h0m-3 1.5h0m-15.5 1h0m15 3h0m1 0h0m222.5 2h0m-247.5 12.5h0m0 1h0m.5 .5h0m.5 4h0" stroke="#1a5899" stroke-width="1.20" stroke-linecap="square" stroke-opacity="0.9"/><path d="M336.5 233.5h0m14 2.5h0m-71 .5h0m82 .5h0m-7.5 .5h0m-9 4h0m39.5 1.5h0m-5 2.5h0m-1.5 1h0m-271.5 2h0m276.5 .5h0m-4 1.5h0m-.5 2h0m-230.5 2h0m3.5 1.5h0m-3 1.5h0m-5 1.5h0m5 0h0m-11 .5h0m4 0h0m6.5 0h0m-6.5 .5h0m6 0h0m243 0h0m-241 .5h0m.5 0h0m241 0h0m-240 .5h0m239.5 0h0m.5 0h0m-237.5 .5h0m235.5 0h0m-254.5 .5h0m8.5 0h0m1.5 0h0m246 0h0m-244.5 .5h0m4 0h0m.5 0h0m-16.5 1h0m5 0h0m11.5 0h0m-10.5 .5h0m-6 .5h0m5.5 0h0m2.5 0h0m3 1h0m-8.5 .5h0m6 0h0m-2.5 1h0m7.5 1h0m214.5 1h0m-2 .5h0m-20 4h0m16 0h0m-15.5 1h0m0 1h0m10.5 .5h0m3 1h0m-2.5 .5h0m5 2h0m-1 1.5h0m-1.5 .5h0m-216.5 .5h0m218 0h0m-1 2h0m1 0h0m0 1h0m-2 .5h0m1 0h0m2 .5h0m1.5 0h0m1.5 .5h0m-3 1h0m-2.5 .5h0m.5 1h0m-123.5 1.5h0m-73 1h0m2 1h0m9.5 0h0m1.5 0h0m2 .5h0m57.5 .5h0m-59 .5h0m-5 1.5h0m85.5 .5h0m-82.5 .5h0m87.5 .5h0m1 0h0m-103.5 .5h0m9.5 0h0m8.5 0h0m80 0h0m1 0h0m2 0h0m14 0h0m84 0h0m-185 .5h0m84 0h0m17.5 0h0m-98.5 .5h0m108 0h0m-29 .5h0m1 0h0m9 0h0m10.5 0h0m-101 .5h0m2.5 0h0m.5 0h0m80.5 0h0m3.5 0h0m10 0h0m10 0h0m93 0h0m-202.5 .5h0m7.5 0h0m80 0h0m106 0h0m-196 .5h0m85.5 0h0m.5 0h0m4.5 0h0m4 0h0m-101.5 .5h0m103 .5h0m91.5 0h0m-99 .5h0m5 0h0m.5 0h0m2 0h0m9.5 0h0m-105 .5h0m1.5 .5h0m89 0h0m11 0h0m3 0h0m1 0h0m-110 .5h0m24 0h0m73.5 0h0m5 0h0m.5 0h0m2 0h0m-106 .5h0m101 0h0m3 0h0m.5 0h0m-103 .5h0m5 0h0m97.5 0h0m-104 .5h0m10.5 0h0m.5 0h0m92.5 0h0m-86.5 .5h0m79.5 0h0m-102 .5h0m9 0h0m1.5 0h0m-.5 .5h0m11 0h0m1 0h0m-12.5 .5h0m9.5 0h0m2.5 0h0m104.5 0h0m-122 .5h0m1 0h0m3.5 .5h0m2 0h0m-8 .5h0m1 0h0m2 0h0m1.5 0h0m1 0h0m.5 0h0m2.5 0h0m3.5 0h0m.5 0h0m5.5 .5h0m2 0h0m-16 .5h0m10.5 0h0m.5 0h0m-4 .5h0m.5 0h0m-6.5 .5h0m8 0h0m15.5 0h0m-15 .5h0m3 .5h0m10.5 0h0m-25.5 .5h0m1.5 0h0m4.5 0h0m5.5 0h0m-9 1h0m17.5 0h0m.5 0h0m4 0h0m-16 .5h0m1 0h0m6 0h0m-13.5 .5h0m7.5 0h0m.5 0h0m4.5 .5h0m-5.5 .5h0m9.5 0h0m.5 0h0m4.5 0h0m112 0h0m-122 .5h0m2.5 0h0m-14 .5h0m1.5 0h0m11.5 .5h0m-9.5 2.5h0m243.5 10h0m-239.5 .5h0m-7 17.5h0" stroke="#9f1228" stroke-width="1.20" stroke-linecap="square" stroke-opacity="0.9"/><path d="M255 298.5h0" stroke="#0c3d73" stroke-width="1.20" stroke-linecap="square" stroke-opacity="0.9"/><path d="M342 237h0m5 0h0m-1 .5h0m1.5 .5h0m8 0h0m5 1.5h0m-5 .5h0m-13.5 1.5h0m-3.5 1.5h0m40 5h0m1 .5h0m-1 4.5h0m2 0h0m-230.5 2h0m227.5 0h0m-238 2h0m14 0h0m-18 1.5h0m15 0h0m-4 .5h0m-11 2h0m14 0h0m-16 2h0m6.5 0h0m10.5 0h0m-14.5 .5h0m12 0h0m-11 .5h0m3 0h0m6.5 0h0m-12 1h0m12 0h0m-2 .5h0m-7.5 .5h0m1.5 0h0m-.5 .5h0m9 .5h0m251.5 76h0m-.5 2h0" stroke="#790622" stroke-width="1.20" stroke-linecap="square" stroke-opacity="0.9"/></g><rect x="40.20" y="199.40" width="398.60" height="169.80" fill="none" stroke="#333" stroke-width="0.85"/><g font-family='"Liberation Serif", serif' font-size="8.45" fill="#111"><text x="36.50" y="213.92" text-anchor="end">80°N</text><text x="36.50" y="236.56" text-anchor="end">60°N</text><text x="36.50" y="259.20" text-anchor="end">40°N</text><text x="36.50" y="281.84" text-anchor="end">20°N</text><text x="36.50" y="304.48" text-anchor="end">0°</text><text x="36.50" y="327.12" text-anchor="end">20°S</text><text x="36.50" y="349.76" text-anchor="end">40°S</text><text x="40.20" y="379.70" text-anchor="middle">180°W</text><text x="73.42" y="379.70" text-anchor="middle">150°W</text><text x="106.63" y="379.70" text-anchor="middle">120°W</text><text x="139.85" y="379.70" text-anchor="middle">90°W</text><text x="173.07" y="379.70" text-anchor="middle">60°W</text><text x="206.28" y="379.70" text-anchor="middle">30°W</text><text x="239.50" y="379.70" text-anchor="middle">0°</text><text x="272.72" y="379.70" text-anchor="middle">30°E</text><text x="305.93" y="379.70" text-anchor="middle">60°E</text><text x="339.15" y="379.70" text-anchor="middle">90°E</text><text x="372.37" y="379.70" text-anchor="middle">120°E</text><text x="405.58" y="379.70" text-anchor="middle">150°E</text><text x="438.80" y="379.70" text-anchor="middle">180°E</text></g><linearGradient id="gA" x1="0" y1="0" x2="0" y2="1"><stop offset="0.000" stop-color="#67001f"/><stop offset="0.100" stop-color="#b2182b"/><stop offset="0.200" stop-color="#d6604d"/><stop offset="0.300" stop-color="#f4a582"/><stop offset="0.400" stop-color="#fddbc7"/><stop offset="0.500" stop-color="#f7f7f7"/><stop offset="0.600" stop-color="#d1e5f0"/><stop offset="0.700" stop-color="#92c5de"/><stop offset="0.800" stop-color="#4393c3"/><stop offset="0.900" stop-color="#2166ac"/><stop offset="1.000" stop-color="#053061"/></linearGradient><rect x="447.60" y="20.10" width="8.10" height="151.10" fill="url(#gA)" stroke="#222" stroke-width="0.7"/><g font-family='"Liberation Serif", serif' font-size="9.1" fill="#111"><line x1="455.70" y1="20.10" x2="458.30" y2="20.10" stroke="#222" stroke-width="0.7"/><text x="460.30" y="23.40">20</text><line x1="455.70" y1="38.99" x2="458.30" y2="38.99" stroke="#222" stroke-width="0.7"/><text x="460.30" y="42.29">15</text><line x1="455.70" y1="57.88" x2="458.30" y2="57.88" stroke="#222" stroke-width="0.7"/><text x="460.30" y="61.17">10</text><line x1="455.70" y1="76.76" x2="458.30" y2="76.76" stroke="#222" stroke-width="0.7"/><text x="460.30" y="80.06">5</text><line x1="455.70" y1="95.65" x2="458.30" y2="95.65" stroke="#222" stroke-width="0.7"/><text x="460.30" y="98.95">0</text><line x1="455.70" y1="114.54" x2="458.30" y2="114.54" stroke="#222" stroke-width="0.7"/><text x="460.30" y="117.84">−5</text><line x1="455.70" y1="133.42" x2="458.30" y2="133.42" stroke="#222" stroke-width="0.7"/><text x="460.30" y="136.72">−10</text><line x1="455.70" y1="152.31" x2="458.30" y2="152.31" stroke="#222" stroke-width="0.7"/><text x="460.30" y="155.61">−15</text><line x1="455.70" y1="171.20" x2="458.30" y2="171.20" stroke="#222" stroke-width="0.7"/><text x="460.30" y="174.50">−20</text></g><text transform="translate(482.20 95.65) rotate(-90)" text-anchor="middle" font-family='"Liberation Serif", serif' font-size="8.7" fill="#111">Annual Trend (%/yr)</text><linearGradient id="gB" x1="0" y1="0" x2="0" y2="1"><stop offset="0.000" stop-color="#67001f"/><stop offset="0.100" stop-color="#b2182b"/><stop offset="0.200" stop-color="#d6604d"/><stop offset="0.300" stop-color="#f4a582"/><stop offset="0.400" stop-color="#fddbc7"/><stop offset="0.500" stop-color="#f7f7f7"/><stop offset="0.600" stop-color="#d1e5f0"/><stop offset="0.700" stop-color="#92c5de"/><stop offset="0.800" stop-color="#4393c3"/><stop offset="0.900" stop-color="#2166ac"/><stop offset="1.000" stop-color="#053061"/></linearGradient><rect x="448.20" y="209.20" width="8.20" height="150.20" fill="url(#gB)" stroke="#222" stroke-width="0.7"/><g font-family='"Liberation Serif", serif' font-size="9.1" fill="#111"><line x1="456.40" y1="209.20" x2="459.00" y2="209.20" stroke="#222" stroke-width="0.7"/><text x="461.00" y="212.50">15</text><line x1="456.40" y1="234.23" x2="459.00" y2="234.23" stroke="#222" stroke-width="0.7"/><text x="461.00" y="237.53">10</text><line x1="456.40" y1="259.27" x2="459.00" y2="259.27" stroke="#222" stroke-width="0.7"/><text x="461.00" y="262.57">5</text><line x1="456.40" y1="284.30" x2="459.00" y2="284.30" stroke="#222" stroke-width="0.7"/><text x="461.00" y="287.60">0</text><line x1="456.40" y1="309.33" x2="459.00" y2="309.33" stroke="#222" stroke-width="0.7"/><text x="461.00" y="312.63">−5</text><line x1="456.40" y1="334.37" x2="459.00" y2="334.37" stroke="#222" stroke-width="0.7"/><text x="461.00" y="337.67">−10</text><line x1="456.40" y1="359.40" x2="459.00" y2="359.40" stroke="#222" stroke-width="0.7"/><text x="461.00" y="362.70">−15</text></g><text transform="translate(482.90 284.30) rotate(-90)" text-anchor="middle" font-family='"Liberation Serif", serif' font-size="8.7" fill="#111">Annual Trend (%/yr)</text><g font-family='"Liberation Serif", serif' font-size="10" fill="#111"><text x="5" y="12.6">A</text><text x="5.5" y="203.6">B</text><text x="5.5" y="388.2">C</text></g><g font-family='"Liberation Serif", serif'><clipPath id="cc0"><rect x="26.30" y="396.50" width="80.10" height="81.10"/></clipPath><rect x="26.30" y="396.50" width="80.10" height="81.10" fill="#fff"/><g clip-path="url(#cc0)"><path d="M30.20 448.77L32.63 448.26L35.05 447.70L37.48 447.11L39.91 446.47L42.33 445.78L44.76 445.05L47.19 444.28L49.61 443.47L52.04 442.61L54.47 441.71L56.89 440.77L59.32 439.78L61.75 438.75L64.17 437.67L66.60 436.55L69.03 435.39L71.45 434.18L73.88 432.94L76.31 431.64L78.73 430.31L81.16 428.93L83.59 427.51L86.01 426.04L88.44 424.53L90.87 422.98L93.29 421.38L95.72 419.74L98.15 418.06L100.57 416.33L103.00 414.56L103.00 445.59L100.57 445.56L98.15 445.62L95.72 445.78L93.29 446.03L90.87 446.38L88.44 446.82L86.01 447.36L83.59 448.00L81.16 448.73L78.73 449.56L76.31 450.48L73.88 451.50L71.45 452.61L69.03 453.82L66.60 455.12L64.17 456.52L61.75 458.02L59.32 459.61L56.89 461.29L54.47 463.08L52.04 464.95L49.61 466.93L47.19 469.00L44.76 471.16L42.33 473.42L39.91 475.77L37.48 478.23L35.05 480.77L32.63 483.41L30.20 486.15Z" fill="#1f77b4" fill-opacity="0.22"/><path d="M30.20 456.83L36.27 464.16L42.33 463.43L48.40 455.61L54.47 467.83L60.53 457.56L66.60 448.28L72.67 454.39L78.73 430.44L84.80 431.18L90.87 454.39L96.93 405.52L103.00 448.77" fill="none" stroke="#1f77b4" stroke-opacity="0.45" stroke-width="1.00"/><circle cx="30.20" cy="456.83" r="2.10" fill="#1f77b4" fill-opacity="0.38"/><circle cx="36.27" cy="464.16" r="2.10" fill="#1f77b4" fill-opacity="0.38"/><circle cx="42.33" cy="463.43" r="2.10" fill="#1f77b4" fill-opacity="0.38"/><circle cx="48.40" cy="455.61" r="2.10" fill="#1f77b4" fill-opacity="0.38"/><circle cx="54.47" cy="467.83" r="2.10" fill="#1f77b4" fill-opacity="0.38"/><circle cx="60.53" cy="457.56" r="2.10" fill="#1f77b4" fill-opacity="0.38"/><circle cx="66.60" cy="448.28" r="2.10" fill="#1f77b4" fill-opacity="0.38"/><circle cx="72.67" cy="454.39" r="2.10" fill="#1f77b4" fill-opacity="0.38"/><circle cx="78.73" cy="430.44" r="2.10" fill="#1f77b4" fill-opacity="0.38"/><circle cx="84.80" cy="431.18" r="2.10" fill="#1f77b4" fill-opacity="0.38"/><circle cx="90.87" cy="454.39" r="2.10" fill="#1f77b4" fill-opacity="0.38"/><circle cx="96.93" cy="405.52" r="2.10" fill="#1f77b4" fill-opacity="0.38"/><circle cx="103.00" cy="448.77" r="2.10" fill="#1f77b4" fill-opacity="0.38"/><line x1="30.20" y1="465.87" x2="103.00" y2="430.20" stroke="#1f77b4" stroke-width="1.30" stroke-dasharray="3.6 2.2"/><path d="M30.20 460.50L36.27 461.72L42.33 461.23L48.40 462.45L54.47 459.28L60.53 456.34L66.60 452.43L72.67 444.62L78.73 438.51L84.80 438.51L90.87 429.96L96.93 435.57L103.00 426.29" fill="none" stroke="#1f77b4" stroke-width="1.50"/><circle cx="30.20" cy="460.50" r="2.30" fill="#1f77b4"/><circle cx="36.27" cy="461.72" r="2.30" fill="#1f77b4"/><circle cx="42.33" cy="461.23" r="2.30" fill="#1f77b4"/><circle cx="48.40" cy="462.45" r="2.30" fill="#1f77b4"/><circle cx="54.47" cy="459.28" r="2.30" fill="#1f77b4"/><circle cx="60.53" cy="456.34" r="2.30" fill="#1f77b4"/><circle cx="66.60" cy="452.43" r="2.30" fill="#1f77b4"/><circle cx="72.67" cy="444.62" r="2.30" fill="#1f77b4"/><circle cx="78.73" cy="438.51" r="2.30" fill="#1f77b4"/><circle cx="84.80" cy="438.51" r="2.30" fill="#1f77b4"/><circle cx="90.87" cy="429.96" r="2.30" fill="#1f77b4"/><circle cx="96.93" cy="435.57" r="2.30" fill="#1f77b4"/><circle cx="103.00" cy="426.29" r="2.30" fill="#1f77b4"/></g><rect x="28.20" y="397.80" width="77.80" height="11.10" rx="1.6" fill="#fff" stroke="#222" stroke-width="0.8"/><text x="67.10" y="405.70" font-size="7.30" fill="#1f77b4" text-anchor="middle" textLength="73.90" lengthAdjust="spacingAndGlyphs">Rate: 10.22%/yr (p&lt;0.01)</text><rect x="26.30" y="396.50" width="80.10" height="81.10" fill="none" stroke="#222" stroke-width="0.80"/><g fill="#111"><line x1="23.30" y1="477.60" x2="26.30" y2="477.60" stroke="#222" stroke-width="0.8"/><text x="22.10" y="480.50" text-anchor="end" font-size="7.50">0</text><line x1="23.30" y1="453.17" x2="26.30" y2="453.17" stroke="#222" stroke-width="0.8"/><text x="22.10" y="456.07" text-anchor="end" font-size="7.50">1</text><line x1="23.30" y1="428.73" x2="26.30" y2="428.73" stroke="#222" stroke-width="0.8"/><text x="22.10" y="431.63" text-anchor="end" font-size="7.50">2</text><line x1="23.30" y1="404.30" x2="26.30" y2="404.30" stroke="#222" stroke-width="0.8"/><text x="22.10" y="407.20" text-anchor="end" font-size="7.50">3</text><line x1="30.20" y1="477.60" x2="30.20" y2="480.60" stroke="#222" stroke-width="0.8"/><text transform="translate(29.90 490.50) rotate(-45)" text-anchor="middle" dy="0.34em" font-size="7.50">2012</text><line x1="42.33" y1="477.60" x2="42.33" y2="480.60" stroke="#222" stroke-width="0.8"/><text transform="translate(42.03 490.50) rotate(-45)" text-anchor="middle" dy="0.34em" font-size="7.50">2014</text><line x1="54.47" y1="477.60" x2="54.47" y2="480.60" stroke="#222" stroke-width="0.8"/><text transform="translate(54.17 490.50) rotate(-45)" text-anchor="middle" dy="0.34em" font-size="7.50">2016</text><line x1="66.60" y1="477.60" x2="66.60" y2="480.60" stroke="#222" stroke-width="0.8"/><text transform="translate(66.30 490.50) rotate(-45)" text-anchor="middle" dy="0.34em" font-size="7.50">2018</text><line x1="78.73" y1="477.60" x2="78.73" y2="480.60" stroke="#222" stroke-width="0.8"/><text transform="translate(78.43 490.50) rotate(-45)" text-anchor="middle" dy="0.34em" font-size="7.50">2020</text><line x1="90.87" y1="477.60" x2="90.87" y2="480.60" stroke="#222" stroke-width="0.8"/><text transform="translate(90.57 490.50) rotate(-45)" text-anchor="middle" dy="0.34em" font-size="7.50">2022</text><line x1="103.00" y1="477.60" x2="103.00" y2="480.60" stroke="#222" stroke-width="0.8"/><text transform="translate(102.70 490.50) rotate(-45)" text-anchor="middle" dy="0.34em" font-size="7.50">2024</text></g><text x="66.35" y="392.00" text-anchor="middle" font-size="7.50" fill="#111">ENF</text><text x="26.30" y="394.00" font-size="7.20" fill="#1a1a1a">×10<tspan dy="-3.24" font-size="5.04">5</tspan></text><clipPath id="cc1"><rect x="126.70" y="396.50" width="80.20" height="80.90"/></clipPath><rect x="126.70" y="396.50" width="80.20" height="80.90" fill="#fff"/><g clip-path="url(#cc1)"><path d="M130.60 440.29L133.02 439.87L135.44 439.42L137.86 438.93L140.28 438.41L142.70 437.85L145.12 437.25L147.54 436.62L149.96 435.95L152.38 435.25L154.80 434.51L157.22 433.74L159.64 432.92L162.06 432.08L164.48 431.19L166.90 430.27L169.32 429.31L171.74 428.32L174.16 427.29L176.58 426.23L179.00 425.13L181.42 423.99L183.84 422.82L186.26 421.61L188.68 420.37L191.10 419.09L193.52 417.77L195.94 416.42L198.36 415.03L200.78 413.61L203.20 412.14L203.20 444.10L200.78 444.57L198.36 445.06L195.94 445.59L193.52 446.16L191.10 446.75L188.68 447.39L186.26 448.05L183.84 448.75L181.42 449.48L179.00 450.25L176.58 451.05L174.16 451.89L171.74 452.76L169.32 453.66L166.90 454.60L164.48 455.57L162.06 456.57L159.64 457.61L157.22 458.69L154.80 459.79L152.38 460.93L149.96 462.11L147.54 463.32L145.12 464.56L142.70 465.83L140.28 467.14L137.86 468.49L135.44 469.87L133.02 471.28L130.60 472.72Z" fill="#ff7f0e" fill-opacity="0.25"/><path d="M130.60 458.41L136.65 459.85L142.70 448.87L148.75 429.79L154.80 445.54L160.85 456.51L166.90 459.85L172.95 423.12L179.00 430.75L185.05 452.69L191.10 446.97L197.15 432.66L203.20 407.38" fill="none" stroke="#ff7f0e" stroke-opacity="0.45" stroke-width="1.00"/><circle cx="130.60" cy="458.41" r="2.10" fill="#ff7f0e" fill-opacity="0.38"/><circle cx="136.65" cy="459.85" r="2.10" fill="#ff7f0e" fill-opacity="0.38"/><circle cx="142.70" cy="448.87" r="2.10" fill="#ff7f0e" fill-opacity="0.38"/><circle cx="148.75" cy="429.79" r="2.10" fill="#ff7f0e" fill-opacity="0.38"/><circle cx="154.80" cy="445.54" r="2.10" fill="#ff7f0e" fill-opacity="0.38"/><circle cx="160.85" cy="456.51" r="2.10" fill="#ff7f0e" fill-opacity="0.38"/><circle cx="166.90" cy="459.85" r="2.10" fill="#ff7f0e" fill-opacity="0.38"/><circle cx="172.95" cy="423.12" r="2.10" fill="#ff7f0e" fill-opacity="0.38"/><circle cx="179.00" cy="430.75" r="2.10" fill="#ff7f0e" fill-opacity="0.38"/><circle cx="185.05" cy="452.69" r="2.10" fill="#ff7f0e" fill-opacity="0.38"/><circle cx="191.10" cy="446.97" r="2.10" fill="#ff7f0e" fill-opacity="0.38"/><circle cx="197.15" cy="432.66" r="2.10" fill="#ff7f0e" fill-opacity="0.38"/><circle cx="203.20" cy="407.38" r="2.10" fill="#ff7f0e" fill-opacity="0.38"/><line x1="135.44" y1="452.69" x2="203.20" y2="426.93" stroke="#ff7f0e" stroke-width="1.30" stroke-dasharray="3.6 2.2"/><path d="M130.60 458.41L136.65 456.03L142.70 446.49L148.75 441.24L154.80 443.63L160.85 453.64L166.90 446.49L172.95 437.90L179.00 435.52L185.05 443.63L191.10 444.10L197.15 428.84L203.20 419.30" fill="none" stroke="#ff7f0e" stroke-width="1.50"/><circle cx="130.60" cy="458.41" r="2.30" fill="#ff7f0e"/><circle cx="136.65" cy="456.03" r="2.30" fill="#ff7f0e"/><circle cx="142.70" cy="446.49" r="2.30" fill="#ff7f0e"/><circle cx="148.75" cy="441.24" r="2.30" fill="#ff7f0e"/><circle cx="154.80" cy="443.63" r="2.30" fill="#ff7f0e"/><circle cx="160.85" cy="453.64" r="2.30" fill="#ff7f0e"/><circle cx="166.90" cy="446.49" r="2.30" fill="#ff7f0e"/><circle cx="172.95" cy="437.90" r="2.30" fill="#ff7f0e"/><circle cx="179.00" cy="435.52" r="2.30" fill="#ff7f0e"/><circle cx="185.05" cy="443.63" r="2.30" fill="#ff7f0e"/><circle cx="191.10" cy="444.10" r="2.30" fill="#ff7f0e"/><circle cx="197.15" cy="428.84" r="2.30" fill="#ff7f0e"/><circle cx="203.20" cy="419.30" r="2.30" fill="#ff7f0e"/></g><rect x="128.30" y="397.80" width="74.50" height="11.10" rx="1.6" fill="#fff" stroke="#222" stroke-width="0.8"/><text x="165.55" y="405.70" font-size="7.30" fill="#ff7f0e" text-anchor="middle" textLength="70.40" lengthAdjust="spacingAndGlyphs">Rate: 3.29%/yr (p&lt;0.05)</text><rect x="126.70" y="396.50" width="80.20" height="80.90" fill="none" stroke="#222" stroke-width="0.80"/><g fill="#111"><line x1="123.70" y1="467.00" x2="126.70" y2="467.00" stroke="#222" stroke-width="0.8"/><text x="122.50" y="469.90" text-anchor="end" font-size="7.50">1.0</text><line x1="123.70" y1="443.15" x2="126.70" y2="443.15" stroke="#222" stroke-width="0.8"/><text x="122.50" y="446.05" text-anchor="end" font-size="7.50">1.5</text><line x1="123.70" y1="419.30" x2="126.70" y2="419.30" stroke="#222" stroke-width="0.8"/><text x="122.50" y="422.20" text-anchor="end" font-size="7.50">2.0</text><line x1="130.60" y1="477.40" x2="130.60" y2="480.40" stroke="#222" stroke-width="0.8"/><text transform="translate(130.30 490.30) rotate(-45)" text-anchor="middle" dy="0.34em" font-size="7.50">2012</text><line x1="142.70" y1="477.40" x2="142.70" y2="480.40" stroke="#222" stroke-width="0.8"/><text transform="translate(142.40 490.30) rotate(-45)" text-anchor="middle" dy="0.34em" font-size="7.50">2014</text><line x1="154.80" y1="477.40" x2="154.80" y2="480.40" stroke="#222" stroke-width="0.8"/><text transform="translate(154.50 490.30) rotate(-45)" text-anchor="middle" dy="0.34em" font-size="7.50">2016</text><line x1="166.90" y1="477.40" x2="166.90" y2="480.40" stroke="#222" stroke-width="0.8"/><text transform="translate(166.60 490.30) rotate(-45)" text-anchor="middle" dy="0.34em" font-size="7.50">2018</text><line x1="179.00" y1="477.40" x2="179.00" y2="480.40" stroke="#222" stroke-width="0.8"/><text transform="translate(178.70 490.30) rotate(-45)" text-anchor="middle" dy="0.34em" font-size="7.50">2020</text><line x1="191.10" y1="477.40" x2="191.10" y2="480.40" stroke="#222" stroke-width="0.8"/><text transform="translate(190.80 490.30) rotate(-45)" text-anchor="middle" dy="0.34em" font-size="7.50">2022</text><line x1="203.20" y1="477.40" x2="203.20" y2="480.40" stroke="#222" stroke-width="0.8"/><text transform="translate(202.90 490.30) rotate(-45)" text-anchor="middle" dy="0.34em" font-size="7.50">2024</text></g><text x="166.80" y="392.00" text-anchor="middle" font-size="7.50" fill="#111">EBF</text><text x="126.70" y="394.00" font-size="7.20" fill="#1a1a1a">×10<tspan dy="-3.24" font-size="5.04">6</tspan></text><clipPath id="cc2"><rect x="226.70" y="396.50" width="79.90" height="80.90"/></clipPath><rect x="226.70" y="396.50" width="79.90" height="80.90" fill="#fff"/><g clip-path="url(#cc2)"><path d="M230.60 429.86L233.02 429.80L235.44 429.69L237.86 429.54L240.28 429.36L242.70 429.13L245.12 428.86L247.54 428.55L249.96 428.19L252.38 427.80L254.80 427.37L257.22 426.89L259.64 426.38L262.06 425.82L264.48 425.22L266.90 424.58L269.32 423.90L271.74 423.18L274.16 422.42L276.58 421.61L279.00 420.77L281.42 419.88L283.84 418.95L286.26 417.99L288.68 416.98L291.10 415.93L293.52 414.84L295.94 413.70L298.36 412.53L300.78 411.32L303.20 410.06L303.20 443.72L300.78 443.03L298.36 442.46L295.94 442.00L293.52 441.67L291.10 441.45L288.68 441.34L286.26 441.36L283.84 441.49L281.42 441.74L279.00 442.11L276.58 442.59L274.16 443.19L271.74 443.91L269.32 444.75L266.90 445.70L264.48 446.77L262.06 447.96L259.64 449.26L257.22 450.69L254.80 452.23L252.38 453.88L249.96 455.66L247.54 457.55L245.12 459.56L242.70 461.69L240.28 463.93L237.86 466.29L235.44 468.77L233.02 471.37L230.60 474.08Z" fill="#2ca02c" fill-opacity="0.22"/><path d="M230.60 435.80L236.65 475.40L242.70 450.98L248.75 431.84L254.80 420.62L260.85 447.02L266.90 456.26L272.95 429.86L279.00 454.94L285.05 431.18L291.10 464.18L297.15 412.70L303.20 409.40" fill="none" stroke="#2ca02c" stroke-opacity="0.45" stroke-width="1.00"/><circle cx="230.60" cy="435.80" r="2.10" fill="#2ca02c" fill-opacity="0.38"/><circle cx="236.65" cy="475.40" r="2.10" fill="#2ca02c" fill-opacity="0.38"/><circle cx="242.70" cy="450.98" r="2.10" fill="#2ca02c" fill-opacity="0.38"/><circle cx="248.75" cy="431.84" r="2.10" fill="#2ca02c" fill-opacity="0.38"/><circle cx="254.80" cy="420.62" r="2.10" fill="#2ca02c" fill-opacity="0.38"/><circle cx="260.85" cy="447.02" r="2.10" fill="#2ca02c" fill-opacity="0.38"/><circle cx="266.90" cy="456.26" r="2.10" fill="#2ca02c" fill-opacity="0.38"/><circle cx="272.95" cy="429.86" r="2.10" fill="#2ca02c" fill-opacity="0.38"/><circle cx="279.00" cy="454.94" r="2.10" fill="#2ca02c" fill-opacity="0.38"/><circle cx="285.05" cy="431.18" r="2.10" fill="#2ca02c" fill-opacity="0.38"/><circle cx="291.10" cy="464.18" r="2.10" fill="#2ca02c" fill-opacity="0.38"/><circle cx="297.15" cy="412.70" r="2.10" fill="#2ca02c" fill-opacity="0.38"/><circle cx="303.20" cy="409.40" r="2.10" fill="#2ca02c" fill-opacity="0.38"/><line x1="230.60" y1="452.30" x2="303.20" y2="427.22" stroke="#2ca02c" stroke-width="1.30" stroke-dasharray="3.6 2.2"/><path d="M230.60 455.60L236.65 454.94L242.70 452.96L248.75 435.14L254.80 433.16L260.85 441.08L266.90 444.38L272.95 447.02L279.00 439.10L285.05 449.66L291.10 435.80L297.15 429.20L303.20 411.38" fill="none" stroke="#2ca02c" stroke-width="1.50"/><circle cx="230.60" cy="455.60" r="2.30" fill="#2ca02c"/><circle cx="236.65" cy="454.94" r="2.30" fill="#2ca02c"/><circle cx="242.70" cy="452.96" r="2.30" fill="#2ca02c"/><circle cx="248.75" cy="435.14" r="2.30" fill="#2ca02c"/><circle cx="254.80" cy="433.16" r="2.30" fill="#2ca02c"/><circle cx="260.85" cy="441.08" r="2.30" fill="#2ca02c"/><circle cx="266.90" cy="444.38" r="2.30" fill="#2ca02c"/><circle cx="272.95" cy="447.02" r="2.30" fill="#2ca02c"/><circle cx="279.00" cy="439.10" r="2.30" fill="#2ca02c"/><circle cx="285.05" cy="449.66" r="2.30" fill="#2ca02c"/><circle cx="291.10" cy="435.80" r="2.30" fill="#2ca02c"/><circle cx="297.15" cy="429.20" r="2.30" fill="#2ca02c"/><circle cx="303.20" cy="411.38" r="2.30" fill="#2ca02c"/></g><rect x="228.30" y="397.80" width="74.80" height="11.10" rx="1.6" fill="#fff" stroke="#222" stroke-width="0.8"/><text x="265.70" y="405.70" font-size="7.30" fill="#2ca02c" text-anchor="middle" textLength="69.20" lengthAdjust="spacingAndGlyphs">Rate: 3.74%/yr (p&gt;0.05)</text><rect x="226.70" y="396.50" width="79.90" height="80.90" fill="none" stroke="#222" stroke-width="0.80"/><g fill="#111"><line x1="223.70" y1="465.50" x2="226.70" y2="465.50" stroke="#222" stroke-width="0.8"/><text x="222.50" y="468.40" text-anchor="end" font-size="7.50">0.50</text><line x1="223.70" y1="449.00" x2="226.70" y2="449.00" stroke="#222" stroke-width="0.8"/><text x="222.50" y="451.90" text-anchor="end" font-size="7.50">0.75</text><line x1="223.70" y1="432.50" x2="226.70" y2="432.50" stroke="#222" stroke-width="0.8"/><text x="222.50" y="435.40" text-anchor="end" font-size="7.50">1.00</text><line x1="223.70" y1="416.00" x2="226.70" y2="416.00" stroke="#222" stroke-width="0.8"/><text x="222.50" y="418.90" text-anchor="end" font-size="7.50">1.25</text><line x1="223.70" y1="399.50" x2="226.70" y2="399.50" stroke="#222" stroke-width="0.8"/><text x="222.50" y="402.40" text-anchor="end" font-size="7.50">1.50</text><line x1="230.60" y1="477.40" x2="230.60" y2="480.40" stroke="#222" stroke-width="0.8"/><text transform="translate(230.30 490.30) rotate(-45)" text-anchor="middle" dy="0.34em" font-size="7.50">2012</text><line x1="242.70" y1="477.40" x2="242.70" y2="480.40" stroke="#222" stroke-width="0.8"/><text transform="translate(242.40 490.30) rotate(-45)" text-anchor="middle" dy="0.34em" font-size="7.50">2014</text><line x1="254.80" y1="477.40" x2="254.80" y2="480.40" stroke="#222" stroke-width="0.8"/><text transform="translate(254.50 490.30) rotate(-45)" text-anchor="middle" dy="0.34em" font-size="7.50">2016</text><line x1="266.90" y1="477.40" x2="266.90" y2="480.40" stroke="#222" stroke-width="0.8"/><text transform="translate(266.60 490.30) rotate(-45)" text-anchor="middle" dy="0.34em" font-size="7.50">2018</text><line x1="279.00" y1="477.40" x2="279.00" y2="480.40" stroke="#222" stroke-width="0.8"/><text transform="translate(278.70 490.30) rotate(-45)" text-anchor="middle" dy="0.34em" font-size="7.50">2020</text><line x1="291.10" y1="477.40" x2="291.10" y2="480.40" stroke="#222" stroke-width="0.8"/><text transform="translate(290.80 490.30) rotate(-45)" text-anchor="middle" dy="0.34em" font-size="7.50">2022</text><line x1="303.20" y1="477.40" x2="303.20" y2="480.40" stroke="#222" stroke-width="0.8"/><text transform="translate(302.90 490.30) rotate(-45)" text-anchor="middle" dy="0.34em" font-size="7.50">2024</text></g><text x="266.65" y="392.00" text-anchor="middle" font-size="7.50" fill="#111">DNF</text><text x="226.70" y="394.00" font-size="7.20" fill="#1a1a1a">×10<tspan dy="-3.24" font-size="5.04">4</tspan></text><clipPath id="cc3"><rect x="319.50" y="396.50" width="80.60" height="80.90"/></clipPath><rect x="319.50" y="396.50" width="80.60" height="80.90" fill="#fff"/><g clip-path="url(#cc3)"><path d="M323.60 445.80L326.01 445.50L328.43 445.16L330.84 444.79L333.25 444.39L335.67 443.95L338.08 443.48L340.49 442.98L342.91 442.44L345.32 441.87L347.73 441.27L350.15 440.63L352.56 439.96L354.97 439.25L357.39 438.51L359.80 437.74L362.21 436.93L364.63 436.09L367.04 435.22L369.45 434.31L371.87 433.37L374.28 432.39L376.69 431.38L379.11 430.34L381.52 429.26L383.93 428.15L386.35 427.01L388.76 425.83L391.17 424.62L393.59 423.38L396.00 422.10L396.00 445.01L393.59 445.43L391.17 445.89L388.76 446.37L386.35 446.89L383.93 447.45L381.52 448.04L379.11 448.66L376.69 449.31L374.28 449.99L371.87 450.71L369.45 451.47L367.04 452.25L364.63 453.07L362.21 453.92L359.80 454.80L357.39 455.72L354.97 456.67L352.56 457.65L350.15 458.67L347.73 459.72L345.32 460.80L342.91 461.92L340.49 463.06L338.08 464.25L335.67 465.46L333.25 466.71L330.84 467.99L328.43 469.30L326.01 470.65L323.60 472.03Z" fill="#d62728" fill-opacity="0.22"/><path d="M323.60 455.12L329.63 455.12L335.67 455.12L341.70 455.12L347.73 451.96L353.77 452.75L359.80 453.54L365.83 432.21L371.87 445.64L377.90 436.95L383.93 449.59L389.97 451.96L396.00 407.72" fill="none" stroke="#d62728" stroke-opacity="0.45" stroke-width="1.00"/><circle cx="323.60" cy="455.12" r="2.10" fill="#d62728" fill-opacity="0.38"/><circle cx="329.63" cy="455.12" r="2.10" fill="#d62728" fill-opacity="0.38"/><circle cx="335.67" cy="455.12" r="2.10" fill="#d62728" fill-opacity="0.38"/><circle cx="341.70" cy="455.12" r="2.10" fill="#d62728" fill-opacity="0.38"/><circle cx="347.73" cy="451.96" r="2.10" fill="#d62728" fill-opacity="0.38"/><circle cx="353.77" cy="452.75" r="2.10" fill="#d62728" fill-opacity="0.38"/><circle cx="359.80" cy="453.54" r="2.10" fill="#d62728" fill-opacity="0.38"/><circle cx="365.83" cy="432.21" r="2.10" fill="#d62728" fill-opacity="0.38"/><circle cx="371.87" cy="445.64" r="2.10" fill="#d62728" fill-opacity="0.38"/><circle cx="377.90" cy="436.95" r="2.10" fill="#d62728" fill-opacity="0.38"/><circle cx="383.93" cy="449.59" r="2.10" fill="#d62728" fill-opacity="0.38"/><circle cx="389.97" cy="451.96" r="2.10" fill="#d62728" fill-opacity="0.38"/><circle cx="396.00" cy="407.72" r="2.10" fill="#d62728" fill-opacity="0.38"/><line x1="323.60" y1="458.91" x2="396.00" y2="433.00" stroke="#d62728" stroke-width="1.30" stroke-dasharray="3.6 2.2"/><path d="M323.60 455.12L329.63 455.12L335.67 455.12L341.70 454.33L347.73 451.96L353.77 451.17L359.80 445.64L365.83 444.06L371.87 438.53L377.90 444.06L383.93 446.43L389.97 436.16L396.00 429.84" fill="none" stroke="#d62728" stroke-width="1.50"/><circle cx="323.60" cy="455.12" r="2.30" fill="#d62728"/><circle cx="329.63" cy="455.12" r="2.30" fill="#d62728"/><circle cx="335.67" cy="455.12" r="2.30" fill="#d62728"/><circle cx="341.70" cy="454.33" r="2.30" fill="#d62728"/><circle cx="347.73" cy="451.96" r="2.30" fill="#d62728"/><circle cx="353.77" cy="451.17" r="2.30" fill="#d62728"/><circle cx="359.80" cy="445.64" r="2.30" fill="#d62728"/><circle cx="365.83" cy="444.06" r="2.30" fill="#d62728"/><circle cx="371.87" cy="438.53" r="2.30" fill="#d62728"/><circle cx="377.90" cy="444.06" r="2.30" fill="#d62728"/><circle cx="383.93" cy="446.43" r="2.30" fill="#d62728"/><circle cx="389.97" cy="436.16" r="2.30" fill="#d62728"/><circle cx="396.00" cy="429.84" r="2.30" fill="#d62728"/></g><rect x="321.30" y="397.80" width="74.60" height="11.10" rx="1.6" fill="#fff" stroke="#222" stroke-width="0.8"/><text x="358.60" y="405.70" font-size="7.30" fill="#d62728" text-anchor="middle" textLength="70.40" lengthAdjust="spacingAndGlyphs">Rate: 2.53%/yr (p&lt;0.05)</text><rect x="319.50" y="396.50" width="80.60" height="80.90" fill="none" stroke="#222" stroke-width="0.80"/><g fill="#111"><line x1="316.50" y1="464.60" x2="319.50" y2="464.60" stroke="#222" stroke-width="0.8"/><text x="315.30" y="467.50" text-anchor="end" font-size="7.50">4</text><line x1="316.50" y1="433.00" x2="319.50" y2="433.00" stroke="#222" stroke-width="0.8"/><text x="315.30" y="435.90" text-anchor="end" font-size="7.50">6</text><line x1="316.50" y1="401.40" x2="319.50" y2="401.40" stroke="#222" stroke-width="0.8"/><text x="315.30" y="404.30" text-anchor="end" font-size="7.50">8</text><line x1="323.60" y1="477.40" x2="323.60" y2="480.40" stroke="#222" stroke-width="0.8"/><text transform="translate(323.30 490.30) rotate(-45)" text-anchor="middle" dy="0.34em" font-size="7.50">2012</text><line x1="335.67" y1="477.40" x2="335.67" y2="480.40" stroke="#222" stroke-width="0.8"/><text transform="translate(335.37 490.30) rotate(-45)" text-anchor="middle" dy="0.34em" font-size="7.50">2014</text><line x1="347.73" y1="477.40" x2="347.73" y2="480.40" stroke="#222" stroke-width="0.8"/><text transform="translate(347.43 490.30) rotate(-45)" text-anchor="middle" dy="0.34em" font-size="7.50">2016</text><line x1="359.80" y1="477.40" x2="359.80" y2="480.40" stroke="#222" stroke-width="0.8"/><text transform="translate(359.50 490.30) rotate(-45)" text-anchor="middle" dy="0.34em" font-size="7.50">2018</text><line x1="371.87" y1="477.40" x2="371.87" y2="480.40" stroke="#222" stroke-width="0.8"/><text transform="translate(371.57 490.30) rotate(-45)" text-anchor="middle" dy="0.34em" font-size="7.50">2020</text><line x1="383.93" y1="477.40" x2="383.93" y2="480.40" stroke="#222" stroke-width="0.8"/><text transform="translate(383.63 490.30) rotate(-45)" text-anchor="middle" dy="0.34em" font-size="7.50">2022</text><line x1="396.00" y1="477.40" x2="396.00" y2="480.40" stroke="#222" stroke-width="0.8"/><text transform="translate(395.70 490.30) rotate(-45)" text-anchor="middle" dy="0.34em" font-size="7.50">2024</text></g><text x="359.80" y="392.00" text-anchor="middle" font-size="7.50" fill="#111">DBF</text><text x="319.50" y="394.00" font-size="7.20" fill="#1a1a1a">×10<tspan dy="-3.24" font-size="5.04">5</tspan></text><clipPath id="cc4"><rect x="412.90" y="396.50" width="80.10" height="80.90"/></clipPath><rect x="412.90" y="396.50" width="80.10" height="80.90" fill="#fff"/><g clip-path="url(#cc4)"><path d="M416.50 417.47L418.93 418.83L421.35 420.13L423.78 421.35L426.21 422.50L428.63 423.58L431.06 424.59L433.49 425.52L435.91 426.38L438.34 427.17L440.77 427.89L443.19 428.54L445.62 429.12L448.05 429.62L450.47 430.05L452.90 430.41L455.33 430.70L457.75 430.91L460.18 431.06L462.61 431.13L465.03 431.13L467.46 431.06L469.89 430.91L472.31 430.70L474.74 430.41L477.17 430.05L479.59 429.62L482.02 429.12L484.45 428.54L486.87 427.89L489.30 427.17L489.30 467.94L486.87 466.17L484.45 464.51L482.02 462.94L479.59 461.47L477.17 460.10L474.74 458.83L472.31 457.65L469.89 456.57L467.46 455.59L465.03 454.71L462.61 453.92L460.18 453.24L457.75 452.65L455.33 452.15L452.90 451.76L450.47 451.46L448.05 451.27L445.62 451.16L443.19 451.16L440.77 451.26L438.34 451.45L435.91 451.74L433.49 452.13L431.06 452.61L428.63 453.20L426.21 453.88L423.78 454.66L421.35 455.54L418.93 456.51L416.50 457.58Z" fill="#9467bd" fill-opacity="0.25"/><path d="M416.50 422.00L422.57 452.73L428.63 433.00L434.70 446.91L440.77 425.88L446.83 456.61L452.90 458.23L458.97 428.14L465.03 455.64L471.10 441.41L477.17 466.96L483.23 411.32L489.30 457.58" fill="none" stroke="#9467bd" stroke-opacity="0.45" stroke-width="1.00"/><circle cx="416.50" cy="422.00" r="2.10" fill="#9467bd" fill-opacity="0.38"/><circle cx="422.57" cy="452.73" r="2.10" fill="#9467bd" fill-opacity="0.38"/><circle cx="428.63" cy="433.00" r="2.10" fill="#9467bd" fill-opacity="0.38"/><circle cx="434.70" cy="446.91" r="2.10" fill="#9467bd" fill-opacity="0.38"/><circle cx="440.77" cy="425.88" r="2.10" fill="#9467bd" fill-opacity="0.38"/><circle cx="446.83" cy="456.61" r="2.10" fill="#9467bd" fill-opacity="0.38"/><circle cx="452.90" cy="458.23" r="2.10" fill="#9467bd" fill-opacity="0.38"/><circle cx="458.97" cy="428.14" r="2.10" fill="#9467bd" fill-opacity="0.38"/><circle cx="465.03" cy="455.64" r="2.10" fill="#9467bd" fill-opacity="0.38"/><circle cx="471.10" cy="441.41" r="2.10" fill="#9467bd" fill-opacity="0.38"/><circle cx="477.17" cy="466.96" r="2.10" fill="#9467bd" fill-opacity="0.38"/><circle cx="483.23" cy="411.32" r="2.10" fill="#9467bd" fill-opacity="0.38"/><circle cx="489.30" cy="457.58" r="2.10" fill="#9467bd" fill-opacity="0.38"/><line x1="422.57" y1="438.82" x2="489.30" y2="446.91" stroke="#9467bd" stroke-width="1.30" stroke-dasharray="3.6 2.2"/><path d="M416.50 437.85L422.57 436.23L428.63 444.64L434.70 435.58L440.77 443.03L446.83 446.91L452.90 447.88L458.97 447.55L465.03 442.06L471.10 454.35L477.17 439.79L483.23 445.29L489.30 434.61" fill="none" stroke="#9467bd" stroke-width="1.50"/><circle cx="416.50" cy="437.85" r="2.30" fill="#9467bd"/><circle cx="422.57" cy="436.23" r="2.30" fill="#9467bd"/><circle cx="428.63" cy="444.64" r="2.30" fill="#9467bd"/><circle cx="434.70" cy="435.58" r="2.30" fill="#9467bd"/><circle cx="440.77" cy="443.03" r="2.30" fill="#9467bd"/><circle cx="446.83" cy="446.91" r="2.30" fill="#9467bd"/><circle cx="452.90" cy="447.88" r="2.30" fill="#9467bd"/><circle cx="458.97" cy="447.55" r="2.30" fill="#9467bd"/><circle cx="465.03" cy="442.06" r="2.30" fill="#9467bd"/><circle cx="471.10" cy="454.35" r="2.30" fill="#9467bd"/><circle cx="477.17" cy="439.79" r="2.30" fill="#9467bd"/><circle cx="483.23" cy="445.29" r="2.30" fill="#9467bd"/><circle cx="489.30" cy="434.61" r="2.30" fill="#9467bd"/></g><rect x="414.40" y="397.80" width="76.00" height="11.10" rx="1.6" fill="#fff" stroke="#222" stroke-width="0.8"/><text x="452.40" y="405.70" font-size="7.30" fill="#9467bd" text-anchor="middle" textLength="72.30" lengthAdjust="spacingAndGlyphs">Rate: -0.80%/yr (p&gt;0.05)</text><rect x="412.90" y="396.50" width="80.10" height="80.90" fill="none" stroke="#222" stroke-width="0.80"/><g fill="#111"><line x1="409.90" y1="464.70" x2="412.90" y2="464.70" stroke="#222" stroke-width="0.8"/><text x="408.70" y="467.60" text-anchor="end" font-size="7.50">3</text><line x1="409.90" y1="432.35" x2="412.90" y2="432.35" stroke="#222" stroke-width="0.8"/><text x="408.70" y="435.25" text-anchor="end" font-size="7.50">4</text><line x1="409.90" y1="400.00" x2="412.90" y2="400.00" stroke="#222" stroke-width="0.8"/><text x="408.70" y="402.90" text-anchor="end" font-size="7.50">5</text><line x1="416.50" y1="477.40" x2="416.50" y2="480.40" stroke="#222" stroke-width="0.8"/><text transform="translate(416.20 490.30) rotate(-45)" text-anchor="middle" dy="0.34em" font-size="7.50">2012</text><line x1="428.63" y1="477.40" x2="428.63" y2="480.40" stroke="#222" stroke-width="0.8"/><text transform="translate(428.33 490.30) rotate(-45)" text-anchor="middle" dy="0.34em" font-size="7.50">2014</text><line x1="440.77" y1="477.40" x2="440.77" y2="480.40" stroke="#222" stroke-width="0.8"/><text transform="translate(440.47 490.30) rotate(-45)" text-anchor="middle" dy="0.34em" font-size="7.50">2016</text><line x1="452.90" y1="477.40" x2="452.90" y2="480.40" stroke="#222" stroke-width="0.8"/><text transform="translate(452.60 490.30) rotate(-45)" text-anchor="middle" dy="0.34em" font-size="7.50">2018</text><line x1="465.03" y1="477.40" x2="465.03" y2="480.40" stroke="#222" stroke-width="0.8"/><text transform="translate(464.73 490.30) rotate(-45)" text-anchor="middle" dy="0.34em" font-size="7.50">2020</text><line x1="477.17" y1="477.40" x2="477.17" y2="480.40" stroke="#222" stroke-width="0.8"/><text transform="translate(476.87 490.30) rotate(-45)" text-anchor="middle" dy="0.34em" font-size="7.50">2022</text><line x1="489.30" y1="477.40" x2="489.30" y2="480.40" stroke="#222" stroke-width="0.8"/><text transform="translate(489.00 490.30) rotate(-45)" text-anchor="middle" dy="0.34em" font-size="7.50">2024</text></g><text x="452.95" y="392.00" text-anchor="middle" font-size="7.50" fill="#111">MF</text><text x="412.90" y="394.00" font-size="7.20" fill="#1a1a1a">×10<tspan dy="-3.24" font-size="5.04">5</tspan></text></g><text transform="translate(13.6 437) rotate(-90)" text-anchor="middle" font-family='"Liberation Serif", serif' font-size="7.35" fill="#111">Number of Fires</text></svg></body></html>
